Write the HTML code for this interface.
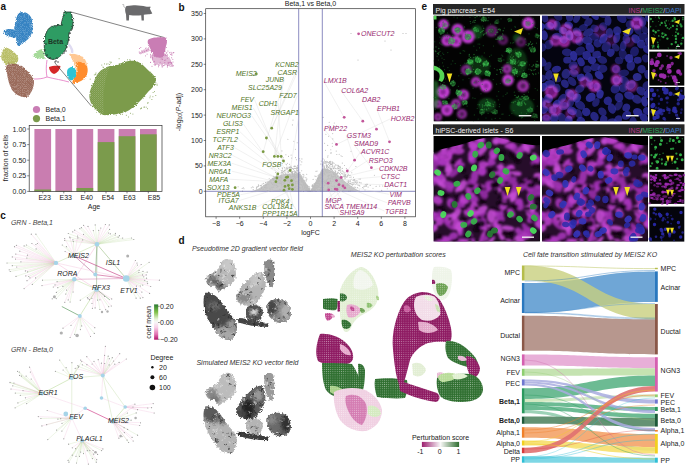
<!DOCTYPE html>
<html><head><meta charset="utf-8"><style>
html,body{margin:0;padding:0;background:#fff;}
svg{display:block;font-family:"Liberation Sans", sans-serif;}
</style></head><body>
<svg width="685" height="465" viewBox="0 0 685 465">
<text x="0.4" y="10.3" font-size="10" fill="#111" text-anchor="start" font-weight="bold" style="" >a</text>
<defs><filter id="rough" x="-10%" y="-10%" width="120%" height="120%"><feTurbulence type="fractalNoise" baseFrequency="0.9" numOctaves="2" seed="4" result="t"/><feDisplacementMap in="SourceGraphic" in2="t" scale="3" xChannelSelector="R" yChannelSelector="G"/></filter><pattern id="spk" width="2" height="2" patternUnits="userSpaceOnUse"><rect x="0" y="0" width="0.7" height="0.7" fill="#fff" opacity="0.35"/><rect x="1" y="1" width="0.6" height="0.6" fill="#fff" opacity="0.25"/></pattern></defs>
<g filter="url(#rough)">
<path d="M22,12 C27,12 31,15 32,20 C33,25 33,31 31,35 C29,39 26,41 23,43 C21,44 20,46 18.5,46.5 C17,45 16,41 15.5,38 C13,37.5 9,37 6,35 C4,34 3,32 4,30.5 C6,29 10,28.5 14,29.5 C14.5,26 15.5,20 17,16 C18.5,13.5 20,12 22,12 Z" fill="#2a7cbf" fill-opacity="0.95"/>
<path d="M5,47.5 C10,48 15,52 18,57 C19,61 17,64 13,65.5 C8,66 3,63 1.5,59 C0.5,55 2,50 5,47.5 Z" fill="#b3b95a" fill-opacity="0.92"/>
<path d="M7,64 C12,63 18,64 22,66 C27,70 32,75 34,81 C34,87 32,93 27,97 C22,98 16,95 12,90 C9,85 8,79 7,74 C6,70 6,67 7,64 Z" fill="#92604f" fill-opacity="0.92"/>
<path d="M32.5,56 C35,52 39,49.5 42,49 C44,52 45.5,56 44.5,59 C40,59.5 36,58 32.5,56 Z" fill="#96d488" fill-opacity="0.85"/>
<path d="M69,54 C74,53 80,55 84,58 C87,62 88.5,68 87,74 C85,79 79,82.5 72,83.5 C72,80 75,77 76,73 C77,67 73,61 69,54 Z" fill="#ff9a3c" fill-opacity="0.55"/>
<path d="M76,62 C80,61 85,63 87,67 C88.5,71 87,76 84,79 C80,82 76,83 72,83.5 C73,80 76,77 77,73 C78,69 77,65 76,62 Z" fill="#ff8620" fill-opacity="0.9"/>
<path d="M70,67.5 C73,66 76,68 76,72 C76,76 74,79.5 71,80.5 C68,79 67,75 67,72 C67,70 68,68 70,67.5 Z" fill="#22c0d2" fill-opacity="0.95"/>
<path d="M22,12 C27,12 31,15 32,20 C33,25 33,31 31,35 C29,39 26,41 23,43 C21,44 20,46 18.5,46.5 C17,45 16,41 15.5,38 C13,37.5 9,37 6,35 C4,34 3,32 4,30.5 C6,29 10,28.5 14,29.5 C14.5,26 15.5,20 17,16 C18.5,13.5 20,12 22,12 Z" fill="url(#spk)"/>
<path d="M5,47.5 C10,48 15,52 18,57 C19,61 17,64 13,65.5 C8,66 3,63 1.5,59 C0.5,55 2,50 5,47.5 Z" fill="url(#spk)"/>
<path d="M7,64 C12,63 18,64 22,66 C27,70 32,75 34,81 C34,87 32,93 27,97 C22,98 16,95 12,90 C9,85 8,79 7,74 C6,70 6,67 7,64 Z" fill="url(#spk)"/>
</g>
<path d="M49,67 C52,65.5 58,65.5 60.5,66 C60,70 57,73 54,74 C51,73 49,70 49,67 Z" fill="#d62728"/>
<path d="M47,60 C46,66 46,72 47,77 C42,79 38,79 34,79 M47,77 C55,79 62,80 69,82" stroke="#e377c2" stroke-width="1" fill="none" opacity="0.8"/>
<path d="M68.5,44 C71,47 73,50 72,53" stroke="#b8b0e0" stroke-width="2.5" fill="none" opacity="0.45"/>
<path d="M64,12 L71,12 C72.5,17 73.5,23 72.5,28 C71,30 69.5,31 69,33 C69,40 67.5,47 64,52 C61,56 57,59 53,59.5 C49,59 46,57 45,54 C44,48 44,42 45,37 C46,32 48,28 52,26.5 C55,25.5 58,25.5 61,25 C62,21 63,16 64,12 Z" fill="#2f9c64" stroke="#1d2e24" stroke-width="0.8" filter="url(#rough)"/>
<circle cx="45" cy="50" r="0.7" fill="#222"/>
<circle cx="47" cy="55" r="0.7" fill="#222"/>
<circle cx="50" cy="58" r="0.7" fill="#222"/>
<circle cx="64" cy="53" r="0.7" fill="#222"/>
<circle cx="67" cy="47" r="0.7" fill="#222"/>
<circle cx="69" cy="40" r="0.7" fill="#222"/>
<circle cx="70" cy="33" r="0.7" fill="#222"/>
<circle cx="72" cy="29" r="0.7" fill="#222"/>
<circle cx="62" cy="25" r="0.7" fill="#222"/>
<circle cx="56" cy="61" r="0.7" fill="#222"/>
<circle cx="58" cy="62" r="0.7" fill="#222"/>
<circle cx="46" cy="44" r="0.7" fill="#222"/>
<circle cx="66" cy="51" r="0.7" fill="#222"/>
<circle cx="55" cy="62" r="0.7" fill="#222"/>
<text x="55.5" y="43.5" font-size="7" fill="#1d3526" text-anchor="middle" font-weight="bold" style="" >Beta</text>
<line x1="71" y1="12" x2="164.5" y2="37.6" stroke="#333" stroke-width="0.6"/>
<line x1="55" y1="63" x2="91.3" y2="106" stroke="#333" stroke-width="0.6"/>
<path d="M126.8,6.1 C130,5.4 133,5.2 135.5,5.2 C139,5.3 143,5.8 145.5,6.5 C147,6.8 148.5,7 150.2,6.6 L150.6,7.2 L149.8,8.5 C150.5,10 151.5,12 152.3,13.6 C151,14.4 149.5,14.4 148.3,14.3 C146.5,14.5 145,14.6 143.8,14.8 L143.9,20.4 L141.6,20.4 L141.2,15.3 C138,15.7 133,15.7 129.2,14.9 L128.9,20.4 L126.4,20.4 L126,14.2 C125.2,12.5 125,10 125.2,8.5 C125.6,7.2 126,6.5 126.8,6.1 Z" fill="#6a6a6c"/>
<path d="M125.4,8.2 C124.2,7.2 123.4,6.2 123.8,5.2 C124.1,4.5 123.2,4.2 122.4,4.6" stroke="#8a8a8a" stroke-width="0.6" fill="none"/>
<g filter="url(#rough)">
<path d="M148,40 C151,37.5 158,37 166.5,37.5 C167.5,40 167,43.5 166,46 C165,50 165,54 164,57 C161,58 157,58 154,56 C152,52 150,48 148.5,45 C147.5,43 147.5,41.5 148,40 Z" fill="#c97db4"/>
<path d="M152,55 C157,56 163,55 167,54 C170,58 172,62 173.5,66 L171,67 C166,64 160,64 155,65 C152,62 151,58 152,55 Z" fill="#c97db4" fill-opacity="0.55"/>
<path d="M139.5,52 C142,50 146,48.5 149,48 L150,51 C147,52 143,53.5 140,54.5 Z" fill="#c97db4" fill-opacity="0.5"/>
</g>
<path d="M172.9 66.1h0M151.4 51.4h0M170.1 62.5h0M166.1 55.2h0M164.5 60.3h0M163.9 52.7h0M160.3 56.7h0M167.4 66.9h0M172.8 59.3h0M160.7 54.6h0M150.9 50.5h0M161.2 55.4h0M159.1 65.2h0M162.6 59.5h0M155.7 50.4h0M157.8 52.3h0M162.2 67.0h0M166.2 53.1h0M171.4 63.5h0M167.6 65.4h0M168.3 63.4h0M158.5 66.7h0M173.1 52.7h0M168.1 62.2h0M161.1 59.0h0M161.8 65.7h0M162.0 64.1h0M158.5 65.0h0M171.6 57.8h0M163.6 65.6h0M167.4 58.3h0M155.3 55.5h0M166.8 52.8h0M171.8 54.6h0M171.9 55.3h0M173.0 62.0h0M162.1 58.8h0M165.6 60.0h0M157.5 53.5h0M162.3 65.9h0M165.0 51.3h0M169.7 62.3h0M171.8 53.3h0M167.9 51.0h0M165.7 54.6h0M155.4 64.9h0M152.6 58.9h0M170.5 54.2h0M155.1 65.0h0M160.2 62.2h0M150.8 56.2h0M154.1 61.4h0M152.0 66.2h0M150.6 62.4h0M150.5 54.3h0M169.5 52.7h0M154.4 61.8h0M159.3 50.7h0M173.8 52.6h0M150.9 55.9h0M164.8 62.6h0M152.7 55.7h0M150.7 57.6h0M168.4 62.6h0M171.6 62.8h0M170.7 62.0h0M161.3 53.8h0M165.9 55.4h0M152.4 57.6h0M171.0 52.2h0" stroke="#c97db4" stroke-width="1.10" stroke-linecap="round" fill="none" />
<path d="M146.6 50.5h0M145.7 48.3h0M151.5 49.3h0M146.9 50.8h0M139.2 52.0h0M140.8 47.5h0M139.4 48.5h0M140.2 52.7h0M145.6 55.9h0M151.1 56.0h0M142.0 51.0h0M142.3 52.3h0M147.1 54.2h0M148.2 49.3h0M144.5 51.7h0" stroke="#c97db4" stroke-width="1.00" stroke-linecap="round" fill="none" />
<path d="M118,64.5 C124,61.5 130,60 136,61 C141,62.5 145,67 149,71 C153,74 156,77 156,81 C155,86 151,89 148,92 C144,97 140,101 136,105 C131,109 127,112 122,113 C116,114.5 109,115.5 103,115 C98,113 94,108 91,103 C89,99 89,95 90,91 C92,86 94,80 97,75 C100,70 105,67.5 110,66 C113,65.5 116,65 118,64.5 Z" fill="#7b9b4c" filter="url(#rough)"/>
<path d="M97,75 C100,70 105,67.5 110,66 C106,75 102,90 104,112 L103,115 C98,113 94,108 91,103 C89,99 89,95 90,91 C92,86 94,80 97,75 Z" fill="url(#spk)"/>
<path d="M109.7 112.9h0M151.9 99.5h0M152.9 96.7h0M96.3 98.0h0M92.7 99.4h0M128.5 117.0h0M95.3 74.2h0M155.8 95.5h0M141.2 108.4h0M135.1 62.9h0M103.0 67.1h0M149.9 97.8h0M109.6 64.5h0M95.8 74.7h0M132.2 63.4h0M94.3 74.9h0M119.1 58.7h0M146.2 107.2h0M141.4 108.0h0M106.4 64.1h0M144.8 68.2h0M96.0 73.0h0M141.7 65.3h0M108.0 63.9h0M101.8 65.1h0M116.3 115.3h0M154.4 91.6h0M144.6 107.1h0M143.9 107.2h0M143.3 68.7h0M90.2 79.2h0M143.1 68.0h0M101.2 110.9h0M140.5 108.8h0M126.3 115.3h0M120.7 114.5h0M100.9 109.6h0M111.3 62.3h0M110.0 61.9h0M129.4 59.9h0M98.5 103.6h0M103.6 69.6h0M130.6 113.3h0M150.2 96.1h0M148.0 102.5h0M146.0 70.2h0M122.6 114.3h0M147.5 108.7h0M91.8 93.3h0M147.8 103.4h0M137.2 66.5h0M153.7 80.4h0M95.1 80.7h0M157.0 84.2h0M120.8 113.1h0M127.4 59.8h0M108.5 113.2h0M157.1 85.3h0M137.0 64.8h0M92.1 85.3h0M153.1 92.5h0M110.7 63.0h0M155.4 76.6h0M103.1 107.2h0M132.9 114.1h0M150.7 72.2h0M103.6 67.7h0M104.6 63.9h0M123.0 62.7h0M130.5 60.2h0" stroke="#7b9b4c" stroke-width="0.90" stroke-linecap="round" fill="none" />
<circle cx="36.5" cy="109.5" r="3.6" fill="#c97db4"/>
<circle cx="36.5" cy="118.6" r="3.6" fill="#7b9b4c"/>
<text x="45.5" y="112.0" font-size="7" fill="#222" text-anchor="start" font-weight="normal" style="" >Beta,0</text>
<text x="45.5" y="121.2" font-size="7" fill="#222" text-anchor="start" font-weight="normal" style="" >Beta,1</text>
<rect x="34.4" y="129.0" width="16.7" height="62.4" fill="#c97db0"/>
<rect x="34.4" y="189.5" width="16.7" height="1.9" fill="#7b9b4c"/>
<rect x="55.4" y="129.0" width="16.7" height="62.4" fill="#c97db0"/>
<rect x="55.4" y="190.8" width="16.7" height="0.6" fill="#7b9b4c"/>
<rect x="76.5" y="129.0" width="16.7" height="62.4" fill="#c97db0"/>
<rect x="76.5" y="188.0" width="16.7" height="3.4" fill="#7b9b4c"/>
<rect x="97.7" y="129.0" width="16.7" height="62.4" fill="#c97db0"/>
<rect x="97.7" y="142.1" width="16.7" height="49.3" fill="#7b9b4c"/>
<rect x="118.7" y="129.0" width="16.7" height="62.4" fill="#c97db0"/>
<rect x="118.7" y="136.2" width="16.7" height="55.2" fill="#7b9b4c"/>
<rect x="140" y="129.0" width="16.7" height="62.4" fill="#c97db0"/>
<rect x="140" y="134.3" width="16.7" height="57.1" fill="#7b9b4c"/>
<rect x="29.2" y="125.6" width="132.8" height="65.80000000000001" fill="none" stroke="#333" stroke-width="0.7"/>
<line x1="27.2" y1="129.0" x2="29.2" y2="129.0" stroke="#333" stroke-width="0.6"/>
<text x="26.2" y="131.5" font-size="7" fill="#222" text-anchor="end" font-weight="normal" style="" >1.00</text>
<line x1="27.2" y1="144.6" x2="29.2" y2="144.6" stroke="#333" stroke-width="0.6"/>
<text x="26.2" y="147.1" font-size="7" fill="#222" text-anchor="end" font-weight="normal" style="" >0.75</text>
<line x1="27.2" y1="160.2" x2="29.2" y2="160.2" stroke="#333" stroke-width="0.6"/>
<text x="26.2" y="162.7" font-size="7" fill="#222" text-anchor="end" font-weight="normal" style="" >0.50</text>
<line x1="27.2" y1="175.8" x2="29.2" y2="175.8" stroke="#333" stroke-width="0.6"/>
<text x="26.2" y="178.3" font-size="7" fill="#222" text-anchor="end" font-weight="normal" style="" >0.25</text>
<line x1="27.2" y1="191.4" x2="29.2" y2="191.4" stroke="#333" stroke-width="0.6"/>
<text x="26.2" y="193.9" font-size="7" fill="#222" text-anchor="end" font-weight="normal" style="" >0.00</text>
<line x1="42.8" y1="191.4" x2="42.8" y2="193.4" stroke="#333" stroke-width="0.6"/>
<text x="44.7" y="200.4" font-size="7" fill="#222" text-anchor="middle" font-weight="normal" style="" >E23</text>
<line x1="63.8" y1="191.4" x2="63.8" y2="193.4" stroke="#333" stroke-width="0.6"/>
<text x="65.8" y="200.4" font-size="7" fill="#222" text-anchor="middle" font-weight="normal" style="" >E33</text>
<line x1="84.8" y1="191.4" x2="84.8" y2="193.4" stroke="#333" stroke-width="0.6"/>
<text x="86.8" y="200.4" font-size="7" fill="#222" text-anchor="middle" font-weight="normal" style="" >E40</text>
<line x1="106.0" y1="191.4" x2="106.0" y2="193.4" stroke="#333" stroke-width="0.6"/>
<text x="108.0" y="200.4" font-size="7" fill="#222" text-anchor="middle" font-weight="normal" style="" >E54</text>
<line x1="127.0" y1="191.4" x2="127.0" y2="193.4" stroke="#333" stroke-width="0.6"/>
<text x="129.5" y="200.4" font-size="7" fill="#222" text-anchor="middle" font-weight="normal" style="" >E63</text>
<line x1="148.3" y1="191.4" x2="148.3" y2="193.4" stroke="#333" stroke-width="0.6"/>
<text x="154.0" y="200.4" font-size="7" fill="#222" text-anchor="middle" font-weight="normal" style="" >E85</text>
<text x="94.0" y="209.0" font-size="7" fill="#222" text-anchor="middle" font-weight="normal" style="" >Age</text>
<text x="0" y="0" font-size="7" fill="#222" text-anchor="middle" transform="translate(8,158) rotate(-90)">fraction of cells</text>
<text x="178.4" y="10.6" font-size="10" fill="#111" text-anchor="start" font-weight="bold" style="" >b</text>
<path d="M250,191.3 C258,190 264,186 270,180 C276,176 282,174 290,173.5 C295,173.5 297,173 299,173 L299,191.3 Z" fill="#c6c6c6"/>
<path d="M299,173 C303,178 307,186 310.5,191.3 C314,186 318,176 322,169 L322,191.3 L299,191.3 Z" fill="#c6c6c6"/>
<path d="M322,169 C327,168 332,170 337,174 C343,180 350,186 360,191.3 L322,191.3 Z" fill="#c6c6c6"/>
<path d="M357.9 184.9h0M329.2 182.0h0M313.2 186.2h0M320.1 189.4h0M328.1 175.0h0M285.0 184.1h0M287.0 169.8h0M315.9 185.3h0M324.2 161.7h0M387.3 188.7h0M275.9 182.8h0M294.2 166.4h0M298.2 176.9h0M262.8 190.1h0M311.7 190.3h0M320.0 187.5h0M273.3 187.1h0M295.8 183.4h0M303.6 184.6h0M301.7 176.0h0M298.9 180.6h0M320.7 187.7h0M308.5 189.7h0M272.0 188.9h0M293.1 176.5h0M323.3 171.4h0M282.7 172.6h0M270.1 181.9h0M266.4 184.7h0M296.2 188.7h0M305.6 183.7h0M293.9 183.7h0M306.6 185.1h0M282.1 171.5h0M307.6 190.6h0M286.3 164.6h0M343.0 174.0h0M306.5 189.5h0M315.0 185.4h0M311.6 190.4h0M275.4 176.8h0M321.0 175.4h0M291.4 168.0h0M354.8 179.8h0M332.4 146.3h0M330.5 163.7h0M307.7 188.5h0M281.1 156.7h0M314.8 186.6h0M344.9 179.0h0M314.5 184.6h0M297.4 168.5h0M318.1 179.7h0M333.1 176.3h0M293.3 168.6h0M330.3 162.2h0M293.4 182.6h0M316.0 185.3h0M335.0 179.4h0M307.7 187.4h0M309.4 190.8h0M306.2 184.6h0M280.3 180.1h0M319.7 177.2h0M318.5 183.4h0M334.7 182.7h0M301.7 180.1h0M284.8 171.8h0M277.8 187.1h0M325.2 163.2h0M339.6 167.0h0M338.0 182.6h0M332.9 181.3h0M338.2 165.4h0M331.6 164.5h0M266.0 186.1h0M315.9 171.2h0M310.1 190.9h0M294.4 170.9h0M332.2 162.8h0M324.1 172.4h0M318.7 180.7h0M328.5 175.8h0M317.6 187.1h0M339.4 183.0h0M314.9 176.0h0M343.2 176.4h0M334.1 187.0h0M261.5 188.4h0M296.9 177.4h0M329.9 181.8h0M313.4 190.1h0M305.0 183.7h0M295.4 149.2h0M293.5 183.0h0M309.4 190.3h0M318.6 180.8h0M323.3 165.1h0M314.5 185.1h0M273.9 184.9h0M263.6 189.3h0M311.0 190.5h0M307.6 188.6h0M299.2 184.8h0M321.4 179.3h0M312.7 188.3h0M305.6 185.6h0M314.3 189.5h0M273.8 176.2h0M368.1 187.1h0M284.1 178.8h0M304.9 183.6h0M275.3 183.1h0M300.0 160.8h0M323.0 170.2h0M353.2 182.7h0M313.1 187.6h0M359.8 186.0h0M323.5 166.9h0M346.5 188.3h0M331.5 169.4h0M309.1 188.9h0M294.9 174.9h0M335.1 170.5h0M315.3 185.2h0M309.9 190.5h0M296.6 167.9h0M320.4 174.1h0M336.9 186.8h0M341.6 188.6h0M297.1 176.1h0M308.1 187.2h0M328.0 178.7h0M322.8 179.2h0M293.8 188.5h0M312.0 189.9h0M374.4 175.2h0M289.7 176.2h0M258.3 186.3h0M318.2 179.4h0M292.9 174.8h0M293.1 176.8h0M312.8 189.1h0M340.0 166.4h0M311.3 190.0h0M321.5 181.7h0M338.0 172.1h0M298.6 182.1h0M315.1 190.1h0M306.1 180.2h0M281.7 177.6h0M293.1 176.0h0M309.1 190.3h0M353.3 179.9h0M308.4 189.5h0M351.3 184.3h0M331.3 152.9h0M299.2 187.8h0M318.0 175.9h0M327.9 186.0h0M316.8 188.4h0M327.7 157.1h0M356.9 180.5h0M336.5 179.3h0M266.9 187.7h0M291.5 178.7h0M300.7 176.4h0M337.7 173.4h0M323.9 189.2h0M322.9 171.7h0M313.2 188.1h0M302.8 188.9h0M337.9 184.5h0M326.6 180.0h0M348.3 182.1h0M315.6 184.3h0M316.9 180.6h0M345.1 175.8h0M334.1 163.3h0M351.1 179.2h0M299.4 175.3h0M304.5 188.2h0M295.0 187.8h0M253.2 187.3h0M287.5 174.5h0M301.0 187.7h0M307.2 187.3h0M275.0 185.0h0M321.2 174.8h0M284.3 170.4h0M256.7 187.7h0M294.0 166.6h0M283.9 182.2h0M315.2 185.7h0M300.2 178.4h0M276.6 183.8h0M342.3 168.4h0M313.7 189.8h0M291.7 158.1h0M349.6 188.0h0M339.1 168.3h0M318.7 183.4h0M303.4 183.1h0M296.9 169.4h0M293.5 176.2h0M301.7 170.7h0M351.8 172.7h0M319.2 185.6h0M379.7 186.1h0M315.1 187.9h0M316.6 185.7h0M291.1 183.0h0M283.4 173.7h0M320.3 187.5h0M314.2 187.9h0M324.1 185.8h0M294.2 187.2h0M294.4 175.3h0M320.1 183.4h0M290.5 177.9h0M318.6 175.0h0M278.6 168.6h0M320.5 178.6h0M351.1 177.0h0M298.1 172.0h0M310.5 191.3h0M280.9 182.0h0M321.2 176.5h0M326.6 184.3h0M291.4 167.4h0M326.8 163.0h0M317.0 171.1h0M297.2 174.5h0M300.5 178.9h0M257.6 186.7h0M314.8 185.1h0M311.9 190.5h0M306.7 187.8h0M293.1 174.0h0M312.7 190.9h0M281.1 179.3h0M318.2 180.8h0M382.7 186.0h0M304.0 184.9h0M337.5 176.4h0M306.1 190.3h0M313.9 186.3h0M340.6 184.4h0M316.3 183.2h0M306.1 187.9h0M265.6 182.5h0M331.1 174.9h0M309.9 188.8h0M281.5 177.9h0M309.8 189.8h0M329.4 175.4h0M315.9 182.4h0M312.1 188.6h0M315.6 182.8h0M292.4 168.6h0M332.2 161.7h0M351.2 186.5h0M282.2 181.9h0M332.8 138.9h0M319.1 186.0h0M313.6 189.5h0M290.2 178.6h0M344.6 176.8h0M280.7 183.2h0M295.7 166.3h0M317.2 182.9h0M309.2 188.3h0M311.0 190.8h0M328.6 136.2h0M349.1 180.8h0M344.7 175.9h0M316.1 185.1h0M337.0 174.1h0M308.0 188.2h0M297.3 170.6h0M312.8 189.9h0M336.4 188.6h0M351.4 186.7h0M290.4 175.7h0M307.2 190.4h0M350.5 180.9h0M298.8 189.0h0M325.9 172.1h0M345.8 185.5h0M288.6 172.1h0M331.9 176.6h0M319.1 189.6h0M323.0 174.5h0M309.4 190.6h0M295.7 176.5h0M322.3 174.0h0M309.9 190.9h0M338.9 178.6h0M315.4 186.7h0M306.4 187.8h0M349.9 181.7h0M335.7 177.0h0M302.3 181.7h0M298.8 184.2h0M243.4 187.7h0M287.4 163.3h0M309.8 190.9h0M306.2 184.1h0M302.2 177.1h0M320.4 177.2h0M300.8 188.3h0M290.6 170.1h0M297.5 188.7h0M320.7 189.7h0M298.8 175.0h0M313.8 185.2h0M305.2 186.4h0M288.3 180.8h0M305.7 185.1h0M311.8 189.1h0M324.2 168.4h0M318.1 179.0h0M330.5 164.8h0M297.8 176.2h0M289.7 184.1h0M295.9 186.5h0M293.2 171.3h0M334.6 189.3h0M289.4 188.0h0M319.3 182.1h0M290.0 167.9h0M307.5 187.2h0M352.3 184.2h0M347.4 175.9h0M330.2 179.0h0M322.8 176.4h0M293.0 180.0h0M330.6 183.3h0M303.5 191.2h0M295.7 182.0h0M340.5 174.9h0M319.8 183.6h0M324.3 168.3h0M343.3 172.0h0M339.3 178.6h0M312.2 189.4h0M304.1 183.4h0M298.0 186.3h0M273.7 182.8h0M322.1 164.1h0M316.9 182.2h0M331.9 177.7h0M333.7 171.7h0M345.7 176.9h0M325.9 168.5h0M295.1 190.0h0M322.3 169.1h0M312.7 189.2h0M344.3 184.1h0M321.2 161.1h0M285.7 179.5h0M317.3 180.6h0M282.3 170.3h0M336.2 173.2h0M305.7 183.1h0M320.0 187.4h0M299.1 176.6h0M305.5 185.9h0M302.7 178.5h0M307.9 189.9h0M323.8 173.5h0M353.5 177.2h0M323.4 163.2h0M323.1 174.7h0M312.8 189.9h0M305.8 184.5h0M325.9 134.2h0M311.5 189.8h0M296.7 170.5h0M270.8 179.7h0M310.7 191.3h0M261.3 187.6h0M318.5 180.9h0M290.7 167.5h0M291.8 182.7h0M342.3 173.7h0M297.5 165.2h0M294.2 179.7h0M323.5 178.0h0M266.1 182.2h0M314.9 185.2h0M288.0 172.5h0M301.9 158.9h0M291.2 172.5h0M344.1 175.8h0M339.2 185.7h0M342.3 178.8h0M300.9 179.3h0M341.4 177.7h0M316.8 180.6h0M347.2 183.0h0M312.1 189.8h0M284.5 183.0h0M312.1 188.5h0M381.7 190.4h0M315.7 187.8h0M354.2 187.1h0M320.7 188.4h0M327.2 165.4h0M311.5 190.2h0M322.9 181.8h0M328.0 155.8h0M292.4 124.9h0M285.3 174.5h0M321.4 174.0h0M279.0 177.8h0M315.3 189.3h0M323.8 172.3h0M319.8 174.8h0M322.1 181.2h0M291.3 177.2h0M285.3 177.8h0M330.4 180.4h0M281.7 172.4h0M321.5 172.6h0M332.6 170.6h0M294.6 176.9h0M301.6 179.0h0M300.4 174.6h0M304.2 186.0h0M334.2 185.6h0M295.3 178.8h0M320.5 174.8h0M292.5 172.6h0M291.4 171.9h0M314.8 183.8h0M295.1 171.4h0M281.9 179.1h0M324.0 181.4h0M244.0 188.8h0M294.3 172.9h0M282.4 172.9h0M328.9 189.6h0M327.7 145.4h0M321.1 175.2h0M312.8 190.4h0M287.7 180.9h0M296.3 172.4h0M333.7 125.6h0M301.6 175.8h0M276.4 175.3h0M281.5 185.7h0M313.5 187.1h0M297.8 167.3h0M332.8 186.3h0M303.9 180.1h0M337.0 165.2h0M349.0 175.4h0M309.3 190.3h0M327.8 176.5h0M351.1 189.1h0M323.6 175.8h0M297.0 176.3h0M324.5 160.1h0M340.5 167.5h0M311.8 190.1h0M327.0 172.7h0M320.9 187.9h0M303.8 180.6h0M287.9 139.2h0M319.7 177.0h0M327.8 187.2h0M290.4 167.2h0M290.4 167.0h0M347.1 181.1h0M311.8 186.1h0M310.3 191.1h0M288.7 180.1h0M278.8 177.4h0M282.2 186.5h0M357.6 187.6h0M329.2 122.3h0M333.9 176.6h0M315.2 186.2h0M308.6 188.6h0M320.9 185.2h0M292.9 175.0h0M334.8 166.0h0M373.0 188.3h0M302.8 185.9h0M310.9 190.7h0M318.7 183.2h0M359.1 185.4h0M303.0 174.4h0M344.4 177.0h0M302.9 187.7h0M314.0 186.1h0M301.0 180.3h0M307.7 186.7h0M340.0 179.0h0M321.7 175.3h0M267.7 190.6h0M305.9 189.3h0M294.0 180.7h0M319.8 176.4h0M319.9 180.3h0M337.5 168.8h0M268.0 181.5h0M313.1 189.0h0M335.0 173.7h0M304.4 189.0h0M365.0 190.0h0M300.1 172.9h0M315.0 190.2h0M281.8 170.6h0M315.9 183.2h0M296.4 175.3h0M312.9 189.9h0M301.5 181.6h0M311.3 189.8h0M294.8 166.2h0M361.1 182.9h0M280.6 176.0h0M312.4 184.9h0M321.2 174.0h0M308.3 191.0h0M339.8 170.6h0M306.8 190.3h0M322.0 181.8h0M290.6 170.1h0M330.5 168.4h0M307.2 185.9h0M309.9 190.5h0M284.9 174.2h0M311.9 190.5h0M264.6 187.4h0M317.5 189.2h0M283.4 183.7h0M325.0 163.3h0M295.2 185.0h0M331.3 176.1h0M344.2 174.0h0M336.8 154.5h0M308.2 190.0h0M329.1 125.3h0M319.1 180.6h0M318.6 183.0h0M256.4 188.9h0M302.3 189.5h0M291.5 185.4h0M345.1 178.2h0M294.8 177.4h0M334.1 183.3h0M322.7 178.9h0M340.0 169.1h0M302.9 178.2h0M308.7 190.9h0M287.9 171.4h0M302.9 183.0h0M349.9 183.6h0M308.4 189.5h0M341.6 180.7h0M330.8 171.8h0M299.2 172.3h0M338.4 184.0h0M347.5 183.6h0M313.3 189.9h0M281.0 187.4h0M286.0 168.9h0M300.9 191.1h0M282.2 167.9h0M324.7 169.4h0M301.7 177.8h0M313.8 186.2h0M334.1 172.2h0M311.1 190.7h0M331.0 181.7h0M310.9 190.7h0M326.4 167.5h0M347.3 185.8h0M308.6 191.1h0M260.2 185.5h0M339.9 187.6h0M297.2 166.8h0M297.0 170.8h0M342.3 185.9h0M284.6 172.0h0M338.8 166.5h0M326.2 189.2h0M324.4 180.7h0M319.7 184.0h0M285.1 174.2h0M335.4 164.9h0M355.4 182.5h0M319.6 181.0h0M294.8 168.3h0M311.1 191.0h0M293.5 178.4h0M256.6 187.0h0M301.3 185.3h0M327.7 168.0h0M327.1 169.1h0M310.7 190.9h0M282.5 168.7h0M315.6 184.1h0M345.9 176.7h0M320.2 181.0h0M314.9 189.8h0M321.3 180.7h0M315.0 187.1h0M315.7 183.3h0M315.1 190.5h0M354.3 179.6h0M344.7 182.0h0M305.2 182.8h0M295.6 178.0h0M301.5 182.1h0M276.5 181.8h0M326.7 166.0h0M320.6 174.8h0M261.3 185.3h0M347.2 176.2h0M341.6 173.5h0M320.7 184.9h0M330.8 149.8h0M313.1 189.5h0M253.2 189.6h0M268.0 184.3h0M333.7 168.4h0M329.4 170.6h0M336.6 125.8h0M299.9 176.3h0M285.4 177.0h0M321.8 172.8h0M302.4 187.6h0M332.5 172.3h0M330.5 153.0h0M316.5 183.0h0M307.4 185.3h0M331.4 183.4h0M326.0 180.9h0M317.4 181.4h0M312.3 188.5h0M305.5 184.3h0M299.1 179.3h0M299.6 174.5h0M326.4 180.7h0M309.2 189.0h0M272.3 178.9h0M292.9 178.8h0M276.8 185.4h0M279.9 156.6h0M295.3 172.5h0M286.9 167.4h0M320.1 190.2h0M306.5 188.4h0M321.6 183.0h0M287.9 179.2h0M310.2 191.1h0M306.5 189.7h0M329.8 163.5h0M311.9 189.4h0M329.6 172.5h0M322.1 178.0h0M311.3 189.9h0M315.2 187.8h0M328.0 167.8h0M339.7 178.1h0M360.4 179.0h0M313.2 188.1h0M293.0 120.1h0M289.9 184.6h0M332.6 163.0h0M329.0 170.3h0M263.6 185.2h0M299.7 178.7h0M313.4 189.5h0M307.4 190.4h0M282.8 186.9h0M303.0 179.7h0M316.0 179.8h0M308.4 190.3h0M318.0 179.5h0M326.2 169.8h0M290.2 169.1h0M319.0 186.6h0M311.6 189.4h0M292.4 183.4h0M291.0 166.1h0M339.3 178.3h0M334.8 176.7h0M301.1 189.9h0M304.4 183.7h0M299.4 179.1h0M325.7 181.9h0M303.9 177.1h0M327.9 166.6h0M336.4 187.8h0M307.3 190.8h0M305.2 187.0h0M315.9 189.2h0M307.4 190.1h0M317.2 183.6h0M298.6 175.0h0M304.2 183.3h0M309.5 191.2h0M332.3 143.3h0M328.1 176.1h0M328.2 178.4h0M315.2 184.8h0M276.1 154.2h0M337.8 167.2h0M356.8 183.5h0M322.8 165.5h0M324.6 143.3h0M292.6 172.7h0M299.1 179.7h0M319.6 184.9h0M326.6 181.5h0M270.0 191.2h0M299.6 158.8h0M242.2 188.4h0M332.0 178.0h0M301.2 177.9h0M333.1 162.7h0M342.5 180.1h0M307.0 186.5h0M281.5 183.9h0M321.9 173.0h0M284.7 167.6h0M306.2 181.0h0M317.4 178.4h0M331.8 170.9h0M329.5 161.5h0M327.4 190.0h0M291.8 173.3h0M321.6 177.3h0M314.8 184.8h0M350.9 183.2h0M312.0 189.9h0M303.6 176.9h0M310.5 191.3h0M312.6 189.7h0M334.7 166.2h0M318.7 177.9h0M301.5 179.2h0M304.8 181.6h0M306.1 184.2h0M357.8 182.0h0M301.5 180.0h0M297.2 142.7h0M318.1 181.6h0M343.3 188.9h0M287.8 175.2h0M310.7 191.1h0M338.9 170.0h0M298.6 174.7h0M276.4 176.9h0M324.7 182.5h0M326.7 184.1h0M339.6 173.5h0M335.6 176.3h0M292.4 172.3h0M299.1 173.2h0M322.8 169.9h0M292.1 186.2h0M317.6 185.2h0M331.2 186.0h0M317.4 185.3h0M265.1 187.6h0M309.8 190.4h0M305.0 187.8h0M313.6 188.1h0M308.1 190.9h0M289.6 167.4h0M314.2 189.8h0M301.0 188.1h0M306.9 185.0h0M346.9 177.3h0M320.7 177.6h0M333.6 168.3h0M324.5 166.1h0M306.2 189.2h0M305.0 185.8h0M317.7 185.4h0M348.8 191.1h0M304.2 186.8h0M316.2 183.7h0M317.7 186.3h0M286.6 185.3h0M312.0 188.6h0M309.6 190.9h0M326.9 165.0h0M276.6 187.5h0M270.7 179.7h0M281.6 176.0h0M333.4 174.1h0M320.0 178.2h0M299.0 189.0h0M305.4 189.8h0M313.4 189.0h0M305.8 189.2h0M320.8 182.3h0M301.0 177.9h0M303.2 180.5h0M292.4 176.6h0M315.2 184.0h0M327.3 161.8h0M295.5 157.6h0M309.7 190.0h0M274.5 177.2h0M283.6 179.2h0M314.2 188.9h0M302.7 185.9h0M288.8 174.5h0M304.0 182.5h0M323.3 187.6h0M298.1 181.3h0M295.1 176.9h0M295.9 186.2h0M331.1 166.7h0M311.4 189.9h0M322.0 178.1h0M332.7 165.6h0M310.1 190.8h0M279.5 180.0h0M325.2 183.6h0M335.3 168.5h0M326.5 167.0h0M311.2 190.1h0M359.1 179.1h0M291.0 186.0h0M327.8 179.0h0M293.4 179.4h0M338.2 166.1h0M322.5 165.9h0M279.3 178.0h0M318.6 183.9h0M305.3 190.3h0M267.8 182.7h0M263.7 183.4h0M345.6 174.9h0M314.2 186.4h0M337.6 184.3h0M302.1 176.8h0M366.8 184.6h0M343.0 171.5h0M294.1 187.7h0M364.3 186.6h0M353.0 180.5h0M354.3 180.9h0M330.4 181.3h0M320.8 190.9h0M307.3 189.3h0M293.8 141.3h0M357.1 182.2h0M305.9 177.6h0M317.8 181.5h0M350.2 175.3h0M300.2 178.3h0M326.7 190.6h0M324.3 161.9h0M320.1 181.3h0M242.5 191.1h0M288.1 181.3h0M309.4 190.5h0M291.3 169.4h0M324.1 181.8h0M291.6 167.6h0M312.2 189.4h0M329.6 178.7h0M318.8 179.8h0M310.9 191.1h0M318.0 177.9h0M281.9 150.9h0M323.3 179.6h0M280.3 183.6h0M296.3 173.6h0M367.4 184.5h0M272.0 168.1h0M266.1 189.1h0M342.4 191.1h0M279.1 179.8h0M283.4 157.8h0M315.4 184.4h0M300.5 176.4h0M292.7 180.6h0M307.6 187.0h0M252.8 186.9h0M311.0 191.2h0M286.7 168.0h0M290.2 182.0h0M329.3 162.0h0M320.9 178.8h0M315.6 184.2h0M315.6 183.3h0M277.9 174.7h0M359.2 190.0h0M327.6 188.0h0M302.8 188.9h0M282.2 160.3h0M297.9 177.4h0M303.1 184.5h0M295.4 174.5h0M343.2 183.5h0M321.6 183.2h0M302.5 186.6h0M332.3 164.2h0M327.9 162.2h0M278.9 180.6h0M321.4 173.6h0M312.1 189.2h0M322.9 183.8h0M296.0 168.4h0M359.8 182.6h0M314.1 189.1h0M308.2 187.3h0M285.2 170.3h0M348.1 184.1h0M276.3 178.9h0M328.2 186.8h0M287.4 178.0h0M325.5 150.3h0M330.2 161.9h0M303.9 175.1h0M316.7 181.2h0M303.4 182.6h0M352.8 189.6h0M280.5 177.6h0M265.9 185.2h0M314.6 190.3h0M325.1 174.8h0M273.3 179.9h0M343.1 181.9h0M287.5 168.7h0M335.2 171.9h0M314.6 190.5h0M300.3 187.7h0M310.0 190.8h0M328.4 164.5h0M339.2 173.8h0M298.1 174.8h0M334.0 174.4h0M283.5 171.6h0M332.9 168.9h0M328.0 171.5h0M328.1 170.7h0M316.6 188.0h0M308.0 189.8h0M292.6 175.0h0M335.9 174.6h0M292.0 176.3h0M307.4 185.9h0M340.1 170.6h0M277.2 177.7h0M325.5 161.6h0M326.5 180.0h0M325.8 169.9h0M309.0 189.3h0M341.0 155.7h0M363.9 186.3h0M336.5 177.9h0M326.1 182.6h0M342.3 187.1h0M262.0 187.1h0M317.4 187.8h0M303.0 182.6h0M318.6 179.1h0M281.4 183.0h0M319.0 189.5h0M313.6 189.3h0M297.7 174.0h0M349.9 177.2h0M317.1 183.5h0M304.9 183.7h0M333.9 179.9h0M286.6 176.0h0M327.6 162.0h0M306.5 190.4h0M310.2 191.3h0M313.0 189.9h0M306.8 187.3h0M328.8 162.9h0M286.8 179.2h0M287.6 183.3h0M322.3 179.6h0M309.7 190.4h0M296.1 171.9h0M330.7 161.3h0M311.1 190.7h0M301.3 180.6h0M308.5 188.3h0M279.3 177.8h0M376.1 186.4h0M310.9 191.0h0M271.5 182.9h0M348.2 174.2h0M327.3 172.8h0M283.0 174.5h0M353.0 184.5h0M336.2 151.1h0M309.4 190.3h0M341.4 178.2h0M324.8 185.1h0M294.3 176.0h0M258.4 184.9h0M262.2 184.0h0M302.9 180.4h0M309.6 190.7h0M318.8 185.9h0M332.3 179.1h0M327.1 170.2h0M340.2 178.0h0M323.1 164.5h0M315.3 185.7h0M276.5 178.9h0M339.7 177.4h0M301.1 178.4h0M301.0 181.9h0M333.0 166.9h0M334.6 175.0h0M306.2 184.5h0M331.7 190.1h0M313.1 179.4h0M315.1 190.8h0M292.9 180.3h0M329.5 182.2h0M272.5 184.5h0M318.6 187.6h0M278.3 179.0h0M356.6 182.1h0M336.0 182.9h0M355.9 166.5h0M343.2 184.0h0M327.8 179.6h0M333.0 177.1h0M310.3 191.3h0M321.8 180.7h0M320.5 174.7h0M325.9 180.1h0M326.3 183.1h0M277.8 183.1h0M302.5 179.1h0M316.3 185.6h0M322.4 164.2h0M269.2 178.7h0M308.5 186.2h0M312.4 188.3h0M302.3 180.8h0M324.7 174.3h0M290.5 181.8h0M316.0 176.4h0M344.9 174.1h0M309.5 190.5h0M306.6 186.9h0M307.1 190.1h0M293.9 180.3h0M330.6 172.1h0M300.9 164.7h0M330.6 169.4h0M338.6 170.4h0M310.5 191.3h0M307.7 186.2h0M316.4 186.9h0M316.1 191.2h0M332.2 164.2h0M343.4 186.8h0M318.8 183.4h0M301.9 182.0h0M323.2 187.5h0M323.3 162.1h0M332.5 166.7h0M280.7 189.8h0M287.6 175.0h0M344.9 187.8h0M312.0 189.4h0M322.5 182.0h0M317.9 189.9h0M318.7 177.1h0M322.0 179.4h0M305.2 190.3h0M323.0 180.2h0M261.1 186.1h0M324.4 167.2h0M306.3 179.1h0M273.5 179.3h0M329.5 165.2h0M300.8 175.8h0M273.3 178.9h0M289.5 164.3h0M304.7 188.4h0M312.1 188.4h0M334.8 186.2h0M326.2 164.8h0M335.2 175.2h0M314.1 186.8h0M273.9 177.0h0M338.4 165.8h0M311.3 190.2h0M296.9 181.2h0M329.2 187.3h0M316.8 181.3h0M305.6 187.6h0M286.0 190.1h0M280.4 177.4h0M305.0 184.8h0M308.3 189.0h0M323.4 169.0h0M312.4 190.2h0M347.5 175.6h0M350.1 183.4h0M314.0 189.8h0M297.6 168.0h0M328.5 177.0h0M275.6 172.5h0M281.3 174.1h0M332.7 133.6h0M298.2 170.1h0M297.6 168.1h0M258.6 186.0h0M329.8 181.2h0M288.9 180.8h0M309.8 191.1h0M299.2 177.3h0M303.2 181.3h0M320.5 164.0h0M282.1 184.5h0M297.6 172.0h0M325.6 170.7h0M314.2 190.5h0M301.8 161.9h0M294.0 166.3h0M315.9 185.0h0M297.5 182.8h0M276.5 176.3h0M316.5 187.7h0M334.0 172.2h0M289.6 182.1h0M270.0 188.3h0M350.2 190.9h0M307.5 187.7h0M318.3 186.3h0M350.8 183.8h0M310.6 191.2h0M299.7 187.1h0M289.8 175.8h0M340.8 172.5h0M330.1 162.8h0M336.9 165.1h0M301.9 181.9h0M311.4 190.7h0M309.4 189.8h0M288.1 186.7h0M366.6 185.9h0M355.9 184.6h0M313.5 186.6h0M306.7 185.4h0M294.7 175.9h0M351.0 151.2h0M285.9 174.5h0M293.6 169.5h0M264.8 185.1h0M313.3 190.3h0M292.5 173.9h0M281.3 157.1h0M328.2 176.4h0M355.5 181.1h0M303.8 184.0h0M282.6 163.5h0M326.3 165.7h0M324.7 170.8h0M305.7 189.7h0M303.7 189.3h0M322.4 170.3h0M294.6 168.5h0M324.7 163.3h0M301.7 180.9h0M314.1 183.2h0M307.3 190.5h0M337.5 185.3h0M300.8 184.1h0M312.4 188.8h0M301.5 178.3h0M298.1 183.6h0M348.5 180.9h0M294.9 177.7h0M294.1 180.5h0M305.6 182.9h0M292.6 171.5h0M271.9 187.3h0M331.9 163.2h0M273.8 178.4h0M299.7 182.6h0M321.5 187.1h0M308.8 188.9h0M238.1 186.7h0M311.5 190.1h0M317.5 178.8h0M279.8 189.3h0M313.5 186.8h0M362.6 187.5h0M318.1 183.1h0M321.9 173.1h0M291.2 171.4h0M269.9 181.2h0M318.6 180.5h0M325.8 171.3h0M294.9 166.0h0M354.2 182.7h0M334.3 123.0h0M334.9 168.7h0M279.3 182.9h0M318.4 181.8h0M307.7 191.0h0M315.1 186.7h0M290.9 171.0h0M340.8 169.0h0M301.2 184.3h0M359.7 182.4h0M313.2 184.7h0M348.6 182.5h0M280.9 178.3h0M326.3 172.7h0M328.3 172.7h0M304.2 187.3h0M306.3 187.8h0M309.9 190.6h0M300.5 177.0h0M326.2 171.2h0M322.3 189.2h0M312.6 188.6h0M295.3 187.2h0M314.5 184.8h0M280.8 181.1h0M330.5 168.6h0M286.0 174.1h0M311.2 190.6h0M310.9 190.8h0M286.0 181.3h0M342.3 163.1h0M323.3 162.0h0M323.3 173.7h0M307.6 189.5h0M292.1 185.6h0M317.0 181.9h0M343.2 190.0h0M302.0 184.1h0M303.0 185.2h0M320.9 185.3h0M304.2 188.4h0M349.1 183.7h0M330.0 163.2h0M318.5 183.5h0M344.5 165.5h0M317.1 180.2h0M285.6 173.0h0M288.5 156.4h0M301.3 185.7h0M339.5 185.8h0M270.7 181.1h0M329.7 166.8h0M330.3 168.3h0M313.5 187.0h0M305.9 184.0h0M292.0 172.9h0M337.7 182.2h0M335.8 172.9h0M286.5 178.4h0M331.6 188.5h0M265.9 184.1h0M291.0 187.5h0M323.0 158.9h0M308.5 191.1h0M306.0 184.2h0M309.5 189.8h0M289.4 176.5h0M342.8 179.4h0M322.2 175.4h0M303.1 184.5h0M365.1 185.1h0M365.8 186.5h0M311.2 190.4h0M341.0 171.1h0M295.8 181.5h0M365.6 184.7h0M328.4 184.1h0M290.6 176.1h0M324.9 182.8h0M333.4 173.5h0M312.8 185.9h0M288.8 170.7h0M322.9 170.5h0M308.7 189.6h0M295.8 168.5h0M335.3 178.5h0M314.0 187.0h0M284.9 176.1h0M337.6 172.7h0M335.7 171.5h0M277.8 186.3h0M370.2 185.4h0M331.6 175.1h0M331.5 168.5h0M354.0 184.1h0M344.9 172.2h0M273.5 180.2h0M292.4 172.3h0M309.4 190.6h0M331.5 169.3h0M286.2 178.2h0M309.5 186.9h0M260.0 189.7h0M297.3 175.3h0M338.2 172.5h0M322.0 179.2h0M270.1 189.3h0M315.9 187.2h0M367.0 184.0h0M296.4 159.8h0M294.6 173.9h0M337.8 187.3h0M289.1 167.1h0M326.7 161.3h0M307.5 189.2h0M324.6 173.6h0M297.6 175.7h0M312.0 190.4h0M285.9 181.0h0M299.7 182.9h0M353.7 188.1h0M275.5 177.2h0M301.0 181.4h0M285.9 154.8h0M319.5 177.2h0M311.9 189.3h0M287.4 168.6h0M314.1 190.6h0M271.8 183.3h0M345.1 176.0h0M295.2 182.0h0M272.4 178.2h0M309.5 188.9h0M285.7 179.3h0M293.9 189.2h0M311.9 189.0h0M289.6 174.2h0M327.9 169.3h0M355.5 187.2h0M330.5 178.1h0M312.4 185.7h0M314.5 186.3h0M312.2 189.4h0M336.3 168.8h0M326.3 166.1h0M291.1 155.1h0M251.3 187.7h0M352.3 185.7h0M315.1 186.0h0M336.1 177.6h0M299.9 180.6h0M307.0 179.0h0M306.5 188.5h0M307.4 185.5h0M329.3 168.0h0M327.6 179.0h0M331.0 164.6h0M352.1 182.6h0M329.2 175.1h0M334.7 167.3h0M323.7 169.3h0M274.7 178.1h0M312.5 186.8h0M346.4 168.5h0M339.2 154.3h0M293.0 190.1h0M288.9 167.9h0M363.4 188.0h0M311.3 190.0h0M326.0 162.6h0M295.2 172.5h0M338.4 168.4h0M342.1 156.5h0M304.5 180.9h0M315.6 189.1h0M326.0 183.2h0M313.1 187.5h0M292.4 172.2h0M316.4 186.9h0M295.4 189.8h0M306.7 174.2h0M300.3 184.5h0M292.0 188.1h0M327.6 166.0h0M311.2 190.8h0M310.8 190.9h0M334.1 172.7h0M323.1 117.4h0M328.5 167.4h0M342.6 170.8h0M319.6 178.7h0" stroke="#bcbcbc" stroke-width="1.10" stroke-linecap="round" fill="none" />
<circle cx="351" cy="33.5" r="0.6" fill="#b8b8b8"/>
<circle cx="394" cy="33.5" r="0.6" fill="#b8b8b8"/>
<circle cx="403" cy="33.5" r="0.6" fill="#b8b8b8"/>
<circle cx="406" cy="33.5" r="0.6" fill="#b8b8b8"/>
<circle cx="385" cy="41" r="0.6" fill="#b8b8b8"/>
<circle cx="391" cy="50" r="0.6" fill="#b8b8b8"/>
<circle cx="358" cy="60" r="0.6" fill="#b8b8b8"/>
<line x1="298.7" y1="8.7" x2="298.7" y2="216.8" stroke="#5a5aa6" stroke-width="0.7"/>
<line x1="322.3" y1="8.7" x2="322.3" y2="216.8" stroke="#5a5aa6" stroke-width="0.7"/>
<line x1="205.7" y1="191.3" x2="415.4" y2="191.3" stroke="#5a5aa6" stroke-width="0.7"/>
<rect x="205.7" y="8.7" width="209.7" height="208.10000000000002" fill="none" stroke="#333" stroke-width="0.7"/>
<line x1="203.7" y1="191.3" x2="205.7" y2="191.3" stroke="#333" stroke-width="0.6"/>
<text x="202.7" y="193.8" font-size="7" fill="#222" text-anchor="end" font-weight="normal" style="" >0</text>
<line x1="203.7" y1="165.9" x2="205.7" y2="165.9" stroke="#333" stroke-width="0.6"/>
<text x="202.7" y="168.4" font-size="7" fill="#222" text-anchor="end" font-weight="normal" style="" >50</text>
<line x1="203.7" y1="140.5" x2="205.7" y2="140.5" stroke="#333" stroke-width="0.6"/>
<text x="202.7" y="143.0" font-size="7" fill="#222" text-anchor="end" font-weight="normal" style="" >100</text>
<line x1="203.7" y1="115.1" x2="205.7" y2="115.1" stroke="#333" stroke-width="0.6"/>
<text x="202.7" y="117.6" font-size="7" fill="#222" text-anchor="end" font-weight="normal" style="" >150</text>
<line x1="203.7" y1="89.7" x2="205.7" y2="89.7" stroke="#333" stroke-width="0.6"/>
<text x="202.7" y="92.2" font-size="7" fill="#222" text-anchor="end" font-weight="normal" style="" >200</text>
<line x1="203.7" y1="64.3" x2="205.7" y2="64.3" stroke="#333" stroke-width="0.6"/>
<text x="202.7" y="66.8" font-size="7" fill="#222" text-anchor="end" font-weight="normal" style="" >250</text>
<line x1="203.7" y1="38.9" x2="205.7" y2="38.9" stroke="#333" stroke-width="0.6"/>
<text x="202.7" y="41.4" font-size="7" fill="#222" text-anchor="end" font-weight="normal" style="" >300</text>
<line x1="203.7" y1="13.5" x2="205.7" y2="13.5" stroke="#333" stroke-width="0.6"/>
<text x="202.7" y="16.0" font-size="7" fill="#222" text-anchor="end" font-weight="normal" style="" >350</text>
<line x1="216.1" y1="216.8" x2="216.1" y2="218.8" stroke="#333" stroke-width="0.6"/>
<text x="216.1" y="225.8" font-size="7" fill="#222" text-anchor="middle" font-weight="normal" style="" >−8</text>
<line x1="239.7" y1="216.8" x2="239.7" y2="218.8" stroke="#333" stroke-width="0.6"/>
<text x="239.7" y="225.8" font-size="7" fill="#222" text-anchor="middle" font-weight="normal" style="" >−6</text>
<line x1="263.3" y1="216.8" x2="263.3" y2="218.8" stroke="#333" stroke-width="0.6"/>
<text x="263.3" y="225.8" font-size="7" fill="#222" text-anchor="middle" font-weight="normal" style="" >−4</text>
<line x1="286.9" y1="216.8" x2="286.9" y2="218.8" stroke="#333" stroke-width="0.6"/>
<text x="286.9" y="225.8" font-size="7" fill="#222" text-anchor="middle" font-weight="normal" style="" >−2</text>
<line x1="310.5" y1="216.8" x2="310.5" y2="218.8" stroke="#333" stroke-width="0.6"/>
<text x="310.5" y="225.8" font-size="7" fill="#222" text-anchor="middle" font-weight="normal" style="" >0</text>
<line x1="334.1" y1="216.8" x2="334.1" y2="218.8" stroke="#333" stroke-width="0.6"/>
<text x="334.1" y="225.8" font-size="7" fill="#222" text-anchor="middle" font-weight="normal" style="" >2</text>
<line x1="357.7" y1="216.8" x2="357.7" y2="218.8" stroke="#333" stroke-width="0.6"/>
<text x="357.7" y="225.8" font-size="7" fill="#222" text-anchor="middle" font-weight="normal" style="" >4</text>
<line x1="381.3" y1="216.8" x2="381.3" y2="218.8" stroke="#333" stroke-width="0.6"/>
<text x="381.3" y="225.8" font-size="7" fill="#222" text-anchor="middle" font-weight="normal" style="" >6</text>
<line x1="404.9" y1="216.8" x2="404.9" y2="218.8" stroke="#333" stroke-width="0.6"/>
<text x="404.9" y="225.8" font-size="7" fill="#222" text-anchor="middle" font-weight="normal" style="" >8</text>
<text x="310.5" y="234.8" font-size="7" fill="#222" text-anchor="middle" font-weight="normal" style="" >logFC</text>
<text x="0" y="0" font-size="7" fill="#222" text-anchor="middle" transform="translate(180.5,112) rotate(-90)">-log<tspan font-size="5" dy="1.5">10</tspan><tspan dy="-1.5">(</tspan><tspan font-style="italic">P</tspan>-adj)</text>
<text x="310.5" y="5.8" font-size="7" fill="#222" text-anchor="middle" font-weight="normal" style="" >Beta,1 vs Beta,0</text>
<line x1="299.0" y1="64.3" x2="271.7" y2="128.2" stroke="#cfcfcf" stroke-width="0.3"/>
<line x1="297.5" y1="72.1" x2="271.7" y2="128.2" stroke="#cfcfcf" stroke-width="0.3"/>
<line x1="284.5" y1="79.2" x2="263.2" y2="151.7" stroke="#cfcfcf" stroke-width="0.3"/>
<line x1="282.4" y1="87.0" x2="274.4" y2="156.4" stroke="#cfcfcf" stroke-width="0.3"/>
<line x1="297.2" y1="95.7" x2="274.4" y2="156.4" stroke="#cfcfcf" stroke-width="0.3"/>
<line x1="254.5" y1="99.6" x2="277.8" y2="156.4" stroke="#cfcfcf" stroke-width="0.3"/>
<line x1="278.3" y1="103.0" x2="281.2" y2="156.4" stroke="#cfcfcf" stroke-width="0.3"/>
<line x1="253.1" y1="107.7" x2="283.5" y2="161" stroke="#cfcfcf" stroke-width="0.3"/>
<line x1="299.5" y1="112.0" x2="290.1" y2="170.5" stroke="#cfcfcf" stroke-width="0.3"/>
<line x1="251.5" y1="115.5" x2="290.1" y2="170.5" stroke="#cfcfcf" stroke-width="0.3"/>
<line x1="243.2" y1="123.7" x2="277.8" y2="174" stroke="#cfcfcf" stroke-width="0.3"/>
<line x1="239.9" y1="131.7" x2="287.7" y2="177" stroke="#cfcfcf" stroke-width="0.3"/>
<line x1="238.4" y1="139.5" x2="286.3" y2="177.3" stroke="#cfcfcf" stroke-width="0.3"/>
<line x1="234.3" y1="147.5" x2="286.3" y2="177.3" stroke="#cfcfcf" stroke-width="0.3"/>
<line x1="232.2" y1="155.2" x2="276.9" y2="178" stroke="#cfcfcf" stroke-width="0.3"/>
<line x1="231.6" y1="163.2" x2="284.8" y2="180.3" stroke="#cfcfcf" stroke-width="0.3"/>
<line x1="281.9" y1="164.0" x2="291.5" y2="180.7" stroke="#cfcfcf" stroke-width="0.3"/>
<line x1="231.8" y1="171.2" x2="275.9" y2="181.7" stroke="#cfcfcf" stroke-width="0.3"/>
<line x1="228.6" y1="179.2" x2="275.9" y2="181.7" stroke="#cfcfcf" stroke-width="0.3"/>
<line x1="240.5" y1="194.7" x2="288.4" y2="185.5" stroke="#cfcfcf" stroke-width="0.3"/>
<line x1="239.2" y1="200.6" x2="285" y2="186.4" stroke="#cfcfcf" stroke-width="0.3"/>
<line x1="289.9" y1="201.4" x2="285" y2="186.4" stroke="#cfcfcf" stroke-width="0.3"/>
<line x1="293.5" y1="206.8" x2="289.2" y2="188.7" stroke="#cfcfcf" stroke-width="0.3"/>
<line x1="256.9" y1="207.0" x2="292.4" y2="189.3" stroke="#cfcfcf" stroke-width="0.3"/>
<line x1="298.2" y1="213.0" x2="284" y2="190.2" stroke="#cfcfcf" stroke-width="0.3"/>
<line x1="323.3" y1="80.4" x2="344.2" y2="117.3" stroke="#cfcfcf" stroke-width="0.3"/>
<line x1="340.8" y1="90.3" x2="362.8" y2="121.2" stroke="#cfcfcf" stroke-width="0.3"/>
<line x1="361.6" y1="99.3" x2="376.5" y2="129.2" stroke="#cfcfcf" stroke-width="0.3"/>
<line x1="376.5" y1="108.5" x2="389.5" y2="141.8" stroke="#cfcfcf" stroke-width="0.3"/>
<line x1="390.2" y1="118.9" x2="336.5" y2="144.4" stroke="#cfcfcf" stroke-width="0.3"/>
<line x1="323.6" y1="128.4" x2="336.5" y2="144.4" stroke="#cfcfcf" stroke-width="0.3"/>
<line x1="346.3" y1="135.4" x2="354.6" y2="160.2" stroke="#cfcfcf" stroke-width="0.3"/>
<line x1="353.5" y1="143.9" x2="371.4" y2="167.7" stroke="#cfcfcf" stroke-width="0.3"/>
<line x1="360.5" y1="151.9" x2="347.3" y2="171" stroke="#cfcfcf" stroke-width="0.3"/>
<line x1="368.3" y1="160.2" x2="341.2" y2="177.5" stroke="#cfcfcf" stroke-width="0.3"/>
<line x1="378.6" y1="168.5" x2="341.2" y2="177.5" stroke="#cfcfcf" stroke-width="0.3"/>
<line x1="380.4" y1="176.7" x2="336.5" y2="180.6" stroke="#cfcfcf" stroke-width="0.3"/>
<line x1="383.8" y1="184.7" x2="328.2" y2="183.2" stroke="#cfcfcf" stroke-width="0.3"/>
<line x1="389.0" y1="194.3" x2="339" y2="184.7" stroke="#cfcfcf" stroke-width="0.3"/>
<line x1="325.1" y1="200.2" x2="343" y2="186" stroke="#cfcfcf" stroke-width="0.3"/>
<line x1="387.2" y1="202.8" x2="343" y2="186" stroke="#cfcfcf" stroke-width="0.3"/>
<line x1="323.9" y1="206.4" x2="344.8" y2="187.8" stroke="#cfcfcf" stroke-width="0.3"/>
<line x1="345.0" y1="206.7" x2="335.2" y2="189.1" stroke="#cfcfcf" stroke-width="0.3"/>
<line x1="384.5" y1="211.1" x2="337" y2="189.5" stroke="#cfcfcf" stroke-width="0.3"/>
<line x1="339.1" y1="212.9" x2="328.7" y2="189.9" stroke="#cfcfcf" stroke-width="0.3"/>
<circle cx="271.7" cy="128.2" r="1.4" fill="#7a9a42"/>
<circle cx="266.4" cy="138" r="1.4" fill="#7a9a42"/>
<circle cx="263.2" cy="151.7" r="1.4" fill="#7a9a42"/>
<circle cx="274.4" cy="156.4" r="1.4" fill="#7a9a42"/>
<circle cx="277.8" cy="156.4" r="1.4" fill="#7a9a42"/>
<circle cx="281.2" cy="156.4" r="1.4" fill="#7a9a42"/>
<circle cx="283.5" cy="161" r="1.4" fill="#7a9a42"/>
<circle cx="290.1" cy="170.5" r="1.4" fill="#7a9a42"/>
<circle cx="277.8" cy="174" r="1.4" fill="#7a9a42"/>
<circle cx="286.3" cy="177.3" r="1.4" fill="#7a9a42"/>
<circle cx="287.7" cy="177" r="1.4" fill="#7a9a42"/>
<circle cx="276.9" cy="178" r="1.4" fill="#7a9a42"/>
<circle cx="284.8" cy="180.3" r="1.4" fill="#7a9a42"/>
<circle cx="291.5" cy="180.7" r="1.4" fill="#7a9a42"/>
<circle cx="275.9" cy="181.7" r="1.4" fill="#7a9a42"/>
<circle cx="285" cy="186.4" r="1.4" fill="#7a9a42"/>
<circle cx="288.4" cy="185.5" r="1.4" fill="#7a9a42"/>
<circle cx="292.4" cy="184.9" r="1.4" fill="#7a9a42"/>
<circle cx="284" cy="190.2" r="1.4" fill="#7a9a42"/>
<circle cx="289.2" cy="188.7" r="1.4" fill="#7a9a42"/>
<circle cx="292.4" cy="189.3" r="1.4" fill="#7a9a42"/>
<circle cx="235.1" cy="187.7" r="1.4" fill="#7a9a42"/>
<circle cx="256.3" cy="74" r="1.4" fill="#7a9a42"/>
<circle cx="344.2" cy="117.3" r="1.4" fill="#c2569a"/>
<circle cx="362.8" cy="121.2" r="1.4" fill="#c2569a"/>
<circle cx="376.5" cy="129.2" r="1.4" fill="#c2569a"/>
<circle cx="389.5" cy="141.8" r="1.4" fill="#c2569a"/>
<circle cx="336.5" cy="144.4" r="1.4" fill="#c2569a"/>
<circle cx="354.6" cy="160.2" r="1.4" fill="#c2569a"/>
<circle cx="371.4" cy="167.7" r="1.4" fill="#c2569a"/>
<circle cx="347.3" cy="171" r="1.4" fill="#c2569a"/>
<circle cx="341.2" cy="177.5" r="1.4" fill="#c2569a"/>
<circle cx="336.5" cy="180.6" r="1.4" fill="#c2569a"/>
<circle cx="328.2" cy="183.2" r="1.4" fill="#c2569a"/>
<circle cx="339" cy="184.7" r="1.4" fill="#c2569a"/>
<circle cx="343" cy="186" r="1.4" fill="#c2569a"/>
<circle cx="344.8" cy="187.8" r="1.4" fill="#c2569a"/>
<circle cx="328.7" cy="189.9" r="1.4" fill="#c2569a"/>
<circle cx="335.2" cy="189.1" r="1.4" fill="#c2569a"/>
<circle cx="337" cy="189.5" r="1.4" fill="#c2569a"/>
<circle cx="358.6" cy="33.8" r="1.4" fill="#c2569a"/>
<text x="275.2" y="66.8" font-size="7" fill="#4f7326" text-anchor="start" font-weight="normal" style="font-style:italic;" >KCNB2</text>
<text x="277.6" y="74.6" font-size="7" fill="#4f7326" text-anchor="start" font-weight="normal" style="font-style:italic;" >CASR</text>
<text x="235.7" y="75.8" font-size="7" fill="#4f7326" text-anchor="start" font-weight="normal" style="font-style:italic;" >MEIS2</text>
<text x="265.7" y="81.7" font-size="7" fill="#4f7326" text-anchor="start" font-weight="normal" style="font-style:italic;" >JUNB</text>
<text x="248.0" y="89.5" font-size="7" fill="#4f7326" text-anchor="start" font-weight="normal" style="font-style:italic;" >SLC25A29</text>
<text x="279.2" y="98.2" font-size="7" fill="#4f7326" text-anchor="start" font-weight="normal" style="font-style:italic;" >FZD7</text>
<text x="240.4" y="102.1" font-size="7" fill="#4f7326" text-anchor="start" font-weight="normal" style="font-style:italic;" >FEV</text>
<text x="258.7" y="105.5" font-size="7" fill="#4f7326" text-anchor="start" font-weight="normal" style="font-style:italic;" >CDH1</text>
<text x="231.6" y="110.2" font-size="7" fill="#4f7326" text-anchor="start" font-weight="normal" style="font-style:italic;" >MEIS1</text>
<text x="270.6" y="114.5" font-size="7" fill="#4f7326" text-anchor="start" font-weight="normal" style="font-style:italic;" >SRGAP1</text>
<text x="216.4" y="118.0" font-size="7" fill="#4f7326" text-anchor="start" font-weight="normal" style="font-style:italic;" >NEUROG3</text>
<text x="222.9" y="126.2" font-size="7" fill="#4f7326" text-anchor="start" font-weight="normal" style="font-style:italic;" >GLIS3</text>
<text x="216.4" y="134.2" font-size="7" fill="#4f7326" text-anchor="start" font-weight="normal" style="font-style:italic;" >ESRP1</text>
<text x="212.6" y="142.0" font-size="7" fill="#4f7326" text-anchor="start" font-weight="normal" style="font-style:italic;" >TCF7L2</text>
<text x="217.2" y="150.0" font-size="7" fill="#4f7326" text-anchor="start" font-weight="normal" style="font-style:italic;" >ATF3</text>
<text x="208.7" y="157.7" font-size="7" fill="#4f7326" text-anchor="start" font-weight="normal" style="font-style:italic;" >NR3C2</text>
<text x="207.4" y="165.7" font-size="7" fill="#4f7326" text-anchor="start" font-weight="normal" style="font-style:italic;" >MEX3A</text>
<text x="262.3" y="166.5" font-size="7" fill="#4f7326" text-anchor="start" font-weight="normal" style="font-style:italic;" >FOSB</text>
<text x="208.7" y="173.7" font-size="7" fill="#4f7326" text-anchor="start" font-weight="normal" style="font-style:italic;" >NR6A1</text>
<text x="209.2" y="181.7" font-size="7" fill="#4f7326" text-anchor="start" font-weight="normal" style="font-style:italic;" >MAFA</text>
<text x="206.9" y="189.7" font-size="7" fill="#4f7326" text-anchor="start" font-weight="normal" style="font-style:italic;" >SOX13</text>
<text x="217.0" y="197.2" font-size="7" fill="#4f7326" text-anchor="start" font-weight="normal" style="font-style:italic;" >PDE5A</text>
<text x="218.5" y="203.1" font-size="7" fill="#4f7326" text-anchor="start" font-weight="normal" style="font-style:italic;" >ITGA7</text>
<text x="228.8" y="209.5" font-size="7" fill="#4f7326" text-anchor="start" font-weight="normal" style="font-style:italic;" >ANKS1B</text>
<text x="271.1" y="203.9" font-size="7" fill="#4f7326" text-anchor="start" font-weight="normal" style="font-style:italic;" >PDK4</text>
<text x="262.3" y="209.3" font-size="7" fill="#4f7326" text-anchor="start" font-weight="normal" style="font-style:italic;" >COL18A1</text>
<text x="262.3" y="215.5" font-size="7" fill="#4f7326" text-anchor="start" font-weight="normal" style="font-style:italic;" >PPP1R15A</text>
<text x="361.0" y="36.3" font-size="7" fill="#982a70" text-anchor="start" font-weight="normal" style="font-style:italic;" >ONECUT2</text>
<text x="323.8" y="82.9" font-size="7" fill="#982a70" text-anchor="start" font-weight="normal" style="font-style:italic;" >LMX1B</text>
<text x="341.3" y="92.8" font-size="7" fill="#982a70" text-anchor="start" font-weight="normal" style="font-style:italic;" >COL6A2</text>
<text x="362.1" y="101.8" font-size="7" fill="#982a70" text-anchor="start" font-weight="normal" style="font-style:italic;" >DAB2</text>
<text x="377.0" y="111.0" font-size="7" fill="#982a70" text-anchor="start" font-weight="normal" style="font-style:italic;" >EPHB1</text>
<text x="390.7" y="121.4" font-size="7" fill="#982a70" text-anchor="start" font-weight="normal" style="font-style:italic;" >HOXB2</text>
<text x="324.1" y="130.9" font-size="7" fill="#982a70" text-anchor="start" font-weight="normal" style="font-style:italic;" >PMP22</text>
<text x="346.8" y="137.9" font-size="7" fill="#982a70" text-anchor="start" font-weight="normal" style="font-style:italic;" >GSTM3</text>
<text x="354.0" y="146.4" font-size="7" fill="#982a70" text-anchor="start" font-weight="normal" style="font-style:italic;" >SMAD9</text>
<text x="361.0" y="154.4" font-size="7" fill="#982a70" text-anchor="start" font-weight="normal" style="font-style:italic;" >ACVR1C</text>
<text x="368.8" y="162.7" font-size="7" fill="#982a70" text-anchor="start" font-weight="normal" style="font-style:italic;" >RSPO3</text>
<text x="379.1" y="171.0" font-size="7" fill="#982a70" text-anchor="start" font-weight="normal" style="font-style:italic;" >CDKN2B</text>
<text x="380.9" y="179.2" font-size="7" fill="#982a70" text-anchor="start" font-weight="normal" style="font-style:italic;" >CTSC</text>
<text x="384.3" y="187.2" font-size="7" fill="#982a70" text-anchor="start" font-weight="normal" style="font-style:italic;" >DACT1</text>
<text x="389.5" y="196.8" font-size="7" fill="#982a70" text-anchor="start" font-weight="normal" style="font-style:italic;" >VIM</text>
<text x="387.7" y="205.3" font-size="7" fill="#982a70" text-anchor="start" font-weight="normal" style="font-style:italic;" >PARVB</text>
<text x="385.0" y="213.6" font-size="7" fill="#982a70" text-anchor="start" font-weight="normal" style="font-style:italic;" >TGFB1</text>
<text x="325.6" y="202.7" font-size="7" fill="#982a70" text-anchor="start" font-weight="normal" style="font-style:italic;" >MGP</text>
<text x="324.4" y="208.9" font-size="7" fill="#982a70" text-anchor="start" font-weight="normal" style="font-style:italic;" >SNCA</text>
<text x="345.5" y="209.2" font-size="7" fill="#982a70" text-anchor="start" font-weight="normal" style="font-style:italic;" >TMEM114</text>
<text x="339.6" y="215.4" font-size="7" fill="#982a70" text-anchor="start" font-weight="normal" style="font-style:italic;" >SHISA9</text>
<text x="421.4" y="10.4" font-size="10" fill="#111" text-anchor="start" font-weight="bold" style="" >e</text>
<defs><filter id="bl1" x="-20%" y="-20%" width="140%" height="140%"><feGaussianBlur stdDeviation="1.0"/></filter><filter id="bl2" x="-20%" y="-20%" width="140%" height="140%"><feGaussianBlur stdDeviation="0.55"/></filter><filter id="bl3" x="-20%" y="-20%" width="140%" height="140%"><feGaussianBlur stdDeviation="2.0"/></filter><clipPath id="c11"><rect x="433.5" y="15.5" width="106.5" height="106.1"/></clipPath><clipPath id="c12"><rect x="542" y="15.5" width="106" height="106.1"/></clipPath><clipPath id="c21"><rect x="433.5" y="136" width="106.5" height="105.5"/></clipPath><clipPath id="c22"><rect x="542" y="136" width="106" height="105.5"/></clipPath><radialGradient id="mcell"><stop offset="0" stop-color="#5a1466"/><stop offset="0.55" stop-color="#7a1e88"/><stop offset="0.85" stop-color="#b631c6"/><stop offset="1" stop-color="#8a2898" stop-opacity="0.3"/></radialGradient><radialGradient id="mcell2"><stop offset="0" stop-color="#7a2088" stop-opacity="0.55"/><stop offset="0.55" stop-color="#a02cb0" stop-opacity="0.8"/><stop offset="0.85" stop-color="#c23ad2" stop-opacity="1"/><stop offset="1" stop-color="#9a2aa8" stop-opacity="0.2"/></radialGradient></defs>
<rect x="433" y="4" width="251.5" height="10.5" fill="#262626"/>
<text x="435.5" y="12.7" font-size="7" fill="#f2f2f2" text-anchor="start" font-weight="normal" style="" >Pig pancreas - E54</text>
<text x="681.5" y="12.7" font-size="7" text-anchor="end"><tspan fill="#b83a8e">INS</tspan><tspan fill="#ccc">/</tspan><tspan fill="#2fa860">MEIS2</tspan><tspan fill="#ccc">/</tspan><tspan fill="#3a78c8">DAPI</tspan></text>
<rect x="433" y="124.3" width="251.5" height="10.299999999999997" fill="#262626"/>
<text x="435.5" y="132.8" font-size="7" fill="#f2f2f2" text-anchor="start" font-weight="normal" style="" >hiPSC-derived islets - S6</text>
<text x="681.5" y="132.79999999999998" font-size="7" text-anchor="end"><tspan fill="#b83a8e">INS</tspan><tspan fill="#ccc">/</tspan><tspan fill="#2fa860">MEIS2</tspan><tspan fill="#ccc">/</tspan><tspan fill="#3a78c8">DAPI</tspan></text>
<g clip-path="url(#c11)"><rect x="433.5" y="15.5" width="106.5" height="106.1" fill="#030303"/>
<g filter="url(#bl1)">
<ellipse cx="477" cy="32" rx="6" ry="7" fill="#1a7a2a" opacity="0.5"/>
<ellipse cx="487" cy="105" rx="9" ry="7" fill="#1a7a2a" opacity="0.45"/>
<ellipse cx="522" cy="107" rx="12" ry="10" fill="#1a7a2a" opacity="0.45"/>
<ellipse cx="517" cy="38" rx="4" ry="4" fill="#1a7a2a" opacity="0.5"/>
<ellipse cx="478" cy="66" rx="12" ry="10" fill="#1a7a2a" opacity="0.35"/>
<ellipse cx="517" cy="62" rx="10" ry="14" fill="#1a7a2a" opacity="0.35"/>
<circle cx="443.6" cy="24.5" r="5" fill="#9a2aaa" opacity="0.90"/>
<circle cx="443.6" cy="24.5" r="3.6" fill="none" stroke="#c640d6" stroke-width="2.8" opacity="1.00"/>
<circle cx="457.6" cy="29.8" r="6" fill="#9a2aaa" opacity="0.77"/>
<circle cx="457.6" cy="29.8" r="4.3" fill="none" stroke="#c640d6" stroke-width="3.3" opacity="0.85"/>
<circle cx="468" cy="36.8" r="6.5" fill="#9a2aaa" opacity="0.81"/>
<circle cx="468" cy="36.8" r="4.7" fill="none" stroke="#c640d6" stroke-width="3.6" opacity="0.90"/>
<circle cx="447" cy="40.5" r="5.5" fill="#9a2aaa" opacity="0.81"/>
<circle cx="447" cy="40.5" r="4.0" fill="none" stroke="#c640d6" stroke-width="3.0" opacity="0.90"/>
<circle cx="456" cy="41.5" r="5.5" fill="#9a2aaa" opacity="0.90"/>
<circle cx="456" cy="41.5" r="4.0" fill="none" stroke="#c640d6" stroke-width="3.0" opacity="1.00"/>
<circle cx="491.6" cy="31" r="6" fill="#9a2aaa" opacity="0.32"/>
<circle cx="491.6" cy="31" r="4.3" fill="none" stroke="#c640d6" stroke-width="3.3" opacity="0.35"/>
<circle cx="528.3" cy="23.2" r="6" fill="#9a2aaa" opacity="0.90"/>
<circle cx="528.3" cy="23.2" r="4.3" fill="none" stroke="#c640d6" stroke-width="3.3" opacity="1.00"/>
<circle cx="486" cy="86" r="6" fill="#9a2aaa" opacity="0.90"/>
<circle cx="486" cy="86" r="4.3" fill="none" stroke="#c640d6" stroke-width="3.3" opacity="1.00"/>
<circle cx="476" cy="82" r="5" fill="#9a2aaa" opacity="0.63"/>
<circle cx="476" cy="82" r="3.6" fill="none" stroke="#c640d6" stroke-width="2.8" opacity="0.70"/>
<circle cx="466" cy="70" r="5" fill="#9a2aaa" opacity="0.41"/>
<circle cx="466" cy="70" r="3.6" fill="none" stroke="#c640d6" stroke-width="2.8" opacity="0.45"/>
<circle cx="508" cy="80" r="5.5" fill="#9a2aaa" opacity="0.90"/>
<circle cx="508" cy="80" r="4.0" fill="none" stroke="#c640d6" stroke-width="3.0" opacity="1.00"/>
<circle cx="523" cy="86" r="6" fill="#9a2aaa" opacity="0.54"/>
<circle cx="523" cy="86" r="4.3" fill="none" stroke="#c640d6" stroke-width="3.3" opacity="0.60"/>
<circle cx="507" cy="69" r="4.5" fill="#9a2aaa" opacity="0.54"/>
<circle cx="507" cy="69" r="3.2" fill="none" stroke="#c640d6" stroke-width="2.5" opacity="0.60"/>
<circle cx="443" cy="92" r="6.5" fill="#9a2aaa" opacity="0.90"/>
<circle cx="443" cy="92" r="4.7" fill="none" stroke="#c640d6" stroke-width="3.6" opacity="1.00"/>
<circle cx="447" cy="110" r="6" fill="#9a2aaa" opacity="0.81"/>
<circle cx="447" cy="110" r="4.3" fill="none" stroke="#c640d6" stroke-width="3.3" opacity="0.90"/>
<circle cx="463.5" cy="95" r="5.5" fill="#9a2aaa" opacity="0.72"/>
<circle cx="463.5" cy="95" r="4.0" fill="none" stroke="#c640d6" stroke-width="3.0" opacity="0.80"/>
<circle cx="456" cy="104" r="5" fill="#9a2aaa" opacity="0.54"/>
<circle cx="456" cy="104" r="3.6" fill="none" stroke="#c640d6" stroke-width="2.8" opacity="0.60"/>
<circle cx="438" cy="104" r="4" fill="#9a2aaa" opacity="0.63"/>
<circle cx="438" cy="104" r="2.9" fill="none" stroke="#c640d6" stroke-width="2.2" opacity="0.70"/>
<circle cx="462" cy="114" r="5" fill="#9a2aaa" opacity="0.45"/>
<circle cx="462" cy="114" r="3.6" fill="none" stroke="#c640d6" stroke-width="2.8" opacity="0.50"/>
<circle cx="503" cy="40" r="5" fill="#9a2aaa" opacity="0.27"/>
<circle cx="503" cy="40" r="3.6" fill="none" stroke="#c640d6" stroke-width="2.8" opacity="0.30"/>
<circle cx="521" cy="42" r="5" fill="#9a2aaa" opacity="0.27"/>
<circle cx="521" cy="42" r="3.6" fill="none" stroke="#c640d6" stroke-width="2.8" opacity="0.30"/>
<circle cx="438" cy="117" r="4" fill="#9a2aaa" opacity="0.54"/>
<circle cx="438" cy="117" r="2.9" fill="none" stroke="#c640d6" stroke-width="2.2" opacity="0.60"/>
</g><g filter="url(#bl2)">
<ellipse cx="441.5" cy="31" rx="3.5" ry="3.0" fill="#2a9a3c" opacity="0.60"/>
<path d="M439.3 28.9h0M442.5 27.7h0M441.3 27.6h0M443.8 31.4h0M444.1 30.0h0M442.5 30.3h0M439.8 31.3h0M438.9 30.3h0M443.1 31.1h0M440.9 34.3h0" stroke="#48cc58" stroke-width="1.40" stroke-linecap="round" fill="none" opacity="0.56" />
<ellipse cx="457.6" cy="30" rx="3.2" ry="2.7" fill="#2a9a3c" opacity="0.60"/>
<path d="M457.7 28.7h0M457.9 28.9h0M456.8 29.2h0M460.6 30.0h0M458.0 31.4h0M460.6 29.7h0M456.8 33.0h0M455.0 29.4h0M458.5 33.0h0" stroke="#48cc58" stroke-width="1.40" stroke-linecap="round" fill="none" opacity="0.56" />
<ellipse cx="468" cy="37" rx="3.4" ry="2.9" fill="#2a9a3c" opacity="0.60"/>
<path d="M466.8 33.9h0M469.5 35.8h0M467.1 38.1h0M468.5 37.7h0M467.2 39.5h0M470.8 37.1h0M467.0 38.6h0M469.0 34.9h0M467.1 39.2h0" stroke="#48cc58" stroke-width="1.40" stroke-linecap="round" fill="none" opacity="0.56" />
<ellipse cx="451.5" cy="41" rx="3.4" ry="2.9" fill="#2a9a3c" opacity="0.60"/>
<path d="M451.3 40.2h0M452.0 40.9h0M451.5 37.9h0M454.5 41.3h0M449.8 42.9h0M452.2 41.0h0M452.9 44.0h0M452.5 43.8h0M454.5 39.6h0" stroke="#48cc58" stroke-width="1.40" stroke-linecap="round" fill="none" opacity="0.56" />
<ellipse cx="445" cy="25" rx="2.5" ry="2.1" fill="#2a9a3c" opacity="0.38"/>
<path d="M444.2 26.2h0M442.8 24.7h0M446.7 26.4h0M445.7 22.8h0M447.4 25.6h0M446.2 25.8h0M443.2 23.5h0M443.7 27.0h0" stroke="#48cc58" stroke-width="1.40" stroke-linecap="round" fill="none" opacity="0.35" />
<ellipse cx="470.3" cy="61.9" rx="3.2" ry="2.7" fill="#2a9a3c" opacity="0.75"/>
<path d="M468.6 61.4h0M469.8 63.1h0M471.4 62.5h0M469.1 58.9h0M470.7 62.5h0M472.6 61.7h0M469.0 62.8h0M467.9 60.3h0M468.3 62.5h0" stroke="#48cc58" stroke-width="1.40" stroke-linecap="round" fill="none" opacity="0.70" />
<ellipse cx="478" cy="60" rx="3.2" ry="2.7" fill="#2a9a3c" opacity="0.75"/>
<path d="M480.9 61.1h0M480.2 60.5h0M478.6 59.0h0M477.6 56.9h0M476.1 57.9h0M479.7 61.3h0M479.7 62.4h0M477.4 62.1h0M481.0 60.0h0" stroke="#48cc58" stroke-width="1.40" stroke-linecap="round" fill="none" opacity="0.70" />
<ellipse cx="485.8" cy="63.8" rx="3.2" ry="2.7" fill="#2a9a3c" opacity="0.75"/>
<path d="M487.9 63.5h0M483.1 64.0h0M484.1 64.0h0M484.8 64.5h0M483.5 66.0h0M488.3 63.2h0M483.9 63.8h0M487.2 64.7h0M486.4 60.9h0" stroke="#48cc58" stroke-width="1.40" stroke-linecap="round" fill="none" opacity="0.70" />
<ellipse cx="468.4" cy="71.6" rx="3.2" ry="2.7" fill="#2a9a3c" opacity="0.75"/>
<path d="M466.6 73.8h0M468.8 69.0h0M467.0 69.2h0M466.6 73.6h0M468.0 73.8h0M468.7 69.0h0M467.6 74.6h0M467.0 69.6h0M470.8 71.8h0" stroke="#48cc58" stroke-width="1.40" stroke-linecap="round" fill="none" opacity="0.70" />
<ellipse cx="478" cy="71.6" rx="3.2" ry="2.7" fill="#2a9a3c" opacity="0.75"/>
<path d="M478.0 74.2h0M475.2 72.3h0M476.3 69.3h0M476.5 73.7h0M477.8 68.7h0M476.3 74.0h0M479.8 69.7h0M481.1 71.1h0M475.7 71.3h0" stroke="#48cc58" stroke-width="1.40" stroke-linecap="round" fill="none" opacity="0.70" />
<ellipse cx="487.7" cy="73.5" rx="3.2" ry="2.7" fill="#2a9a3c" opacity="0.75"/>
<path d="M489.2 76.0h0M489.7 72.7h0M486.7 71.0h0M487.5 72.2h0M488.2 71.1h0M486.6 71.7h0M485.7 71.5h0M485.9 71.4h0M489.0 73.7h0" stroke="#48cc58" stroke-width="1.40" stroke-linecap="round" fill="none" opacity="0.70" />
<ellipse cx="509" cy="50.3" rx="3.2" ry="2.7" fill="#2a9a3c" opacity="0.68"/>
<path d="M506.6 51.2h0M509.5 52.9h0M508.6 49.8h0M507.5 50.6h0M510.1 50.7h0M508.4 51.5h0M509.2 50.9h0M507.1 50.7h0M507.1 48.7h0" stroke="#48cc58" stroke-width="1.40" stroke-linecap="round" fill="none" opacity="0.63" />
<ellipse cx="518.6" cy="54.2" rx="3.2" ry="2.7" fill="#2a9a3c" opacity="0.68"/>
<path d="M518.8 57.2h0M520.6 54.2h0M518.2 56.2h0M520.8 56.1h0M518.2 54.6h0M517.9 53.6h0M516.8 53.7h0M515.9 52.7h0M519.5 52.3h0" stroke="#48cc58" stroke-width="1.40" stroke-linecap="round" fill="none" opacity="0.63" />
<ellipse cx="512.8" cy="61.9" rx="3.2" ry="2.7" fill="#2a9a3c" opacity="0.68"/>
<path d="M513.8 59.5h0M512.0 62.8h0M510.8 60.5h0M515.8 61.1h0M511.3 60.7h0M512.9 61.8h0M514.7 63.4h0M511.9 61.1h0M510.7 59.7h0" stroke="#48cc58" stroke-width="1.40" stroke-linecap="round" fill="none" opacity="0.63" />
<ellipse cx="522.5" cy="63.8" rx="3.2" ry="2.7" fill="#2a9a3c" opacity="0.68"/>
<path d="M521.0 65.3h0M522.8 65.5h0M524.4 63.5h0M525.5 63.1h0M521.2 62.9h0M524.7 63.5h0M520.9 64.7h0M524.7 63.6h0M522.0 66.0h0" stroke="#48cc58" stroke-width="1.40" stroke-linecap="round" fill="none" opacity="0.63" />
<ellipse cx="514.8" cy="71.6" rx="3.2" ry="2.7" fill="#2a9a3c" opacity="0.68"/>
<path d="M516.6 73.3h0M513.2 72.2h0M515.4 68.7h0M517.1 71.8h0M514.3 74.7h0M515.1 70.0h0M514.7 72.9h0M516.5 71.5h0M513.1 70.2h0" stroke="#48cc58" stroke-width="1.40" stroke-linecap="round" fill="none" opacity="0.63" />
<ellipse cx="524.5" cy="75.4" rx="3.2" ry="2.7" fill="#2a9a3c" opacity="0.68"/>
<path d="M523.0 73.4h0M524.5 74.3h0M524.6 73.6h0M522.7 75.0h0M523.8 77.6h0M522.6 75.8h0M524.4 72.9h0M526.1 75.8h0M521.6 76.2h0" stroke="#48cc58" stroke-width="1.40" stroke-linecap="round" fill="none" opacity="0.63" />
<ellipse cx="443.2" cy="87" rx="3.0" ry="2.5" fill="#2a9a3c" opacity="0.52"/>
<path d="M444.9 85.6h0M445.8 87.2h0M441.2 88.0h0M442.6 84.7h0M440.4 87.3h0M441.8 88.2h0M444.0 85.9h0M442.4 89.6h0M445.7 88.1h0" stroke="#48cc58" stroke-width="1.40" stroke-linecap="round" fill="none" opacity="0.49" />
<ellipse cx="452.9" cy="83.2" rx="3.0" ry="2.5" fill="#2a9a3c" opacity="0.52"/>
<path d="M452.2 81.3h0M452.3 85.8h0M453.9 82.6h0M450.7 83.5h0M451.2 83.2h0M454.2 85.1h0M453.2 82.5h0M453.2 85.9h0M453.5 80.8h0" stroke="#48cc58" stroke-width="1.40" stroke-linecap="round" fill="none" opacity="0.49" />
<ellipse cx="458.7" cy="92.8" rx="3.2" ry="2.7" fill="#2a9a3c" opacity="0.75"/>
<path d="M461.4 93.2h0M461.9 92.4h0M458.5 92.1h0M459.5 91.5h0M456.8 90.3h0M458.4 91.7h0M457.9 95.8h0M460.2 94.8h0M457.6 93.5h0" stroke="#48cc58" stroke-width="1.40" stroke-linecap="round" fill="none" opacity="0.70" />
<ellipse cx="445" cy="102.5" rx="3.0" ry="2.5" fill="#2a9a3c" opacity="0.45"/>
<path d="M444.6 102.1h0M446.4 103.7h0M445.6 102.8h0M442.7 101.3h0M445.8 101.7h0M443.5 103.2h0M443.3 101.3h0M446.7 101.8h0M447.4 103.4h0" stroke="#48cc58" stroke-width="1.40" stroke-linecap="round" fill="none" opacity="0.42" />
<ellipse cx="454.8" cy="106.4" rx="3.0" ry="2.5" fill="#2a9a3c" opacity="0.52"/>
<path d="M456.2 108.3h0M451.9 106.3h0M452.6 105.6h0M454.6 108.6h0M454.7 109.0h0M453.7 106.3h0M455.0 108.2h0M454.7 105.1h0M454.2 104.0h0" stroke="#48cc58" stroke-width="1.40" stroke-linecap="round" fill="none" opacity="0.49" />
<ellipse cx="464.5" cy="102.5" rx="3.0" ry="2.5" fill="#2a9a3c" opacity="0.52"/>
<path d="M466.6 103.8h0M465.4 103.1h0M463.3 101.7h0M466.0 101.0h0M463.3 104.9h0M467.0 103.0h0M465.6 102.9h0M466.9 101.8h0M464.7 103.5h0" stroke="#48cc58" stroke-width="1.40" stroke-linecap="round" fill="none" opacity="0.49" />
<ellipse cx="528" cy="24" rx="2.8" ry="2.4" fill="#2a9a3c" opacity="0.30"/>
<path d="M530.2 23.6h0M528.4 23.1h0M526.8 22.8h0M528.2 25.6h0M526.8 22.9h0M527.2 24.7h0M529.1 22.0h0M528.6 22.3h0" stroke="#48cc58" stroke-width="1.40" stroke-linecap="round" fill="none" opacity="0.28" />
<ellipse cx="491" cy="31" rx="3.0" ry="2.5" fill="#2a9a3c" opacity="0.26"/>
<path d="M492.3 29.3h0M489.1 29.8h0M490.9 29.1h0M491.4 31.3h0M491.2 31.6h0M492.6 29.7h0M491.0 30.9h0M488.2 31.5h0M489.6 29.7h0" stroke="#48cc58" stroke-width="1.40" stroke-linecap="round" fill="none" opacity="0.24" />
<ellipse cx="508" cy="81" rx="3.0" ry="2.5" fill="#2a9a3c" opacity="0.38"/>
<path d="M507.1 81.2h0M508.7 82.0h0M506.7 82.3h0M508.9 80.2h0M508.0 82.6h0M508.8 82.4h0M508.2 83.1h0M510.8 81.6h0M506.0 83.1h0" stroke="#48cc58" stroke-width="1.40" stroke-linecap="round" fill="none" opacity="0.35" />
<ellipse cx="484" cy="19" rx="3.0" ry="2.5" fill="#2a9a3c" opacity="0.45"/>
<path d="M483.1 16.7h0M481.1 19.5h0M485.8 20.7h0M483.4 21.4h0M483.8 17.8h0M484.1 19.5h0M484.1 19.8h0M481.6 20.7h0M482.9 20.3h0" stroke="#48cc58" stroke-width="1.40" stroke-linecap="round" fill="none" opacity="0.42" />
<ellipse cx="476" cy="30" rx="3.0" ry="2.5" fill="#2a9a3c" opacity="0.45"/>
<path d="M474.4 30.3h0M475.7 27.5h0M476.8 31.3h0M474.6 27.4h0M474.8 28.4h0M476.2 30.0h0M478.5 31.0h0M475.5 30.3h0M473.2 29.1h0" stroke="#48cc58" stroke-width="1.40" stroke-linecap="round" fill="none" opacity="0.42" />
<ellipse cx="500" cy="38" rx="3.0" ry="2.5" fill="#2a9a3c" opacity="0.38"/>
<path d="M498.2 37.8h0M500.7 38.4h0M501.7 36.8h0M500.6 37.7h0M500.0 38.7h0M499.4 38.4h0M499.9 39.9h0M499.8 38.6h0M502.9 38.7h0" stroke="#48cc58" stroke-width="1.40" stroke-linecap="round" fill="none" opacity="0.35" />
<ellipse cx="533" cy="50" rx="3.0" ry="2.5" fill="#2a9a3c" opacity="0.45"/>
<path d="M533.9 51.9h0M531.2 51.3h0M534.5 50.8h0M534.7 51.4h0M535.0 48.9h0M533.9 48.9h0M535.2 50.2h0M530.7 50.2h0M531.3 51.7h0" stroke="#48cc58" stroke-width="1.40" stroke-linecap="round" fill="none" opacity="0.42" />
<ellipse cx="488" cy="104" rx="3.0" ry="2.5" fill="#2a9a3c" opacity="0.45"/>
<path d="M487.6 101.2h0M487.3 105.9h0M488.7 102.7h0M489.3 105.1h0M490.2 105.4h0M488.7 102.5h0M488.6 104.6h0M488.0 104.9h0M485.9 105.0h0" stroke="#48cc58" stroke-width="1.40" stroke-linecap="round" fill="none" opacity="0.42" />
<ellipse cx="495" cy="112" rx="3.0" ry="2.5" fill="#2a9a3c" opacity="0.38"/>
<path d="M495.0 112.7h0M494.8 111.4h0M495.5 113.5h0M494.3 112.7h0M493.5 112.8h0M495.0 109.8h0M496.9 110.5h0M495.1 109.7h0M492.5 113.0h0" stroke="#48cc58" stroke-width="1.40" stroke-linecap="round" fill="none" opacity="0.35" />
<ellipse cx="482" cy="112" rx="3.0" ry="2.5" fill="#2a9a3c" opacity="0.38"/>
<path d="M480.4 109.6h0M481.7 109.5h0M481.7 114.7h0M481.2 112.7h0M483.1 112.5h0M481.8 114.5h0M481.8 112.7h0M482.2 109.8h0M482.7 112.1h0" stroke="#48cc58" stroke-width="1.40" stroke-linecap="round" fill="none" opacity="0.35" />
<ellipse cx="520" cy="104" rx="3.0" ry="2.5" fill="#2a9a3c" opacity="0.38"/>
<path d="M521.2 105.3h0M521.9 101.7h0M518.9 103.1h0M518.4 104.8h0M519.8 104.3h0M517.6 102.6h0M519.9 103.1h0M518.8 103.8h0M519.5 102.1h0" stroke="#48cc58" stroke-width="1.40" stroke-linecap="round" fill="none" opacity="0.35" />
<ellipse cx="530" cy="110" rx="3.0" ry="2.5" fill="#2a9a3c" opacity="0.38"/>
<path d="M532.5 109.0h0M531.2 111.1h0M531.8 109.0h0M528.2 110.8h0M530.3 107.1h0M527.1 109.4h0M529.2 109.5h0M530.8 108.2h0M532.8 111.0h0" stroke="#48cc58" stroke-width="1.40" stroke-linecap="round" fill="none" opacity="0.35" />
<ellipse cx="526" cy="98" rx="3.0" ry="2.5" fill="#2a9a3c" opacity="0.38"/>
<path d="M528.2 98.5h0M523.2 98.3h0M524.9 98.9h0M525.8 99.3h0M524.3 97.3h0M526.0 96.5h0M525.1 99.2h0M528.7 97.7h0M527.4 96.1h0" stroke="#48cc58" stroke-width="1.40" stroke-linecap="round" fill="none" opacity="0.35" />
<ellipse cx="535" cy="116" rx="3.0" ry="2.5" fill="#2a9a3c" opacity="0.30"/>
<path d="M534.1 116.7h0M536.0 114.2h0M536.2 116.3h0M537.1 117.5h0M536.1 115.2h0M535.5 114.4h0M533.9 113.5h0M533.1 114.1h0M534.8 116.2h0" stroke="#48cc58" stroke-width="1.40" stroke-linecap="round" fill="none" opacity="0.28" />
<ellipse cx="497" cy="22" rx="2.5" ry="2.1" fill="#2a9a3c" opacity="0.30"/>
<path d="M495.1 21.9h0M497.6 23.4h0M496.8 22.4h0M496.4 23.4h0M494.9 22.3h0M495.0 23.5h0M498.0 19.8h0M496.3 20.1h0" stroke="#48cc58" stroke-width="1.40" stroke-linecap="round" fill="none" opacity="0.28" />
<ellipse cx="510" cy="20" rx="2.5" ry="2.1" fill="#2a9a3c" opacity="0.30"/>
<path d="M507.8 19.5h0M508.7 21.5h0M509.2 18.4h0M509.9 20.7h0M511.3 20.8h0M508.1 18.9h0M509.7 18.6h0M511.2 19.4h0" stroke="#48cc58" stroke-width="1.40" stroke-linecap="round" fill="none" opacity="0.28" />
<ellipse cx="537" cy="36" rx="2.5" ry="2.1" fill="#2a9a3c" opacity="0.38"/>
<path d="M536.9 35.3h0M537.0 34.0h0M539.3 35.4h0M536.1 33.9h0M536.9 34.1h0M537.5 37.7h0M538.0 35.3h0M538.8 35.7h0" stroke="#48cc58" stroke-width="1.40" stroke-linecap="round" fill="none" opacity="0.35" />
<ellipse cx="537" cy="66" rx="2.5" ry="2.1" fill="#2a9a3c" opacity="0.38"/>
<path d="M536.9 66.1h0M536.2 66.7h0M535.6 64.1h0M538.7 65.0h0M536.4 66.5h0M536.3 64.3h0M536.7 64.5h0M537.9 65.2h0" stroke="#48cc58" stroke-width="1.40" stroke-linecap="round" fill="none" opacity="0.35" />
<ellipse cx="500" cy="60" rx="2.5" ry="2.1" fill="#2a9a3c" opacity="0.26"/>
<path d="M499.6 61.2h0M498.3 58.4h0M501.0 61.7h0M500.1 58.8h0M501.7 60.7h0M501.1 57.9h0M499.8 58.4h0M498.4 60.8h0" stroke="#48cc58" stroke-width="1.40" stroke-linecap="round" fill="none" opacity="0.24" />
<path d="M529.8 47.3h0M463.0 79.8h0M536.4 35.0h0M436.3 27.4h0M493.2 79.6h0M452.7 35.4h0M496.6 84.2h0M506.9 93.0h0M439.6 66.9h0M522.3 117.4h0M467.1 106.0h0M502.0 114.2h0M457.5 89.6h0M523.0 66.0h0M443.8 35.7h0M449.8 24.9h0M449.3 80.9h0M444.2 96.1h0M511.8 102.4h0M519.0 91.3h0M531.9 117.4h0M499.9 118.3h0M444.1 26.0h0M439.9 37.1h0M473.1 64.1h0M505.8 94.5h0M442.0 58.1h0M491.2 55.1h0M445.6 78.9h0M473.1 88.2h0M486.0 118.0h0M534.1 22.7h0M514.3 92.2h0M464.7 27.5h0M484.3 52.9h0M511.9 113.3h0M473.9 46.1h0M486.4 89.6h0M517.4 76.6h0M464.7 51.1h0M523.7 70.6h0M438.4 60.0h0M458.4 86.3h0M440.9 44.0h0M443.3 66.1h0M538.4 72.9h0M474.3 114.9h0M442.8 53.1h0M519.8 15.5h0M515.0 53.6h0M434.8 41.8h0M482.0 56.0h0M488.3 20.7h0M456.4 119.3h0M480.4 65.5h0M442.1 44.9h0M535.2 88.5h0M487.3 20.7h0M475.0 98.3h0M479.5 78.5h0M529.6 84.0h0M501.0 18.9h0M435.5 97.3h0M477.2 108.5h0M521.3 112.9h0M473.5 121.9h0M513.9 110.4h0M448.9 98.6h0M478.2 119.0h0M539.4 38.2h0M478.1 44.0h0M483.3 45.7h0M504.3 28.2h0M451.1 64.0h0M440.9 55.8h0M529.0 109.7h0M454.0 17.0h0M521.6 117.8h0M497.1 29.6h0M458.3 113.5h0M533.3 18.3h0M452.8 60.9h0M461.5 95.7h0M472.9 97.9h0M449.3 70.5h0M537.3 90.1h0M442.6 26.9h0M501.9 55.1h0M472.5 66.1h0M495.2 118.3h0M458.8 75.8h0M461.1 73.4h0M511.3 29.3h0M484.5 90.5h0M433.9 97.5h0M477.8 68.9h0M498.3 99.8h0M439.0 68.6h0M437.1 56.2h0M470.0 17.3h0M464.9 63.2h0M503.1 114.0h0M472.6 71.7h0M509.3 115.3h0M534.6 120.7h0M465.3 32.8h0M532.7 23.3h0M481.0 93.8h0M489.6 56.6h0M531.9 47.0h0M492.0 103.8h0M447.8 52.6h0M485.9 75.6h0M455.2 63.6h0M439.4 24.4h0M469.6 30.4h0M536.5 43.2h0M462.5 98.9h0M512.3 43.0h0M521.7 82.0h0M474.6 82.3h0M459.3 43.2h0M526.8 61.9h0M529.0 33.9h0M447.7 20.6h0M512.2 75.1h0M434.0 19.6h0M521.2 67.9h0M526.2 19.3h0M496.0 27.6h0M510.2 80.4h0M498.5 38.7h0M534.5 26.9h0M439.9 88.2h0M442.9 22.2h0M482.3 84.4h0M528.5 92.1h0M440.4 83.8h0M523.3 27.9h0M513.7 42.7h0M465.0 15.2h0M514.1 70.2h0M529.5 64.8h0M449.6 38.2h0M461.2 116.3h0M455.0 24.4h0M470.7 23.5h0M478.5 81.5h0M502.6 33.7h0M447.9 67.6h0M506.5 62.8h0M494.3 112.6h0M448.5 43.7h0M485.8 72.4h0M529.3 74.4h0M503.9 59.9h0M516.9 104.4h0M464.4 26.5h0M460.7 53.3h0M528.2 43.3h0M500.3 83.5h0M535.3 27.5h0M515.4 51.0h0M444.0 82.6h0M523.3 77.3h0M438.3 119.0h0M474.1 83.1h0M510.5 42.9h0M476.7 50.2h0M443.3 21.9h0M509.7 58.9h0M526.1 21.7h0M465.3 34.3h0M533.9 99.6h0M528.9 69.2h0M444.1 59.5h0M457.2 17.9h0M493.5 46.0h0M444.5 69.7h0M532.8 116.2h0M482.9 26.0h0M515.3 27.3h0M490.5 24.0h0M538.6 73.1h0M479.8 44.1h0M491.9 119.1h0M478.8 37.4h0M488.1 113.3h0M473.8 82.8h0M531.3 49.8h0M519.8 71.6h0M447.9 20.7h0M533.5 64.9h0M480.4 113.2h0M494.4 68.5h0M463.4 94.6h0M460.4 65.3h0M514.2 79.7h0M447.4 36.7h0M507.4 93.0h0M444.0 121.7h0M447.3 32.9h0M442.6 62.8h0M499.3 106.7h0M450.5 89.8h0M444.3 77.1h0M460.0 53.1h0M438.6 92.1h0M446.1 96.8h0M469.0 78.3h0M501.4 67.3h0M526.5 113.4h0M463.2 50.7h0M526.8 29.2h0M477.9 59.4h0M537.5 28.7h0M503.1 96.0h0M510.9 15.1h0M534.0 48.4h0M524.3 85.8h0M478.0 104.6h0M505.3 51.4h0M511.3 69.1h0M509.1 80.7h0M518.2 32.0h0M485.9 15.1h0M517.6 97.6h0M522.6 19.6h0M490.3 66.2h0M445.8 36.7h0M537.3 106.2h0M458.5 103.7h0M502.7 56.2h0M502.0 39.5h0M462.3 16.1h0M503.3 77.2h0M512.5 68.9h0M479.5 47.8h0M511.7 54.9h0M496.9 96.1h0M480.6 88.4h0M439.6 42.9h0M522.9 30.8h0M439.1 16.5h0M515.0 26.4h0M482.0 61.9h0M518.9 66.0h0M488.8 17.7h0M518.1 97.1h0M499.7 104.3h0M498.7 91.6h0M524.1 81.1h0M435.2 109.6h0M538.9 36.5h0M440.1 51.4h0M443.7 54.5h0M442.5 38.6h0M433.4 60.9h0M465.1 93.0h0M474.6 32.8h0" stroke="#1f7a30" stroke-width="1.20" stroke-linecap="round" fill="none" opacity="0.55" />
<path d="M483.1 17.9h0M475.1 17.7h0M472.9 22.2h0M475.3 20.4h0M470.3 21.6h0M473.6 13.5h0M473.6 14.6h0M481.4 14.3h0M477.0 16.5h0M473.2 15.7h0M480.1 16.3h0M473.9 20.8h0M474.8 22.3h0M473.5 14.5h0M483.5 35.0h0M483.8 28.2h0M486.0 33.7h0M480.7 32.5h0M481.9 31.4h0M484.2 34.0h0M482.3 31.2h0M473.6 28.3h0M483.6 28.3h0M483.3 30.3h0M482.2 31.3h0M486.4 32.7h0M499.2 29.0h0M500.3 29.4h0M503.2 30.7h0M496.9 32.5h0M495.6 34.7h0M500.1 30.7h0M497.2 39.2h0M502.9 34.9h0M500.0 38.1h0M497.7 32.1h0M498.6 29.4h0M496.0 39.2h0M530.5 42.0h0M529.2 43.4h0M528.6 44.8h0M525.1 39.0h0M529.3 44.2h0M526.1 44.7h0M528.1 45.7h0M529.3 48.8h0M534.7 47.3h0M530.1 47.9h0M532.5 46.6h0M532.6 43.8h0M532.7 46.8h0M531.4 44.5h0M518.7 102.0h0M518.4 96.5h0M525.7 104.0h0M517.5 104.7h0M513.2 102.1h0M522.4 100.9h0M519.4 102.7h0M521.8 96.3h0M517.6 103.4h0M522.6 96.3h0M515.1 101.5h0M517.3 97.6h0M518.3 100.8h0M513.3 102.7h0M518.8 103.1h0M516.3 97.2h0M521.7 103.4h0M519.9 99.0h0M524.6 103.7h0M521.1 99.3h0M524.3 102.4h0M518.9 105.0h0M523.8 100.8h0M521.7 102.7h0M518.5 96.1h0M524.1 94.6h0M515.0 95.4h0M521.7 103.6h0M517.9 104.4h0M525.6 104.7h0M482.8 109.5h0M494.8 102.1h0M481.7 109.4h0M488.8 105.0h0M486.9 99.4h0M484.3 105.7h0M488.7 108.2h0M490.2 103.5h0M486.8 109.9h0M482.5 106.9h0M484.2 105.8h0M493.3 106.4h0M485.6 102.8h0M482.4 105.0h0M479.5 104.8h0M487.5 102.1h0M484.5 109.1h0M491.3 112.0h0M491.0 106.2h0M486.4 109.2h0M489.4 105.7h0M493.2 104.6h0M470.7 63.8h0M471.7 60.4h0M473.6 69.4h0M469.0 62.4h0M471.5 60.7h0M475.7 59.8h0M475.8 56.8h0M470.5 57.4h0M471.4 62.4h0M472.0 60.9h0M469.2 56.0h0M473.0 60.2h0M474.0 54.5h0M469.3 54.4h0M473.8 57.6h0M466.6 63.1h0M469.8 60.9h0M469.8 63.9h0M471.0 61.0h0M470.1 63.4h0M518.9 60.9h0M518.0 57.1h0M512.4 60.3h0M512.6 63.9h0M510.4 56.9h0M515.7 59.2h0M515.3 62.4h0M512.8 60.7h0M518.0 62.1h0M515.3 64.4h0M512.6 58.0h0M513.9 67.6h0M517.1 69.6h0M518.4 65.2h0M513.4 56.5h0M507.9 62.6h0M511.3 58.1h0M517.0 63.1h0M510.7 62.9h0M519.8 65.2h0M437.7 53.3h0M433.4 49.1h0M438.6 54.2h0M436.0 46.9h0M438.9 52.6h0M435.3 50.9h0M438.8 48.5h0M435.8 51.5h0M500.6 71.5h0M500.6 69.7h0M497.1 70.0h0M502.7 70.5h0M501.9 73.0h0M501.2 69.2h0M496.8 74.3h0M499.5 69.5h0M500.4 72.8h0M503.0 67.7h0M535.8 74.0h0M534.0 70.2h0M533.2 65.2h0M531.7 70.6h0M537.1 61.3h0M535.2 69.3h0M530.8 69.8h0M533.4 74.6h0M532.7 73.6h0M532.1 66.6h0" stroke="#30a040" stroke-width="1.30" stroke-linecap="round" fill="none" opacity="0.60" />
</g>
<path d="M433.5,65.5 C438,66.5 442,69 444,73 C445,77 444,80 442,82 L438.5,80.5 C440,78 440,75 439,73 C437.5,71 435.5,70 433.5,70 Z" fill="#55d455" filter="url(#bl2)"/>
<path d="M433.5,80 L438,82 C439,90 439,100 437,108 L433.5,108 Z" fill="#2a8a34" opacity="0.6" filter="url(#bl1)"/>
<rect x="433.5" y="15.5" width="3" height="4" fill="#55d455" filter="url(#bl2)"/>
</g>
<g clip-path="url(#c12)"><rect x="542" y="15.5" width="106" height="106.1" fill="#040410"/>
<g filter="url(#bl2)">
<ellipse cx="641.0" cy="91.1" rx="5.1" ry="4.0" transform="rotate(42 641.0 91.1)" fill="#3232a8" opacity="0.71"/>
<ellipse cx="608.0" cy="20.6" rx="5.2" ry="3.5" transform="rotate(89 608.0 20.6)" fill="#3232a8" opacity="0.68"/>
<ellipse cx="619.0" cy="97.4" rx="4.7" ry="4.3" transform="rotate(80 619.0 97.4)" fill="#3232a8" opacity="0.70"/>
<ellipse cx="648.1" cy="49.3" rx="5.1" ry="4.3" transform="rotate(15 648.1 49.3)" fill="#3232a8" opacity="0.77"/>
<ellipse cx="626.3" cy="107.7" rx="4.2" ry="3.8" transform="rotate(111 626.3 107.7)" fill="#3232a8" opacity="0.74"/>
<ellipse cx="644.5" cy="101.5" rx="5.3" ry="3.3" transform="rotate(77 644.5 101.5)" fill="#3232a8" opacity="0.82"/>
<ellipse cx="577.0" cy="97.9" rx="4.9" ry="4.0" transform="rotate(115 577.0 97.9)" fill="#3232a8" opacity="0.80"/>
<ellipse cx="618.1" cy="119.8" rx="4.8" ry="3.8" transform="rotate(118 618.1 119.8)" fill="#3232a8" opacity="0.70"/>
<ellipse cx="546.3" cy="118.6" rx="4.5" ry="3.8" transform="rotate(8 546.3 118.6)" fill="#3232a8" opacity="0.57"/>
<ellipse cx="641.3" cy="44.2" rx="4.5" ry="4.2" transform="rotate(43 641.3 44.2)" fill="#3232a8" opacity="0.73"/>
<ellipse cx="602.4" cy="111.7" rx="4.8" ry="3.6" transform="rotate(47 602.4 111.7)" fill="#3232a8" opacity="0.63"/>
<ellipse cx="541.0" cy="27.0" rx="4.2" ry="3.6" transform="rotate(138 541.0 27.0)" fill="#3232a8" opacity="0.83"/>
<ellipse cx="579.3" cy="41.2" rx="4.5" ry="4.0" transform="rotate(86 579.3 41.2)" fill="#3232a8" opacity="0.54"/>
<ellipse cx="597.6" cy="43.3" rx="4.2" ry="4.1" transform="rotate(19 597.6 43.3)" fill="#3232a8" opacity="0.65"/>
<ellipse cx="623.7" cy="73.2" rx="5.4" ry="3.6" transform="rotate(170 623.7 73.2)" fill="#3232a8" opacity="0.52"/>
<ellipse cx="637.7" cy="60.2" rx="4.0" ry="3.5" transform="rotate(178 637.7 60.2)" fill="#3232a8" opacity="0.75"/>
<ellipse cx="541.7" cy="47.5" rx="4.7" ry="4.3" transform="rotate(163 541.7 47.5)" fill="#3232a8" opacity="0.55"/>
<ellipse cx="647.6" cy="74.4" rx="4.5" ry="3.3" transform="rotate(77 647.6 74.4)" fill="#3232a8" opacity="0.68"/>
<ellipse cx="590.0" cy="47.8" rx="5.5" ry="3.8" transform="rotate(55 590.0 47.8)" fill="#3232a8" opacity="0.77"/>
<ellipse cx="567.4" cy="60.1" rx="4.2" ry="3.5" transform="rotate(179 567.4 60.1)" fill="#3232a8" opacity="0.72"/>
<ellipse cx="597.6" cy="87.4" rx="5.1" ry="3.8" transform="rotate(66 597.6 87.4)" fill="#3232a8" opacity="0.55"/>
<ellipse cx="584.8" cy="15.1" rx="5.1" ry="3.6" transform="rotate(42 584.8 15.1)" fill="#3232a8" opacity="0.61"/>
<ellipse cx="594.2" cy="36.8" rx="5.4" ry="3.8" transform="rotate(12 594.2 36.8)" fill="#3232a8" opacity="0.53"/>
<ellipse cx="637.2" cy="77.0" rx="4.5" ry="4.1" transform="rotate(8 637.2 77.0)" fill="#3232a8" opacity="0.81"/>
<ellipse cx="563.6" cy="39.6" rx="4.1" ry="3.8" transform="rotate(33 563.6 39.6)" fill="#3232a8" opacity="0.66"/>
<ellipse cx="637.7" cy="112.2" rx="4.8" ry="4.1" transform="rotate(24 637.7 112.2)" fill="#3232a8" opacity="0.83"/>
<ellipse cx="548.9" cy="44.5" rx="5.0" ry="4.3" transform="rotate(123 548.9 44.5)" fill="#3232a8" opacity="0.51"/>
<ellipse cx="596.7" cy="54.6" rx="4.4" ry="3.7" transform="rotate(171 596.7 54.6)" fill="#3232a8" opacity="0.71"/>
<ellipse cx="544.3" cy="110.0" rx="4.2" ry="3.4" transform="rotate(133 544.3 110.0)" fill="#3232a8" opacity="0.76"/>
<ellipse cx="619.0" cy="60.6" rx="4.3" ry="3.5" transform="rotate(20 619.0 60.6)" fill="#3232a8" opacity="0.51"/>
<ellipse cx="643.8" cy="117.6" rx="4.6" ry="3.7" transform="rotate(50 643.8 117.6)" fill="#3232a8" opacity="0.77"/>
<ellipse cx="564.9" cy="83.7" rx="4.6" ry="3.6" transform="rotate(54 564.9 83.7)" fill="#3232a8" opacity="0.71"/>
<ellipse cx="595.3" cy="67.2" rx="5.1" ry="3.8" transform="rotate(170 595.3 67.2)" fill="#3232a8" opacity="0.65"/>
<ellipse cx="626.5" cy="115.4" rx="5.0" ry="3.9" transform="rotate(142 626.5 115.4)" fill="#3232a8" opacity="0.75"/>
<ellipse cx="557.9" cy="16.3" rx="5.1" ry="3.6" transform="rotate(46 557.9 16.3)" fill="#3232a8" opacity="0.51"/>
<ellipse cx="543.4" cy="87.2" rx="4.6" ry="3.7" transform="rotate(122 543.4 87.2)" fill="#3232a8" opacity="0.82"/>
<ellipse cx="616.7" cy="37.9" rx="5.6" ry="3.4" transform="rotate(105 616.7 37.9)" fill="#3232a8" opacity="0.73"/>
<ellipse cx="572.0" cy="110.9" rx="5.0" ry="4.1" transform="rotate(25 572.0 110.9)" fill="#3232a8" opacity="0.79"/>
<ellipse cx="572.0" cy="81.4" rx="5.2" ry="3.6" transform="rotate(48 572.0 81.4)" fill="#3232a8" opacity="0.62"/>
<ellipse cx="646.6" cy="85.7" rx="4.8" ry="3.9" transform="rotate(118 646.6 85.7)" fill="#3232a8" opacity="0.59"/>
<ellipse cx="549.2" cy="25.9" rx="4.9" ry="3.9" transform="rotate(176 549.2 25.9)" fill="#3232a8" opacity="0.72"/>
<ellipse cx="633.1" cy="121.6" rx="4.8" ry="3.7" transform="rotate(85 633.1 121.6)" fill="#3232a8" opacity="0.63"/>
<ellipse cx="554.2" cy="118.1" rx="4.8" ry="4.1" transform="rotate(99 554.2 118.1)" fill="#3232a8" opacity="0.71"/>
<ellipse cx="603.2" cy="26.5" rx="4.2" ry="4.1" transform="rotate(63 603.2 26.5)" fill="#3232a8" opacity="0.55"/>
<ellipse cx="629.1" cy="95.5" rx="5.2" ry="3.7" transform="rotate(24 629.1 95.5)" fill="#3232a8" opacity="0.77"/>
<ellipse cx="541.2" cy="78.3" rx="5.3" ry="3.9" transform="rotate(177 541.2 78.3)" fill="#3232a8" opacity="0.58"/>
<ellipse cx="565.9" cy="73.8" rx="5.0" ry="4.3" transform="rotate(109 565.9 73.8)" fill="#3232a8" opacity="0.67"/>
<ellipse cx="579.8" cy="88.8" rx="5.0" ry="3.8" transform="rotate(147 579.8 88.8)" fill="#3232a8" opacity="0.61"/>
<ellipse cx="637.1" cy="16.9" rx="4.9" ry="4.2" transform="rotate(158 637.1 16.9)" fill="#3232a8" opacity="0.57"/>
<ellipse cx="583.1" cy="27.6" rx="5.1" ry="3.3" transform="rotate(153 583.1 27.6)" fill="#3232a8" opacity="0.55"/>
<ellipse cx="561.6" cy="117.5" rx="4.8" ry="4.1" transform="rotate(62 561.6 117.5)" fill="#3232a8" opacity="0.58"/>
<ellipse cx="580.8" cy="121.1" rx="4.3" ry="4.3" transform="rotate(159 580.8 121.1)" fill="#3232a8" opacity="0.74"/>
<ellipse cx="569.7" cy="93.6" rx="5.4" ry="3.9" transform="rotate(40 569.7 93.6)" fill="#3232a8" opacity="0.71"/>
<ellipse cx="557.1" cy="36.1" rx="5.0" ry="3.3" transform="rotate(0 557.1 36.1)" fill="#3232a8" opacity="0.63"/>
<ellipse cx="548.9" cy="75.0" rx="5.1" ry="3.6" transform="rotate(105 548.9 75.0)" fill="#3232a8" opacity="0.68"/>
<ellipse cx="629.9" cy="24.5" rx="4.2" ry="4.2" transform="rotate(150 629.9 24.5)" fill="#3232a8" opacity="0.50"/>
<ellipse cx="637.6" cy="29.6" rx="5.5" ry="3.5" transform="rotate(62 637.6 29.6)" fill="#3232a8" opacity="0.54"/>
<ellipse cx="580.1" cy="105.1" rx="5.6" ry="4.0" transform="rotate(33 580.1 105.1)" fill="#3232a8" opacity="0.65"/>
<ellipse cx="577.2" cy="32.1" rx="5.1" ry="3.8" transform="rotate(52 577.2 32.1)" fill="#3232a8" opacity="0.59"/>
<ellipse cx="588.4" cy="22.2" rx="4.8" ry="3.5" transform="rotate(139 588.4 22.2)" fill="#3232a8" opacity="0.59"/>
<ellipse cx="622.8" cy="54.1" rx="5.4" ry="4.0" transform="rotate(77 622.8 54.1)" fill="#3232a8" opacity="0.51"/>
<ellipse cx="581.0" cy="77.5" rx="4.0" ry="3.8" transform="rotate(161 581.0 77.5)" fill="#3232a8" opacity="0.83"/>
<ellipse cx="615.4" cy="88.8" rx="5.0" ry="4.4" transform="rotate(142 615.4 88.8)" fill="#3232a8" opacity="0.66"/>
<ellipse cx="594.5" cy="116.4" rx="4.9" ry="3.9" transform="rotate(55 594.5 116.4)" fill="#3232a8" opacity="0.73"/>
<ellipse cx="568.7" cy="25.0" rx="4.4" ry="3.4" transform="rotate(26 568.7 25.0)" fill="#3232a8" opacity="0.76"/>
<ellipse cx="631.0" cy="84.9" rx="5.4" ry="4.1" transform="rotate(132 631.0 84.9)" fill="#3232a8" opacity="0.59"/>
<ellipse cx="586.7" cy="55.4" rx="4.6" ry="4.3" transform="rotate(78 586.7 55.4)" fill="#3232a8" opacity="0.78"/>
<ellipse cx="626.3" cy="39.4" rx="4.4" ry="3.7" transform="rotate(83 626.3 39.4)" fill="#3232a8" opacity="0.65"/>
<ellipse cx="611.9" cy="108.5" rx="5.4" ry="3.9" transform="rotate(69 611.9 108.5)" fill="#3232a8" opacity="0.70"/>
<ellipse cx="573.2" cy="65.4" rx="4.7" ry="4.0" transform="rotate(158 573.2 65.4)" fill="#3232a8" opacity="0.63"/>
<ellipse cx="599.1" cy="75.3" rx="5.1" ry="3.5" transform="rotate(44 599.1 75.3)" fill="#3232a8" opacity="0.82"/>
<ellipse cx="556.7" cy="88.2" rx="4.4" ry="3.8" transform="rotate(81 556.7 88.2)" fill="#3232a8" opacity="0.58"/>
<ellipse cx="562.1" cy="98.6" rx="5.6" ry="3.4" transform="rotate(127 562.1 98.6)" fill="#3232a8" opacity="0.64"/>
<ellipse cx="617.2" cy="30.7" rx="4.1" ry="4.4" transform="rotate(166 617.2 30.7)" fill="#3232a8" opacity="0.73"/>
<ellipse cx="557.0" cy="25.5" rx="5.1" ry="3.7" transform="rotate(83 557.0 25.5)" fill="#3232a8" opacity="0.58"/>
<ellipse cx="642.6" cy="21.7" rx="5.0" ry="3.7" transform="rotate(84 642.6 21.7)" fill="#3232a8" opacity="0.69"/>
<ellipse cx="603.4" cy="38.6" rx="5.4" ry="3.8" transform="rotate(121 603.4 38.6)" fill="#3232a8" opacity="0.84"/>
<ellipse cx="594.7" cy="28.4" rx="4.3" ry="3.7" transform="rotate(22 594.7 28.4)" fill="#3232a8" opacity="0.55"/>
<ellipse cx="606.3" cy="46.8" rx="5.5" ry="4.4" transform="rotate(121 606.3 46.8)" fill="#3232a8" opacity="0.60"/>
<ellipse cx="589.9" cy="84.4" rx="4.8" ry="3.6" transform="rotate(73 589.9 84.4)" fill="#3232a8" opacity="0.51"/>
<ellipse cx="556.7" cy="103.7" rx="4.3" ry="3.4" transform="rotate(135 556.7 103.7)" fill="#3232a8" opacity="0.79"/>
<ellipse cx="573.7" cy="56.0" rx="5.2" ry="3.6" transform="rotate(80 573.7 56.0)" fill="#3232a8" opacity="0.85"/>
<ellipse cx="588.3" cy="32.6" rx="5.5" ry="3.9" transform="rotate(152 588.3 32.6)" fill="#3232a8" opacity="0.67"/>
<ellipse cx="624.4" cy="80.5" rx="5.2" ry="3.8" transform="rotate(39 624.4 80.5)" fill="#3232a8" opacity="0.61"/>
<ellipse cx="636.8" cy="99.3" rx="5.2" ry="4.1" transform="rotate(36 636.8 99.3)" fill="#3232a8" opacity="0.67"/>
<ellipse cx="602.9" cy="14.2" rx="4.4" ry="3.7" transform="rotate(13 602.9 14.2)" fill="#3232a8" opacity="0.53"/>
<ellipse cx="623.2" cy="46.0" rx="5.2" ry="3.3" transform="rotate(98 623.2 46.0)" fill="#3232a8" opacity="0.62"/>
<ellipse cx="587.3" cy="69.3" rx="4.1" ry="3.9" transform="rotate(1 587.3 69.3)" fill="#3232a8" opacity="0.60"/>
<ellipse cx="634.5" cy="51.6" rx="5.1" ry="4.3" transform="rotate(112 634.5 51.6)" fill="#3232a8" opacity="0.57"/>
<ellipse cx="595.9" cy="102.4" rx="4.8" ry="3.4" transform="rotate(121 595.9 102.4)" fill="#3232a8" opacity="0.59"/>
<ellipse cx="590.7" cy="97.4" rx="5.3" ry="4.2" transform="rotate(145 590.7 97.4)" fill="#3232a8" opacity="0.84"/>
<ellipse cx="576.7" cy="18.5" rx="4.8" ry="3.2" transform="rotate(115 576.7 18.5)" fill="#3232a8" opacity="0.67"/>
<ellipse cx="630.8" cy="65.6" rx="5.2" ry="4.2" transform="rotate(93 630.8 65.6)" fill="#3232a8" opacity="0.70"/>
<ellipse cx="544.8" cy="17.6" rx="4.8" ry="3.3" transform="rotate(79 544.8 17.6)" fill="#3232a8" opacity="0.62"/>
<ellipse cx="556.0" cy="78.2" rx="5.6" ry="3.6" transform="rotate(27 556.0 78.2)" fill="#3232a8" opacity="0.54"/>
<ellipse cx="569.5" cy="17.1" rx="4.4" ry="3.6" transform="rotate(81 569.5 17.1)" fill="#3232a8" opacity="0.69"/>
<ellipse cx="645.6" cy="58.4" rx="4.1" ry="3.6" transform="rotate(66 645.6 58.4)" fill="#3232a8" opacity="0.52"/>
<ellipse cx="548.5" cy="98.5" rx="4.5" ry="4.3" transform="rotate(51 548.5 98.5)" fill="#3232a8" opacity="0.76"/>
<ellipse cx="563.9" cy="106.2" rx="5.0" ry="3.9" transform="rotate(158 563.9 106.2)" fill="#3232a8" opacity="0.61"/>
<ellipse cx="586.2" cy="112.0" rx="4.1" ry="4.3" transform="rotate(123 586.2 112.0)" fill="#3232a8" opacity="0.78"/>
<ellipse cx="635.6" cy="38.8" rx="4.9" ry="3.8" transform="rotate(56 635.6 38.8)" fill="#3232a8" opacity="0.80"/>
<ellipse cx="644.9" cy="30.1" rx="4.2" ry="3.2" transform="rotate(63 644.9 30.1)" fill="#3232a8" opacity="0.51"/>
<ellipse cx="602.4" cy="68.7" rx="5.0" ry="4.2" transform="rotate(171 602.4 68.7)" fill="#3232a8" opacity="0.61"/>
<ellipse cx="602.1" cy="59.8" rx="5.3" ry="3.7" transform="rotate(25 602.1 59.8)" fill="#3232a8" opacity="0.62"/>
<ellipse cx="594.5" cy="15.2" rx="5.6" ry="3.3" transform="rotate(50 594.5 15.2)" fill="#3232a8" opacity="0.78"/>
<ellipse cx="621.7" cy="18.2" rx="5.5" ry="4.2" transform="rotate(46 621.7 18.2)" fill="#3232a8" opacity="0.66"/>
<ellipse cx="556.4" cy="69.3" rx="4.8" ry="3.4" transform="rotate(162 556.4 69.3)" fill="#3232a8" opacity="0.76"/>
<ellipse cx="647.0" cy="111.0" rx="4.1" ry="3.7" transform="rotate(28 647.0 111.0)" fill="#3232a8" opacity="0.76"/>
<ellipse cx="544.1" cy="35.4" rx="5.1" ry="3.7" transform="rotate(81 544.1 35.4)" fill="#3232a8" opacity="0.80"/>
<ellipse cx="603.7" cy="119.7" rx="4.3" ry="3.7" transform="rotate(103 603.7 119.7)" fill="#3232a8" opacity="0.71"/>
<ellipse cx="616.2" cy="69.2" rx="4.2" ry="4.1" transform="rotate(143 616.2 69.2)" fill="#3232a8" opacity="0.52"/>
<ellipse cx="628.8" cy="14.6" rx="5.1" ry="3.9" transform="rotate(54 628.8 14.6)" fill="#3232a8" opacity="0.53"/>
<ellipse cx="643.0" cy="37.0" rx="5.5" ry="4.1" transform="rotate(155 643.0 37.0)" fill="#3232a8" opacity="0.53"/>
<ellipse cx="568.7" cy="120.3" rx="4.7" ry="3.9" transform="rotate(97 568.7 120.3)" fill="#3232a8" opacity="0.84"/>
<ellipse cx="610.8" cy="52.7" rx="4.2" ry="3.6" transform="rotate(121 610.8 52.7)" fill="#3232a8" opacity="0.76"/>
<ellipse cx="541.9" cy="61.8" rx="5.4" ry="4.0" transform="rotate(45 541.9 61.8)" fill="#3232a8" opacity="0.68"/>
<ellipse cx="648.9" cy="18.2" rx="4.2" ry="3.6" transform="rotate(60 648.9 18.2)" fill="#3232a8" opacity="0.69"/>
<ellipse cx="549.9" cy="84.0" rx="5.3" ry="4.0" transform="rotate(177 549.9 84.0)" fill="#3232a8" opacity="0.75"/>
<ellipse cx="580.1" cy="51.0" rx="5.3" ry="4.1" transform="rotate(147 580.1 51.0)" fill="#3232a8" opacity="0.55"/>
<ellipse cx="541.5" cy="102.0" rx="5.5" ry="4.0" transform="rotate(63 541.5 102.0)" fill="#3232a8" opacity="0.74"/>
<ellipse cx="611.5" cy="122.6" rx="5.6" ry="4.1" transform="rotate(157 611.5 122.6)" fill="#3232a8" opacity="0.67"/>
<ellipse cx="607.8" cy="100.8" rx="4.3" ry="4.1" transform="rotate(126 607.8 100.8)" fill="#3232a8" opacity="0.76"/>
<ellipse cx="641.6" cy="69.2" rx="4.3" ry="4.1" transform="rotate(70 641.6 69.2)" fill="#3232a8" opacity="0.69"/>
<ellipse cx="648.0" cy="93.6" rx="4.8" ry="3.6" transform="rotate(126 648.0 93.6)" fill="#3232a8" opacity="0.79"/>
<ellipse cx="609.5" cy="33.0" rx="4.9" ry="3.7" transform="rotate(89 609.5 33.0)" fill="#3232a8" opacity="0.67"/>
<ellipse cx="592.0" cy="60.4" rx="4.1" ry="3.8" transform="rotate(46 592.0 60.4)" fill="#3232a8" opacity="0.82"/>
<ellipse cx="574.0" cy="73.2" rx="4.9" ry="3.9" transform="rotate(31 574.0 73.2)" fill="#3232a8" opacity="0.59"/>
<ellipse cx="616.4" cy="80.2" rx="4.0" ry="3.7" transform="rotate(75 616.4 80.2)" fill="#3232a8" opacity="0.56"/>
<ellipse cx="615.7" cy="47.4" rx="4.5" ry="3.2" transform="rotate(45 615.7 47.4)" fill="#3232a8" opacity="0.56"/>
<ellipse cx="569.5" cy="35.4" rx="5.3" ry="3.9" transform="rotate(79 569.5 35.4)" fill="#3232a8" opacity="0.77"/>
<ellipse cx="578.7" cy="113.8" rx="5.1" ry="3.4" transform="rotate(67 578.7 113.8)" fill="#3232a8" opacity="0.56"/>
<ellipse cx="628.3" cy="32.0" rx="5.6" ry="3.9" transform="rotate(148 628.3 32.0)" fill="#3232a8" opacity="0.78"/>
<ellipse cx="623.1" cy="88.2" rx="4.2" ry="4.2" transform="rotate(15 623.1 88.2)" fill="#3232a8" opacity="0.63"/>
<ellipse cx="562.7" cy="30.7" rx="4.1" ry="3.5" transform="rotate(17 562.7 30.7)" fill="#3232a8" opacity="0.68"/>
<ellipse cx="629.2" cy="58.4" rx="4.5" ry="4.2" transform="rotate(76 629.2 58.4)" fill="#3232a8" opacity="0.83"/>
<ellipse cx="581.0" cy="61.8" rx="4.6" ry="3.5" transform="rotate(66 581.0 61.8)" fill="#3232a8" opacity="0.79"/>
<ellipse cx="547.9" cy="66.4" rx="4.9" ry="3.2" transform="rotate(118 547.9 66.4)" fill="#3232a8" opacity="0.56"/>
<ellipse cx="588.8" cy="77.2" rx="5.0" ry="3.9" transform="rotate(64 588.8 77.2)" fill="#3232a8" opacity="0.71"/>
<ellipse cx="552.3" cy="109.9" rx="4.2" ry="3.7" transform="rotate(173 552.3 109.9)" fill="#3232a8" opacity="0.59"/>
<ellipse cx="600.0" cy="94.2" rx="4.5" ry="3.6" transform="rotate(104 600.0 94.2)" fill="#3232a8" opacity="0.85"/>
<ellipse cx="618.7" cy="105.5" rx="5.6" ry="3.4" transform="rotate(122 618.7 105.5)" fill="#3232a8" opacity="0.58"/>
<ellipse cx="570.6" cy="102.5" rx="5.3" ry="3.4" transform="rotate(115 570.6 102.5)" fill="#3232a8" opacity="0.54"/>
<ellipse cx="587.3" cy="40.7" rx="5.4" ry="4.0" transform="rotate(16 587.3 40.7)" fill="#3232a8" opacity="0.69"/>
<ellipse cx="567.0" cy="52.3" rx="5.1" ry="3.7" transform="rotate(4 567.0 52.3)" fill="#3232a8" opacity="0.61"/>
<ellipse cx="648.8" cy="41.7" rx="4.5" ry="3.7" transform="rotate(72 648.8 41.7)" fill="#3232a8" opacity="0.69"/>
</g><g filter="url(#bl1)" style="mix-blend-mode:screen">
<circle cx="552.1" cy="24.5" r="5.0" fill="#8a1a90" opacity="0.80"/>
<circle cx="552.1" cy="24.5" r="4.0" fill="none" stroke="#b030b0" stroke-width="2.0" opacity="0.80"/>
<circle cx="566.1" cy="29.8" r="6.0" fill="#8a1a90" opacity="0.68"/>
<circle cx="566.1" cy="29.8" r="4.8" fill="none" stroke="#b030b0" stroke-width="2.4" opacity="0.68"/>
<circle cx="576.5" cy="36.8" r="6.5" fill="#8a1a90" opacity="0.72"/>
<circle cx="576.5" cy="36.8" r="5.2" fill="none" stroke="#b030b0" stroke-width="2.6" opacity="0.72"/>
<circle cx="555.5" cy="40.5" r="5.5" fill="#8a1a90" opacity="0.72"/>
<circle cx="555.5" cy="40.5" r="4.4" fill="none" stroke="#b030b0" stroke-width="2.2" opacity="0.72"/>
<circle cx="564.5" cy="41.5" r="5.5" fill="#8a1a90" opacity="0.80"/>
<circle cx="564.5" cy="41.5" r="4.4" fill="none" stroke="#b030b0" stroke-width="2.2" opacity="0.80"/>
<circle cx="600.1" cy="31" r="6.0" fill="#8a1a90" opacity="0.28"/>
<circle cx="600.1" cy="31" r="4.8" fill="none" stroke="#b030b0" stroke-width="2.4" opacity="0.28"/>
<circle cx="636.8" cy="23.2" r="6.0" fill="#8a1a90" opacity="0.80"/>
<circle cx="636.8" cy="23.2" r="4.8" fill="none" stroke="#b030b0" stroke-width="2.4" opacity="0.80"/>
<circle cx="594.5" cy="86" r="6.0" fill="#8a1a90" opacity="0.80"/>
<circle cx="594.5" cy="86" r="4.8" fill="none" stroke="#b030b0" stroke-width="2.4" opacity="0.80"/>
<circle cx="584.5" cy="82" r="5.0" fill="#8a1a90" opacity="0.56"/>
<circle cx="584.5" cy="82" r="4.0" fill="none" stroke="#b030b0" stroke-width="2.0" opacity="0.56"/>
<circle cx="574.5" cy="70" r="5.0" fill="#8a1a90" opacity="0.36"/>
<circle cx="574.5" cy="70" r="4.0" fill="none" stroke="#b030b0" stroke-width="2.0" opacity="0.36"/>
<circle cx="616.5" cy="80" r="5.5" fill="#8a1a90" opacity="0.80"/>
<circle cx="616.5" cy="80" r="4.4" fill="none" stroke="#b030b0" stroke-width="2.2" opacity="0.80"/>
<circle cx="631.5" cy="86" r="6.0" fill="#8a1a90" opacity="0.48"/>
<circle cx="631.5" cy="86" r="4.8" fill="none" stroke="#b030b0" stroke-width="2.4" opacity="0.48"/>
<circle cx="615.5" cy="69" r="4.5" fill="#8a1a90" opacity="0.48"/>
<circle cx="615.5" cy="69" r="3.6" fill="none" stroke="#b030b0" stroke-width="1.8" opacity="0.48"/>
<circle cx="551.5" cy="92" r="6.5" fill="#8a1a90" opacity="0.80"/>
<circle cx="551.5" cy="92" r="5.2" fill="none" stroke="#b030b0" stroke-width="2.6" opacity="0.80"/>
<circle cx="555.5" cy="110" r="6.0" fill="#8a1a90" opacity="0.72"/>
<circle cx="555.5" cy="110" r="4.8" fill="none" stroke="#b030b0" stroke-width="2.4" opacity="0.72"/>
<circle cx="572.0" cy="95" r="5.5" fill="#8a1a90" opacity="0.64"/>
<circle cx="572.0" cy="95" r="4.4" fill="none" stroke="#b030b0" stroke-width="2.2" opacity="0.64"/>
<circle cx="564.5" cy="104" r="5.0" fill="#8a1a90" opacity="0.48"/>
<circle cx="564.5" cy="104" r="4.0" fill="none" stroke="#b030b0" stroke-width="2.0" opacity="0.48"/>
<circle cx="546.5" cy="104" r="4.0" fill="#8a1a90" opacity="0.56"/>
<circle cx="546.5" cy="104" r="3.2" fill="none" stroke="#b030b0" stroke-width="1.6" opacity="0.56"/>
<circle cx="570.5" cy="114" r="5.0" fill="#8a1a90" opacity="0.40"/>
<circle cx="570.5" cy="114" r="4.0" fill="none" stroke="#b030b0" stroke-width="2.0" opacity="0.40"/>
<circle cx="611.5" cy="40" r="5.0" fill="#8a1a90" opacity="0.24"/>
<circle cx="611.5" cy="40" r="4.0" fill="none" stroke="#b030b0" stroke-width="2.0" opacity="0.24"/>
<circle cx="629.5" cy="42" r="5.0" fill="#8a1a90" opacity="0.24"/>
<circle cx="629.5" cy="42" r="4.0" fill="none" stroke="#b030b0" stroke-width="2.0" opacity="0.24"/>
<circle cx="546.5" cy="117" r="4.0" fill="#8a1a90" opacity="0.48"/>
<circle cx="546.5" cy="117" r="3.2" fill="none" stroke="#b030b0" stroke-width="1.6" opacity="0.48"/>
</g></g>
<path d="M514,31.5 L523,28.0 L521,34.5 Z" fill="#f0e020"/>
<path d="M449.5,82.5 L446.7,73.5 L452.3,73.5 Z" fill="#f0e020"/>
<path d="M622,31.5 L631,28.0 L629,34.5 Z" fill="#f0e020"/>
<path d="M556,82.5 L553.2,73.5 L558.8,73.5 Z" fill="#f0e020"/>
<rect x="518.8" y="115" width="12.6" height="1.4" fill="#eee"/>
<rect x="626" y="115" width="12.6" height="1.4" fill="#eee"/>
<rect x="649.3" y="16" width="35" height="33.6" fill="#040404"/>
<g filter="url(#bl2)">
<path d="M653.7 34.3h0M681.0 45.0h0M668.1 47.9h0M681.1 34.9h0M671.0 21.6h0M668.7 20.8h0M654.7 48.1h0M681.7 38.4h0M658.6 21.5h0M668.5 48.3h0M655.3 17.2h0M681.8 40.6h0M655.7 31.4h0M658.4 48.5h0M651.7 37.9h0M651.3 18.4h0M656.0 26.2h0M654.4 35.2h0M653.1 30.2h0M672.4 35.4h0M660.0 39.9h0M669.4 24.1h0M676.6 37.3h0M664.5 33.4h0M658.1 47.4h0M651.5 45.7h0" stroke="#2a9a40" stroke-width="1.00" stroke-linecap="round" fill="none" opacity="0.60" />
<path d="M667.4 27.9h0M682.9 19.5h0M676.9 26.0h0M658.8 35.9h0M666.3 20.7h0M658.0 30.6h0M677.0 25.5h0M658.9 30.5h0M664.9 35.6h0M659.3 18.3h0M682.9 17.7h0M652.8 21.5h0M658.3 44.9h0M650.5 26.6h0M664.7 22.0h0M677.3 26.1h0M658.7 17.2h0M675.9 32.2h0M670.8 27.6h0M660.2 24.9h0M661.7 36.3h0M652.7 47.7h0M669.2 28.8h0M657.7 42.4h0M676.3 48.1h0M665.2 23.3h0" stroke="#2a9a40" stroke-width="1.70" stroke-linecap="round" fill="none" opacity="0.80" />
<path d="M681.4 26.3h0M683.0 37.9h0M653.4 30.7h0M674.9 19.3h0M672.7 20.8h0M650.7 19.0h0M672.9 25.9h0M675.7 36.0h0M658.1 46.7h0M674.6 18.3h0M678.0 45.5h0M655.7 32.2h0M675.8 42.2h0M667.4 38.6h0M665.9 25.6h0M653.4 46.0h0M665.6 34.9h0M676.0 39.0h0M661.7 22.9h0M678.1 33.7h0M663.3 37.1h0M680.5 24.4h0M662.5 33.5h0M676.8 29.2h0M681.3 43.6h0M671.7 44.1h0" stroke="#2a9a40" stroke-width="2.40" stroke-linecap="round" fill="none" />
</g>
<rect x="649.3" y="51.6" width="35" height="34" fill="#040404"/>
<g filter="url(#bl2)">
<path d="M667.1 56.0h0M668.4 76.5h0M665.7 83.1h0M658.6 80.1h0M671.5 75.7h0M678.4 53.2h0M663.3 74.1h0M672.1 64.8h0M666.7 69.0h0M656.4 57.6h0M660.8 81.6h0" stroke="#9a2aaa" stroke-width="2.00" stroke-linecap="round" fill="none" opacity="0.60" />
<path d="M668.0 67.2h0M680.6 74.0h0M671.0 57.7h0M680.2 53.6h0M662.3 66.0h0M676.1 84.0h0M655.6 75.0h0M672.2 63.4h0M652.0 59.9h0M660.7 68.4h0M654.0 70.7h0" stroke="#9a2aaa" stroke-width="3.40" stroke-linecap="round" fill="none" opacity="0.80" />
<path d="M661.2 75.6h0M669.1 66.2h0M656.3 64.7h0M664.2 76.5h0M651.8 62.9h0M659.3 54.9h0M678.5 71.7h0M669.4 71.4h0M675.4 80.5h0M674.2 77.7h0M657.5 62.3h0" stroke="#9a2aaa" stroke-width="4.80" stroke-linecap="round" fill="none" />
</g>
<rect x="649.3" y="87" width="35" height="34.6" fill="#04040e"/>
<g filter="url(#bl2)">
<path d="M669.4 112.9h0M665.1 119.5h0M657.6 90.2h0M681.4 90.8h0M655.9 107.7h0M669.5 110.7h0M663.7 111.0h0M681.1 96.4h0M655.6 114.0h0M658.5 108.2h0M681.0 112.8h0M673.6 94.7h0M652.1 91.0h0M666.2 98.3h0M658.9 103.7h0M667.3 107.6h0M667.3 102.6h0M658.9 96.2h0M655.0 113.2h0M681.6 109.5h0" stroke="#2a2aa0" stroke-width="2.40" stroke-linecap="round" fill="none" opacity="0.60" />
<path d="M663.6 110.6h0M661.8 113.8h0M667.8 109.6h0M676.6 88.8h0M664.0 118.5h0M651.7 99.1h0M676.6 115.1h0M660.6 113.1h0M678.2 103.8h0M653.4 95.3h0M677.2 88.3h0M680.5 96.9h0M678.5 99.9h0M667.3 97.9h0M669.1 109.6h0M673.4 110.5h0M666.8 89.7h0M678.1 118.1h0M658.0 114.6h0M661.4 99.4h0" stroke="#2a2aa0" stroke-width="3.40" stroke-linecap="round" fill="none" opacity="0.80" />
<path d="M681.2 98.0h0M666.2 92.3h0M654.1 94.8h0M664.0 89.0h0M654.6 118.1h0M660.7 110.5h0M665.3 92.2h0M666.5 91.2h0M679.5 95.2h0M652.6 111.6h0M675.4 111.2h0M653.3 105.0h0M682.5 96.9h0M670.5 93.8h0M656.4 113.2h0M657.6 116.7h0M652.5 106.0h0M659.2 111.7h0M674.5 108.6h0M651.8 90.1h0" stroke="#2a2aa0" stroke-width="4.40" stroke-linecap="round" fill="none" />
</g>
<path d="M674,22 L680,19.5 L679,24 Z" fill="#f0e020"/><path d="M653,45 L651,37 L656,38 Z" fill="#f0e020"/>
<path d="M674,57 L680,54.5 L679,59 Z" fill="#f0e020"/><path d="M653,80 L651,72 L656,73 Z" fill="#f0e020"/>
<path d="M674,94 L680,91.5 L679,96 Z" fill="#f0e020"/><path d="M653,117 L651,109 L656,110 Z" fill="#f0e020"/>
<rect x="676" y="46" width="4" height="0.8" fill="#ddd"/><rect x="676" y="82" width="4" height="0.8" fill="#ddd"/><rect x="676" y="118" width="4" height="0.8" fill="#ddd"/>
<g clip-path="url(#c21)"><rect x="433.5" y="136" width="106.5" height="105.5" fill="#040204"/>
<path d="M433.5,153 C438.5,151 443.5,149 450.5,148 C458.5,146 465.5,144 473.5,141 C480.5,139 488.5,137 496.5,137 C503.5,138 513.5,142 540.5,145 L540.5,242 L433.5,242 Z" fill="#26092c" filter="url(#bl3)"/>
<g filter="url(#bl1)">
<ellipse cx="502.6" cy="139.7" rx="4.4" ry="2.6" transform="rotate(133 502.6 139.7)" fill="#bc40cc" opacity="0.88"/>
<ellipse cx="497.1" cy="140.4" rx="3.5" ry="2.6" transform="rotate(108 497.1 140.4)" fill="#a834bc" opacity="0.88"/>
<ellipse cx="511.2" cy="212.7" rx="5.1" ry="3.2" transform="rotate(50 511.2 212.7)" fill="#bc40cc" opacity="0.88"/>
<ellipse cx="516.0" cy="154.2" rx="5.1" ry="2.7" transform="rotate(39 516.0 154.2)" fill="#c64cd6" opacity="0.88"/>
<ellipse cx="442.4" cy="178.0" rx="4.8" ry="2.9" transform="rotate(48 442.4 178.0)" fill="#bc40cc" opacity="0.88"/>
<ellipse cx="512.7" cy="194.9" rx="7.9" ry="3.0" transform="rotate(99 512.7 194.9)" fill="#c64cd6" opacity="0.88"/>
<ellipse cx="495.7" cy="213.1" rx="3.2" ry="2.6" transform="rotate(52 495.7 213.1)" fill="#bc40cc" opacity="0.88"/>
<ellipse cx="526.8" cy="230.6" rx="4.9" ry="3.2" transform="rotate(150 526.8 230.6)" fill="#a834bc" opacity="0.88"/>
<ellipse cx="472.5" cy="159.6" rx="4.3" ry="4.4" transform="rotate(117 472.5 159.6)" fill="#a834bc" opacity="0.88"/>
<ellipse cx="490.8" cy="163.4" rx="5.3" ry="2.7" transform="rotate(167 490.8 163.4)" fill="#a834bc" opacity="0.88"/>
<ellipse cx="507.7" cy="228.0" rx="6.9" ry="2.6" transform="rotate(6 507.7 228.0)" fill="#c64cd6" opacity="0.88"/>
<ellipse cx="475.9" cy="144.1" rx="7.6" ry="3.5" transform="rotate(129 475.9 144.1)" fill="#a834bc" opacity="0.88"/>
<ellipse cx="504.4" cy="179.7" rx="7.6" ry="3.2" transform="rotate(48 504.4 179.7)" fill="#a834bc" opacity="0.88"/>
<ellipse cx="514.4" cy="195.2" rx="6.7" ry="3.1" transform="rotate(105 514.4 195.2)" fill="#c64cd6" opacity="0.88"/>
<ellipse cx="455.6" cy="244.7" rx="5.5" ry="2.2" transform="rotate(8 455.6 244.7)" fill="#bc40cc" opacity="0.88"/>
<ellipse cx="448.1" cy="154.3" rx="6.4" ry="3.6" transform="rotate(69 448.1 154.3)" fill="#9a2cac" opacity="0.88"/>
<ellipse cx="490.3" cy="241.9" rx="7.3" ry="2.0" transform="rotate(130 490.3 241.9)" fill="#c64cd6" opacity="0.88"/>
<ellipse cx="517.1" cy="173.7" rx="4.5" ry="2.4" transform="rotate(1 517.1 173.7)" fill="#c64cd6" opacity="0.88"/>
<ellipse cx="539.9" cy="219.3" rx="5.5" ry="2.3" transform="rotate(113 539.9 219.3)" fill="#a834bc" opacity="0.88"/>
<ellipse cx="448.1" cy="219.4" rx="5.7" ry="4.0" transform="rotate(95 448.1 219.4)" fill="#bc40cc" opacity="0.88"/>
<ellipse cx="498.1" cy="189.8" rx="3.6" ry="2.9" transform="rotate(177 498.1 189.8)" fill="#c64cd6" opacity="0.88"/>
<ellipse cx="457.8" cy="163.0" rx="5.8" ry="2.2" transform="rotate(132 457.8 163.0)" fill="#bc40cc" opacity="0.88"/>
<ellipse cx="540.5" cy="194.5" rx="3.6" ry="3.7" transform="rotate(170 540.5 194.5)" fill="#a834bc" opacity="0.88"/>
<ellipse cx="460.7" cy="231.2" rx="5.1" ry="2.6" transform="rotate(97 460.7 231.2)" fill="#a834bc" opacity="0.88"/>
<ellipse cx="510.9" cy="180.1" rx="6.4" ry="3.0" transform="rotate(162 510.9 180.1)" fill="#9a2cac" opacity="0.88"/>
<ellipse cx="444.6" cy="161.3" rx="4.7" ry="3.5" transform="rotate(41 444.6 161.3)" fill="#a834bc" opacity="0.88"/>
<ellipse cx="431.8" cy="213.4" rx="3.3" ry="2.2" transform="rotate(6 431.8 213.4)" fill="#c64cd6" opacity="0.88"/>
<ellipse cx="438.9" cy="162.7" rx="6.3" ry="2.6" transform="rotate(24 438.9 162.7)" fill="#9a2cac" opacity="0.88"/>
<ellipse cx="458.2" cy="188.1" rx="5.0" ry="2.2" transform="rotate(119 458.2 188.1)" fill="#c64cd6" opacity="0.88"/>
<ellipse cx="478.4" cy="187.4" rx="6.6" ry="3.8" transform="rotate(177 478.4 187.4)" fill="#bc40cc" opacity="0.88"/>
<ellipse cx="437.8" cy="215.6" rx="7.0" ry="2.3" transform="rotate(34 437.8 215.6)" fill="#9a2cac" opacity="0.88"/>
<ellipse cx="446.7" cy="156.8" rx="5.3" ry="4.3" transform="rotate(14 446.7 156.8)" fill="#bc40cc" opacity="0.88"/>
<ellipse cx="436.7" cy="244.9" rx="7.2" ry="4.5" transform="rotate(167 436.7 244.9)" fill="#a834bc" opacity="0.88"/>
<ellipse cx="449.6" cy="189.4" rx="4.1" ry="3.0" transform="rotate(11 449.6 189.4)" fill="#9a2cac" opacity="0.88"/>
<ellipse cx="431.2" cy="179.2" rx="7.6" ry="4.0" transform="rotate(51 431.2 179.2)" fill="#9a2cac" opacity="0.88"/>
<ellipse cx="448.3" cy="169.0" rx="7.8" ry="3.5" transform="rotate(98 448.3 169.0)" fill="#c64cd6" opacity="0.88"/>
<ellipse cx="437.4" cy="200.1" rx="5.5" ry="4.2" transform="rotate(28 437.4 200.1)" fill="#bc40cc" opacity="0.88"/>
<ellipse cx="526.4" cy="144.4" rx="3.3" ry="4.2" transform="rotate(73 526.4 144.4)" fill="#a834bc" opacity="0.88"/>
<ellipse cx="495.8" cy="141.3" rx="3.4" ry="3.7" transform="rotate(102 495.8 141.3)" fill="#c64cd6" opacity="0.88"/>
<ellipse cx="535.7" cy="159.1" rx="6.6" ry="2.6" transform="rotate(71 535.7 159.1)" fill="#c64cd6" opacity="0.88"/>
<ellipse cx="482.2" cy="237.3" rx="7.7" ry="2.0" transform="rotate(112 482.2 237.3)" fill="#bc40cc" opacity="0.88"/>
<ellipse cx="439.2" cy="160.0" rx="4.3" ry="4.4" transform="rotate(159 439.2 160.0)" fill="#a834bc" opacity="0.88"/>
<ellipse cx="472.4" cy="154.0" rx="7.2" ry="3.8" transform="rotate(110 472.4 154.0)" fill="#bc40cc" opacity="0.88"/>
<ellipse cx="505.8" cy="196.9" rx="7.7" ry="2.3" transform="rotate(158 505.8 196.9)" fill="#c64cd6" opacity="0.88"/>
<ellipse cx="443.9" cy="148.6" rx="5.8" ry="2.7" transform="rotate(109 443.9 148.6)" fill="#c64cd6" opacity="0.88"/>
<ellipse cx="453.8" cy="205.5" rx="4.3" ry="3.3" transform="rotate(163 453.8 205.5)" fill="#bc40cc" opacity="0.88"/>
<ellipse cx="441.3" cy="182.7" rx="4.4" ry="2.0" transform="rotate(139 441.3 182.7)" fill="#c64cd6" opacity="0.88"/>
<ellipse cx="449.1" cy="184.7" rx="6.5" ry="3.5" transform="rotate(20 449.1 184.7)" fill="#a834bc" opacity="0.88"/>
<ellipse cx="492.1" cy="227.1" rx="5.9" ry="2.4" transform="rotate(23 492.1 227.1)" fill="#c64cd6" opacity="0.88"/>
<ellipse cx="471.8" cy="237.8" rx="7.9" ry="2.1" transform="rotate(64 471.8 237.8)" fill="#a834bc" opacity="0.88"/>
<ellipse cx="505.7" cy="175.2" rx="5.8" ry="4.3" transform="rotate(175 505.7 175.2)" fill="#a834bc" opacity="0.88"/>
<ellipse cx="534.7" cy="162.6" rx="3.8" ry="4.1" transform="rotate(32 534.7 162.6)" fill="#9a2cac" opacity="0.88"/>
<ellipse cx="433.8" cy="216.5" rx="4.7" ry="4.4" transform="rotate(144 433.8 216.5)" fill="#a834bc" opacity="0.88"/>
<ellipse cx="460.9" cy="222.0" rx="3.5" ry="4.3" transform="rotate(155 460.9 222.0)" fill="#a834bc" opacity="0.88"/>
<ellipse cx="453.4" cy="236.2" rx="4.7" ry="4.1" transform="rotate(157 453.4 236.2)" fill="#a834bc" opacity="0.88"/>
<ellipse cx="433.7" cy="157.9" rx="4.6" ry="4.2" transform="rotate(174 433.7 157.9)" fill="#c64cd6" opacity="0.88"/>
<ellipse cx="470.3" cy="192.0" rx="6.4" ry="4.2" transform="rotate(60 470.3 192.0)" fill="#bc40cc" opacity="0.88"/>
<ellipse cx="443.9" cy="241.8" rx="3.9" ry="4.5" transform="rotate(48 443.9 241.8)" fill="#bc40cc" opacity="0.88"/>
<ellipse cx="497.8" cy="174.3" rx="6.9" ry="3.1" transform="rotate(177 497.8 174.3)" fill="#bc40cc" opacity="0.88"/>
<ellipse cx="474.1" cy="199.3" rx="4.3" ry="3.8" transform="rotate(0 474.1 199.3)" fill="#a834bc" opacity="0.88"/>
<ellipse cx="471.8" cy="144.6" rx="6.3" ry="2.9" transform="rotate(57 471.8 144.6)" fill="#bc40cc" opacity="0.88"/>
<ellipse cx="511.6" cy="169.4" rx="4.5" ry="3.1" transform="rotate(72 511.6 169.4)" fill="#c64cd6" opacity="0.88"/>
<ellipse cx="493.1" cy="157.7" rx="6.3" ry="3.0" transform="rotate(135 493.1 157.7)" fill="#a834bc" opacity="0.88"/>
<ellipse cx="499.9" cy="169.5" rx="5.7" ry="2.0" transform="rotate(52 499.9 169.5)" fill="#9a2cac" opacity="0.88"/>
<ellipse cx="519.0" cy="202.5" rx="4.6" ry="3.1" transform="rotate(122 519.0 202.5)" fill="#9a2cac" opacity="0.88"/>
<ellipse cx="519.9" cy="240.7" rx="6.7" ry="3.7" transform="rotate(51 519.9 240.7)" fill="#c64cd6" opacity="0.88"/>
<ellipse cx="441.5" cy="239.8" rx="4.2" ry="2.8" transform="rotate(145 441.5 239.8)" fill="#a834bc" opacity="0.88"/>
<ellipse cx="433.7" cy="163.4" rx="5.4" ry="4.2" transform="rotate(13 433.7 163.4)" fill="#9a2cac" opacity="0.88"/>
<ellipse cx="530.2" cy="199.2" rx="6.6" ry="3.0" transform="rotate(72 530.2 199.2)" fill="#a834bc" opacity="0.88"/>
<ellipse cx="504.5" cy="137.6" rx="6.8" ry="4.0" transform="rotate(19 504.5 137.6)" fill="#9a2cac" opacity="0.88"/>
<ellipse cx="455.5" cy="223.8" rx="6.5" ry="3.2" transform="rotate(100 455.5 223.8)" fill="#bc40cc" opacity="0.88"/>
<ellipse cx="482.1" cy="223.6" rx="6.3" ry="4.6" transform="rotate(107 482.1 223.6)" fill="#9a2cac" opacity="0.88"/>
<ellipse cx="499.6" cy="214.7" rx="5.5" ry="4.2" transform="rotate(99 499.6 214.7)" fill="#a834bc" opacity="0.88"/>
<ellipse cx="514.3" cy="188.3" rx="4.3" ry="2.6" transform="rotate(115 514.3 188.3)" fill="#9a2cac" opacity="0.88"/>
<ellipse cx="501.2" cy="166.7" rx="3.4" ry="2.7" transform="rotate(49 501.2 166.7)" fill="#c64cd6" opacity="0.88"/>
<ellipse cx="531.0" cy="145.7" rx="3.8" ry="3.0" transform="rotate(28 531.0 145.7)" fill="#a834bc" opacity="0.88"/>
<ellipse cx="438.2" cy="181.0" rx="5.7" ry="3.1" transform="rotate(37 438.2 181.0)" fill="#9a2cac" opacity="0.88"/>
<ellipse cx="474.6" cy="220.1" rx="7.7" ry="2.1" transform="rotate(159 474.6 220.1)" fill="#9a2cac" opacity="0.88"/>
<ellipse cx="484.4" cy="238.8" rx="4.5" ry="3.0" transform="rotate(160 484.4 238.8)" fill="#9a2cac" opacity="0.88"/>
<ellipse cx="491.3" cy="216.3" rx="7.0" ry="4.3" transform="rotate(88 491.3 216.3)" fill="#c64cd6" opacity="0.88"/>
<ellipse cx="479.8" cy="140.1" rx="4.7" ry="3.8" transform="rotate(73 479.8 140.1)" fill="#a834bc" opacity="0.88"/>
<ellipse cx="525.1" cy="236.3" rx="7.9" ry="3.4" transform="rotate(163 525.1 236.3)" fill="#bc40cc" opacity="0.88"/>
<ellipse cx="440.4" cy="183.3" rx="7.3" ry="2.5" transform="rotate(47 440.4 183.3)" fill="#c64cd6" opacity="0.88"/>
<ellipse cx="454.7" cy="172.3" rx="6.8" ry="3.0" transform="rotate(135 454.7 172.3)" fill="#9a2cac" opacity="0.88"/>
<ellipse cx="459.3" cy="145.8" rx="3.1" ry="3.4" transform="rotate(180 459.3 145.8)" fill="#c64cd6" opacity="0.88"/>
<ellipse cx="456.1" cy="144.4" rx="7.8" ry="2.1" transform="rotate(6 456.1 144.4)" fill="#a834bc" opacity="0.88"/>
<ellipse cx="453.3" cy="139.2" rx="3.8" ry="2.3" transform="rotate(121 453.3 139.2)" fill="#a834bc" opacity="0.88"/>
<ellipse cx="483.1" cy="164.7" rx="4.8" ry="3.6" transform="rotate(173 483.1 164.7)" fill="#bc40cc" opacity="0.88"/>
<ellipse cx="518.1" cy="154.7" rx="4.6" ry="3.5" transform="rotate(167 518.1 154.7)" fill="#9a2cac" opacity="0.88"/>
<ellipse cx="475.4" cy="214.2" rx="3.4" ry="3.8" transform="rotate(113 475.4 214.2)" fill="#bc40cc" opacity="0.88"/>
<ellipse cx="509.1" cy="169.6" rx="6.4" ry="4.1" transform="rotate(143 509.1 169.6)" fill="#bc40cc" opacity="0.88"/>
<ellipse cx="469.9" cy="183.3" rx="4.9" ry="3.3" transform="rotate(61 469.9 183.3)" fill="#9a2cac" opacity="0.88"/>
<ellipse cx="523.1" cy="148.4" rx="7.8" ry="3.7" transform="rotate(149 523.1 148.4)" fill="#a834bc" opacity="0.88"/>
<ellipse cx="479.8" cy="216.2" rx="7.8" ry="2.7" transform="rotate(145 479.8 216.2)" fill="#9a2cac" opacity="0.88"/>
<ellipse cx="483.1" cy="226.2" rx="6.0" ry="2.8" transform="rotate(44 483.1 226.2)" fill="#bc40cc" opacity="0.88"/>
<ellipse cx="462.2" cy="185.7" rx="6.8" ry="3.5" transform="rotate(120 462.2 185.7)" fill="#c64cd6" opacity="0.88"/>
<ellipse cx="434.2" cy="228.9" rx="3.9" ry="2.6" transform="rotate(144 434.2 228.9)" fill="#c64cd6" opacity="0.88"/>
<ellipse cx="462.3" cy="201.4" rx="7.4" ry="3.4" transform="rotate(93 462.3 201.4)" fill="#a834bc" opacity="0.88"/>
<ellipse cx="440.6" cy="214.8" rx="5.4" ry="4.0" transform="rotate(124 440.6 214.8)" fill="#9a2cac" opacity="0.88"/>
<ellipse cx="481.2" cy="138.9" rx="4.5" ry="3.1" transform="rotate(44 481.2 138.9)" fill="#c64cd6" opacity="0.88"/>
<ellipse cx="484.0" cy="194.3" rx="5.1" ry="3.9" transform="rotate(60 484.0 194.3)" fill="#9a2cac" opacity="0.88"/>
<ellipse cx="461.3" cy="164.2" rx="3.6" ry="2.5" transform="rotate(22 461.3 164.2)" fill="#a834bc" opacity="0.88"/>
<ellipse cx="452.5" cy="216.8" rx="4.4" ry="3.5" transform="rotate(137 452.5 216.8)" fill="#c64cd6" opacity="0.88"/>
<ellipse cx="540.8" cy="226.9" rx="4.5" ry="2.9" transform="rotate(54 540.8 226.9)" fill="#a834bc" opacity="0.88"/>
<ellipse cx="461.7" cy="242.2" rx="5.8" ry="3.8" transform="rotate(23 461.7 242.2)" fill="#9a2cac" opacity="0.88"/>
<ellipse cx="442.5" cy="138.3" rx="4.4" ry="3.2" transform="rotate(61 442.5 138.3)" fill="#bc40cc" opacity="0.88"/>
<ellipse cx="459.3" cy="230.1" rx="3.6" ry="2.2" transform="rotate(89 459.3 230.1)" fill="#bc40cc" opacity="0.88"/>
<ellipse cx="448.0" cy="224.6" rx="7.7" ry="2.2" transform="rotate(45 448.0 224.6)" fill="#9a2cac" opacity="0.88"/>
<ellipse cx="498.9" cy="222.4" rx="4.1" ry="3.4" transform="rotate(81 498.9 222.4)" fill="#9a2cac" opacity="0.88"/>
<ellipse cx="464.3" cy="200.6" rx="5.1" ry="3.5" transform="rotate(11 464.3 200.6)" fill="#bc40cc" opacity="0.88"/>
<ellipse cx="537.1" cy="159.4" rx="4.1" ry="3.7" transform="rotate(28 537.1 159.4)" fill="#a834bc" opacity="0.88"/>
<ellipse cx="492.8" cy="153.9" rx="5.0" ry="3.8" transform="rotate(85 492.8 153.9)" fill="#bc40cc" opacity="0.88"/>
<ellipse cx="456.9" cy="213.4" rx="6.5" ry="3.2" transform="rotate(124 456.9 213.4)" fill="#c64cd6" opacity="0.88"/>
<ellipse cx="519.2" cy="204.5" rx="6.3" ry="4.4" transform="rotate(77 519.2 204.5)" fill="#a834bc" opacity="0.88"/>
<ellipse cx="503.5" cy="235.1" rx="7.1" ry="2.2" transform="rotate(30 503.5 235.1)" fill="#c64cd6" opacity="0.88"/>
<ellipse cx="497.6" cy="226.0" rx="7.6" ry="3.1" transform="rotate(84 497.6 226.0)" fill="#c64cd6" opacity="0.88"/>
<ellipse cx="509.4" cy="238.8" rx="5.5" ry="3.3" transform="rotate(14 509.4 238.8)" fill="#bc40cc" opacity="0.88"/>
<ellipse cx="530.6" cy="216.3" rx="6.0" ry="2.1" transform="rotate(41 530.6 216.3)" fill="#bc40cc" opacity="0.88"/>
<ellipse cx="543.0" cy="209.6" rx="4.3" ry="2.1" transform="rotate(136 543.0 209.6)" fill="#9a2cac" opacity="0.88"/>
<ellipse cx="489.1" cy="184.8" rx="4.4" ry="4.6" transform="rotate(78 489.1 184.8)" fill="#9a2cac" opacity="0.88"/>
<ellipse cx="539.5" cy="187.8" rx="5.0" ry="2.8" transform="rotate(19 539.5 187.8)" fill="#a834bc" opacity="0.88"/>
<ellipse cx="467.9" cy="211.9" rx="4.4" ry="4.5" transform="rotate(146 467.9 211.9)" fill="#bc40cc" opacity="0.88"/>
<ellipse cx="481.9" cy="171.0" rx="4.6" ry="4.5" transform="rotate(73 481.9 171.0)" fill="#bc40cc" opacity="0.88"/>
<ellipse cx="504.7" cy="195.6" rx="5.1" ry="2.5" transform="rotate(65 504.7 195.6)" fill="#9a2cac" opacity="0.88"/>
<ellipse cx="501.0" cy="219.1" rx="4.0" ry="3.4" transform="rotate(167 501.0 219.1)" fill="#9a2cac" opacity="0.88"/>
<ellipse cx="529.7" cy="189.3" rx="3.1" ry="3.6" transform="rotate(144 529.7 189.3)" fill="#a834bc" opacity="0.88"/>
<ellipse cx="465.8" cy="138.5" rx="5.0" ry="2.6" transform="rotate(151 465.8 138.5)" fill="#bc40cc" opacity="0.88"/>
<ellipse cx="482.7" cy="149.7" rx="7.2" ry="3.3" transform="rotate(129 482.7 149.7)" fill="#c64cd6" opacity="0.88"/>
<ellipse cx="477.5" cy="189.1" rx="5.4" ry="3.2" transform="rotate(26 477.5 189.1)" fill="#a834bc" opacity="0.88"/>
<ellipse cx="534.2" cy="191.9" rx="7.4" ry="4.2" transform="rotate(50 534.2 191.9)" fill="#9a2cac" opacity="0.88"/>
<ellipse cx="469.1" cy="222.1" rx="4.3" ry="2.0" transform="rotate(131 469.1 222.1)" fill="#9a2cac" opacity="0.88"/>
<ellipse cx="527.9" cy="185.2" rx="5.4" ry="2.9" transform="rotate(137 527.9 185.2)" fill="#9a2cac" opacity="0.88"/>
<ellipse cx="482.0" cy="171.8" rx="3.9" ry="3.8" transform="rotate(103 482.0 171.8)" fill="#a834bc" opacity="0.88"/>
<ellipse cx="526.9" cy="181.4" rx="4.6" ry="3.2" transform="rotate(164 526.9 181.4)" fill="#9a2cac" opacity="0.88"/>
<ellipse cx="474.2" cy="208.7" rx="7.1" ry="4.6" transform="rotate(89 474.2 208.7)" fill="#bc40cc" opacity="0.88"/>
<ellipse cx="445.1" cy="241.3" rx="4.7" ry="2.3" transform="rotate(152 445.1 241.3)" fill="#bc40cc" opacity="0.88"/>
<ellipse cx="489.9" cy="186.3" rx="6.6" ry="3.1" transform="rotate(118 489.9 186.3)" fill="#a834bc" opacity="0.88"/>
<ellipse cx="439.4" cy="221.4" rx="4.3" ry="3.6" transform="rotate(72 439.4 221.4)" fill="#bc40cc" opacity="0.88"/>
<ellipse cx="526.4" cy="229.1" rx="7.3" ry="3.0" transform="rotate(57 526.4 229.1)" fill="#9a2cac" opacity="0.88"/>
<ellipse cx="528.7" cy="140.9" rx="3.3" ry="3.6" transform="rotate(166 528.7 140.9)" fill="#a834bc" opacity="0.88"/>
<ellipse cx="514.6" cy="183.9" rx="3.5" ry="3.6" transform="rotate(157 514.6 183.9)" fill="#9a2cac" opacity="0.88"/>
<ellipse cx="449.6" cy="169.3" rx="3.1" ry="2.8" transform="rotate(10 449.6 169.3)" fill="#c64cd6" opacity="0.88"/>
<ellipse cx="473.0" cy="152.7" rx="5.7" ry="3.5" transform="rotate(143 473.0 152.7)" fill="#a834bc" opacity="0.88"/>
<ellipse cx="450.6" cy="202.8" rx="4.9" ry="3.8" transform="rotate(90 450.6 202.8)" fill="#a834bc" opacity="0.88"/>
<ellipse cx="457.0" cy="205.9" rx="5.3" ry="3.7" transform="rotate(162 457.0 205.9)" fill="#9a2cac" opacity="0.88"/>
<ellipse cx="531.9" cy="210.2" rx="3.8" ry="3.1" transform="rotate(62 531.9 210.2)" fill="#c64cd6" opacity="0.88"/>
<ellipse cx="502.6" cy="182.8" rx="4.3" ry="4.2" transform="rotate(36 502.6 182.8)" fill="#9a2cac" opacity="0.88"/>
<ellipse cx="526.6" cy="148.5" rx="4.9" ry="2.9" transform="rotate(53 526.6 148.5)" fill="#c64cd6" opacity="0.88"/>
<ellipse cx="433.5" cy="226.6" rx="5.0" ry="2.0" transform="rotate(156 433.5 226.6)" fill="#bc40cc" opacity="0.88"/>
<ellipse cx="533.0" cy="217.5" rx="7.2" ry="4.3" transform="rotate(140 533.0 217.5)" fill="#a834bc" opacity="0.88"/>
<ellipse cx="499.0" cy="175.1" rx="6.2" ry="3.6" transform="rotate(122 499.0 175.1)" fill="#a834bc" opacity="0.88"/>
<ellipse cx="501.4" cy="234.6" rx="6.2" ry="2.8" transform="rotate(79 501.4 234.6)" fill="#c64cd6" opacity="0.88"/>
<ellipse cx="513.0" cy="146.7" rx="4.5" ry="3.9" transform="rotate(32 513.0 146.7)" fill="#a834bc" opacity="0.88"/>
<ellipse cx="519.1" cy="231.7" rx="4.8" ry="3.3" transform="rotate(49 519.1 231.7)" fill="#a834bc" opacity="0.88"/>
<ellipse cx="459.8" cy="226.1" rx="5.4" ry="4.1" transform="rotate(134 459.8 226.1)" fill="#c64cd6" opacity="0.88"/>
<ellipse cx="521.1" cy="187.6" rx="3.4" ry="4.0" transform="rotate(41 521.1 187.6)" fill="#9a2cac" opacity="0.88"/>
<ellipse cx="539.3" cy="223.9" rx="4.8" ry="4.1" transform="rotate(3 539.3 223.9)" fill="#bc40cc" opacity="0.88"/>
<ellipse cx="481.9" cy="209.7" rx="6.4" ry="3.5" transform="rotate(148 481.9 209.7)" fill="#c64cd6" opacity="0.88"/>
<ellipse cx="443.1" cy="162.3" rx="3.1" ry="4.3" transform="rotate(101 443.1 162.3)" fill="#a834bc" opacity="0.88"/>
<ellipse cx="503.5" cy="205.6" rx="5.3" ry="3.8" transform="rotate(117 503.5 205.6)" fill="#bc40cc" opacity="0.88"/>
<ellipse cx="446.7" cy="239.2" rx="4.5" ry="3.3" transform="rotate(17 446.7 239.2)" fill="#a834bc" opacity="0.88"/>
<ellipse cx="474.5" cy="177.1" rx="7.7" ry="3.8" transform="rotate(97 474.5 177.1)" fill="#a834bc" opacity="0.88"/>
<ellipse cx="530.2" cy="207.7" rx="7.2" ry="3.6" transform="rotate(169 530.2 207.7)" fill="#c64cd6" opacity="0.88"/>
<ellipse cx="434.7" cy="177.0" rx="5.2" ry="4.5" transform="rotate(154 434.7 177.0)" fill="#bc40cc" opacity="0.88"/>
<ellipse cx="540.9" cy="176.7" rx="7.5" ry="3.7" transform="rotate(11 540.9 176.7)" fill="#c64cd6" opacity="0.88"/>
<ellipse cx="452.3" cy="150.2" rx="7.2" ry="3.2" transform="rotate(119 452.3 150.2)" fill="#bc40cc" opacity="0.88"/>
<ellipse cx="436.7" cy="173.0" rx="7.9" ry="4.0" transform="rotate(37 436.7 173.0)" fill="#a834bc" opacity="0.88"/>
<ellipse cx="496.7" cy="224.8" rx="4.2" ry="4.0" transform="rotate(142 496.7 224.8)" fill="#bc40cc" opacity="0.88"/>
<ellipse cx="462.1" cy="243.3" rx="7.9" ry="3.4" transform="rotate(144 462.1 243.3)" fill="#bc40cc" opacity="0.88"/>
<ellipse cx="505.0" cy="139.8" rx="3.1" ry="4.1" transform="rotate(43 505.0 139.8)" fill="#c64cd6" opacity="0.88"/>
<ellipse cx="435.2" cy="174.1" rx="2.1" ry="2.3" fill="#0a030a" opacity="0.85"/>
<ellipse cx="445.5" cy="155.8" rx="2.9" ry="2.2" fill="#0a030a" opacity="0.85"/>
<ellipse cx="496.4" cy="191.1" rx="2.3" ry="2.7" fill="#0a030a" opacity="0.85"/>
<ellipse cx="510.6" cy="232.7" rx="3.4" ry="2.1" fill="#0a030a" opacity="0.85"/>
<ellipse cx="501.7" cy="152.8" rx="4.2" ry="3.1" fill="#0a030a" opacity="0.85"/>
<ellipse cx="478.7" cy="159.8" rx="3.5" ry="2.3" fill="#0a030a" opacity="0.85"/>
<ellipse cx="528.8" cy="179.3" rx="2.2" ry="1.7" fill="#0a030a" opacity="0.85"/>
<ellipse cx="499.7" cy="203.3" rx="3.5" ry="2.2" fill="#0a030a" opacity="0.85"/>
<ellipse cx="496.8" cy="176.8" rx="3.0" ry="2.3" fill="#0a030a" opacity="0.85"/>
<ellipse cx="517.6" cy="160.4" rx="3.4" ry="3.2" fill="#0a030a" opacity="0.85"/>
<ellipse cx="491.9" cy="228.8" rx="2.8" ry="3.2" fill="#0a030a" opacity="0.85"/>
<ellipse cx="477.4" cy="225.3" rx="2.8" ry="2.9" fill="#0a030a" opacity="0.85"/>
<ellipse cx="466.6" cy="178.4" rx="2.4" ry="3.3" fill="#0a030a" opacity="0.85"/>
<ellipse cx="506.3" cy="193.2" rx="2.0" ry="1.7" fill="#0a030a" opacity="0.85"/>
<ellipse cx="479.3" cy="217.8" rx="2.7" ry="1.7" fill="#0a030a" opacity="0.85"/>
<ellipse cx="439.9" cy="237.1" rx="3.1" ry="2.8" fill="#0a030a" opacity="0.85"/>
<ellipse cx="477.0" cy="229.5" rx="4.1" ry="2.3" fill="#0a030a" opacity="0.85"/>
<ellipse cx="530.6" cy="154.7" rx="2.5" ry="2.1" fill="#0a030a" opacity="0.85"/>
<ellipse cx="444.5" cy="196.2" rx="2.2" ry="2.4" fill="#0a030a" opacity="0.85"/>
<ellipse cx="523.3" cy="181.9" rx="3.1" ry="1.7" fill="#0a030a" opacity="0.85"/>
<ellipse cx="463.0" cy="170.6" rx="2.8" ry="2.6" fill="#0a030a" opacity="0.85"/>
<ellipse cx="514.8" cy="206.6" rx="3.4" ry="2.6" fill="#0a030a" opacity="0.85"/>
<ellipse cx="498.1" cy="209.9" rx="3.5" ry="1.6" fill="#0a030a" opacity="0.85"/>
<ellipse cx="462.5" cy="219.4" rx="4.0" ry="2.2" fill="#0a030a" opacity="0.85"/>
<ellipse cx="452.7" cy="163.0" rx="3.4" ry="1.6" fill="#0a030a" opacity="0.85"/>
<ellipse cx="512.0" cy="238.4" rx="2.0" ry="2.5" fill="#0a030a" opacity="0.85"/>
<ellipse cx="473.4" cy="191.3" rx="2.2" ry="2.1" fill="#0a030a" opacity="0.85"/>
<ellipse cx="467.9" cy="235.7" rx="3.2" ry="3.2" fill="#0a030a" opacity="0.85"/>
<ellipse cx="450.0" cy="218.7" rx="1.9" ry="1.7" fill="#0a030a" opacity="0.85"/>
<ellipse cx="480.5" cy="188.6" rx="3.3" ry="2.3" fill="#0a030a" opacity="0.85"/>
<ellipse cx="456.4" cy="196.6" rx="2.6" ry="1.7" fill="#0a030a" opacity="0.85"/>
<ellipse cx="505.4" cy="204.0" rx="3.1" ry="2.1" fill="#0a030a" opacity="0.85"/>
<ellipse cx="456.9" cy="239.6" rx="1.9" ry="1.9" fill="#0a030a" opacity="0.85"/>
<ellipse cx="533.7" cy="219.8" rx="3.6" ry="2.0" fill="#0a030a" opacity="0.85"/>
<ellipse cx="446.2" cy="195.3" rx="2.8" ry="1.7" fill="#0a030a" opacity="0.85"/>
<ellipse cx="490.0" cy="170.9" rx="3.1" ry="2.8" fill="#0a030a" opacity="0.85"/>
<ellipse cx="471.0" cy="186.1" rx="3.6" ry="2.3" fill="#0a030a" opacity="0.85"/>
<ellipse cx="482.2" cy="157.1" rx="2.6" ry="2.3" fill="#0a030a" opacity="0.85"/>
<ellipse cx="476.4" cy="208.3" rx="2.5" ry="2.3" fill="#0a030a" opacity="0.85"/>
<ellipse cx="535.9" cy="165.6" rx="4.1" ry="2.4" fill="#0a030a" opacity="0.85"/>
<ellipse cx="506.6" cy="182.9" rx="2.8" ry="1.7" fill="#0a030a" opacity="0.85"/>
<ellipse cx="479.7" cy="186.4" rx="2.0" ry="3.2" fill="#0a030a" opacity="0.85"/>
<ellipse cx="512.6" cy="170.2" rx="3.7" ry="1.6" fill="#0a030a" opacity="0.85"/>
<ellipse cx="500.6" cy="198.3" rx="2.3" ry="3.0" fill="#0a030a" opacity="0.85"/>
<ellipse cx="470.7" cy="237.2" rx="3.3" ry="1.8" fill="#0a030a" opacity="0.85"/>
<ellipse cx="444.4" cy="173.3" rx="2.2" ry="1.8" fill="#0a030a" opacity="0.85"/>
<ellipse cx="514.0" cy="156.9" rx="4.1" ry="2.7" fill="#0a030a" opacity="0.85"/>
<ellipse cx="482.7" cy="201.3" rx="3.2" ry="2.8" fill="#0a030a" opacity="0.85"/>
<ellipse cx="527.0" cy="208.5" rx="4.2" ry="2.1" fill="#0a030a" opacity="0.85"/>
<ellipse cx="536.4" cy="178.8" rx="2.9" ry="2.4" fill="#0a030a" opacity="0.85"/>
<ellipse cx="500.4" cy="222.5" rx="3.2" ry="2.2" fill="#0a030a" opacity="0.85"/>
<ellipse cx="441.4" cy="192.0" rx="1.9" ry="2.2" fill="#0a030a" opacity="0.85"/>
<ellipse cx="463.9" cy="208.7" rx="4.1" ry="1.7" fill="#0a030a" opacity="0.85"/>
<ellipse cx="496.5" cy="185.0" rx="3.2" ry="3.3" fill="#0a030a" opacity="0.85"/>
<ellipse cx="511.8" cy="153.7" rx="4.0" ry="2.6" fill="#0a030a" opacity="0.85"/>
<ellipse cx="453.5" cy="205.1" rx="3.0" ry="3.3" fill="#0a030a" opacity="0.85"/>
<ellipse cx="481.3" cy="223.8" rx="3.8" ry="3.4" fill="#0a030a" opacity="0.85"/>
<ellipse cx="442.4" cy="208.8" rx="1.9" ry="2.8" fill="#0a030a" opacity="0.85"/>
<ellipse cx="538.5" cy="197.7" rx="3.3" ry="2.2" fill="#0a030a" opacity="0.85"/>
<ellipse cx="530.8" cy="185.3" rx="3.7" ry="2.8" fill="#0a030a" opacity="0.85"/>
<ellipse cx="439.1" cy="207.4" rx="2.6" ry="2.1" fill="#0a030a" opacity="0.85"/>
<ellipse cx="492.6" cy="185.2" rx="2.4" ry="3.1" fill="#0a030a" opacity="0.85"/>
<ellipse cx="535.7" cy="204.8" rx="2.2" ry="1.7" fill="#0a030a" opacity="0.85"/>
<ellipse cx="503.8" cy="233.4" rx="2.5" ry="2.7" fill="#0a030a" opacity="0.85"/>
<ellipse cx="503.7" cy="161.7" rx="3.5" ry="1.7" fill="#0a030a" opacity="0.85"/>
<ellipse cx="492.7" cy="208.6" rx="2.6" ry="1.7" fill="#0a030a" opacity="0.85"/>
<ellipse cx="508.0" cy="236.2" rx="4.2" ry="3.2" fill="#0a030a" opacity="0.85"/>
<ellipse cx="443.4" cy="211.0" rx="3.0" ry="1.5" fill="#0a030a" opacity="0.85"/>
<ellipse cx="466.2" cy="236.6" rx="2.6" ry="3.0" fill="#0a030a" opacity="0.85"/>
<ellipse cx="453.9" cy="241.0" rx="2.2" ry="2.1" fill="#0a030a" opacity="0.85"/>
</g>
<path d="M433.5,136 L433.5,152 C438.5,150 443.5,148.5 450.5,147 C458.5,145.5 465.5,143.5 473.5,140.5 C480.5,138.5 488.5,136.8 496.5,137 C503.5,139 511.5,141.5 518.5,143 C526.5,144.5 533.5,145.5 540.5,145 L540.5,136 Z" fill="#040204" filter="url(#bl2)"/>
<ellipse cx="443.5" cy="155" rx="7" ry="4" fill="#b83cc8" opacity="0.85" filter="url(#bl1)"/>
<ellipse cx="458.5" cy="151" rx="6" ry="3.5" fill="#b83cc8" opacity="0.85" filter="url(#bl1)"/>
<ellipse cx="503.5" cy="141" rx="6" ry="3" fill="#b83cc8" opacity="0.85" filter="url(#bl1)"/>
<ellipse cx="509.5" cy="146" rx="5" ry="3" fill="#b83cc8" opacity="0.85" filter="url(#bl1)"/>
<ellipse cx="473.5" cy="146" rx="5" ry="3" fill="#b83cc8" opacity="0.85" filter="url(#bl1)"/>
<g filter="url(#bl2)">
<ellipse cx="480.8" cy="145.1" rx="3.5" ry="2.9" transform="rotate(142 480.8 145.1)" fill="#36b04a" opacity="0.95"/>
<ellipse cx="488.8" cy="145.1" rx="3.5" ry="2.9" transform="rotate(91 488.8 145.1)" fill="#267a34" opacity="0.95"/>
<ellipse cx="475.2" cy="154.2" rx="3.5" ry="2.9" transform="rotate(97 475.2 154.2)" fill="#36b04a" opacity="0.95"/>
<ellipse cx="496.8" cy="150.8" rx="3.5" ry="2.9" transform="rotate(133 496.8 150.8)" fill="#36b04a" opacity="0.95"/>
<ellipse cx="501.4" cy="157.6" rx="3.5" ry="2.9" transform="rotate(95 501.4 157.6)" fill="#36b04a" opacity="0.95"/>
<ellipse cx="519.6" cy="155.4" rx="3.5" ry="2.9" transform="rotate(119 519.6 155.4)" fill="#36b04a" opacity="0.95"/>
<ellipse cx="533.3" cy="157.6" rx="3.5" ry="2.9" transform="rotate(158 533.3 157.6)" fill="#4cdc5c" opacity="0.95"/>
<ellipse cx="460.3" cy="169.0" rx="3.5" ry="2.9" transform="rotate(111 460.3 169.0)" fill="#4cdc5c" opacity="0.95"/>
<ellipse cx="474.0" cy="167.9" rx="3.5" ry="2.9" transform="rotate(108 474.0 167.9)" fill="#4cdc5c" opacity="0.95"/>
<ellipse cx="437.6" cy="172.5" rx="3.5" ry="2.9" transform="rotate(28 437.6 172.5)" fill="#4cdc5c" opacity="0.95"/>
<ellipse cx="505.9" cy="171.3" rx="3.5" ry="2.9" transform="rotate(33 505.9 171.3)" fill="#36b04a" opacity="0.95"/>
<ellipse cx="492.2" cy="174.7" rx="3.5" ry="2.9" transform="rotate(125 492.2 174.7)" fill="#267a34" opacity="0.95"/>
<ellipse cx="500.2" cy="180.4" rx="3.5" ry="2.9" transform="rotate(112 500.2 180.4)" fill="#36b04a" opacity="0.95"/>
<ellipse cx="456.9" cy="183.8" rx="3.5" ry="2.9" transform="rotate(162 456.9 183.8)" fill="#36b04a" opacity="0.95"/>
<ellipse cx="477.4" cy="190.7" rx="3.5" ry="2.9" transform="rotate(130 477.4 190.7)" fill="#36b04a" opacity="0.95"/>
<ellipse cx="441.0" cy="193.0" rx="3.5" ry="2.9" transform="rotate(8 441.0 193.0)" fill="#4cdc5c" opacity="0.95"/>
<ellipse cx="468.3" cy="196.4" rx="3.5" ry="2.9" transform="rotate(66 468.3 196.4)" fill="#36b04a" opacity="0.95"/>
<ellipse cx="531.0" cy="197.5" rx="3.5" ry="2.9" transform="rotate(130 531.0 197.5)" fill="#267a34" opacity="0.95"/>
<ellipse cx="533.3" cy="206.6" rx="3.5" ry="2.9" transform="rotate(175 533.3 206.6)" fill="#267a34" opacity="0.95"/>
<ellipse cx="443.3" cy="214.6" rx="3.5" ry="2.9" transform="rotate(110 443.3 214.6)" fill="#4cdc5c" opacity="0.95"/>
<ellipse cx="470.6" cy="213.5" rx="3.5" ry="2.9" transform="rotate(135 470.6 213.5)" fill="#4cdc5c" opacity="0.95"/>
<ellipse cx="510.5" cy="214.6" rx="3.5" ry="2.9" transform="rotate(141 510.5 214.6)" fill="#36b04a" opacity="0.95"/>
<ellipse cx="519.6" cy="219.2" rx="3.5" ry="2.9" transform="rotate(42 519.6 219.2)" fill="#36b04a" opacity="0.95"/>
<ellipse cx="534.4" cy="218.0" rx="3.5" ry="2.9" transform="rotate(43 534.4 218.0)" fill="#36b04a" opacity="0.95"/>
<ellipse cx="463.8" cy="224.9" rx="3.5" ry="2.9" transform="rotate(174 463.8 224.9)" fill="#36b04a" opacity="0.95"/>
<ellipse cx="474.0" cy="221.4" rx="3.5" ry="2.9" transform="rotate(141 474.0 221.4)" fill="#36b04a" opacity="0.95"/>
<ellipse cx="494.5" cy="230.6" rx="3.5" ry="2.9" transform="rotate(163 494.5 230.6)" fill="#267a34" opacity="0.95"/>
<ellipse cx="533.3" cy="230.6" rx="3.5" ry="2.9" transform="rotate(35 533.3 230.6)" fill="#4cdc5c" opacity="0.95"/>
<ellipse cx="468.3" cy="234.0" rx="3.5" ry="2.9" transform="rotate(122 468.3 234.0)" fill="#36b04a" opacity="0.95"/>
<ellipse cx="490.0" cy="234.0" rx="3.5" ry="2.9" transform="rotate(103 490.0 234.0)" fill="#267a34" opacity="0.95"/>
<ellipse cx="454.6" cy="204.4" rx="3.5" ry="2.9" transform="rotate(79 454.6 204.4)" fill="#267a34" opacity="0.95"/>
</g></g>
<g clip-path="url(#c22)"><rect x="542.0" y="136" width="106.5" height="105.5" fill="#040204"/>
<path d="M542.0,153 C547.0,151 552.0,149 559.0,148 C567.0,146 574.0,144 582.0,141 C589.0,139 597.0,137 605.0,137 C612.0,138 622.0,142 649.0,145 L649.0,242 L542.0,242 Z" fill="#26092c" filter="url(#bl3)"/>
<g filter="url(#bl1)">
<ellipse cx="611.1" cy="139.7" rx="4.4" ry="2.6" transform="rotate(133 611.1 139.7)" fill="#bc40cc" opacity="0.88"/>
<ellipse cx="605.6" cy="140.4" rx="3.5" ry="2.6" transform="rotate(108 605.6 140.4)" fill="#a834bc" opacity="0.88"/>
<ellipse cx="619.7" cy="212.7" rx="5.1" ry="3.2" transform="rotate(50 619.7 212.7)" fill="#bc40cc" opacity="0.88"/>
<ellipse cx="624.5" cy="154.2" rx="5.1" ry="2.7" transform="rotate(39 624.5 154.2)" fill="#c64cd6" opacity="0.88"/>
<ellipse cx="550.9" cy="178.0" rx="4.8" ry="2.9" transform="rotate(48 550.9 178.0)" fill="#bc40cc" opacity="0.88"/>
<ellipse cx="621.2" cy="194.9" rx="7.9" ry="3.0" transform="rotate(99 621.2 194.9)" fill="#c64cd6" opacity="0.88"/>
<ellipse cx="604.2" cy="213.1" rx="3.2" ry="2.6" transform="rotate(52 604.2 213.1)" fill="#bc40cc" opacity="0.88"/>
<ellipse cx="635.3" cy="230.6" rx="4.9" ry="3.2" transform="rotate(150 635.3 230.6)" fill="#a834bc" opacity="0.88"/>
<ellipse cx="581.0" cy="159.6" rx="4.3" ry="4.4" transform="rotate(117 581.0 159.6)" fill="#a834bc" opacity="0.88"/>
<ellipse cx="599.3" cy="163.4" rx="5.3" ry="2.7" transform="rotate(167 599.3 163.4)" fill="#a834bc" opacity="0.88"/>
<ellipse cx="616.2" cy="228.0" rx="6.9" ry="2.6" transform="rotate(6 616.2 228.0)" fill="#c64cd6" opacity="0.88"/>
<ellipse cx="584.4" cy="144.1" rx="7.6" ry="3.5" transform="rotate(129 584.4 144.1)" fill="#a834bc" opacity="0.88"/>
<ellipse cx="612.9" cy="179.7" rx="7.6" ry="3.2" transform="rotate(48 612.9 179.7)" fill="#a834bc" opacity="0.88"/>
<ellipse cx="622.9" cy="195.2" rx="6.7" ry="3.1" transform="rotate(105 622.9 195.2)" fill="#c64cd6" opacity="0.88"/>
<ellipse cx="564.1" cy="244.7" rx="5.5" ry="2.2" transform="rotate(8 564.1 244.7)" fill="#bc40cc" opacity="0.88"/>
<ellipse cx="556.6" cy="154.3" rx="6.4" ry="3.6" transform="rotate(69 556.6 154.3)" fill="#9a2cac" opacity="0.88"/>
<ellipse cx="598.8" cy="241.9" rx="7.3" ry="2.0" transform="rotate(130 598.8 241.9)" fill="#c64cd6" opacity="0.88"/>
<ellipse cx="625.6" cy="173.7" rx="4.5" ry="2.4" transform="rotate(1 625.6 173.7)" fill="#c64cd6" opacity="0.88"/>
<ellipse cx="648.4" cy="219.3" rx="5.5" ry="2.3" transform="rotate(113 648.4 219.3)" fill="#a834bc" opacity="0.88"/>
<ellipse cx="556.6" cy="219.4" rx="5.7" ry="4.0" transform="rotate(95 556.6 219.4)" fill="#bc40cc" opacity="0.88"/>
<ellipse cx="606.6" cy="189.8" rx="3.6" ry="2.9" transform="rotate(177 606.6 189.8)" fill="#c64cd6" opacity="0.88"/>
<ellipse cx="566.3" cy="163.0" rx="5.8" ry="2.2" transform="rotate(132 566.3 163.0)" fill="#bc40cc" opacity="0.88"/>
<ellipse cx="649.0" cy="194.5" rx="3.6" ry="3.7" transform="rotate(170 649.0 194.5)" fill="#a834bc" opacity="0.88"/>
<ellipse cx="569.2" cy="231.2" rx="5.1" ry="2.6" transform="rotate(97 569.2 231.2)" fill="#a834bc" opacity="0.88"/>
<ellipse cx="619.4" cy="180.1" rx="6.4" ry="3.0" transform="rotate(162 619.4 180.1)" fill="#9a2cac" opacity="0.88"/>
<ellipse cx="553.1" cy="161.3" rx="4.7" ry="3.5" transform="rotate(41 553.1 161.3)" fill="#a834bc" opacity="0.88"/>
<ellipse cx="540.3" cy="213.4" rx="3.3" ry="2.2" transform="rotate(6 540.3 213.4)" fill="#c64cd6" opacity="0.88"/>
<ellipse cx="547.4" cy="162.7" rx="6.3" ry="2.6" transform="rotate(24 547.4 162.7)" fill="#9a2cac" opacity="0.88"/>
<ellipse cx="566.7" cy="188.1" rx="5.0" ry="2.2" transform="rotate(119 566.7 188.1)" fill="#c64cd6" opacity="0.88"/>
<ellipse cx="586.9" cy="187.4" rx="6.6" ry="3.8" transform="rotate(177 586.9 187.4)" fill="#bc40cc" opacity="0.88"/>
<ellipse cx="546.3" cy="215.6" rx="7.0" ry="2.3" transform="rotate(34 546.3 215.6)" fill="#9a2cac" opacity="0.88"/>
<ellipse cx="555.2" cy="156.8" rx="5.3" ry="4.3" transform="rotate(14 555.2 156.8)" fill="#bc40cc" opacity="0.88"/>
<ellipse cx="545.2" cy="244.9" rx="7.2" ry="4.5" transform="rotate(167 545.2 244.9)" fill="#a834bc" opacity="0.88"/>
<ellipse cx="558.1" cy="189.4" rx="4.1" ry="3.0" transform="rotate(11 558.1 189.4)" fill="#9a2cac" opacity="0.88"/>
<ellipse cx="539.7" cy="179.2" rx="7.6" ry="4.0" transform="rotate(51 539.7 179.2)" fill="#9a2cac" opacity="0.88"/>
<ellipse cx="556.8" cy="169.0" rx="7.8" ry="3.5" transform="rotate(98 556.8 169.0)" fill="#c64cd6" opacity="0.88"/>
<ellipse cx="545.9" cy="200.1" rx="5.5" ry="4.2" transform="rotate(28 545.9 200.1)" fill="#bc40cc" opacity="0.88"/>
<ellipse cx="634.9" cy="144.4" rx="3.3" ry="4.2" transform="rotate(73 634.9 144.4)" fill="#a834bc" opacity="0.88"/>
<ellipse cx="604.3" cy="141.3" rx="3.4" ry="3.7" transform="rotate(102 604.3 141.3)" fill="#c64cd6" opacity="0.88"/>
<ellipse cx="644.2" cy="159.1" rx="6.6" ry="2.6" transform="rotate(71 644.2 159.1)" fill="#c64cd6" opacity="0.88"/>
<ellipse cx="590.7" cy="237.3" rx="7.7" ry="2.0" transform="rotate(112 590.7 237.3)" fill="#bc40cc" opacity="0.88"/>
<ellipse cx="547.7" cy="160.0" rx="4.3" ry="4.4" transform="rotate(159 547.7 160.0)" fill="#a834bc" opacity="0.88"/>
<ellipse cx="580.9" cy="154.0" rx="7.2" ry="3.8" transform="rotate(110 580.9 154.0)" fill="#bc40cc" opacity="0.88"/>
<ellipse cx="614.3" cy="196.9" rx="7.7" ry="2.3" transform="rotate(158 614.3 196.9)" fill="#c64cd6" opacity="0.88"/>
<ellipse cx="552.4" cy="148.6" rx="5.8" ry="2.7" transform="rotate(109 552.4 148.6)" fill="#c64cd6" opacity="0.88"/>
<ellipse cx="562.3" cy="205.5" rx="4.3" ry="3.3" transform="rotate(163 562.3 205.5)" fill="#bc40cc" opacity="0.88"/>
<ellipse cx="549.8" cy="182.7" rx="4.4" ry="2.0" transform="rotate(139 549.8 182.7)" fill="#c64cd6" opacity="0.88"/>
<ellipse cx="557.6" cy="184.7" rx="6.5" ry="3.5" transform="rotate(20 557.6 184.7)" fill="#a834bc" opacity="0.88"/>
<ellipse cx="600.6" cy="227.1" rx="5.9" ry="2.4" transform="rotate(23 600.6 227.1)" fill="#c64cd6" opacity="0.88"/>
<ellipse cx="580.3" cy="237.8" rx="7.9" ry="2.1" transform="rotate(64 580.3 237.8)" fill="#a834bc" opacity="0.88"/>
<ellipse cx="614.2" cy="175.2" rx="5.8" ry="4.3" transform="rotate(175 614.2 175.2)" fill="#a834bc" opacity="0.88"/>
<ellipse cx="643.2" cy="162.6" rx="3.8" ry="4.1" transform="rotate(32 643.2 162.6)" fill="#9a2cac" opacity="0.88"/>
<ellipse cx="542.3" cy="216.5" rx="4.7" ry="4.4" transform="rotate(144 542.3 216.5)" fill="#a834bc" opacity="0.88"/>
<ellipse cx="569.4" cy="222.0" rx="3.5" ry="4.3" transform="rotate(155 569.4 222.0)" fill="#a834bc" opacity="0.88"/>
<ellipse cx="561.9" cy="236.2" rx="4.7" ry="4.1" transform="rotate(157 561.9 236.2)" fill="#a834bc" opacity="0.88"/>
<ellipse cx="542.2" cy="157.9" rx="4.6" ry="4.2" transform="rotate(174 542.2 157.9)" fill="#c64cd6" opacity="0.88"/>
<ellipse cx="578.8" cy="192.0" rx="6.4" ry="4.2" transform="rotate(60 578.8 192.0)" fill="#bc40cc" opacity="0.88"/>
<ellipse cx="552.4" cy="241.8" rx="3.9" ry="4.5" transform="rotate(48 552.4 241.8)" fill="#bc40cc" opacity="0.88"/>
<ellipse cx="606.3" cy="174.3" rx="6.9" ry="3.1" transform="rotate(177 606.3 174.3)" fill="#bc40cc" opacity="0.88"/>
<ellipse cx="582.6" cy="199.3" rx="4.3" ry="3.8" transform="rotate(0 582.6 199.3)" fill="#a834bc" opacity="0.88"/>
<ellipse cx="580.3" cy="144.6" rx="6.3" ry="2.9" transform="rotate(57 580.3 144.6)" fill="#bc40cc" opacity="0.88"/>
<ellipse cx="620.1" cy="169.4" rx="4.5" ry="3.1" transform="rotate(72 620.1 169.4)" fill="#c64cd6" opacity="0.88"/>
<ellipse cx="601.6" cy="157.7" rx="6.3" ry="3.0" transform="rotate(135 601.6 157.7)" fill="#a834bc" opacity="0.88"/>
<ellipse cx="608.4" cy="169.5" rx="5.7" ry="2.0" transform="rotate(52 608.4 169.5)" fill="#9a2cac" opacity="0.88"/>
<ellipse cx="627.5" cy="202.5" rx="4.6" ry="3.1" transform="rotate(122 627.5 202.5)" fill="#9a2cac" opacity="0.88"/>
<ellipse cx="628.4" cy="240.7" rx="6.7" ry="3.7" transform="rotate(51 628.4 240.7)" fill="#c64cd6" opacity="0.88"/>
<ellipse cx="550.0" cy="239.8" rx="4.2" ry="2.8" transform="rotate(145 550.0 239.8)" fill="#a834bc" opacity="0.88"/>
<ellipse cx="542.2" cy="163.4" rx="5.4" ry="4.2" transform="rotate(13 542.2 163.4)" fill="#9a2cac" opacity="0.88"/>
<ellipse cx="638.7" cy="199.2" rx="6.6" ry="3.0" transform="rotate(72 638.7 199.2)" fill="#a834bc" opacity="0.88"/>
<ellipse cx="613.0" cy="137.6" rx="6.8" ry="4.0" transform="rotate(19 613.0 137.6)" fill="#9a2cac" opacity="0.88"/>
<ellipse cx="564.0" cy="223.8" rx="6.5" ry="3.2" transform="rotate(100 564.0 223.8)" fill="#bc40cc" opacity="0.88"/>
<ellipse cx="590.6" cy="223.6" rx="6.3" ry="4.6" transform="rotate(107 590.6 223.6)" fill="#9a2cac" opacity="0.88"/>
<ellipse cx="608.1" cy="214.7" rx="5.5" ry="4.2" transform="rotate(99 608.1 214.7)" fill="#a834bc" opacity="0.88"/>
<ellipse cx="622.8" cy="188.3" rx="4.3" ry="2.6" transform="rotate(115 622.8 188.3)" fill="#9a2cac" opacity="0.88"/>
<ellipse cx="609.7" cy="166.7" rx="3.4" ry="2.7" transform="rotate(49 609.7 166.7)" fill="#c64cd6" opacity="0.88"/>
<ellipse cx="639.5" cy="145.7" rx="3.8" ry="3.0" transform="rotate(28 639.5 145.7)" fill="#a834bc" opacity="0.88"/>
<ellipse cx="546.7" cy="181.0" rx="5.7" ry="3.1" transform="rotate(37 546.7 181.0)" fill="#9a2cac" opacity="0.88"/>
<ellipse cx="583.1" cy="220.1" rx="7.7" ry="2.1" transform="rotate(159 583.1 220.1)" fill="#9a2cac" opacity="0.88"/>
<ellipse cx="592.9" cy="238.8" rx="4.5" ry="3.0" transform="rotate(160 592.9 238.8)" fill="#9a2cac" opacity="0.88"/>
<ellipse cx="599.8" cy="216.3" rx="7.0" ry="4.3" transform="rotate(88 599.8 216.3)" fill="#c64cd6" opacity="0.88"/>
<ellipse cx="588.3" cy="140.1" rx="4.7" ry="3.8" transform="rotate(73 588.3 140.1)" fill="#a834bc" opacity="0.88"/>
<ellipse cx="633.6" cy="236.3" rx="7.9" ry="3.4" transform="rotate(163 633.6 236.3)" fill="#bc40cc" opacity="0.88"/>
<ellipse cx="548.9" cy="183.3" rx="7.3" ry="2.5" transform="rotate(47 548.9 183.3)" fill="#c64cd6" opacity="0.88"/>
<ellipse cx="563.2" cy="172.3" rx="6.8" ry="3.0" transform="rotate(135 563.2 172.3)" fill="#9a2cac" opacity="0.88"/>
<ellipse cx="567.8" cy="145.8" rx="3.1" ry="3.4" transform="rotate(180 567.8 145.8)" fill="#c64cd6" opacity="0.88"/>
<ellipse cx="564.6" cy="144.4" rx="7.8" ry="2.1" transform="rotate(6 564.6 144.4)" fill="#a834bc" opacity="0.88"/>
<ellipse cx="561.8" cy="139.2" rx="3.8" ry="2.3" transform="rotate(121 561.8 139.2)" fill="#a834bc" opacity="0.88"/>
<ellipse cx="591.6" cy="164.7" rx="4.8" ry="3.6" transform="rotate(173 591.6 164.7)" fill="#bc40cc" opacity="0.88"/>
<ellipse cx="626.6" cy="154.7" rx="4.6" ry="3.5" transform="rotate(167 626.6 154.7)" fill="#9a2cac" opacity="0.88"/>
<ellipse cx="583.9" cy="214.2" rx="3.4" ry="3.8" transform="rotate(113 583.9 214.2)" fill="#bc40cc" opacity="0.88"/>
<ellipse cx="617.6" cy="169.6" rx="6.4" ry="4.1" transform="rotate(143 617.6 169.6)" fill="#bc40cc" opacity="0.88"/>
<ellipse cx="578.4" cy="183.3" rx="4.9" ry="3.3" transform="rotate(61 578.4 183.3)" fill="#9a2cac" opacity="0.88"/>
<ellipse cx="631.6" cy="148.4" rx="7.8" ry="3.7" transform="rotate(149 631.6 148.4)" fill="#a834bc" opacity="0.88"/>
<ellipse cx="588.3" cy="216.2" rx="7.8" ry="2.7" transform="rotate(145 588.3 216.2)" fill="#9a2cac" opacity="0.88"/>
<ellipse cx="591.6" cy="226.2" rx="6.0" ry="2.8" transform="rotate(44 591.6 226.2)" fill="#bc40cc" opacity="0.88"/>
<ellipse cx="570.7" cy="185.7" rx="6.8" ry="3.5" transform="rotate(120 570.7 185.7)" fill="#c64cd6" opacity="0.88"/>
<ellipse cx="542.7" cy="228.9" rx="3.9" ry="2.6" transform="rotate(144 542.7 228.9)" fill="#c64cd6" opacity="0.88"/>
<ellipse cx="570.8" cy="201.4" rx="7.4" ry="3.4" transform="rotate(93 570.8 201.4)" fill="#a834bc" opacity="0.88"/>
<ellipse cx="549.1" cy="214.8" rx="5.4" ry="4.0" transform="rotate(124 549.1 214.8)" fill="#9a2cac" opacity="0.88"/>
<ellipse cx="589.7" cy="138.9" rx="4.5" ry="3.1" transform="rotate(44 589.7 138.9)" fill="#c64cd6" opacity="0.88"/>
<ellipse cx="592.5" cy="194.3" rx="5.1" ry="3.9" transform="rotate(60 592.5 194.3)" fill="#9a2cac" opacity="0.88"/>
<ellipse cx="569.8" cy="164.2" rx="3.6" ry="2.5" transform="rotate(22 569.8 164.2)" fill="#a834bc" opacity="0.88"/>
<ellipse cx="561.0" cy="216.8" rx="4.4" ry="3.5" transform="rotate(137 561.0 216.8)" fill="#c64cd6" opacity="0.88"/>
<ellipse cx="649.3" cy="226.9" rx="4.5" ry="2.9" transform="rotate(54 649.3 226.9)" fill="#a834bc" opacity="0.88"/>
<ellipse cx="570.2" cy="242.2" rx="5.8" ry="3.8" transform="rotate(23 570.2 242.2)" fill="#9a2cac" opacity="0.88"/>
<ellipse cx="551.0" cy="138.3" rx="4.4" ry="3.2" transform="rotate(61 551.0 138.3)" fill="#bc40cc" opacity="0.88"/>
<ellipse cx="567.8" cy="230.1" rx="3.6" ry="2.2" transform="rotate(89 567.8 230.1)" fill="#bc40cc" opacity="0.88"/>
<ellipse cx="556.5" cy="224.6" rx="7.7" ry="2.2" transform="rotate(45 556.5 224.6)" fill="#9a2cac" opacity="0.88"/>
<ellipse cx="607.4" cy="222.4" rx="4.1" ry="3.4" transform="rotate(81 607.4 222.4)" fill="#9a2cac" opacity="0.88"/>
<ellipse cx="572.8" cy="200.6" rx="5.1" ry="3.5" transform="rotate(11 572.8 200.6)" fill="#bc40cc" opacity="0.88"/>
<ellipse cx="645.6" cy="159.4" rx="4.1" ry="3.7" transform="rotate(28 645.6 159.4)" fill="#a834bc" opacity="0.88"/>
<ellipse cx="601.3" cy="153.9" rx="5.0" ry="3.8" transform="rotate(85 601.3 153.9)" fill="#bc40cc" opacity="0.88"/>
<ellipse cx="565.4" cy="213.4" rx="6.5" ry="3.2" transform="rotate(124 565.4 213.4)" fill="#c64cd6" opacity="0.88"/>
<ellipse cx="627.7" cy="204.5" rx="6.3" ry="4.4" transform="rotate(77 627.7 204.5)" fill="#a834bc" opacity="0.88"/>
<ellipse cx="612.0" cy="235.1" rx="7.1" ry="2.2" transform="rotate(30 612.0 235.1)" fill="#c64cd6" opacity="0.88"/>
<ellipse cx="606.1" cy="226.0" rx="7.6" ry="3.1" transform="rotate(84 606.1 226.0)" fill="#c64cd6" opacity="0.88"/>
<ellipse cx="617.9" cy="238.8" rx="5.5" ry="3.3" transform="rotate(14 617.9 238.8)" fill="#bc40cc" opacity="0.88"/>
<ellipse cx="639.1" cy="216.3" rx="6.0" ry="2.1" transform="rotate(41 639.1 216.3)" fill="#bc40cc" opacity="0.88"/>
<ellipse cx="651.5" cy="209.6" rx="4.3" ry="2.1" transform="rotate(136 651.5 209.6)" fill="#9a2cac" opacity="0.88"/>
<ellipse cx="597.6" cy="184.8" rx="4.4" ry="4.6" transform="rotate(78 597.6 184.8)" fill="#9a2cac" opacity="0.88"/>
<ellipse cx="648.0" cy="187.8" rx="5.0" ry="2.8" transform="rotate(19 648.0 187.8)" fill="#a834bc" opacity="0.88"/>
<ellipse cx="576.4" cy="211.9" rx="4.4" ry="4.5" transform="rotate(146 576.4 211.9)" fill="#bc40cc" opacity="0.88"/>
<ellipse cx="590.4" cy="171.0" rx="4.6" ry="4.5" transform="rotate(73 590.4 171.0)" fill="#bc40cc" opacity="0.88"/>
<ellipse cx="613.2" cy="195.6" rx="5.1" ry="2.5" transform="rotate(65 613.2 195.6)" fill="#9a2cac" opacity="0.88"/>
<ellipse cx="609.5" cy="219.1" rx="4.0" ry="3.4" transform="rotate(167 609.5 219.1)" fill="#9a2cac" opacity="0.88"/>
<ellipse cx="638.2" cy="189.3" rx="3.1" ry="3.6" transform="rotate(144 638.2 189.3)" fill="#a834bc" opacity="0.88"/>
<ellipse cx="574.3" cy="138.5" rx="5.0" ry="2.6" transform="rotate(151 574.3 138.5)" fill="#bc40cc" opacity="0.88"/>
<ellipse cx="591.2" cy="149.7" rx="7.2" ry="3.3" transform="rotate(129 591.2 149.7)" fill="#c64cd6" opacity="0.88"/>
<ellipse cx="586.0" cy="189.1" rx="5.4" ry="3.2" transform="rotate(26 586.0 189.1)" fill="#a834bc" opacity="0.88"/>
<ellipse cx="642.7" cy="191.9" rx="7.4" ry="4.2" transform="rotate(50 642.7 191.9)" fill="#9a2cac" opacity="0.88"/>
<ellipse cx="577.6" cy="222.1" rx="4.3" ry="2.0" transform="rotate(131 577.6 222.1)" fill="#9a2cac" opacity="0.88"/>
<ellipse cx="636.4" cy="185.2" rx="5.4" ry="2.9" transform="rotate(137 636.4 185.2)" fill="#9a2cac" opacity="0.88"/>
<ellipse cx="590.5" cy="171.8" rx="3.9" ry="3.8" transform="rotate(103 590.5 171.8)" fill="#a834bc" opacity="0.88"/>
<ellipse cx="635.4" cy="181.4" rx="4.6" ry="3.2" transform="rotate(164 635.4 181.4)" fill="#9a2cac" opacity="0.88"/>
<ellipse cx="582.7" cy="208.7" rx="7.1" ry="4.6" transform="rotate(89 582.7 208.7)" fill="#bc40cc" opacity="0.88"/>
<ellipse cx="553.6" cy="241.3" rx="4.7" ry="2.3" transform="rotate(152 553.6 241.3)" fill="#bc40cc" opacity="0.88"/>
<ellipse cx="598.4" cy="186.3" rx="6.6" ry="3.1" transform="rotate(118 598.4 186.3)" fill="#a834bc" opacity="0.88"/>
<ellipse cx="547.9" cy="221.4" rx="4.3" ry="3.6" transform="rotate(72 547.9 221.4)" fill="#bc40cc" opacity="0.88"/>
<ellipse cx="634.9" cy="229.1" rx="7.3" ry="3.0" transform="rotate(57 634.9 229.1)" fill="#9a2cac" opacity="0.88"/>
<ellipse cx="637.2" cy="140.9" rx="3.3" ry="3.6" transform="rotate(166 637.2 140.9)" fill="#a834bc" opacity="0.88"/>
<ellipse cx="623.1" cy="183.9" rx="3.5" ry="3.6" transform="rotate(157 623.1 183.9)" fill="#9a2cac" opacity="0.88"/>
<ellipse cx="558.1" cy="169.3" rx="3.1" ry="2.8" transform="rotate(10 558.1 169.3)" fill="#c64cd6" opacity="0.88"/>
<ellipse cx="581.5" cy="152.7" rx="5.7" ry="3.5" transform="rotate(143 581.5 152.7)" fill="#a834bc" opacity="0.88"/>
<ellipse cx="559.1" cy="202.8" rx="4.9" ry="3.8" transform="rotate(90 559.1 202.8)" fill="#a834bc" opacity="0.88"/>
<ellipse cx="565.5" cy="205.9" rx="5.3" ry="3.7" transform="rotate(162 565.5 205.9)" fill="#9a2cac" opacity="0.88"/>
<ellipse cx="640.4" cy="210.2" rx="3.8" ry="3.1" transform="rotate(62 640.4 210.2)" fill="#c64cd6" opacity="0.88"/>
<ellipse cx="611.1" cy="182.8" rx="4.3" ry="4.2" transform="rotate(36 611.1 182.8)" fill="#9a2cac" opacity="0.88"/>
<ellipse cx="635.1" cy="148.5" rx="4.9" ry="2.9" transform="rotate(53 635.1 148.5)" fill="#c64cd6" opacity="0.88"/>
<ellipse cx="542.0" cy="226.6" rx="5.0" ry="2.0" transform="rotate(156 542.0 226.6)" fill="#bc40cc" opacity="0.88"/>
<ellipse cx="641.5" cy="217.5" rx="7.2" ry="4.3" transform="rotate(140 641.5 217.5)" fill="#a834bc" opacity="0.88"/>
<ellipse cx="607.5" cy="175.1" rx="6.2" ry="3.6" transform="rotate(122 607.5 175.1)" fill="#a834bc" opacity="0.88"/>
<ellipse cx="609.9" cy="234.6" rx="6.2" ry="2.8" transform="rotate(79 609.9 234.6)" fill="#c64cd6" opacity="0.88"/>
<ellipse cx="621.5" cy="146.7" rx="4.5" ry="3.9" transform="rotate(32 621.5 146.7)" fill="#a834bc" opacity="0.88"/>
<ellipse cx="627.6" cy="231.7" rx="4.8" ry="3.3" transform="rotate(49 627.6 231.7)" fill="#a834bc" opacity="0.88"/>
<ellipse cx="568.3" cy="226.1" rx="5.4" ry="4.1" transform="rotate(134 568.3 226.1)" fill="#c64cd6" opacity="0.88"/>
<ellipse cx="629.6" cy="187.6" rx="3.4" ry="4.0" transform="rotate(41 629.6 187.6)" fill="#9a2cac" opacity="0.88"/>
<ellipse cx="647.8" cy="223.9" rx="4.8" ry="4.1" transform="rotate(3 647.8 223.9)" fill="#bc40cc" opacity="0.88"/>
<ellipse cx="590.4" cy="209.7" rx="6.4" ry="3.5" transform="rotate(148 590.4 209.7)" fill="#c64cd6" opacity="0.88"/>
<ellipse cx="551.6" cy="162.3" rx="3.1" ry="4.3" transform="rotate(101 551.6 162.3)" fill="#a834bc" opacity="0.88"/>
<ellipse cx="612.0" cy="205.6" rx="5.3" ry="3.8" transform="rotate(117 612.0 205.6)" fill="#bc40cc" opacity="0.88"/>
<ellipse cx="555.2" cy="239.2" rx="4.5" ry="3.3" transform="rotate(17 555.2 239.2)" fill="#a834bc" opacity="0.88"/>
<ellipse cx="583.0" cy="177.1" rx="7.7" ry="3.8" transform="rotate(97 583.0 177.1)" fill="#a834bc" opacity="0.88"/>
<ellipse cx="638.7" cy="207.7" rx="7.2" ry="3.6" transform="rotate(169 638.7 207.7)" fill="#c64cd6" opacity="0.88"/>
<ellipse cx="543.2" cy="177.0" rx="5.2" ry="4.5" transform="rotate(154 543.2 177.0)" fill="#bc40cc" opacity="0.88"/>
<ellipse cx="649.4" cy="176.7" rx="7.5" ry="3.7" transform="rotate(11 649.4 176.7)" fill="#c64cd6" opacity="0.88"/>
<ellipse cx="560.8" cy="150.2" rx="7.2" ry="3.2" transform="rotate(119 560.8 150.2)" fill="#bc40cc" opacity="0.88"/>
<ellipse cx="545.2" cy="173.0" rx="7.9" ry="4.0" transform="rotate(37 545.2 173.0)" fill="#a834bc" opacity="0.88"/>
<ellipse cx="605.2" cy="224.8" rx="4.2" ry="4.0" transform="rotate(142 605.2 224.8)" fill="#bc40cc" opacity="0.88"/>
<ellipse cx="570.6" cy="243.3" rx="7.9" ry="3.4" transform="rotate(144 570.6 243.3)" fill="#bc40cc" opacity="0.88"/>
<ellipse cx="613.5" cy="139.8" rx="3.1" ry="4.1" transform="rotate(43 613.5 139.8)" fill="#c64cd6" opacity="0.88"/>
<ellipse cx="543.7" cy="174.1" rx="2.1" ry="2.3" fill="#0a030a" opacity="0.85"/>
<ellipse cx="554.0" cy="155.8" rx="2.9" ry="2.2" fill="#0a030a" opacity="0.85"/>
<ellipse cx="604.9" cy="191.1" rx="2.3" ry="2.7" fill="#0a030a" opacity="0.85"/>
<ellipse cx="619.1" cy="232.7" rx="3.4" ry="2.1" fill="#0a030a" opacity="0.85"/>
<ellipse cx="610.2" cy="152.8" rx="4.2" ry="3.1" fill="#0a030a" opacity="0.85"/>
<ellipse cx="587.2" cy="159.8" rx="3.5" ry="2.3" fill="#0a030a" opacity="0.85"/>
<ellipse cx="637.3" cy="179.3" rx="2.2" ry="1.7" fill="#0a030a" opacity="0.85"/>
<ellipse cx="608.2" cy="203.3" rx="3.5" ry="2.2" fill="#0a030a" opacity="0.85"/>
<ellipse cx="605.3" cy="176.8" rx="3.0" ry="2.3" fill="#0a030a" opacity="0.85"/>
<ellipse cx="626.1" cy="160.4" rx="3.4" ry="3.2" fill="#0a030a" opacity="0.85"/>
<ellipse cx="600.4" cy="228.8" rx="2.8" ry="3.2" fill="#0a030a" opacity="0.85"/>
<ellipse cx="585.9" cy="225.3" rx="2.8" ry="2.9" fill="#0a030a" opacity="0.85"/>
<ellipse cx="575.1" cy="178.4" rx="2.4" ry="3.3" fill="#0a030a" opacity="0.85"/>
<ellipse cx="614.8" cy="193.2" rx="2.0" ry="1.7" fill="#0a030a" opacity="0.85"/>
<ellipse cx="587.8" cy="217.8" rx="2.7" ry="1.7" fill="#0a030a" opacity="0.85"/>
<ellipse cx="548.4" cy="237.1" rx="3.1" ry="2.8" fill="#0a030a" opacity="0.85"/>
<ellipse cx="585.5" cy="229.5" rx="4.1" ry="2.3" fill="#0a030a" opacity="0.85"/>
<ellipse cx="639.1" cy="154.7" rx="2.5" ry="2.1" fill="#0a030a" opacity="0.85"/>
<ellipse cx="553.0" cy="196.2" rx="2.2" ry="2.4" fill="#0a030a" opacity="0.85"/>
<ellipse cx="631.8" cy="181.9" rx="3.1" ry="1.7" fill="#0a030a" opacity="0.85"/>
<ellipse cx="571.5" cy="170.6" rx="2.8" ry="2.6" fill="#0a030a" opacity="0.85"/>
<ellipse cx="623.3" cy="206.6" rx="3.4" ry="2.6" fill="#0a030a" opacity="0.85"/>
<ellipse cx="606.6" cy="209.9" rx="3.5" ry="1.6" fill="#0a030a" opacity="0.85"/>
<ellipse cx="571.0" cy="219.4" rx="4.0" ry="2.2" fill="#0a030a" opacity="0.85"/>
<ellipse cx="561.2" cy="163.0" rx="3.4" ry="1.6" fill="#0a030a" opacity="0.85"/>
<ellipse cx="620.5" cy="238.4" rx="2.0" ry="2.5" fill="#0a030a" opacity="0.85"/>
<ellipse cx="581.9" cy="191.3" rx="2.2" ry="2.1" fill="#0a030a" opacity="0.85"/>
<ellipse cx="576.4" cy="235.7" rx="3.2" ry="3.2" fill="#0a030a" opacity="0.85"/>
<ellipse cx="558.5" cy="218.7" rx="1.9" ry="1.7" fill="#0a030a" opacity="0.85"/>
<ellipse cx="589.0" cy="188.6" rx="3.3" ry="2.3" fill="#0a030a" opacity="0.85"/>
<ellipse cx="564.9" cy="196.6" rx="2.6" ry="1.7" fill="#0a030a" opacity="0.85"/>
<ellipse cx="613.9" cy="204.0" rx="3.1" ry="2.1" fill="#0a030a" opacity="0.85"/>
<ellipse cx="565.4" cy="239.6" rx="1.9" ry="1.9" fill="#0a030a" opacity="0.85"/>
<ellipse cx="642.2" cy="219.8" rx="3.6" ry="2.0" fill="#0a030a" opacity="0.85"/>
<ellipse cx="554.7" cy="195.3" rx="2.8" ry="1.7" fill="#0a030a" opacity="0.85"/>
<ellipse cx="598.5" cy="170.9" rx="3.1" ry="2.8" fill="#0a030a" opacity="0.85"/>
<ellipse cx="579.5" cy="186.1" rx="3.6" ry="2.3" fill="#0a030a" opacity="0.85"/>
<ellipse cx="590.7" cy="157.1" rx="2.6" ry="2.3" fill="#0a030a" opacity="0.85"/>
<ellipse cx="584.9" cy="208.3" rx="2.5" ry="2.3" fill="#0a030a" opacity="0.85"/>
<ellipse cx="644.4" cy="165.6" rx="4.1" ry="2.4" fill="#0a030a" opacity="0.85"/>
<ellipse cx="615.1" cy="182.9" rx="2.8" ry="1.7" fill="#0a030a" opacity="0.85"/>
<ellipse cx="588.2" cy="186.4" rx="2.0" ry="3.2" fill="#0a030a" opacity="0.85"/>
<ellipse cx="621.1" cy="170.2" rx="3.7" ry="1.6" fill="#0a030a" opacity="0.85"/>
<ellipse cx="609.1" cy="198.3" rx="2.3" ry="3.0" fill="#0a030a" opacity="0.85"/>
<ellipse cx="579.2" cy="237.2" rx="3.3" ry="1.8" fill="#0a030a" opacity="0.85"/>
<ellipse cx="552.9" cy="173.3" rx="2.2" ry="1.8" fill="#0a030a" opacity="0.85"/>
<ellipse cx="622.5" cy="156.9" rx="4.1" ry="2.7" fill="#0a030a" opacity="0.85"/>
<ellipse cx="591.2" cy="201.3" rx="3.2" ry="2.8" fill="#0a030a" opacity="0.85"/>
<ellipse cx="635.5" cy="208.5" rx="4.2" ry="2.1" fill="#0a030a" opacity="0.85"/>
<ellipse cx="644.9" cy="178.8" rx="2.9" ry="2.4" fill="#0a030a" opacity="0.85"/>
<ellipse cx="608.9" cy="222.5" rx="3.2" ry="2.2" fill="#0a030a" opacity="0.85"/>
<ellipse cx="549.9" cy="192.0" rx="1.9" ry="2.2" fill="#0a030a" opacity="0.85"/>
<ellipse cx="572.4" cy="208.7" rx="4.1" ry="1.7" fill="#0a030a" opacity="0.85"/>
<ellipse cx="605.0" cy="185.0" rx="3.2" ry="3.3" fill="#0a030a" opacity="0.85"/>
<ellipse cx="620.3" cy="153.7" rx="4.0" ry="2.6" fill="#0a030a" opacity="0.85"/>
<ellipse cx="562.0" cy="205.1" rx="3.0" ry="3.3" fill="#0a030a" opacity="0.85"/>
<ellipse cx="589.8" cy="223.8" rx="3.8" ry="3.4" fill="#0a030a" opacity="0.85"/>
<ellipse cx="550.9" cy="208.8" rx="1.9" ry="2.8" fill="#0a030a" opacity="0.85"/>
<ellipse cx="647.0" cy="197.7" rx="3.3" ry="2.2" fill="#0a030a" opacity="0.85"/>
<ellipse cx="639.3" cy="185.3" rx="3.7" ry="2.8" fill="#0a030a" opacity="0.85"/>
<ellipse cx="547.6" cy="207.4" rx="2.6" ry="2.1" fill="#0a030a" opacity="0.85"/>
<ellipse cx="601.1" cy="185.2" rx="2.4" ry="3.1" fill="#0a030a" opacity="0.85"/>
<ellipse cx="644.2" cy="204.8" rx="2.2" ry="1.7" fill="#0a030a" opacity="0.85"/>
<ellipse cx="612.3" cy="233.4" rx="2.5" ry="2.7" fill="#0a030a" opacity="0.85"/>
<ellipse cx="612.2" cy="161.7" rx="3.5" ry="1.7" fill="#0a030a" opacity="0.85"/>
<ellipse cx="601.2" cy="208.6" rx="2.6" ry="1.7" fill="#0a030a" opacity="0.85"/>
<ellipse cx="616.5" cy="236.2" rx="4.2" ry="3.2" fill="#0a030a" opacity="0.85"/>
<ellipse cx="551.9" cy="211.0" rx="3.0" ry="1.5" fill="#0a030a" opacity="0.85"/>
<ellipse cx="574.7" cy="236.6" rx="2.6" ry="3.0" fill="#0a030a" opacity="0.85"/>
<ellipse cx="562.4" cy="241.0" rx="2.2" ry="2.1" fill="#0a030a" opacity="0.85"/>
</g>
<path d="M542.0,136 L542.0,152 C547.0,150 552.0,148.5 559.0,147 C567.0,145.5 574.0,143.5 582.0,140.5 C589.0,138.5 597.0,136.8 605.0,137 C612.0,139 620.0,141.5 627.0,143 C635.0,144.5 642.0,145.5 649.0,145 L649.0,136 Z" fill="#040204" filter="url(#bl2)"/>
<ellipse cx="552.0" cy="155" rx="7" ry="4" fill="#b83cc8" opacity="0.85" filter="url(#bl1)"/>
<ellipse cx="567.0" cy="151" rx="6" ry="3.5" fill="#b83cc8" opacity="0.85" filter="url(#bl1)"/>
<ellipse cx="612.0" cy="141" rx="6" ry="3" fill="#b83cc8" opacity="0.85" filter="url(#bl1)"/>
<ellipse cx="618.0" cy="146" rx="5" ry="3" fill="#b83cc8" opacity="0.85" filter="url(#bl1)"/>
<ellipse cx="582.0" cy="146" rx="5" ry="3" fill="#b83cc8" opacity="0.85" filter="url(#bl1)"/>
<g filter="url(#bl2)">
<ellipse cx="589.3" cy="145.1" rx="3.9" ry="3.1" transform="rotate(43 589.3 145.1)" fill="#3434b8" opacity="0.92"/>
<ellipse cx="597.3" cy="145.1" rx="3.9" ry="3.1" transform="rotate(98 597.3 145.1)" fill="#3434b8" opacity="0.92"/>
<ellipse cx="583.7" cy="154.2" rx="3.9" ry="3.1" transform="rotate(67 583.7 154.2)" fill="#3434b8" opacity="0.92"/>
<ellipse cx="605.3" cy="150.8" rx="3.9" ry="3.1" transform="rotate(109 605.3 150.8)" fill="#3434b8" opacity="0.92"/>
<ellipse cx="609.9" cy="157.6" rx="3.9" ry="3.1" transform="rotate(113 609.9 157.6)" fill="#3434b8" opacity="0.92"/>
<ellipse cx="628.1" cy="155.4" rx="3.9" ry="3.1" transform="rotate(12 628.1 155.4)" fill="#3434b8" opacity="0.92"/>
<ellipse cx="641.8" cy="157.6" rx="3.9" ry="3.1" transform="rotate(2 641.8 157.6)" fill="#3434b8" opacity="0.92"/>
<ellipse cx="568.8" cy="169.0" rx="3.9" ry="3.1" transform="rotate(151 568.8 169.0)" fill="#3434b8" opacity="0.92"/>
<ellipse cx="582.5" cy="167.9" rx="3.9" ry="3.1" transform="rotate(47 582.5 167.9)" fill="#3434b8" opacity="0.92"/>
<ellipse cx="546.1" cy="172.5" rx="3.9" ry="3.1" transform="rotate(42 546.1 172.5)" fill="#3434b8" opacity="0.92"/>
<ellipse cx="614.4" cy="171.3" rx="3.9" ry="3.1" transform="rotate(179 614.4 171.3)" fill="#3434b8" opacity="0.92"/>
<ellipse cx="600.7" cy="174.7" rx="3.9" ry="3.1" transform="rotate(85 600.7 174.7)" fill="#3434b8" opacity="0.92"/>
<ellipse cx="608.7" cy="180.4" rx="3.9" ry="3.1" transform="rotate(151 608.7 180.4)" fill="#3434b8" opacity="0.92"/>
<ellipse cx="565.4" cy="183.8" rx="3.9" ry="3.1" transform="rotate(86 565.4 183.8)" fill="#3434b8" opacity="0.92"/>
<ellipse cx="585.9" cy="190.7" rx="3.9" ry="3.1" transform="rotate(115 585.9 190.7)" fill="#3434b8" opacity="0.92"/>
<ellipse cx="549.5" cy="193.0" rx="3.9" ry="3.1" transform="rotate(27 549.5 193.0)" fill="#3434b8" opacity="0.92"/>
<ellipse cx="576.8" cy="196.4" rx="3.9" ry="3.1" transform="rotate(114 576.8 196.4)" fill="#3434b8" opacity="0.92"/>
<ellipse cx="639.5" cy="197.5" rx="3.9" ry="3.1" transform="rotate(156 639.5 197.5)" fill="#3434b8" opacity="0.92"/>
<ellipse cx="641.8" cy="206.6" rx="3.9" ry="3.1" transform="rotate(94 641.8 206.6)" fill="#3434b8" opacity="0.92"/>
<ellipse cx="551.8" cy="214.6" rx="3.9" ry="3.1" transform="rotate(133 551.8 214.6)" fill="#3434b8" opacity="0.92"/>
<ellipse cx="579.1" cy="213.5" rx="3.9" ry="3.1" transform="rotate(121 579.1 213.5)" fill="#3434b8" opacity="0.92"/>
<ellipse cx="619.0" cy="214.6" rx="3.9" ry="3.1" transform="rotate(12 619.0 214.6)" fill="#3434b8" opacity="0.92"/>
<ellipse cx="628.1" cy="219.2" rx="3.9" ry="3.1" transform="rotate(136 628.1 219.2)" fill="#3434b8" opacity="0.92"/>
<ellipse cx="642.9" cy="218.0" rx="3.9" ry="3.1" transform="rotate(106 642.9 218.0)" fill="#3434b8" opacity="0.92"/>
<ellipse cx="572.3" cy="224.9" rx="3.9" ry="3.1" transform="rotate(54 572.3 224.9)" fill="#3434b8" opacity="0.92"/>
<ellipse cx="582.5" cy="221.4" rx="3.9" ry="3.1" transform="rotate(6 582.5 221.4)" fill="#3434b8" opacity="0.92"/>
<ellipse cx="603.0" cy="230.6" rx="3.9" ry="3.1" transform="rotate(156 603.0 230.6)" fill="#3434b8" opacity="0.92"/>
<ellipse cx="641.8" cy="230.6" rx="3.9" ry="3.1" transform="rotate(85 641.8 230.6)" fill="#3434b8" opacity="0.92"/>
<ellipse cx="576.8" cy="234.0" rx="3.9" ry="3.1" transform="rotate(129 576.8 234.0)" fill="#3434b8" opacity="0.92"/>
<ellipse cx="598.5" cy="234.0" rx="3.9" ry="3.1" transform="rotate(158 598.5 234.0)" fill="#3434b8" opacity="0.92"/>
<ellipse cx="563.1" cy="204.4" rx="3.9" ry="3.1" transform="rotate(129 563.1 204.4)" fill="#3434b8" opacity="0.92"/>
<ellipse cx="638.9" cy="184.3" rx="4.0" ry="2.8" transform="rotate(168 638.9 184.3)" fill="#2c2ca8" opacity="0.85"/>
<ellipse cx="634.5" cy="157.0" rx="3.2" ry="2.6" transform="rotate(174 634.5 157.0)" fill="#2c2ca8" opacity="0.85"/>
<ellipse cx="588.9" cy="205.7" rx="3.4" ry="2.9" transform="rotate(69 588.9 205.7)" fill="#2c2ca8" opacity="0.85"/>
<ellipse cx="580.1" cy="201.8" rx="3.7" ry="3.2" transform="rotate(123 580.1 201.8)" fill="#2c2ca8" opacity="0.85"/>
<ellipse cx="639.7" cy="226.8" rx="4.2" ry="3.0" transform="rotate(29 639.7 226.8)" fill="#2c2ca8" opacity="0.85"/>
<ellipse cx="632.6" cy="236.7" rx="4.1" ry="2.9" transform="rotate(128 632.6 236.7)" fill="#2c2ca8" opacity="0.85"/>
<ellipse cx="565.7" cy="224.5" rx="3.7" ry="2.7" transform="rotate(11 565.7 224.5)" fill="#2c2ca8" opacity="0.85"/>
<ellipse cx="632.0" cy="239.1" rx="3.1" ry="3.1" transform="rotate(74 632.0 239.1)" fill="#2c2ca8" opacity="0.85"/>
<ellipse cx="559.5" cy="175.0" rx="3.9" ry="3.2" transform="rotate(8 559.5 175.0)" fill="#2c2ca8" opacity="0.85"/>
<ellipse cx="607.3" cy="152.1" rx="3.9" ry="2.7" transform="rotate(159 607.3 152.1)" fill="#2c2ca8" opacity="0.85"/>
<ellipse cx="645.0" cy="194.5" rx="4.2" ry="2.7" transform="rotate(14 645.0 194.5)" fill="#2c2ca8" opacity="0.85"/>
<ellipse cx="605.8" cy="150.9" rx="3.2" ry="2.8" transform="rotate(110 605.8 150.9)" fill="#2c2ca8" opacity="0.85"/>
<ellipse cx="560.1" cy="151.9" rx="4.0" ry="2.7" transform="rotate(173 560.1 151.9)" fill="#2c2ca8" opacity="0.85"/>
<ellipse cx="636.4" cy="182.8" rx="3.6" ry="2.9" transform="rotate(116 636.4 182.8)" fill="#2c2ca8" opacity="0.85"/>
<ellipse cx="605.4" cy="199.5" rx="3.7" ry="3.2" transform="rotate(91 605.4 199.5)" fill="#2c2ca8" opacity="0.85"/>
<ellipse cx="588.4" cy="214.3" rx="3.3" ry="2.7" transform="rotate(176 588.4 214.3)" fill="#2c2ca8" opacity="0.85"/>
<ellipse cx="597.7" cy="198.5" rx="3.0" ry="2.8" transform="rotate(104 597.7 198.5)" fill="#2c2ca8" opacity="0.85"/>
<ellipse cx="546.1" cy="204.7" rx="3.8" ry="2.5" transform="rotate(113 546.1 204.7)" fill="#2c2ca8" opacity="0.85"/>
<ellipse cx="592.0" cy="210.5" rx="3.4" ry="3.0" transform="rotate(133 592.0 210.5)" fill="#2c2ca8" opacity="0.85"/>
<ellipse cx="546.3" cy="153.6" rx="3.8" ry="3.3" transform="rotate(45 546.3 153.6)" fill="#2c2ca8" opacity="0.85"/>
<ellipse cx="591.0" cy="202.5" rx="3.4" ry="2.7" transform="rotate(56 591.0 202.5)" fill="#2c2ca8" opacity="0.85"/>
<ellipse cx="582.0" cy="202.8" rx="3.4" ry="2.7" transform="rotate(139 582.0 202.8)" fill="#2c2ca8" opacity="0.85"/>
<ellipse cx="546.8" cy="200.4" rx="3.9" ry="2.7" transform="rotate(40 546.8 200.4)" fill="#2c2ca8" opacity="0.85"/>
<ellipse cx="626.8" cy="170.0" rx="3.2" ry="2.8" transform="rotate(126 626.8 170.0)" fill="#2c2ca8" opacity="0.85"/>
<ellipse cx="554.5" cy="177.6" rx="3.4" ry="3.2" transform="rotate(79 554.5 177.6)" fill="#2c2ca8" opacity="0.85"/>
<ellipse cx="632.1" cy="163.6" rx="3.4" ry="3.0" transform="rotate(159 632.1 163.6)" fill="#2c2ca8" opacity="0.85"/>
<ellipse cx="590.5" cy="168.7" rx="3.1" ry="2.9" transform="rotate(34 590.5 168.7)" fill="#2c2ca8" opacity="0.85"/>
<ellipse cx="627.1" cy="225.1" rx="3.2" ry="2.7" transform="rotate(145 627.1 225.1)" fill="#2c2ca8" opacity="0.85"/>
<ellipse cx="610.1" cy="222.2" rx="3.4" ry="2.5" transform="rotate(53 610.1 222.2)" fill="#2c2ca8" opacity="0.85"/>
<ellipse cx="625.8" cy="172.9" rx="3.4" ry="2.8" transform="rotate(76 625.8 172.9)" fill="#2c2ca8" opacity="0.85"/>
<ellipse cx="586.2" cy="232.7" rx="3.2" ry="2.4" transform="rotate(170 586.2 232.7)" fill="#2c2ca8" opacity="0.85"/>
<ellipse cx="634.6" cy="238.8" rx="3.5" ry="3.3" transform="rotate(167 634.6 238.8)" fill="#2c2ca8" opacity="0.85"/>
<ellipse cx="566.9" cy="216.6" rx="4.0" ry="3.0" transform="rotate(93 566.9 216.6)" fill="#2c2ca8" opacity="0.85"/>
<ellipse cx="573.8" cy="179.4" rx="3.3" ry="2.5" transform="rotate(106 573.8 179.4)" fill="#2c2ca8" opacity="0.85"/>
<ellipse cx="573.6" cy="222.5" rx="3.1" ry="3.2" transform="rotate(125 573.6 222.5)" fill="#2c2ca8" opacity="0.85"/>
<ellipse cx="639.2" cy="230.5" rx="4.1" ry="2.9" transform="rotate(2 639.2 230.5)" fill="#2c2ca8" opacity="0.85"/>
<ellipse cx="620.8" cy="163.8" rx="3.4" ry="3.0" transform="rotate(94 620.8 163.8)" fill="#2c2ca8" opacity="0.85"/>
<ellipse cx="586.6" cy="234.4" rx="3.7" ry="2.7" transform="rotate(45 586.6 234.4)" fill="#2c2ca8" opacity="0.85"/>
</g></g>
<path d="M507.5,196 L504.7,187 L510.3,187 Z" fill="#f0e020"/>
<path d="M518.7,196 L515.9000000000001,187 L521.5,187 Z" fill="#f0e020"/>
<rect x="522" y="236.5" width="12" height="1.4" fill="#eee"/>
<path d="M616.0,196 L613.2,187 L618.8,187 Z" fill="#f0e020"/>
<path d="M627.2,196 L624.4000000000001,187 L630.0,187 Z" fill="#f0e020"/>
<rect x="630.5" y="236.5" width="12" height="1.4" fill="#eee"/>
<rect x="649.3" y="136.1" width="35" height="33.7" fill="#040404"/>
<g filter="url(#bl2)">
<path d="M666.9 143.2h0M654.6 140.6h0M651.1 166.2h0M659.2 158.8h0M657.4 154.1h0M651.7 144.3h0M655.2 149.4h0M663.1 153.2h0M682.4 138.8h0M672.4 163.3h0M656.8 168.5h0M659.8 154.5h0M660.6 137.9h0M675.8 142.9h0M677.1 168.1h0" stroke="#30b048" stroke-width="1.60" stroke-linecap="round" fill="none" opacity="0.60" />
<path d="M652.1 163.4h0M651.5 155.2h0M666.4 162.1h0M662.0 163.6h0M677.5 168.6h0M676.4 153.6h0M673.1 148.7h0M656.5 161.5h0M669.8 141.1h0M650.3 166.1h0M671.1 148.9h0M677.1 158.9h0M661.8 159.5h0M670.3 138.9h0M657.2 162.6h0" stroke="#30b048" stroke-width="2.30" stroke-linecap="round" fill="none" opacity="0.80" />
<path d="M655.8 155.1h0M679.2 141.4h0M665.6 164.3h0M677.4 137.7h0M655.6 147.2h0M651.2 137.4h0M660.4 144.3h0M654.5 157.1h0M657.1 168.2h0M661.5 140.6h0M682.2 159.7h0M657.7 161.8h0M675.1 162.0h0M673.3 140.4h0M680.5 154.7h0" stroke="#30b048" stroke-width="3.00" stroke-linecap="round" fill="none" />
</g>
<rect x="649.3" y="171.9" width="35" height="32" fill="#0a020a"/>
<g filter="url(#bl2)">
<ellipse cx="654.7" cy="177.6" rx="2.4" ry="1.3" fill="#a02ab4" opacity="0.67"/>
<ellipse cx="670.2" cy="175.3" rx="1.8" ry="0.8" fill="#a02ab4" opacity="0.81"/>
<ellipse cx="681.8" cy="187.5" rx="1.0" ry="0.9" fill="#a02ab4" opacity="0.92"/>
<ellipse cx="652.2" cy="194.7" rx="2.5" ry="1.0" fill="#a02ab4" opacity="0.93"/>
<ellipse cx="653.1" cy="177.0" rx="1.5" ry="1.4" fill="#a02ab4" opacity="0.92"/>
<ellipse cx="661.0" cy="199.8" rx="1.6" ry="0.6" fill="#a02ab4" opacity="0.51"/>
<ellipse cx="683.3" cy="184.5" rx="1.0" ry="1.3" fill="#a02ab4" opacity="0.72"/>
<ellipse cx="662.2" cy="203.8" rx="1.3" ry="1.3" fill="#a02ab4" opacity="0.55"/>
<ellipse cx="650.9" cy="176.1" rx="1.3" ry="1.6" fill="#a02ab4" opacity="0.84"/>
<ellipse cx="664.8" cy="175.3" rx="1.5" ry="1.2" fill="#a02ab4" opacity="0.90"/>
<ellipse cx="677.7" cy="178.5" rx="1.6" ry="0.9" fill="#a02ab4" opacity="0.69"/>
<ellipse cx="651.6" cy="190.2" rx="1.3" ry="0.8" fill="#a02ab4" opacity="0.68"/>
<ellipse cx="658.2" cy="183.6" rx="2.5" ry="1.1" fill="#a02ab4" opacity="0.85"/>
<ellipse cx="665.8" cy="184.2" rx="1.2" ry="1.6" fill="#a02ab4" opacity="0.82"/>
<ellipse cx="670.4" cy="180.6" rx="1.5" ry="1.3" fill="#a02ab4" opacity="0.81"/>
<ellipse cx="654.4" cy="180.5" rx="1.2" ry="0.9" fill="#a02ab4" opacity="0.81"/>
<ellipse cx="673.9" cy="193.7" rx="1.9" ry="0.7" fill="#a02ab4" opacity="0.86"/>
<ellipse cx="663.1" cy="201.6" rx="1.2" ry="1.4" fill="#a02ab4" opacity="0.60"/>
<ellipse cx="669.6" cy="202.2" rx="1.9" ry="0.8" fill="#a02ab4" opacity="0.72"/>
<ellipse cx="651.8" cy="179.3" rx="2.5" ry="0.6" fill="#a02ab4" opacity="0.73"/>
<ellipse cx="657.3" cy="199.3" rx="1.3" ry="1.3" fill="#a02ab4" opacity="0.67"/>
<ellipse cx="662.5" cy="199.1" rx="1.6" ry="1.3" fill="#a02ab4" opacity="0.90"/>
<ellipse cx="670.1" cy="197.7" rx="2.5" ry="0.9" fill="#a02ab4" opacity="0.55"/>
<ellipse cx="649.6" cy="203.4" rx="1.6" ry="1.1" fill="#a02ab4" opacity="0.54"/>
<ellipse cx="670.7" cy="181.2" rx="1.4" ry="1.4" fill="#a02ab4" opacity="0.56"/>
<ellipse cx="671.4" cy="175.7" rx="2.5" ry="0.8" fill="#a02ab4" opacity="0.63"/>
<ellipse cx="679.3" cy="191.0" rx="1.9" ry="0.7" fill="#a02ab4" opacity="0.93"/>
<ellipse cx="658.4" cy="195.5" rx="2.3" ry="1.3" fill="#a02ab4" opacity="0.68"/>
<ellipse cx="676.6" cy="179.3" rx="2.6" ry="0.8" fill="#a02ab4" opacity="0.57"/>
<ellipse cx="670.6" cy="188.4" rx="2.5" ry="0.7" fill="#a02ab4" opacity="0.52"/>
<ellipse cx="682.3" cy="190.3" rx="1.5" ry="0.7" fill="#a02ab4" opacity="0.77"/>
<ellipse cx="650.9" cy="195.7" rx="2.4" ry="0.8" fill="#a02ab4" opacity="0.63"/>
<ellipse cx="670.0" cy="200.8" rx="1.6" ry="1.4" fill="#a02ab4" opacity="0.52"/>
<ellipse cx="677.0" cy="187.8" rx="1.4" ry="1.2" fill="#a02ab4" opacity="0.82"/>
<ellipse cx="649.7" cy="197.0" rx="1.2" ry="0.6" fill="#a02ab4" opacity="0.62"/>
<ellipse cx="666.6" cy="192.5" rx="1.9" ry="0.8" fill="#a02ab4" opacity="0.90"/>
<ellipse cx="675.6" cy="203.5" rx="1.9" ry="0.7" fill="#a02ab4" opacity="0.71"/>
<ellipse cx="654.9" cy="180.3" rx="1.2" ry="1.5" fill="#a02ab4" opacity="0.86"/>
<ellipse cx="669.8" cy="190.0" rx="1.8" ry="1.5" fill="#a02ab4" opacity="0.86"/>
<ellipse cx="662.9" cy="192.1" rx="1.7" ry="1.5" fill="#a02ab4" opacity="0.95"/>
<ellipse cx="680.4" cy="200.1" rx="1.2" ry="1.0" fill="#a02ab4" opacity="0.93"/>
<ellipse cx="667.4" cy="201.0" rx="1.8" ry="1.6" fill="#a02ab4" opacity="0.82"/>
<ellipse cx="681.8" cy="189.8" rx="1.5" ry="1.3" fill="#a02ab4" opacity="0.84"/>
<ellipse cx="667.7" cy="202.8" rx="1.6" ry="0.8" fill="#a02ab4" opacity="0.57"/>
<ellipse cx="675.7" cy="174.8" rx="2.0" ry="1.3" fill="#a02ab4" opacity="0.93"/>
<ellipse cx="665.1" cy="191.7" rx="1.5" ry="0.7" fill="#a02ab4" opacity="0.70"/>
<ellipse cx="678.2" cy="185.1" rx="1.9" ry="1.2" fill="#a02ab4" opacity="0.82"/>
<ellipse cx="660.6" cy="183.8" rx="1.1" ry="1.5" fill="#a02ab4" opacity="0.67"/>
<ellipse cx="657.0" cy="197.7" rx="2.3" ry="1.1" fill="#a02ab4" opacity="0.51"/>
<ellipse cx="664.9" cy="192.0" rx="1.8" ry="0.7" fill="#a02ab4" opacity="0.75"/>
<ellipse cx="654.5" cy="199.3" rx="2.5" ry="0.7" fill="#a02ab4" opacity="0.58"/>
<ellipse cx="672.6" cy="183.1" rx="1.8" ry="1.5" fill="#a02ab4" opacity="0.65"/>
<ellipse cx="680.4" cy="176.5" rx="1.9" ry="1.2" fill="#a02ab4" opacity="0.69"/>
<ellipse cx="679.6" cy="180.3" rx="1.3" ry="1.0" fill="#a02ab4" opacity="0.70"/>
<ellipse cx="683.8" cy="183.6" rx="1.4" ry="0.9" fill="#a02ab4" opacity="0.87"/>
<ellipse cx="654.9" cy="178.0" rx="2.3" ry="1.4" fill="#a02ab4" opacity="0.88"/>
<ellipse cx="667.2" cy="203.6" rx="1.2" ry="1.5" fill="#a02ab4" opacity="0.86"/>
<ellipse cx="679.2" cy="201.4" rx="2.5" ry="0.7" fill="#a02ab4" opacity="0.86"/>
<ellipse cx="672.7" cy="195.5" rx="1.1" ry="1.2" fill="#a02ab4" opacity="0.87"/>
<ellipse cx="664.9" cy="177.5" rx="1.2" ry="1.4" fill="#a02ab4" opacity="0.58"/>
<ellipse cx="682.8" cy="200.2" rx="1.7" ry="0.7" fill="#a02ab4" opacity="0.55"/>
<ellipse cx="666.9" cy="184.9" rx="1.8" ry="1.0" fill="#a02ab4" opacity="0.68"/>
<ellipse cx="667.8" cy="177.2" rx="1.6" ry="1.2" fill="#a02ab4" opacity="0.74"/>
<ellipse cx="660.0" cy="180.1" rx="1.2" ry="1.1" fill="#a02ab4" opacity="0.66"/>
<ellipse cx="672.0" cy="187.9" rx="1.6" ry="1.4" fill="#a02ab4" opacity="0.57"/>
<ellipse cx="680.1" cy="190.9" rx="1.5" ry="1.4" fill="#a02ab4" opacity="0.53"/>
<ellipse cx="660.7" cy="198.7" rx="1.1" ry="1.6" fill="#a02ab4" opacity="0.54"/>
<ellipse cx="654.5" cy="185.3" rx="1.2" ry="1.2" fill="#a02ab4" opacity="0.56"/>
<ellipse cx="680.9" cy="182.7" rx="1.5" ry="1.0" fill="#a02ab4" opacity="0.84"/>
<ellipse cx="657.5" cy="186.5" rx="1.8" ry="1.0" fill="#a02ab4" opacity="0.55"/>
<ellipse cx="679.8" cy="196.2" rx="2.0" ry="0.8" fill="#a02ab4" opacity="0.53"/>
<ellipse cx="683.1" cy="185.5" rx="1.5" ry="0.6" fill="#a02ab4" opacity="0.81"/>
<ellipse cx="679.4" cy="175.3" rx="1.6" ry="0.9" fill="#a02ab4" opacity="0.71"/>
<ellipse cx="684.0" cy="175.1" rx="1.5" ry="1.2" fill="#a02ab4" opacity="0.70"/>
<ellipse cx="666.9" cy="184.0" rx="2.5" ry="1.2" fill="#a02ab4" opacity="0.87"/>
<ellipse cx="653.9" cy="193.7" rx="1.8" ry="1.5" fill="#a02ab4" opacity="0.81"/>
<ellipse cx="665.4" cy="187.0" rx="1.6" ry="1.4" fill="#a02ab4" opacity="0.73"/>
<ellipse cx="665.6" cy="178.0" rx="1.9" ry="1.4" fill="#a02ab4" opacity="0.89"/>
<ellipse cx="651.9" cy="198.1" rx="1.8" ry="1.0" fill="#a02ab4" opacity="0.93"/>
<ellipse cx="663.8" cy="175.7" rx="2.4" ry="1.3" fill="#a02ab4" opacity="0.50"/>
<ellipse cx="651.2" cy="182.8" rx="1.2" ry="0.6" fill="#a02ab4" opacity="0.73"/>
<ellipse cx="663.2" cy="186.4" rx="2.2" ry="1.0" fill="#a02ab4" opacity="0.74"/>
<ellipse cx="651.3" cy="179.5" rx="1.2" ry="1.3" fill="#a02ab4" opacity="0.90"/>
<ellipse cx="683.4" cy="189.7" rx="1.8" ry="1.0" fill="#a02ab4" opacity="0.51"/>
<ellipse cx="670.6" cy="184.3" rx="2.1" ry="1.1" fill="#a02ab4" opacity="0.79"/>
<ellipse cx="676.3" cy="189.0" rx="1.4" ry="0.7" fill="#a02ab4" opacity="0.64"/>
<ellipse cx="656.0" cy="174.9" rx="1.4" ry="1.0" fill="#a02ab4" opacity="0.86"/>
<ellipse cx="664.8" cy="196.6" rx="2.6" ry="1.4" fill="#a02ab4" opacity="0.51"/>
<ellipse cx="654.5" cy="195.5" rx="1.4" ry="1.5" fill="#a02ab4" opacity="0.60"/>
<ellipse cx="682.6" cy="201.9" rx="1.2" ry="1.4" fill="#a02ab4" opacity="0.55"/>
</g>
<rect x="649.3" y="206.6" width="35" height="35" fill="#04040c"/>
<g filter="url(#bl2)">
<path d="M662.8 237.2h0M663.9 235.8h0M661.7 240.3h0M651.3 240.5h0M680.1 226.4h0M671.1 215.6h0M661.9 230.3h0M655.3 219.1h0M674.0 240.5h0M667.8 217.4h0M671.1 223.6h0M672.7 230.2h0M661.6 238.6h0M665.3 219.4h0M660.4 213.9h0" stroke="#2828a0" stroke-width="1.80" stroke-linecap="round" fill="none" opacity="0.60" />
<path d="M667.8 222.3h0M656.0 236.7h0M662.7 220.2h0M653.8 213.0h0M656.0 214.3h0M679.1 227.4h0M682.6 232.5h0M661.0 237.2h0M669.6 236.3h0M650.4 219.2h0M660.1 216.5h0M672.3 219.1h0M650.4 218.8h0M663.4 218.2h0M661.2 215.6h0" stroke="#2828a0" stroke-width="2.60" stroke-linecap="round" fill="none" opacity="0.80" />
<path d="M681.0 212.5h0M654.5 224.5h0M678.4 222.5h0M660.5 215.5h0M669.6 234.3h0M654.8 209.1h0M667.2 214.2h0M674.1 232.0h0M650.3 238.9h0M665.4 229.2h0M680.7 237.0h0M661.8 230.7h0M662.7 233.9h0M659.4 214.3h0M661.2 229.4h0" stroke="#2828a0" stroke-width="3.40" stroke-linecap="round" fill="none" />
</g>
<path d="M668,162 L666.04,155.7 L669.96,155.7 Z" fill="#f0e020"/>
<path d="M672,162 L670.04,155.7 L673.96,155.7 Z" fill="#f0e020"/>
<path d="M668,196 L666.04,189.7 L669.96,189.7 Z" fill="#f0e020"/>
<path d="M672,196 L670.04,189.7 L673.96,189.7 Z" fill="#f0e020"/>
<path d="M668,234 L666.04,227.7 L669.96,227.7 Z" fill="#f0e020"/>
<path d="M672,234 L670.04,227.7 L673.96,227.7 Z" fill="#f0e020"/>
<text x="0.2" y="218.9" font-size="10" fill="#111" text-anchor="start" font-weight="bold" style="" >c</text>
<text x="10.9" y="225.0" font-size="7" fill="#444" text-anchor="start" font-weight="normal" style="font-style:italic;" >GRN - Beta,1</text>
<text x="10.9" y="351.5" font-size="7" fill="#444" text-anchor="start" font-weight="normal" style="font-style:italic;" >GRN - Beta,0</text>
<line x1="97.0" y1="244.2" x2="64.7" y2="240.5" stroke="#bcd9a0" stroke-width="0.35" opacity="0.75"/>
<line x1="97.0" y1="244.2" x2="72.9" y2="239.8" stroke="#efb0d4" stroke-width="0.35" opacity="0.75"/>
<line x1="97.0" y1="244.2" x2="69.7" y2="237.1" stroke="#bcd9a0" stroke-width="0.35" opacity="0.75"/>
<line x1="97.0" y1="244.2" x2="77.9" y2="237.9" stroke="#efb0d4" stroke-width="0.35" opacity="0.75"/>
<line x1="97.0" y1="244.2" x2="68.3" y2="233.5" stroke="#bcd9a0" stroke-width="0.35" opacity="0.75"/>
<line x1="97.0" y1="244.2" x2="72.7" y2="231.8" stroke="#efb0d4" stroke-width="0.35" opacity="0.75"/>
<line x1="97.0" y1="244.2" x2="74.7" y2="230.2" stroke="#efb0d4" stroke-width="0.35" opacity="0.75"/>
<line x1="97.0" y1="244.2" x2="83.5" y2="234.3" stroke="#bcd9a0" stroke-width="0.35" opacity="0.75"/>
<line x1="97.0" y1="244.2" x2="79.8" y2="228.6" stroke="#bcd9a0" stroke-width="0.35" opacity="0.75"/>
<line x1="97.0" y1="244.2" x2="81.4" y2="227.7" stroke="#bcd9a0" stroke-width="0.35" opacity="0.75"/>
<line x1="97.0" y1="244.2" x2="83.6" y2="225.3" stroke="#efb0d4" stroke-width="0.35" opacity="0.75"/>
<line x1="97.0" y1="244.2" x2="88.0" y2="226.4" stroke="#efb0d4" stroke-width="0.35" opacity="0.75"/>
<line x1="97.0" y1="244.2" x2="93.3" y2="230.6" stroke="#bcd9a0" stroke-width="0.35" opacity="0.75"/>
<line x1="97.0" y1="244.2" x2="95.2" y2="224.9" stroke="#bcd9a0" stroke-width="0.35" opacity="0.75"/>
<line x1="97.0" y1="244.2" x2="98.7" y2="230.3" stroke="#bcd9a0" stroke-width="0.35" opacity="0.75"/>
<line x1="97.0" y1="244.2" x2="100.8" y2="228.0" stroke="#efb0d4" stroke-width="0.35" opacity="0.75"/>
<line x1="97.0" y1="244.2" x2="105.4" y2="224.5" stroke="#efb0d4" stroke-width="0.35" opacity="0.75"/>
<line x1="97.0" y1="244.2" x2="109.3" y2="224.9" stroke="#efb0d4" stroke-width="0.35" opacity="0.75"/>
<line x1="97.0" y1="244.2" x2="109.6" y2="229.4" stroke="#bcd9a0" stroke-width="0.35" opacity="0.75"/>
<line x1="97.0" y1="244.2" x2="108.7" y2="233.0" stroke="#efb0d4" stroke-width="0.35" opacity="0.75"/>
<line x1="97.0" y1="244.2" x2="110.4" y2="233.8" stroke="#bcd9a0" stroke-width="0.35" opacity="0.75"/>
<line x1="97.0" y1="244.2" x2="115.5" y2="233.3" stroke="#bcd9a0" stroke-width="0.35" opacity="0.75"/>
<line x1="97.0" y1="244.2" x2="115.2" y2="235.0" stroke="#bcd9a0" stroke-width="0.35" opacity="0.75"/>
<line x1="97.0" y1="244.2" x2="119.5" y2="235.7" stroke="#bcd9a0" stroke-width="0.35" opacity="0.75"/>
<line x1="97.0" y1="244.2" x2="118.2" y2="237.2" stroke="#bcd9a0" stroke-width="0.35" opacity="0.75"/>
<line x1="97.0" y1="244.2" x2="122.7" y2="238.1" stroke="#bcd9a0" stroke-width="0.35" opacity="0.75"/>
<line x1="97.0" y1="244.2" x2="131.6" y2="238.0" stroke="#bcd9a0" stroke-width="0.35" opacity="0.75"/>
<line x1="97.0" y1="244.2" x2="133.8" y2="239.5" stroke="#bcd9a0" stroke-width="0.35" opacity="0.75"/>
<line x1="56.0" y1="262.9" x2="32.3" y2="284.4" stroke="#bcd9a0" stroke-width="0.35" opacity="0.75"/>
<line x1="56.0" y1="262.9" x2="24.1" y2="288.6" stroke="#efb0d4" stroke-width="0.35" opacity="0.75"/>
<line x1="56.0" y1="262.9" x2="35.6" y2="277.9" stroke="#bcd9a0" stroke-width="0.35" opacity="0.75"/>
<line x1="56.0" y1="262.9" x2="27.0" y2="280.7" stroke="#efb0d4" stroke-width="0.35" opacity="0.75"/>
<line x1="56.0" y1="262.9" x2="29.9" y2="277.8" stroke="#efb0d4" stroke-width="0.35" opacity="0.75"/>
<line x1="56.0" y1="262.9" x2="28.7" y2="276.5" stroke="#bcd9a0" stroke-width="0.35" opacity="0.75"/>
<line x1="56.0" y1="262.9" x2="25.8" y2="275.9" stroke="#efb0d4" stroke-width="0.35" opacity="0.75"/>
<line x1="56.0" y1="262.9" x2="16.0" y2="276.4" stroke="#bcd9a0" stroke-width="0.35" opacity="0.75"/>
<line x1="56.0" y1="262.9" x2="27.6" y2="271.8" stroke="#bcd9a0" stroke-width="0.35" opacity="0.75"/>
<line x1="56.0" y1="262.9" x2="25.4" y2="270.9" stroke="#efb0d4" stroke-width="0.35" opacity="0.75"/>
<line x1="56.0" y1="262.9" x2="10.2" y2="271.5" stroke="#bcd9a0" stroke-width="0.35" opacity="0.75"/>
<line x1="56.0" y1="262.9" x2="9.2" y2="269.8" stroke="#bcd9a0" stroke-width="0.35" opacity="0.75"/>
<line x1="56.0" y1="262.9" x2="16.7" y2="267.0" stroke="#efb0d4" stroke-width="0.35" opacity="0.75"/>
<line x1="56.0" y1="262.9" x2="12.3" y2="265.7" stroke="#bcd9a0" stroke-width="0.35" opacity="0.75"/>
<line x1="56.0" y1="262.9" x2="7.0" y2="263.0" stroke="#bcd9a0" stroke-width="0.35" opacity="0.75"/>
<line x1="56.0" y1="262.9" x2="20.9" y2="261.8" stroke="#efb0d4" stroke-width="0.35" opacity="0.75"/>
<line x1="56.0" y1="262.9" x2="15.5" y2="259.1" stroke="#efb0d4" stroke-width="0.35" opacity="0.75"/>
<line x1="56.0" y1="262.9" x2="12.3" y2="256.9" stroke="#efb0d4" stroke-width="0.35" opacity="0.75"/>
<line x1="56.0" y1="262.9" x2="26.8" y2="258.0" stroke="#bcd9a0" stroke-width="0.35" opacity="0.75"/>
<line x1="56.0" y1="262.9" x2="15.8" y2="254.1" stroke="#efb0d4" stroke-width="0.35" opacity="0.75"/>
<line x1="56.0" y1="262.9" x2="27.4" y2="255.2" stroke="#efb0d4" stroke-width="0.35" opacity="0.75"/>
<line x1="56.0" y1="262.9" x2="19.8" y2="251.2" stroke="#efb0d4" stroke-width="0.35" opacity="0.75"/>
<line x1="56.0" y1="262.9" x2="14.5" y2="246.7" stroke="#efb0d4" stroke-width="0.35" opacity="0.75"/>
<line x1="56.0" y1="262.9" x2="16.4" y2="245.3" stroke="#efb0d4" stroke-width="0.35" opacity="0.75"/>
<line x1="56.0" y1="262.9" x2="24.1" y2="245.9" stroke="#bcd9a0" stroke-width="0.35" opacity="0.75"/>
<line x1="56.0" y1="262.9" x2="26.4" y2="245.0" stroke="#bcd9a0" stroke-width="0.35" opacity="0.75"/>
<line x1="56.0" y1="262.9" x2="36.1" y2="248.9" stroke="#bcd9a0" stroke-width="0.35" opacity="0.75"/>
<line x1="56.0" y1="262.9" x2="31.9" y2="243.5" stroke="#efb0d4" stroke-width="0.35" opacity="0.75"/>
<line x1="56.0" y1="262.9" x2="35.9" y2="244.5" stroke="#efb0d4" stroke-width="0.35" opacity="0.75"/>
<line x1="56.0" y1="262.9" x2="37.4" y2="243.5" stroke="#efb0d4" stroke-width="0.35" opacity="0.75"/>
<line x1="56.0" y1="262.9" x2="31.3" y2="234.2" stroke="#efb0d4" stroke-width="0.35" opacity="0.75"/>
<line x1="56.0" y1="262.9" x2="35.9" y2="234.2" stroke="#bcd9a0" stroke-width="0.35" opacity="0.75"/>
<line x1="74.3" y1="279.3" x2="73.1" y2="292.0" stroke="#efb0d4" stroke-width="0.35" opacity="0.75"/>
<line x1="74.3" y1="279.3" x2="70.1" y2="302.0" stroke="#bcd9a0" stroke-width="0.35" opacity="0.75"/>
<line x1="74.3" y1="279.3" x2="68.2" y2="299.9" stroke="#efb0d4" stroke-width="0.35" opacity="0.75"/>
<line x1="74.3" y1="279.3" x2="64.8" y2="302.3" stroke="#efb0d4" stroke-width="0.35" opacity="0.75"/>
<line x1="74.3" y1="279.3" x2="65.8" y2="294.1" stroke="#bcd9a0" stroke-width="0.35" opacity="0.75"/>
<line x1="74.3" y1="279.3" x2="66.6" y2="290.1" stroke="#efb0d4" stroke-width="0.35" opacity="0.75"/>
<line x1="74.3" y1="279.3" x2="56.2" y2="298.6" stroke="#bcd9a0" stroke-width="0.35" opacity="0.75"/>
<line x1="74.3" y1="279.3" x2="52.2" y2="298.8" stroke="#bcd9a0" stroke-width="0.35" opacity="0.75"/>
<line x1="74.3" y1="279.3" x2="56.4" y2="292.4" stroke="#bcd9a0" stroke-width="0.35" opacity="0.75"/>
<line x1="74.3" y1="279.3" x2="62.9" y2="286.4" stroke="#bcd9a0" stroke-width="0.35" opacity="0.75"/>
<line x1="74.3" y1="279.3" x2="57.8" y2="287.7" stroke="#bcd9a0" stroke-width="0.35" opacity="0.75"/>
<line x1="74.3" y1="279.3" x2="53.3" y2="287.0" stroke="#efb0d4" stroke-width="0.35" opacity="0.75"/>
<line x1="74.3" y1="279.3" x2="55.0" y2="284.9" stroke="#efb0d4" stroke-width="0.35" opacity="0.75"/>
<line x1="74.3" y1="279.3" x2="42.0" y2="285.6" stroke="#efb0d4" stroke-width="0.35" opacity="0.75"/>
<line x1="74.3" y1="279.3" x2="57.1" y2="281.7" stroke="#bcd9a0" stroke-width="0.35" opacity="0.75"/>
<line x1="74.3" y1="279.3" x2="42.5" y2="280.2" stroke="#bcd9a0" stroke-width="0.35" opacity="0.75"/>
<line x1="126.2" y1="278.5" x2="135.4" y2="260.5" stroke="#efb0d4" stroke-width="0.35" opacity="0.75"/>
<line x1="126.2" y1="278.5" x2="137.0" y2="263.0" stroke="#efb0d4" stroke-width="0.35" opacity="0.75"/>
<line x1="126.2" y1="278.5" x2="137.5" y2="265.0" stroke="#bcd9a0" stroke-width="0.35" opacity="0.75"/>
<line x1="126.2" y1="278.5" x2="141.2" y2="264.5" stroke="#efb0d4" stroke-width="0.35" opacity="0.75"/>
<line x1="126.2" y1="278.5" x2="149.1" y2="262.3" stroke="#bcd9a0" stroke-width="0.35" opacity="0.75"/>
<line x1="126.2" y1="278.5" x2="139.1" y2="270.3" stroke="#bcd9a0" stroke-width="0.35" opacity="0.75"/>
<line x1="126.2" y1="278.5" x2="138.9" y2="272.3" stroke="#bcd9a0" stroke-width="0.35" opacity="0.75"/>
<line x1="126.2" y1="278.5" x2="143.0" y2="271.4" stroke="#bcd9a0" stroke-width="0.35" opacity="0.75"/>
<line x1="126.2" y1="278.5" x2="147.2" y2="272.1" stroke="#bcd9a0" stroke-width="0.35" opacity="0.75"/>
<line x1="126.2" y1="278.5" x2="142.6" y2="274.9" stroke="#bcd9a0" stroke-width="0.35" opacity="0.75"/>
<line x1="126.2" y1="278.5" x2="146.2" y2="274.9" stroke="#efb0d4" stroke-width="0.35" opacity="0.75"/>
<line x1="126.2" y1="278.5" x2="143.8" y2="276.8" stroke="#bcd9a0" stroke-width="0.35" opacity="0.75"/>
<line x1="126.2" y1="278.5" x2="146.6" y2="278.2" stroke="#bcd9a0" stroke-width="0.35" opacity="0.75"/>
<line x1="126.2" y1="278.5" x2="159.4" y2="280.2" stroke="#efb0d4" stroke-width="0.35" opacity="0.75"/>
<line x1="126.2" y1="278.5" x2="144.8" y2="280.3" stroke="#efb0d4" stroke-width="0.35" opacity="0.75"/>
<line x1="126.2" y1="278.5" x2="147.2" y2="281.8" stroke="#bcd9a0" stroke-width="0.35" opacity="0.75"/>
<line x1="126.2" y1="278.5" x2="147.6" y2="283.6" stroke="#efb0d4" stroke-width="0.35" opacity="0.75"/>
<line x1="126.2" y1="278.5" x2="150.7" y2="286.5" stroke="#efb0d4" stroke-width="0.35" opacity="0.75"/>
<line x1="126.2" y1="278.5" x2="142.8" y2="285.1" stroke="#bcd9a0" stroke-width="0.35" opacity="0.75"/>
<line x1="126.2" y1="278.5" x2="140.4" y2="286.0" stroke="#bcd9a0" stroke-width="0.35" opacity="0.75"/>
<line x1="126.2" y1="278.5" x2="149.6" y2="293.4" stroke="#efb0d4" stroke-width="0.35" opacity="0.75"/>
<line x1="126.2" y1="278.5" x2="136.5" y2="286.1" stroke="#efb0d4" stroke-width="0.35" opacity="0.75"/>
<line x1="126.2" y1="278.5" x2="141.9" y2="292.1" stroke="#efb0d4" stroke-width="0.35" opacity="0.75"/>
<line x1="126.2" y1="278.5" x2="142.9" y2="297.6" stroke="#efb0d4" stroke-width="0.35" opacity="0.75"/>
<line x1="126.2" y1="278.5" x2="140.3" y2="298.2" stroke="#bcd9a0" stroke-width="0.35" opacity="0.75"/>
<line x1="126.2" y1="278.5" x2="136.1" y2="298.2" stroke="#bcd9a0" stroke-width="0.35" opacity="0.75"/>
<line x1="96.5" y1="289.3" x2="111.7" y2="298.9" stroke="#efb0d4" stroke-width="0.35" opacity="0.75"/>
<line x1="96.5" y1="289.3" x2="104.5" y2="296.4" stroke="#efb0d4" stroke-width="0.35" opacity="0.75"/>
<line x1="96.5" y1="289.3" x2="111.3" y2="306.0" stroke="#efb0d4" stroke-width="0.35" opacity="0.75"/>
<line x1="96.5" y1="289.3" x2="108.7" y2="306.7" stroke="#bcd9a0" stroke-width="0.35" opacity="0.75"/>
<line x1="96.5" y1="289.3" x2="105.7" y2="309.7" stroke="#efb0d4" stroke-width="0.35" opacity="0.75"/>
<line x1="96.5" y1="289.3" x2="99.9" y2="299.8" stroke="#efb0d4" stroke-width="0.35" opacity="0.75"/>
<line x1="96.5" y1="289.3" x2="99.9" y2="309.5" stroke="#bcd9a0" stroke-width="0.35" opacity="0.75"/>
<line x1="96.5" y1="289.3" x2="97.5" y2="300.1" stroke="#bcd9a0" stroke-width="0.35" opacity="0.75"/>
<line x1="96.5" y1="289.3" x2="95.1" y2="307.9" stroke="#efb0d4" stroke-width="0.35" opacity="0.75"/>
<line x1="96.5" y1="289.3" x2="92.4" y2="308.3" stroke="#efb0d4" stroke-width="0.35" opacity="0.75"/>
<line x1="96.5" y1="289.3" x2="92.0" y2="303.5" stroke="#efb0d4" stroke-width="0.35" opacity="0.75"/>
<line x1="96.5" y1="289.3" x2="91.9" y2="298.3" stroke="#efb0d4" stroke-width="0.35" opacity="0.75"/>
<line x1="96.5" y1="289.3" x2="89.4" y2="299.7" stroke="#efb0d4" stroke-width="0.35" opacity="0.75"/>
<line x1="96.5" y1="289.3" x2="88.0" y2="298.7" stroke="#efb0d4" stroke-width="0.35" opacity="0.75"/>
<line x1="96.5" y1="289.3" x2="87.4" y2="297.5" stroke="#bcd9a0" stroke-width="0.35" opacity="0.75"/>
<line x1="96.5" y1="289.3" x2="80.3" y2="300.2" stroke="#bcd9a0" stroke-width="0.35" opacity="0.75"/>
<line x1="74.5" y1="256.0" x2="65.1" y2="251.5" stroke="#efb0d4" stroke-width="0.35" opacity="0.75"/>
<line x1="74.5" y1="256.0" x2="62.3" y2="245.0" stroke="#bcd9a0" stroke-width="0.35" opacity="0.75"/>
<line x1="74.5" y1="256.0" x2="66.4" y2="246.7" stroke="#bcd9a0" stroke-width="0.35" opacity="0.75"/>
<line x1="74.5" y1="256.0" x2="64.7" y2="238.6" stroke="#efb0d4" stroke-width="0.35" opacity="0.75"/>
<line x1="74.5" y1="256.0" x2="70.1" y2="237.8" stroke="#efb0d4" stroke-width="0.35" opacity="0.75"/>
<line x1="74.5" y1="256.0" x2="73.3" y2="241.6" stroke="#bcd9a0" stroke-width="0.35" opacity="0.75"/>
<line x1="74.5" y1="256.0" x2="77.6" y2="236.0" stroke="#efb0d4" stroke-width="0.35" opacity="0.75"/>
<line x1="74.5" y1="256.0" x2="82.7" y2="239.8" stroke="#efb0d4" stroke-width="0.35" opacity="0.75"/>
<line x1="79.8" y1="315.9" x2="94.8" y2="327.7" stroke="#efb0d4" stroke-width="0.35" opacity="0.75"/>
<line x1="79.8" y1="315.9" x2="94.3" y2="333.4" stroke="#bcd9a0" stroke-width="0.35" opacity="0.75"/>
<line x1="79.8" y1="315.9" x2="90.5" y2="336.5" stroke="#efb0d4" stroke-width="0.35" opacity="0.75"/>
<line x1="79.8" y1="315.9" x2="81.7" y2="325.9" stroke="#bcd9a0" stroke-width="0.35" opacity="0.75"/>
<line x1="79.8" y1="315.9" x2="80.4" y2="329.6" stroke="#bcd9a0" stroke-width="0.35" opacity="0.75"/>
<line x1="79.8" y1="315.9" x2="74.7" y2="334.3" stroke="#bcd9a0" stroke-width="0.35" opacity="0.75"/>
<line x1="79.8" y1="315.9" x2="70.1" y2="337.5" stroke="#efb0d4" stroke-width="0.35" opacity="0.75"/>
<line x1="79.8" y1="315.9" x2="71.0" y2="325.3" stroke="#efb0d4" stroke-width="0.35" opacity="0.75"/>
<line x1="79.8" y1="315.9" x2="63.0" y2="328.2" stroke="#efb0d4" stroke-width="0.35" opacity="0.75"/>
<line x1="97.0" y1="244.2" x2="126.2" y2="278.5" stroke="#7aaa5a" stroke-width="0.6" opacity="0.75"/>
<line x1="97.0" y1="244.2" x2="96.5" y2="289.3" stroke="#5a8a4a" stroke-width="0.5" opacity="0.75"/>
<line x1="74.5" y1="256.0" x2="126.2" y2="278.5" stroke="#c0307a" stroke-width="0.8" opacity="0.75"/>
<line x1="74.3" y1="279.3" x2="126.2" y2="278.5" stroke="#d070a8" stroke-width="0.6" opacity="0.75"/>
<line x1="95.3" y1="274.6" x2="126.2" y2="278.5" stroke="#c0307a" stroke-width="0.7" opacity="0.75"/>
<line x1="56.0" y1="262.9" x2="97.0" y2="244.2" stroke="#a8d080" stroke-width="0.5" opacity="0.75"/>
<line x1="74.3" y1="279.3" x2="97.0" y2="244.2" stroke="#f0a0c8" stroke-width="0.5" opacity="0.75"/>
<line x1="96.5" y1="289.3" x2="79.8" y2="315.9" stroke="#a8d080" stroke-width="0.6" opacity="0.75"/>
<line x1="56.0" y1="262.9" x2="96.5" y2="289.3" stroke="#f0a0c8" stroke-width="0.5" opacity="0.75"/>
<line x1="97.0" y1="244.2" x2="95.3" y2="274.6" stroke="#5a8a4a" stroke-width="0.5" opacity="0.75"/>
<line x1="74.3" y1="279.3" x2="96.5" y2="289.3" stroke="#a8d080" stroke-width="0.5" opacity="0.75"/>
<line x1="74.5" y1="256.0" x2="95.3" y2="274.6" stroke="#a03070" stroke-width="0.6" opacity="0.75"/>
<line x1="56.0" y1="262.9" x2="126.2" y2="278.5" stroke="#f0b8d8" stroke-width="0.5" opacity="0.75"/>
<line x1="61.8" y1="306.5" x2="79.8" y2="315.9" stroke="#2e7d32" stroke-width="0.7" opacity="0.75"/>
<line x1="96.5" y1="289.3" x2="110.0" y2="300.0" stroke="#4a7a40" stroke-width="0.6" opacity="0.75"/>
<line x1="42.1" y1="393.5" x2="17.5" y2="371.3" stroke="#bcd9a0" stroke-width="0.35" opacity="0.75"/>
<line x1="42.1" y1="393.5" x2="17.9" y2="402.9" stroke="#bcd9a0" stroke-width="0.35" opacity="0.75"/>
<line x1="42.1" y1="393.5" x2="12.8" y2="385.8" stroke="#bcd9a0" stroke-width="0.35" opacity="0.75"/>
<line x1="42.1" y1="393.5" x2="10.0" y2="382.6" stroke="#bcd9a0" stroke-width="0.35" opacity="0.75"/>
<line x1="42.1" y1="393.5" x2="29.6" y2="367.2" stroke="#efb0d4" stroke-width="0.35" opacity="0.75"/>
<line x1="42.1" y1="393.5" x2="19.6" y2="375.4" stroke="#bcd9a0" stroke-width="0.35" opacity="0.75"/>
<line x1="42.1" y1="393.5" x2="30.4" y2="372.0" stroke="#efb0d4" stroke-width="0.35" opacity="0.75"/>
<line x1="42.1" y1="393.5" x2="25.4" y2="397.8" stroke="#efb0d4" stroke-width="0.35" opacity="0.75"/>
<line x1="42.1" y1="393.5" x2="15.3" y2="393.1" stroke="#bcd9a0" stroke-width="0.35" opacity="0.75"/>
<line x1="42.1" y1="393.5" x2="21.5" y2="376.1" stroke="#bcd9a0" stroke-width="0.35" opacity="0.75"/>
<line x1="42.1" y1="393.5" x2="15.1" y2="407.8" stroke="#bcd9a0" stroke-width="0.35" opacity="0.75"/>
<line x1="42.1" y1="393.5" x2="23.0" y2="390.6" stroke="#efb0d4" stroke-width="0.35" opacity="0.75"/>
<line x1="42.1" y1="393.5" x2="31.2" y2="379.0" stroke="#bcd9a0" stroke-width="0.35" opacity="0.75"/>
<line x1="42.1" y1="393.5" x2="13.9" y2="383.0" stroke="#efb0d4" stroke-width="0.35" opacity="0.75"/>
<line x1="42.1" y1="393.5" x2="26.7" y2="403.6" stroke="#bcd9a0" stroke-width="0.35" opacity="0.75"/>
<line x1="42.1" y1="393.5" x2="20.3" y2="395.3" stroke="#bcd9a0" stroke-width="0.35" opacity="0.75"/>
<line x1="42.1" y1="393.5" x2="19.3" y2="372.0" stroke="#bcd9a0" stroke-width="0.35" opacity="0.75"/>
<line x1="42.1" y1="393.5" x2="10.0" y2="382.3" stroke="#bcd9a0" stroke-width="0.35" opacity="0.75"/>
<line x1="42.1" y1="393.5" x2="11.0" y2="389.0" stroke="#efb0d4" stroke-width="0.35" opacity="0.75"/>
<line x1="42.1" y1="393.5" x2="26.1" y2="376.1" stroke="#bcd9a0" stroke-width="0.35" opacity="0.75"/>
<line x1="102.8" y1="375.5" x2="75.2" y2="368.3" stroke="#efb0d4" stroke-width="0.35" opacity="0.75"/>
<line x1="102.8" y1="375.5" x2="104.6" y2="355.3" stroke="#efb0d4" stroke-width="0.35" opacity="0.75"/>
<line x1="102.8" y1="375.5" x2="108.2" y2="356.2" stroke="#bcd9a0" stroke-width="0.35" opacity="0.75"/>
<line x1="102.8" y1="375.5" x2="119.7" y2="353.7" stroke="#efb0d4" stroke-width="0.35" opacity="0.75"/>
<line x1="102.8" y1="375.5" x2="98.2" y2="359.7" stroke="#efb0d4" stroke-width="0.35" opacity="0.75"/>
<line x1="102.8" y1="375.5" x2="126.3" y2="359.0" stroke="#efb0d4" stroke-width="0.35" opacity="0.75"/>
<line x1="102.8" y1="375.5" x2="109.3" y2="358.7" stroke="#efb0d4" stroke-width="0.35" opacity="0.75"/>
<line x1="102.8" y1="375.5" x2="114.8" y2="364.2" stroke="#efb0d4" stroke-width="0.35" opacity="0.75"/>
<line x1="102.8" y1="375.5" x2="80.7" y2="360.1" stroke="#efb0d4" stroke-width="0.35" opacity="0.75"/>
<line x1="102.8" y1="375.5" x2="82.3" y2="364.8" stroke="#bcd9a0" stroke-width="0.35" opacity="0.75"/>
<line x1="102.8" y1="375.5" x2="92.1" y2="364.0" stroke="#efb0d4" stroke-width="0.35" opacity="0.75"/>
<line x1="102.8" y1="375.5" x2="119.1" y2="362.4" stroke="#efb0d4" stroke-width="0.35" opacity="0.75"/>
<line x1="102.8" y1="375.5" x2="113.6" y2="361.0" stroke="#bcd9a0" stroke-width="0.35" opacity="0.75"/>
<line x1="102.8" y1="375.5" x2="104.7" y2="363.5" stroke="#efb0d4" stroke-width="0.35" opacity="0.75"/>
<line x1="102.8" y1="375.5" x2="94.0" y2="361.3" stroke="#efb0d4" stroke-width="0.35" opacity="0.75"/>
<line x1="102.8" y1="375.5" x2="78.8" y2="366.6" stroke="#bcd9a0" stroke-width="0.35" opacity="0.75"/>
<line x1="102.8" y1="375.5" x2="109.2" y2="364.9" stroke="#bcd9a0" stroke-width="0.35" opacity="0.75"/>
<line x1="102.8" y1="375.5" x2="86.8" y2="356.7" stroke="#efb0d4" stroke-width="0.35" opacity="0.75"/>
<line x1="102.8" y1="375.5" x2="105.4" y2="346.3" stroke="#efb0d4" stroke-width="0.35" opacity="0.75"/>
<line x1="102.8" y1="375.5" x2="101.4" y2="363.2" stroke="#efb0d4" stroke-width="0.35" opacity="0.75"/>
<line x1="102.8" y1="375.5" x2="86.9" y2="364.7" stroke="#efb0d4" stroke-width="0.35" opacity="0.75"/>
<line x1="102.8" y1="375.5" x2="112.3" y2="357.7" stroke="#bcd9a0" stroke-width="0.35" opacity="0.75"/>
<line x1="71.8" y1="378.0" x2="71.9" y2="362.7" stroke="#bcd9a0" stroke-width="0.35" opacity="0.75"/>
<line x1="71.8" y1="378.0" x2="55.4" y2="371.3" stroke="#bcd9a0" stroke-width="0.35" opacity="0.75"/>
<line x1="71.8" y1="378.0" x2="81.8" y2="361.5" stroke="#bcd9a0" stroke-width="0.35" opacity="0.75"/>
<line x1="71.8" y1="378.0" x2="66.1" y2="367.6" stroke="#bcd9a0" stroke-width="0.35" opacity="0.75"/>
<line x1="71.8" y1="378.0" x2="77.9" y2="365.5" stroke="#bcd9a0" stroke-width="0.35" opacity="0.75"/>
<line x1="71.8" y1="378.0" x2="59.7" y2="360.1" stroke="#bcd9a0" stroke-width="0.35" opacity="0.75"/>
<line x1="71.8" y1="378.0" x2="63.1" y2="370.0" stroke="#bcd9a0" stroke-width="0.35" opacity="0.75"/>
<line x1="71.8" y1="378.0" x2="78.4" y2="367.2" stroke="#bcd9a0" stroke-width="0.35" opacity="0.75"/>
<line x1="112.8" y1="421.4" x2="136.2" y2="412.9" stroke="#bcd9a0" stroke-width="0.35" opacity="0.75"/>
<line x1="112.8" y1="421.4" x2="139.7" y2="425.5" stroke="#efb0d4" stroke-width="0.35" opacity="0.75"/>
<line x1="112.8" y1="421.4" x2="124.4" y2="432.6" stroke="#efb0d4" stroke-width="0.35" opacity="0.75"/>
<line x1="112.8" y1="421.4" x2="127.4" y2="413.0" stroke="#bcd9a0" stroke-width="0.35" opacity="0.75"/>
<line x1="112.8" y1="421.4" x2="127.7" y2="429.4" stroke="#efb0d4" stroke-width="0.35" opacity="0.75"/>
<line x1="112.8" y1="421.4" x2="137.6" y2="435.2" stroke="#bcd9a0" stroke-width="0.35" opacity="0.75"/>
<line x1="112.8" y1="421.4" x2="133.2" y2="441.0" stroke="#efb0d4" stroke-width="0.35" opacity="0.75"/>
<line x1="112.8" y1="421.4" x2="131.1" y2="420.2" stroke="#bcd9a0" stroke-width="0.35" opacity="0.75"/>
<line x1="112.8" y1="421.4" x2="140.5" y2="422.8" stroke="#efb0d4" stroke-width="0.35" opacity="0.75"/>
<line x1="112.8" y1="421.4" x2="124.1" y2="427.7" stroke="#efb0d4" stroke-width="0.35" opacity="0.75"/>
<line x1="112.8" y1="421.4" x2="127.1" y2="440.1" stroke="#efb0d4" stroke-width="0.35" opacity="0.75"/>
<line x1="112.8" y1="421.4" x2="133.0" y2="407.0" stroke="#efb0d4" stroke-width="0.35" opacity="0.75"/>
<line x1="112.8" y1="421.4" x2="128.6" y2="442.5" stroke="#bcd9a0" stroke-width="0.35" opacity="0.75"/>
<line x1="112.8" y1="421.4" x2="122.0" y2="436.6" stroke="#efb0d4" stroke-width="0.35" opacity="0.75"/>
<line x1="112.8" y1="421.4" x2="132.1" y2="437.4" stroke="#efb0d4" stroke-width="0.35" opacity="0.75"/>
<line x1="112.8" y1="421.4" x2="118.9" y2="438.2" stroke="#efb0d4" stroke-width="0.35" opacity="0.75"/>
<line x1="82.1" y1="440.5" x2="87.3" y2="450.7" stroke="#bcd9a0" stroke-width="0.35" opacity="0.75"/>
<line x1="82.1" y1="440.5" x2="72.3" y2="447.8" stroke="#efb0d4" stroke-width="0.35" opacity="0.75"/>
<line x1="82.1" y1="440.5" x2="93.1" y2="450.6" stroke="#bcd9a0" stroke-width="0.35" opacity="0.75"/>
<line x1="82.1" y1="440.5" x2="92.4" y2="458.6" stroke="#bcd9a0" stroke-width="0.35" opacity="0.75"/>
<line x1="82.1" y1="440.5" x2="101.6" y2="450.6" stroke="#bcd9a0" stroke-width="0.35" opacity="0.75"/>
<line x1="82.1" y1="440.5" x2="80.7" y2="452.1" stroke="#bcd9a0" stroke-width="0.35" opacity="0.75"/>
<line x1="82.1" y1="440.5" x2="96.7" y2="459.7" stroke="#efb0d4" stroke-width="0.35" opacity="0.75"/>
<line x1="82.1" y1="440.5" x2="93.7" y2="454.2" stroke="#bcd9a0" stroke-width="0.35" opacity="0.75"/>
<line x1="82.1" y1="440.5" x2="76.0" y2="456.3" stroke="#bcd9a0" stroke-width="0.35" opacity="0.75"/>
<line x1="82.1" y1="440.5" x2="83.5" y2="453.6" stroke="#bcd9a0" stroke-width="0.35" opacity="0.75"/>
<line x1="82.1" y1="440.5" x2="89.8" y2="450.6" stroke="#bcd9a0" stroke-width="0.35" opacity="0.75"/>
<line x1="82.1" y1="440.5" x2="102.9" y2="448.9" stroke="#efb0d4" stroke-width="0.35" opacity="0.75"/>
<line x1="82.1" y1="440.5" x2="68.6" y2="444.2" stroke="#bcd9a0" stroke-width="0.35" opacity="0.75"/>
<line x1="82.1" y1="440.5" x2="79.5" y2="456.3" stroke="#bcd9a0" stroke-width="0.35" opacity="0.75"/>
<line x1="82.1" y1="440.5" x2="68.1" y2="460.4" stroke="#bcd9a0" stroke-width="0.35" opacity="0.75"/>
<line x1="82.1" y1="440.5" x2="72.3" y2="455.2" stroke="#bcd9a0" stroke-width="0.35" opacity="0.75"/>
<line x1="82.1" y1="440.5" x2="88.4" y2="464.1" stroke="#efb0d4" stroke-width="0.35" opacity="0.75"/>
<line x1="82.1" y1="440.5" x2="97.6" y2="454.4" stroke="#efb0d4" stroke-width="0.35" opacity="0.75"/>
<line x1="82.1" y1="440.5" x2="68.9" y2="462.2" stroke="#bcd9a0" stroke-width="0.35" opacity="0.75"/>
<line x1="82.1" y1="440.5" x2="96.3" y2="462.2" stroke="#bcd9a0" stroke-width="0.35" opacity="0.75"/>
<line x1="82.1" y1="440.5" x2="76.5" y2="463.0" stroke="#bcd9a0" stroke-width="0.35" opacity="0.75"/>
<line x1="82.1" y1="440.5" x2="75.6" y2="448.7" stroke="#efb0d4" stroke-width="0.35" opacity="0.75"/>
<line x1="71.8" y1="418.0" x2="61.9" y2="431.1" stroke="#bcd9a0" stroke-width="0.35" opacity="0.75"/>
<line x1="71.8" y1="418.0" x2="40.9" y2="418.5" stroke="#bcd9a0" stroke-width="0.35" opacity="0.75"/>
<line x1="71.8" y1="418.0" x2="38.3" y2="416.6" stroke="#efb0d4" stroke-width="0.35" opacity="0.75"/>
<line x1="71.8" y1="418.0" x2="46.7" y2="424.7" stroke="#bcd9a0" stroke-width="0.35" opacity="0.75"/>
<line x1="71.8" y1="418.0" x2="47.2" y2="410.5" stroke="#efb0d4" stroke-width="0.35" opacity="0.75"/>
<line x1="71.8" y1="418.0" x2="47.8" y2="439.6" stroke="#bcd9a0" stroke-width="0.35" opacity="0.75"/>
<line x1="71.8" y1="418.0" x2="62.0" y2="423.3" stroke="#bcd9a0" stroke-width="0.35" opacity="0.75"/>
<line x1="71.8" y1="418.0" x2="57.9" y2="419.1" stroke="#bcd9a0" stroke-width="0.35" opacity="0.75"/>
<line x1="71.8" y1="418.0" x2="60.7" y2="418.7" stroke="#efb0d4" stroke-width="0.35" opacity="0.75"/>
<line x1="71.8" y1="418.0" x2="63.8" y2="438.8" stroke="#efb0d4" stroke-width="0.35" opacity="0.75"/>
<line x1="71.8" y1="418.0" x2="41.9" y2="425.9" stroke="#efb0d4" stroke-width="0.35" opacity="0.75"/>
<line x1="71.8" y1="418.0" x2="56.6" y2="430.1" stroke="#bcd9a0" stroke-width="0.35" opacity="0.75"/>
<line x1="125.2" y1="407.0" x2="134.9" y2="404.2" stroke="#efb0d4" stroke-width="0.35" opacity="0.75"/>
<line x1="125.2" y1="407.0" x2="154.2" y2="413.0" stroke="#efb0d4" stroke-width="0.35" opacity="0.75"/>
<line x1="125.2" y1="407.0" x2="153.2" y2="403.6" stroke="#efb0d4" stroke-width="0.35" opacity="0.75"/>
<line x1="125.2" y1="407.0" x2="137.6" y2="409.7" stroke="#efb0d4" stroke-width="0.35" opacity="0.75"/>
<line x1="125.2" y1="407.0" x2="147.8" y2="408.0" stroke="#efb0d4" stroke-width="0.35" opacity="0.75"/>
<line x1="125.2" y1="407.0" x2="151.6" y2="407.7" stroke="#efb0d4" stroke-width="0.35" opacity="0.75"/>
<line x1="71.8" y1="378.0" x2="42.1" y2="393.5" stroke="#a8d080" stroke-width="0.6" opacity="0.75"/>
<line x1="71.8" y1="378.0" x2="102.8" y2="375.5" stroke="#bcd9a0" stroke-width="0.5" opacity="0.75"/>
<line x1="102.8" y1="375.5" x2="125.2" y2="407.0" stroke="#bcd9a0" stroke-width="0.5" opacity="0.75"/>
<line x1="85.2" y1="408.3" x2="112.8" y2="421.4" stroke="#d0408a" stroke-width="0.9" opacity="0.75"/>
<line x1="71.8" y1="378.0" x2="71.8" y2="418.0" stroke="#bcd9a0" stroke-width="0.5" opacity="0.75"/>
<line x1="125.2" y1="407.0" x2="112.8" y2="421.4" stroke="#a8d080" stroke-width="0.6" opacity="0.75"/>
<line x1="102.8" y1="375.5" x2="101.5" y2="398.0" stroke="#f0b8d8" stroke-width="0.4" opacity="0.75"/>
<line x1="42.1" y1="393.5" x2="85.2" y2="408.3" stroke="#f0b8d8" stroke-width="0.4" opacity="0.75"/>
<line x1="85.2" y1="408.3" x2="71.8" y2="418.0" stroke="#f0b8d8" stroke-width="0.4" opacity="0.75"/>
<line x1="102.8" y1="375.5" x2="112.8" y2="421.4" stroke="#bcd9a0" stroke-width="0.5" opacity="0.75"/>
<line x1="101.5" y1="398.0" x2="125.2" y2="407.0" stroke="#f0b8d8" stroke-width="0.4" opacity="0.75"/>
<line x1="71.8" y1="418.0" x2="82.1" y2="440.5" stroke="#f0b8d8" stroke-width="0.4" opacity="0.75"/>
<path d="M64.7 240.5h0M72.9 239.8h0M69.7 237.1h0M77.9 237.9h0M68.3 233.5h0M72.7 231.8h0M74.7 230.2h0M83.5 234.3h0M79.8 228.6h0M81.4 227.7h0M83.6 225.3h0M88.0 226.4h0M93.3 230.6h0M95.2 224.9h0M98.7 230.3h0M100.8 228.0h0M105.4 224.5h0M109.3 224.9h0M109.6 229.4h0M108.7 233.0h0M110.4 233.8h0M115.5 233.3h0M115.2 235.0h0M119.5 235.7h0M118.2 237.2h0M122.7 238.1h0M131.6 238.0h0M133.8 239.5h0M32.3 284.4h0M24.1 288.6h0M35.6 277.9h0M27.0 280.7h0M29.9 277.8h0M28.7 276.5h0M25.8 275.9h0M16.0 276.4h0M27.6 271.8h0M25.4 270.9h0M10.2 271.5h0M9.2 269.8h0M16.7 267.0h0M12.3 265.7h0M7.0 263.0h0M20.9 261.8h0M15.5 259.1h0M12.3 256.9h0M26.8 258.0h0M15.8 254.1h0M27.4 255.2h0M19.8 251.2h0M14.5 246.7h0M16.4 245.3h0M24.1 245.9h0M26.4 245.0h0M36.1 248.9h0M31.9 243.5h0M35.9 244.5h0M37.4 243.5h0M31.3 234.2h0M35.9 234.2h0M73.1 292.0h0M70.1 302.0h0M68.2 299.9h0M64.8 302.3h0M65.8 294.1h0M66.6 290.1h0M56.2 298.6h0M52.2 298.8h0M56.4 292.4h0M62.9 286.4h0M57.8 287.7h0M53.3 287.0h0M55.0 284.9h0M42.0 285.6h0M57.1 281.7h0M42.5 280.2h0M135.4 260.5h0M137.0 263.0h0M137.5 265.0h0M141.2 264.5h0M149.1 262.3h0M139.1 270.3h0M138.9 272.3h0M143.0 271.4h0M147.2 272.1h0M142.6 274.9h0M146.2 274.9h0M143.8 276.8h0M146.6 278.2h0M159.4 280.2h0M144.8 280.3h0M147.2 281.8h0M147.6 283.6h0M150.7 286.5h0M142.8 285.1h0M140.4 286.0h0M149.6 293.4h0M136.5 286.1h0M141.9 292.1h0M142.9 297.6h0M140.3 298.2h0M136.1 298.2h0M111.7 298.9h0M104.5 296.4h0M111.3 306.0h0M108.7 306.7h0M105.7 309.7h0M99.9 299.8h0M99.9 309.5h0M97.5 300.1h0M95.1 307.9h0M92.4 308.3h0M92.0 303.5h0M91.9 298.3h0M89.4 299.7h0M88.0 298.7h0M87.4 297.5h0M80.3 300.2h0M65.1 251.5h0M62.3 245.0h0M66.4 246.7h0M64.7 238.6h0M70.1 237.8h0M73.3 241.6h0M77.6 236.0h0M82.7 239.8h0M94.8 327.7h0M94.3 333.4h0M90.5 336.5h0M81.7 325.9h0M80.4 329.6h0M74.7 334.3h0M70.1 337.5h0M71.0 325.3h0M63.0 328.2h0M17.5 371.3h0M17.9 402.9h0M12.8 385.8h0M10.0 382.6h0M29.6 367.2h0M19.6 375.4h0M30.4 372.0h0M25.4 397.8h0M15.3 393.1h0M21.5 376.1h0M15.1 407.8h0M23.0 390.6h0M31.2 379.0h0M13.9 383.0h0M26.7 403.6h0M20.3 395.3h0M19.3 372.0h0M10.0 382.3h0M11.0 389.0h0M26.1 376.1h0M75.2 368.3h0M104.6 355.3h0M108.2 356.2h0M119.7 353.7h0M98.2 359.7h0M126.3 359.0h0M109.3 358.7h0M114.8 364.2h0M80.7 360.1h0M82.3 364.8h0M92.1 364.0h0M119.1 362.4h0M113.6 361.0h0M104.7 363.5h0M94.0 361.3h0M78.8 366.6h0M109.2 364.9h0M86.8 356.7h0M105.4 346.3h0M101.4 363.2h0M86.9 364.7h0M112.3 357.7h0M71.9 362.7h0M55.4 371.3h0M81.8 361.5h0M66.1 367.6h0M77.9 365.5h0M59.7 360.1h0M63.1 370.0h0M78.4 367.2h0M136.2 412.9h0M139.7 425.5h0M124.4 432.6h0M127.4 413.0h0M127.7 429.4h0M137.6 435.2h0M133.2 441.0h0M131.1 420.2h0M140.5 422.8h0M124.1 427.7h0M127.1 440.1h0M133.0 407.0h0M128.6 442.5h0M122.0 436.6h0M132.1 437.4h0M118.9 438.2h0M87.3 450.7h0M72.3 447.8h0M93.1 450.6h0M92.4 458.6h0M101.6 450.6h0M80.7 452.1h0M96.7 459.7h0M93.7 454.2h0M76.0 456.3h0M83.5 453.6h0M89.8 450.6h0M102.9 448.9h0M68.6 444.2h0M79.5 456.3h0M68.1 460.4h0M72.3 455.2h0M88.4 464.1h0M97.6 454.4h0M68.9 462.2h0M96.3 462.2h0M76.5 463.0h0M75.6 448.7h0M61.9 431.1h0M40.9 418.5h0M38.3 416.6h0M46.7 424.7h0M47.2 410.5h0M47.8 439.6h0M62.0 423.3h0M57.9 419.1h0M60.7 418.7h0M63.8 438.8h0M41.9 425.9h0M56.6 430.1h0M134.9 404.2h0M154.2 413.0h0M153.2 403.6h0M137.6 409.7h0M147.8 408.0h0M151.6 407.7h0" stroke="#9a9a9a" stroke-width="1.20" stroke-linecap="round" fill="none" />
<circle cx="127.7" cy="255.9" r="1.5" fill="#b0b0b0"/>
<circle cx="54.4" cy="296.7" r="1.5" fill="#b0b0b0"/>
<circle cx="61.3" cy="333" r="1.6" fill="#b0b0b0"/>
<circle cx="77.1" cy="335.5" r="1.8" fill="#b0b0b0"/>
<circle cx="102" cy="312" r="1.2" fill="#b0b0b0"/>
<circle cx="107.5" cy="311.5" r="1.2" fill="#b0b0b0"/>
<circle cx="135.6" cy="418" r="1.3" fill="#b0b0b0"/>
<circle cx="120.6" cy="436.1" r="1.3" fill="#b0b0b0"/>
<circle cx="95.5" cy="452.2" r="1.3" fill="#b0b0b0"/>
<circle cx="97" cy="244.2" r="2.3" fill="#a6d4e8"/>
<circle cx="56" cy="262.9" r="2.2" fill="#a6d4e8"/>
<circle cx="74.3" cy="279.3" r="2.2" fill="#a6d4e8"/>
<circle cx="95.3" cy="274.6" r="2.0" fill="#a6d4e8"/>
<circle cx="96.5" cy="289.3" r="2.5" fill="#a6d4e8"/>
<circle cx="126.2" cy="278.5" r="3.3" fill="#a6d4e8"/>
<circle cx="79.8" cy="315.9" r="2.0" fill="#a6d4e8"/>
<circle cx="74.5" cy="256" r="1.6" fill="#a6d4e8"/>
<circle cx="71.8" cy="378" r="2.0" fill="#a6d4e8"/>
<circle cx="102.8" cy="375.5" r="2.0" fill="#a6d4e8"/>
<circle cx="42.1" cy="393.5" r="2.0" fill="#a6d4e8"/>
<circle cx="101.5" cy="398" r="1.8" fill="#a6d4e8"/>
<circle cx="85.2" cy="408.3" r="1.8" fill="#a6d4e8"/>
<circle cx="125.2" cy="407" r="1.8" fill="#a6d4e8"/>
<circle cx="65.8" cy="414" r="2.4" fill="#a6d4e8"/>
<circle cx="71.8" cy="418" r="2.0" fill="#a6d4e8"/>
<circle cx="112.8" cy="421.4" r="2.2" fill="#a6d4e8"/>
<circle cx="82.1" cy="440.5" r="2.0" fill="#a6d4e8"/>
<text x="78.4" y="257.5" font-size="7" fill="#222" text-anchor="middle" font-weight="normal" style="font-style:italic;" >MEIS2</text>
<text x="113.0" y="265.0" font-size="7" fill="#222" text-anchor="middle" font-weight="normal" style="font-style:italic;" >ISL1</text>
<text x="67.4" y="275.5" font-size="7" fill="#222" text-anchor="middle" font-weight="normal" style="font-style:italic;" >RORA</text>
<text x="101.0" y="290.2" font-size="7" fill="#222" text-anchor="middle" font-weight="normal" style="font-style:italic;" >RFX3</text>
<text x="129.0" y="292.5" font-size="7" fill="#222" text-anchor="middle" font-weight="normal" style="font-style:italic;" >ETV1</text>
<text x="76.0" y="379.0" font-size="7" fill="#222" text-anchor="middle" font-weight="normal" style="font-style:italic;" >FOS</text>
<text x="48.0" y="394.5" font-size="7" fill="#222" text-anchor="middle" font-weight="normal" style="font-style:italic;" >EGR1</text>
<text x="76.0" y="419.0" font-size="7" fill="#222" text-anchor="middle" font-weight="normal" style="font-style:italic;" >FEV</text>
<text x="118.5" y="423.1" font-size="7" fill="#222" text-anchor="middle" font-weight="normal" style="font-style:italic;" >MEIS2</text>
<text x="89.4" y="441.1" font-size="7" fill="#222" text-anchor="middle" font-weight="normal" style="font-style:italic;" >PLAGL1</text>
<defs><linearGradient id="cbar" x1="0" y1="0" x2="0" y2="1"><stop offset="0" stop-color="#2a7a30"/><stop offset="0.22" stop-color="#80c048"/><stop offset="0.42" stop-color="#e8f4d8"/><stop offset="0.5" stop-color="#f8f8f8"/><stop offset="0.65" stop-color="#f8d0e8"/><stop offset="0.85" stop-color="#e070b0"/><stop offset="1" stop-color="#b0106a"/></linearGradient></defs>
<rect x="154.1" y="304.4" width="4.1" height="35.3" fill="url(#cbar)"/>
<line x1="158.2" y1="306.3" x2="159.6" y2="306.3" stroke="#333" stroke-width="0.6"/>
<line x1="158.2" y1="322.5" x2="159.6" y2="322.5" stroke="#333" stroke-width="0.6"/>
<line x1="158.2" y1="339.3" x2="159.6" y2="339.3" stroke="#333" stroke-width="0.6"/>
<text x="160.0" y="308.8" font-size="7" fill="#222" text-anchor="start" font-weight="normal" style="" >0.20</text>
<text x="160.0" y="325.0" font-size="7" fill="#222" text-anchor="start" font-weight="normal" style="" >0.00</text>
<text x="160.0" y="341.8" font-size="7" fill="#222" text-anchor="start" font-weight="normal" style="" >−0.20</text>
<text x="0" y="0" font-size="7" fill="#222" text-anchor="middle" transform="translate(151,322.5) rotate(-90)">coef mean</text>
<text x="150.4" y="360.0" font-size="7" fill="#222" text-anchor="start" font-weight="normal" style="" >Degree</text>
<circle cx="152.4" cy="367.2" r="1.2" fill="#111"/>
<text x="159.0" y="369.7" font-size="7" fill="#222" text-anchor="start" font-weight="normal" style="" >20</text>
<circle cx="152.4" cy="377.3" r="2.0" fill="#111"/>
<text x="159.0" y="379.8" font-size="7" fill="#222" text-anchor="start" font-weight="normal" style="" >60</text>
<circle cx="152.4" cy="387.5" r="2.8" fill="#111"/>
<text x="159.0" y="390.0" font-size="7" fill="#222" text-anchor="start" font-weight="normal" style="" >100</text>
<text x="178.5" y="244.0" font-size="10" fill="#111" text-anchor="start" font-weight="bold" style="" >d</text>
<text x="247.4" y="251.3" font-size="7" fill="#333" text-anchor="middle" font-weight="normal" style="font-style:italic;" >Pseudotime 2D gradient vector field</text>
<text x="247.4" y="365.0" font-size="7" fill="#333" text-anchor="middle" font-weight="normal" style="font-style:italic;" >Simulated MEIS2 KO vector field</text>
<text x="398.3" y="257.0" font-size="7" fill="#333" text-anchor="middle" font-weight="normal" style="font-style:italic;" >MEIS2 KO perturbation scores</text>
<defs><filter id="gb" x="-10%" y="-10%" width="120%" height="120%"><feGaussianBlur stdDeviation="0.5"/></filter><filter id="gb2" x="-10%" y="-10%" width="120%" height="120%"><feGaussianBlur stdDeviation="1.5"/></filter><pattern id="dots" width="2.15" height="2.15" patternUnits="userSpaceOnUse"><rect x="1.55" y="1.55" width="0.55" height="0.55" fill="#fff" opacity="0.75"/><rect x="1.65" y="0" width="0.35" height="2.15" fill="#fff" opacity="0.1"/><rect x="0" y="1.65" width="2.15" height="0.35" fill="#fff" opacity="0.1"/></pattern><clipPath id="cp_blue"><path d="M227,259 C232,259 236,266 236,274 C236,280 233,284 228,286 C224,288 221,291 219,292 C216,289 215,286 213,286 C210,287 207,285 206,281 C205,277 208,275 211,274 C214,272 217,270 219,268 C220,263 223,259 227,259 Z"/></clipPath><clipPath id="cp_left"><path d="M205,293 C210,292 215,295 218,298 C222,303 226,308 228,312 C232,316 236,320 237,326 C237,332 234,339 230,340 C224,340 219,337 216,332 C212,326 207,318 205,312 C203,306 203,298 205,293 Z"/></clipPath><clipPath id="cp_mid"><path d="M236,300 C237,292 242,285 248,280 C253,275 257,272 261,272 C265,275 266,281 265,288 C263,295 259,301 254,305 C248,307 241,306 236,300 Z"/></clipPath><clipPath id="cp_tr"><path d="M265,262 C267,259 271,259 273,261 C275,266 274,274 274,280 C274,285 272,288 270,287 C268,283 266,280 265,276 C264,272 264,266 265,262 Z"/></clipPath><clipPath id="cp_right"><path d="M268,303 C272,299 278,298 283,300 C288,302 291,308 291,314 C290,320 286,323 280,323 C276,323 272,320 269,316 C267,312 267,306 268,303 Z"/></clipPath><clipPath id="cp_ring"><path d="M246,308 C250,304 258,304 262,308 C264,313 262,319 257,321 C252,322 247,319 246,315 Z"/></clipPath><clipPath id="cp_bridge"><path d="M237,318 C245,318 255,321 262,322 C265,323 268,324 269,322 L268,327 C262,327 252,326 244,324 C240,323 237,322 237,318 Z"/></clipPath><filter id="rough2" x="-10%" y="-10%" width="120%" height="120%"><feTurbulence type="fractalNoise" baseFrequency="0.5" numOctaves="2" seed="9" result="t"/><feDisplacementMap in="SourceGraphic" in2="t" scale="4" xChannelSelector="R" yChannelSelector="G"/></filter></defs>
<g transform="translate(0,0)"><g filter="url(#rough2)">
<g clip-path="url(#cp_blue)"><rect x="203" y="257" width="35" height="37" fill="#b8b8b8"/>
<g filter="url(#gb2)">
<ellipse cx="212" cy="280" rx="6" ry="5" fill="#777"/>
<ellipse cx="220" cy="286" rx="5" ry="4" fill="#666"/>
<ellipse cx="228" cy="265" rx="7" ry="6" fill="#c8c8c8"/>
</g><g filter="url(#gb)">
<ellipse cx="222.7" cy="279.9" rx="1.4" ry="0.8" transform="rotate(96 222.7 279.9)" fill="#e8e8e8" opacity="0.7"/>
<ellipse cx="221.3" cy="291.3" rx="1.1" ry="0.7" transform="rotate(87 221.3 291.3)" fill="#ccc" opacity="0.7"/>
<ellipse cx="213.7" cy="281.2" rx="1.1" ry="0.6" transform="rotate(9 213.7 281.2)" fill="#555" opacity="0.7"/>
<ellipse cx="223.8" cy="283.3" rx="2.1" ry="0.6" transform="rotate(123 223.8 283.3)" fill="#e8e8e8" opacity="0.7"/>
<ellipse cx="208.6" cy="260.8" rx="2.2" ry="0.9" transform="rotate(12 208.6 260.8)" fill="#e8e8e8" opacity="0.7"/>
<ellipse cx="216.3" cy="280.6" rx="1.0" ry="0.3" transform="rotate(94 216.3 280.6)" fill="#ccc" opacity="0.7"/>
<ellipse cx="214.4" cy="272.0" rx="2.0" ry="0.5" transform="rotate(113 214.4 272.0)" fill="#222" opacity="0.7"/>
<ellipse cx="226.2" cy="287.1" rx="0.8" ry="0.5" transform="rotate(10 226.2 287.1)" fill="#222" opacity="0.7"/>
<ellipse cx="213.5" cy="265.7" rx="1.3" ry="0.6" transform="rotate(64 213.5 265.7)" fill="#555" opacity="0.7"/>
<ellipse cx="221.7" cy="284.9" rx="0.6" ry="0.5" transform="rotate(136 221.7 284.9)" fill="#222" opacity="0.7"/>
<ellipse cx="216.2" cy="281.0" rx="1.8" ry="0.8" transform="rotate(152 216.2 281.0)" fill="#555" opacity="0.7"/>
<ellipse cx="231.8" cy="289.0" rx="0.7" ry="0.4" transform="rotate(108 231.8 289.0)" fill="#e8e8e8" opacity="0.7"/>
<ellipse cx="227.6" cy="274.3" rx="1.3" ry="0.6" transform="rotate(112 227.6 274.3)" fill="#ccc" opacity="0.7"/>
<ellipse cx="228.5" cy="271.8" rx="1.9" ry="0.5" transform="rotate(19 228.5 271.8)" fill="#e8e8e8" opacity="0.7"/>
<ellipse cx="210.7" cy="282.5" rx="2.1" ry="0.4" transform="rotate(130 210.7 282.5)" fill="#e8e8e8" opacity="0.7"/>
<ellipse cx="216.0" cy="273.1" rx="2.1" ry="0.8" transform="rotate(135 216.0 273.1)" fill="#e8e8e8" opacity="0.7"/>
<ellipse cx="223.2" cy="275.9" rx="2.0" ry="0.3" transform="rotate(87 223.2 275.9)" fill="#ccc" opacity="0.7"/>
<ellipse cx="229.7" cy="287.0" rx="0.9" ry="0.4" transform="rotate(171 229.7 287.0)" fill="#222" opacity="0.7"/>
<ellipse cx="207.2" cy="289.6" rx="1.3" ry="0.6" transform="rotate(67 207.2 289.6)" fill="#ccc" opacity="0.7"/>
<ellipse cx="231.6" cy="264.1" rx="1.9" ry="0.4" transform="rotate(7 231.6 264.1)" fill="#222" opacity="0.7"/>
<ellipse cx="205.6" cy="284.8" rx="1.7" ry="0.5" transform="rotate(16 205.6 284.8)" fill="#ddd" opacity="0.7"/>
<ellipse cx="232.7" cy="275.5" rx="1.8" ry="0.8" transform="rotate(3 232.7 275.5)" fill="#222" opacity="0.7"/>
<ellipse cx="205.2" cy="287.5" rx="1.4" ry="0.7" transform="rotate(18 205.2 287.5)" fill="#e8e8e8" opacity="0.7"/>
<ellipse cx="217.0" cy="283.8" rx="1.4" ry="0.8" transform="rotate(47 217.0 283.8)" fill="#222" opacity="0.7"/>
<ellipse cx="210.4" cy="276.5" rx="1.5" ry="0.6" transform="rotate(115 210.4 276.5)" fill="#555" opacity="0.7"/>
<ellipse cx="212.3" cy="259.8" rx="0.9" ry="0.7" transform="rotate(43 212.3 259.8)" fill="#444" opacity="0.7"/>
<ellipse cx="224.0" cy="285.9" rx="1.2" ry="0.5" transform="rotate(130 224.0 285.9)" fill="#ccc" opacity="0.7"/>
<ellipse cx="212.0" cy="260.4" rx="1.2" ry="0.4" transform="rotate(175 212.0 260.4)" fill="#222" opacity="0.7"/>
<ellipse cx="225.0" cy="290.6" rx="0.7" ry="0.4" transform="rotate(143 225.0 290.6)" fill="#555" opacity="0.7"/>
<ellipse cx="221.0" cy="285.1" rx="2.0" ry="0.6" transform="rotate(140 221.0 285.1)" fill="#222" opacity="0.7"/>
<ellipse cx="232.1" cy="286.0" rx="1.1" ry="0.7" transform="rotate(163 232.1 286.0)" fill="#ccc" opacity="0.7"/>
<ellipse cx="224.4" cy="266.7" rx="1.9" ry="0.6" transform="rotate(72 224.4 266.7)" fill="#e8e8e8" opacity="0.7"/>
<ellipse cx="208.1" cy="284.4" rx="1.9" ry="0.4" transform="rotate(34 208.1 284.4)" fill="#333" opacity="0.7"/>
<ellipse cx="215.2" cy="289.1" rx="1.8" ry="0.4" transform="rotate(24 215.2 289.1)" fill="#ddd" opacity="0.7"/>
<ellipse cx="221.2" cy="288.8" rx="1.4" ry="0.8" transform="rotate(72 221.2 288.8)" fill="#ccc" opacity="0.7"/>
<ellipse cx="207.9" cy="277.7" rx="1.5" ry="0.8" transform="rotate(179 207.9 277.7)" fill="#ddd" opacity="0.7"/>
<ellipse cx="220.3" cy="275.7" rx="1.1" ry="0.6" transform="rotate(165 220.3 275.7)" fill="#555" opacity="0.7"/>
<ellipse cx="212.3" cy="267.4" rx="1.1" ry="0.8" transform="rotate(167 212.3 267.4)" fill="#555" opacity="0.7"/>
<ellipse cx="232.1" cy="285.5" rx="0.7" ry="0.9" transform="rotate(45 232.1 285.5)" fill="#555" opacity="0.7"/>
<ellipse cx="218.5" cy="275.5" rx="0.9" ry="0.6" transform="rotate(44 218.5 275.5)" fill="#222" opacity="0.7"/>
<ellipse cx="227.5" cy="279.7" rx="1.6" ry="0.8" transform="rotate(59 227.5 279.7)" fill="#ccc" opacity="0.7"/>
<ellipse cx="225.1" cy="270.6" rx="0.9" ry="0.6" transform="rotate(37 225.1 270.6)" fill="#222" opacity="0.7"/>
<ellipse cx="231.3" cy="268.5" rx="1.1" ry="0.8" transform="rotate(78 231.3 268.5)" fill="#ccc" opacity="0.7"/>
<ellipse cx="220.8" cy="270.7" rx="2.1" ry="0.7" transform="rotate(96 220.8 270.7)" fill="#333" opacity="0.7"/>
<ellipse cx="219.5" cy="286.8" rx="2.2" ry="0.3" transform="rotate(78 219.5 286.8)" fill="#555" opacity="0.7"/>
<ellipse cx="215.3" cy="264.9" rx="1.1" ry="0.7" transform="rotate(84 215.3 264.9)" fill="#ccc" opacity="0.7"/>
<ellipse cx="229.9" cy="270.6" rx="1.1" ry="0.7" transform="rotate(56 229.9 270.6)" fill="#e8e8e8" opacity="0.7"/>
<ellipse cx="223.4" cy="261.1" rx="2.0" ry="0.4" transform="rotate(27 223.4 261.1)" fill="#ccc" opacity="0.7"/>
<ellipse cx="220.3" cy="263.2" rx="1.5" ry="0.6" transform="rotate(160 220.3 263.2)" fill="#444" opacity="0.7"/>
<ellipse cx="226.0" cy="275.2" rx="0.9" ry="0.6" transform="rotate(50 226.0 275.2)" fill="#333" opacity="0.7"/>
<ellipse cx="224.0" cy="274.7" rx="2.1" ry="0.4" transform="rotate(120 224.0 274.7)" fill="#ddd" opacity="0.7"/>
<ellipse cx="207.6" cy="277.5" rx="1.8" ry="0.6" transform="rotate(72 207.6 277.5)" fill="#ddd" opacity="0.7"/>
<ellipse cx="224.5" cy="280.4" rx="0.6" ry="0.8" transform="rotate(163 224.5 280.4)" fill="#ccc" opacity="0.7"/>
<ellipse cx="223.4" cy="277.4" rx="1.9" ry="0.5" transform="rotate(149 223.4 277.4)" fill="#ddd" opacity="0.7"/>
<ellipse cx="232.3" cy="288.6" rx="0.8" ry="0.7" transform="rotate(176 232.3 288.6)" fill="#ccc" opacity="0.7"/>
<ellipse cx="214.9" cy="286.4" rx="1.8" ry="0.8" transform="rotate(37 214.9 286.4)" fill="#ccc" opacity="0.7"/>
</g></g>
<g clip-path="url(#cp_left)"><rect x="201" y="290" width="38" height="52" fill="#4a4a4a"/>
<g filter="url(#gb2)">
<ellipse cx="226" cy="334" rx="12" ry="8" fill="#a8a8a8"/>
<ellipse cx="232" cy="326" rx="6" ry="6" fill="#999"/>
<ellipse cx="214" cy="306" rx="6" ry="4" fill="#6a6a6a"/>
</g><g filter="url(#gb)">
<ellipse cx="207.7" cy="297.4" rx="2.2" ry="0.4" transform="rotate(18 207.7 297.4)" fill="#333" opacity="0.7"/>
<ellipse cx="210.7" cy="311.1" rx="1.7" ry="0.5" transform="rotate(68 210.7 311.1)" fill="#222" opacity="0.7"/>
<ellipse cx="220.7" cy="292.1" rx="0.8" ry="0.5" transform="rotate(139 220.7 292.1)" fill="#444" opacity="0.7"/>
<ellipse cx="206.7" cy="297.7" rx="1.9" ry="0.7" transform="rotate(147 206.7 297.7)" fill="#333" opacity="0.7"/>
<ellipse cx="222.0" cy="321.5" rx="1.5" ry="0.5" transform="rotate(153 222.0 321.5)" fill="#555" opacity="0.7"/>
<ellipse cx="215.9" cy="308.5" rx="1.2" ry="0.4" transform="rotate(126 215.9 308.5)" fill="#444" opacity="0.7"/>
<ellipse cx="213.5" cy="304.4" rx="1.5" ry="0.6" transform="rotate(137 213.5 304.4)" fill="#333" opacity="0.7"/>
<ellipse cx="218.1" cy="305.2" rx="0.9" ry="0.9" transform="rotate(107 218.1 305.2)" fill="#222" opacity="0.7"/>
<ellipse cx="232.0" cy="317.3" rx="1.7" ry="0.8" transform="rotate(166 232.0 317.3)" fill="#333" opacity="0.7"/>
<ellipse cx="232.6" cy="333.9" rx="1.1" ry="0.5" transform="rotate(56 232.6 333.9)" fill="#555" opacity="0.7"/>
<ellipse cx="215.3" cy="328.9" rx="2.0" ry="0.7" transform="rotate(71 215.3 328.9)" fill="#ccc" opacity="0.7"/>
<ellipse cx="220.5" cy="302.6" rx="1.8" ry="0.6" transform="rotate(154 220.5 302.6)" fill="#222" opacity="0.7"/>
<ellipse cx="220.6" cy="316.4" rx="2.0" ry="0.7" transform="rotate(41 220.6 316.4)" fill="#444" opacity="0.7"/>
<ellipse cx="208.5" cy="333.1" rx="2.1" ry="0.8" transform="rotate(73 208.5 333.1)" fill="#555" opacity="0.7"/>
<ellipse cx="209.3" cy="312.5" rx="0.6" ry="0.3" transform="rotate(80 209.3 312.5)" fill="#e8e8e8" opacity="0.7"/>
<ellipse cx="233.9" cy="334.2" rx="1.2" ry="0.7" transform="rotate(32 233.9 334.2)" fill="#222" opacity="0.7"/>
<ellipse cx="223.0" cy="292.6" rx="2.1" ry="0.5" transform="rotate(46 223.0 292.6)" fill="#555" opacity="0.7"/>
<ellipse cx="207.7" cy="339.9" rx="1.3" ry="0.8" transform="rotate(124 207.7 339.9)" fill="#333" opacity="0.7"/>
<ellipse cx="204.9" cy="316.0" rx="1.9" ry="0.5" transform="rotate(11 204.9 316.0)" fill="#333" opacity="0.7"/>
<ellipse cx="205.7" cy="301.8" rx="1.8" ry="0.3" transform="rotate(86 205.7 301.8)" fill="#222" opacity="0.7"/>
<ellipse cx="230.5" cy="327.0" rx="0.7" ry="0.4" transform="rotate(108 230.5 327.0)" fill="#444" opacity="0.7"/>
<ellipse cx="226.2" cy="294.8" rx="1.9" ry="0.7" transform="rotate(124 226.2 294.8)" fill="#333" opacity="0.7"/>
<ellipse cx="216.3" cy="324.8" rx="1.1" ry="0.6" transform="rotate(29 216.3 324.8)" fill="#222" opacity="0.7"/>
<ellipse cx="218.8" cy="319.1" rx="1.5" ry="0.8" transform="rotate(174 218.8 319.1)" fill="#e8e8e8" opacity="0.7"/>
<ellipse cx="228.1" cy="327.3" rx="2.0" ry="0.5" transform="rotate(173 228.1 327.3)" fill="#333" opacity="0.7"/>
<ellipse cx="226.9" cy="310.4" rx="1.5" ry="0.5" transform="rotate(177 226.9 310.4)" fill="#444" opacity="0.7"/>
<ellipse cx="216.5" cy="320.8" rx="0.8" ry="0.4" transform="rotate(74 216.5 320.8)" fill="#444" opacity="0.7"/>
<ellipse cx="223.4" cy="315.5" rx="2.1" ry="0.8" transform="rotate(169 223.4 315.5)" fill="#333" opacity="0.7"/>
<ellipse cx="206.9" cy="295.3" rx="1.2" ry="0.5" transform="rotate(65 206.9 295.3)" fill="#444" opacity="0.7"/>
<ellipse cx="206.8" cy="329.3" rx="0.6" ry="0.5" transform="rotate(120 206.8 329.3)" fill="#333" opacity="0.7"/>
<ellipse cx="204.9" cy="305.8" rx="1.8" ry="0.8" transform="rotate(69 204.9 305.8)" fill="#333" opacity="0.7"/>
<ellipse cx="204.1" cy="328.5" rx="1.8" ry="0.3" transform="rotate(169 204.1 328.5)" fill="#555" opacity="0.7"/>
<ellipse cx="235.5" cy="308.9" rx="1.0" ry="0.7" transform="rotate(33 235.5 308.9)" fill="#555" opacity="0.7"/>
<ellipse cx="203.2" cy="294.3" rx="1.2" ry="0.8" transform="rotate(25 203.2 294.3)" fill="#555" opacity="0.7"/>
<ellipse cx="223.2" cy="332.0" rx="1.0" ry="0.5" transform="rotate(137 223.2 332.0)" fill="#444" opacity="0.7"/>
<ellipse cx="205.7" cy="336.4" rx="1.0" ry="0.5" transform="rotate(84 205.7 336.4)" fill="#333" opacity="0.7"/>
<ellipse cx="234.0" cy="305.2" rx="0.8" ry="0.9" transform="rotate(36 234.0 305.2)" fill="#555" opacity="0.7"/>
<ellipse cx="224.5" cy="303.4" rx="0.7" ry="0.8" transform="rotate(44 224.5 303.4)" fill="#444" opacity="0.7"/>
<ellipse cx="203.4" cy="307.6" rx="1.4" ry="0.7" transform="rotate(12 203.4 307.6)" fill="#555" opacity="0.7"/>
<ellipse cx="205.2" cy="292.1" rx="1.5" ry="0.3" transform="rotate(46 205.2 292.1)" fill="#333" opacity="0.7"/>
<ellipse cx="237.0" cy="297.8" rx="1.2" ry="0.3" transform="rotate(154 237.0 297.8)" fill="#555" opacity="0.7"/>
<ellipse cx="210.9" cy="323.4" rx="1.2" ry="0.5" transform="rotate(22 210.9 323.4)" fill="#555" opacity="0.7"/>
<ellipse cx="211.1" cy="306.9" rx="2.1" ry="0.5" transform="rotate(122 211.1 306.9)" fill="#222" opacity="0.7"/>
<ellipse cx="234.6" cy="324.7" rx="2.0" ry="0.9" transform="rotate(87 234.6 324.7)" fill="#222" opacity="0.7"/>
<ellipse cx="203.7" cy="335.4" rx="2.2" ry="0.4" transform="rotate(164 203.7 335.4)" fill="#333" opacity="0.7"/>
<ellipse cx="230.4" cy="301.2" rx="1.5" ry="0.6" transform="rotate(180 230.4 301.2)" fill="#555" opacity="0.7"/>
<ellipse cx="212.8" cy="293.8" rx="2.1" ry="0.7" transform="rotate(168 212.8 293.8)" fill="#e8e8e8" opacity="0.7"/>
<ellipse cx="235.6" cy="325.8" rx="1.8" ry="0.6" transform="rotate(17 235.6 325.8)" fill="#444" opacity="0.7"/>
<ellipse cx="213.8" cy="333.0" rx="1.8" ry="0.7" transform="rotate(146 213.8 333.0)" fill="#333" opacity="0.7"/>
<ellipse cx="206.8" cy="339.7" rx="2.0" ry="0.3" transform="rotate(103 206.8 339.7)" fill="#555" opacity="0.7"/>
<ellipse cx="223.0" cy="300.3" rx="1.5" ry="0.6" transform="rotate(150 223.0 300.3)" fill="#e8e8e8" opacity="0.7"/>
<ellipse cx="204.9" cy="334.1" rx="1.7" ry="0.7" transform="rotate(29 204.9 334.1)" fill="#444" opacity="0.7"/>
<ellipse cx="222.6" cy="325.6" rx="1.9" ry="0.4" transform="rotate(44 222.6 325.6)" fill="#555" opacity="0.7"/>
<ellipse cx="224.4" cy="337.2" rx="1.7" ry="0.5" transform="rotate(66 224.4 337.2)" fill="#444" opacity="0.7"/>
<ellipse cx="235.9" cy="310.7" rx="2.1" ry="0.6" transform="rotate(50 235.9 310.7)" fill="#222" opacity="0.7"/>
<ellipse cx="217.7" cy="324.2" rx="1.0" ry="0.6" transform="rotate(1 217.7 324.2)" fill="#222" opacity="0.7"/>
<ellipse cx="213.3" cy="323.3" rx="1.0" ry="0.9" transform="rotate(117 213.3 323.3)" fill="#222" opacity="0.7"/>
<ellipse cx="203.9" cy="332.1" rx="1.1" ry="0.6" transform="rotate(26 203.9 332.1)" fill="#555" opacity="0.7"/>
<ellipse cx="208.4" cy="336.9" rx="1.3" ry="0.7" transform="rotate(178 208.4 336.9)" fill="#555" opacity="0.7"/>
<ellipse cx="205.2" cy="311.4" rx="2.1" ry="0.5" transform="rotate(45 205.2 311.4)" fill="#222" opacity="0.7"/>
<ellipse cx="225.7" cy="331.7" rx="0.8" ry="0.7" transform="rotate(46 225.7 331.7)" fill="#444" opacity="0.7"/>
<ellipse cx="203.9" cy="292.1" rx="1.3" ry="0.6" transform="rotate(143 203.9 292.1)" fill="#444" opacity="0.7"/>
<ellipse cx="226.6" cy="326.2" rx="1.7" ry="0.8" transform="rotate(102 226.6 326.2)" fill="#333" opacity="0.7"/>
<ellipse cx="221.4" cy="332.2" rx="1.8" ry="0.9" transform="rotate(96 221.4 332.2)" fill="#444" opacity="0.7"/>
<ellipse cx="209.6" cy="321.8" rx="0.6" ry="0.5" transform="rotate(62 209.6 321.8)" fill="#444" opacity="0.7"/>
<ellipse cx="212.5" cy="326.7" rx="0.9" ry="0.7" transform="rotate(25 212.5 326.7)" fill="#222" opacity="0.7"/>
<ellipse cx="215.7" cy="326.4" rx="1.1" ry="0.5" transform="rotate(60 215.7 326.4)" fill="#e8e8e8" opacity="0.7"/>
<ellipse cx="219.0" cy="319.7" rx="0.7" ry="0.9" transform="rotate(54 219.0 319.7)" fill="#222" opacity="0.7"/>
<ellipse cx="220.2" cy="319.1" rx="1.4" ry="0.7" transform="rotate(71 220.2 319.1)" fill="#444" opacity="0.7"/>
<ellipse cx="222.6" cy="316.3" rx="2.2" ry="0.6" transform="rotate(22 222.6 316.3)" fill="#555" opacity="0.7"/>
<ellipse cx="205.5" cy="292.3" rx="2.1" ry="0.4" transform="rotate(93 205.5 292.3)" fill="#555" opacity="0.7"/>
<ellipse cx="222.0" cy="309.8" rx="1.8" ry="0.4" transform="rotate(26 222.0 309.8)" fill="#444" opacity="0.7"/>
<ellipse cx="215.0" cy="330.1" rx="0.7" ry="0.5" transform="rotate(53 215.0 330.1)" fill="#333" opacity="0.7"/>
<ellipse cx="236.4" cy="321.5" rx="1.8" ry="0.4" transform="rotate(91 236.4 321.5)" fill="#222" opacity="0.7"/>
<ellipse cx="208.2" cy="339.0" rx="1.5" ry="0.8" transform="rotate(126 208.2 339.0)" fill="#333" opacity="0.7"/>
<ellipse cx="228.9" cy="316.9" rx="1.6" ry="0.8" transform="rotate(118 228.9 316.9)" fill="#222" opacity="0.7"/>
<ellipse cx="213.4" cy="339.6" rx="1.9" ry="0.4" transform="rotate(46 213.4 339.6)" fill="#222" opacity="0.7"/>
<ellipse cx="209.7" cy="295.3" rx="2.1" ry="0.9" transform="rotate(4 209.7 295.3)" fill="#444" opacity="0.7"/>
<ellipse cx="211.5" cy="308.9" rx="0.9" ry="0.9" transform="rotate(13 211.5 308.9)" fill="#222" opacity="0.7"/>
<ellipse cx="212.1" cy="293.3" rx="0.8" ry="0.8" transform="rotate(122 212.1 293.3)" fill="#555" opacity="0.7"/>
<ellipse cx="215.5" cy="308.1" rx="0.9" ry="0.7" transform="rotate(126 215.5 308.1)" fill="#555" opacity="0.7"/>
<ellipse cx="223.5" cy="330.2" rx="0.9" ry="0.7" transform="rotate(136 223.5 330.2)" fill="#333" opacity="0.7"/>
<ellipse cx="218.8" cy="327.0" rx="0.9" ry="0.8" transform="rotate(94 218.8 327.0)" fill="#222" opacity="0.7"/>
<ellipse cx="231.8" cy="332.7" rx="0.9" ry="0.6" transform="rotate(153 231.8 332.7)" fill="#e8e8e8" opacity="0.7"/>
<ellipse cx="212.6" cy="333.2" rx="0.8" ry="0.8" transform="rotate(89 212.6 333.2)" fill="#444" opacity="0.7"/>
<ellipse cx="211.8" cy="328.2" rx="0.6" ry="0.9" transform="rotate(125 211.8 328.2)" fill="#333" opacity="0.7"/>
<ellipse cx="225.3" cy="309.8" rx="1.2" ry="0.6" transform="rotate(171 225.3 309.8)" fill="#555" opacity="0.7"/>
<ellipse cx="227.7" cy="292.8" rx="1.3" ry="0.9" transform="rotate(7 227.7 292.8)" fill="#333" opacity="0.7"/>
<ellipse cx="228.4" cy="292.7" rx="0.8" ry="0.7" transform="rotate(98 228.4 292.7)" fill="#222" opacity="0.7"/>
<ellipse cx="228.9" cy="339.5" rx="1.3" ry="0.5" transform="rotate(93 228.9 339.5)" fill="#555" opacity="0.7"/>
</g></g>
<g clip-path="url(#cp_mid)"><rect x="234" y="270" width="34" height="39" fill="#b4b4b4"/>
<g filter="url(#gb2)">
<ellipse cx="244" cy="298" rx="8" ry="4" fill="#888"/>
<ellipse cx="256" cy="280" rx="6" ry="6" fill="#c4c4c4"/>
</g><g filter="url(#gb)">
<ellipse cx="255.4" cy="275.2" rx="1.0" ry="0.6" transform="rotate(34 255.4 275.2)" fill="#ddd" opacity="0.7"/>
<ellipse cx="260.3" cy="274.3" rx="1.8" ry="0.3" transform="rotate(109 260.3 274.3)" fill="#ddd" opacity="0.7"/>
<ellipse cx="262.0" cy="288.9" rx="0.8" ry="0.9" transform="rotate(36 262.0 288.9)" fill="#333" opacity="0.7"/>
<ellipse cx="244.1" cy="275.9" rx="1.5" ry="0.8" transform="rotate(130 244.1 275.9)" fill="#ccc" opacity="0.7"/>
<ellipse cx="242.9" cy="274.6" rx="1.7" ry="0.4" transform="rotate(12 242.9 274.6)" fill="#ccc" opacity="0.7"/>
<ellipse cx="242.3" cy="280.6" rx="0.9" ry="0.5" transform="rotate(123 242.3 280.6)" fill="#ccc" opacity="0.7"/>
<ellipse cx="248.4" cy="300.4" rx="2.2" ry="0.7" transform="rotate(143 248.4 300.4)" fill="#ccc" opacity="0.7"/>
<ellipse cx="244.7" cy="288.1" rx="1.4" ry="0.4" transform="rotate(92 244.7 288.1)" fill="#e8e8e8" opacity="0.7"/>
<ellipse cx="264.7" cy="273.1" rx="1.0" ry="0.9" transform="rotate(10 264.7 273.1)" fill="#555" opacity="0.7"/>
<ellipse cx="246.3" cy="275.5" rx="0.8" ry="0.5" transform="rotate(145 246.3 275.5)" fill="#ccc" opacity="0.7"/>
<ellipse cx="259.8" cy="273.2" rx="1.6" ry="0.9" transform="rotate(55 259.8 273.2)" fill="#ddd" opacity="0.7"/>
<ellipse cx="241.0" cy="286.0" rx="1.1" ry="0.8" transform="rotate(120 241.0 286.0)" fill="#555" opacity="0.7"/>
<ellipse cx="250.4" cy="301.0" rx="2.2" ry="0.6" transform="rotate(84 250.4 301.0)" fill="#555" opacity="0.7"/>
<ellipse cx="253.1" cy="305.6" rx="2.0" ry="0.9" transform="rotate(58 253.1 305.6)" fill="#ddd" opacity="0.7"/>
<ellipse cx="245.6" cy="305.4" rx="1.1" ry="0.8" transform="rotate(149 245.6 305.4)" fill="#ddd" opacity="0.7"/>
<ellipse cx="257.1" cy="302.5" rx="1.5" ry="0.6" transform="rotate(146 257.1 302.5)" fill="#555" opacity="0.7"/>
<ellipse cx="244.6" cy="294.3" rx="1.7" ry="0.7" transform="rotate(45 244.6 294.3)" fill="#ddd" opacity="0.7"/>
<ellipse cx="246.3" cy="276.6" rx="1.6" ry="0.5" transform="rotate(101 246.3 276.6)" fill="#ccc" opacity="0.7"/>
<ellipse cx="250.7" cy="305.5" rx="0.8" ry="0.9" transform="rotate(107 250.7 305.5)" fill="#ddd" opacity="0.7"/>
<ellipse cx="250.9" cy="286.8" rx="1.7" ry="0.5" transform="rotate(47 250.9 286.8)" fill="#e8e8e8" opacity="0.7"/>
<ellipse cx="247.9" cy="279.2" rx="1.2" ry="0.4" transform="rotate(134 247.9 279.2)" fill="#ddd" opacity="0.7"/>
<ellipse cx="250.9" cy="283.5" rx="1.6" ry="0.3" transform="rotate(134 250.9 283.5)" fill="#ccc" opacity="0.7"/>
<ellipse cx="240.1" cy="272.6" rx="1.5" ry="0.3" transform="rotate(48 240.1 272.6)" fill="#e8e8e8" opacity="0.7"/>
<ellipse cx="250.5" cy="299.1" rx="1.3" ry="0.8" transform="rotate(77 250.5 299.1)" fill="#ddd" opacity="0.7"/>
<ellipse cx="240.9" cy="292.7" rx="1.9" ry="0.6" transform="rotate(88 240.9 292.7)" fill="#222" opacity="0.7"/>
<ellipse cx="250.8" cy="286.0" rx="1.3" ry="0.9" transform="rotate(85 250.8 286.0)" fill="#e8e8e8" opacity="0.7"/>
<ellipse cx="247.6" cy="289.4" rx="1.2" ry="0.4" transform="rotate(67 247.6 289.4)" fill="#555" opacity="0.7"/>
<ellipse cx="259.3" cy="275.0" rx="1.5" ry="0.6" transform="rotate(156 259.3 275.0)" fill="#ddd" opacity="0.7"/>
<ellipse cx="257.8" cy="283.8" rx="1.0" ry="0.8" transform="rotate(152 257.8 283.8)" fill="#555" opacity="0.7"/>
<ellipse cx="261.0" cy="301.9" rx="1.8" ry="0.8" transform="rotate(17 261.0 301.9)" fill="#444" opacity="0.7"/>
<ellipse cx="254.5" cy="283.7" rx="1.3" ry="0.6" transform="rotate(37 254.5 283.7)" fill="#e8e8e8" opacity="0.7"/>
<ellipse cx="248.0" cy="279.9" rx="1.3" ry="0.5" transform="rotate(178 248.0 279.9)" fill="#e8e8e8" opacity="0.7"/>
<ellipse cx="246.3" cy="307.0" rx="1.2" ry="0.9" transform="rotate(115 246.3 307.0)" fill="#ddd" opacity="0.7"/>
<ellipse cx="237.2" cy="303.6" rx="1.1" ry="0.9" transform="rotate(97 237.2 303.6)" fill="#ddd" opacity="0.7"/>
<ellipse cx="255.0" cy="301.0" rx="2.0" ry="0.7" transform="rotate(134 255.0 301.0)" fill="#ccc" opacity="0.7"/>
<ellipse cx="248.1" cy="294.8" rx="1.9" ry="0.5" transform="rotate(21 248.1 294.8)" fill="#222" opacity="0.7"/>
<ellipse cx="247.5" cy="288.8" rx="1.5" ry="0.8" transform="rotate(94 247.5 288.8)" fill="#444" opacity="0.7"/>
<ellipse cx="264.1" cy="294.3" rx="1.0" ry="0.6" transform="rotate(75 264.1 294.3)" fill="#e8e8e8" opacity="0.7"/>
<ellipse cx="239.6" cy="305.8" rx="1.3" ry="0.4" transform="rotate(10 239.6 305.8)" fill="#e8e8e8" opacity="0.7"/>
<ellipse cx="246.0" cy="289.5" rx="0.9" ry="0.9" transform="rotate(27 246.0 289.5)" fill="#222" opacity="0.7"/>
<ellipse cx="241.5" cy="276.2" rx="1.7" ry="0.4" transform="rotate(151 241.5 276.2)" fill="#ccc" opacity="0.7"/>
<ellipse cx="256.9" cy="280.9" rx="1.0" ry="0.6" transform="rotate(2 256.9 280.9)" fill="#ccc" opacity="0.7"/>
<ellipse cx="239.3" cy="274.8" rx="0.6" ry="0.4" transform="rotate(123 239.3 274.8)" fill="#e8e8e8" opacity="0.7"/>
<ellipse cx="237.2" cy="290.8" rx="1.4" ry="0.3" transform="rotate(100 237.2 290.8)" fill="#444" opacity="0.7"/>
<ellipse cx="238.3" cy="295.5" rx="0.7" ry="0.7" transform="rotate(21 238.3 295.5)" fill="#444" opacity="0.7"/>
<ellipse cx="251.2" cy="292.1" rx="1.3" ry="0.9" transform="rotate(7 251.2 292.1)" fill="#444" opacity="0.7"/>
<ellipse cx="246.8" cy="298.1" rx="0.7" ry="0.3" transform="rotate(128 246.8 298.1)" fill="#e8e8e8" opacity="0.7"/>
<ellipse cx="245.7" cy="305.1" rx="1.8" ry="0.9" transform="rotate(45 245.7 305.1)" fill="#ddd" opacity="0.7"/>
<ellipse cx="254.0" cy="301.8" rx="1.6" ry="0.6" transform="rotate(93 254.0 301.8)" fill="#ddd" opacity="0.7"/>
<ellipse cx="243.9" cy="272.0" rx="2.1" ry="0.4" transform="rotate(42 243.9 272.0)" fill="#ccc" opacity="0.7"/>
<ellipse cx="258.9" cy="278.2" rx="0.7" ry="0.9" transform="rotate(133 258.9 278.2)" fill="#222" opacity="0.7"/>
<ellipse cx="260.0" cy="303.2" rx="0.7" ry="0.4" transform="rotate(164 260.0 303.2)" fill="#ccc" opacity="0.7"/>
<ellipse cx="265.7" cy="285.1" rx="2.1" ry="0.6" transform="rotate(96 265.7 285.1)" fill="#444" opacity="0.7"/>
<ellipse cx="256.0" cy="297.0" rx="0.6" ry="0.5" transform="rotate(69 256.0 297.0)" fill="#444" opacity="0.7"/>
<ellipse cx="250.1" cy="286.3" rx="1.7" ry="0.8" transform="rotate(1 250.1 286.3)" fill="#ddd" opacity="0.7"/>
<ellipse cx="246.4" cy="292.4" rx="1.6" ry="0.3" transform="rotate(116 246.4 292.4)" fill="#ccc" opacity="0.7"/>
<ellipse cx="255.4" cy="306.4" rx="1.3" ry="0.4" transform="rotate(26 255.4 306.4)" fill="#444" opacity="0.7"/>
<ellipse cx="253.2" cy="300.3" rx="1.7" ry="0.7" transform="rotate(1 253.2 300.3)" fill="#ddd" opacity="0.7"/>
</g></g>
<g clip-path="url(#cp_tr)"><rect x="262" y="257" width="15" height="33" fill="#8a8a8a"/>
<g filter="url(#gb2)">
</g><g filter="url(#gb)">
<ellipse cx="265.5" cy="275.9" rx="1.5" ry="0.3" transform="rotate(141 265.5 275.9)" fill="#444" opacity="0.7"/>
<ellipse cx="266.2" cy="269.2" rx="1.7" ry="0.5" transform="rotate(133 266.2 269.2)" fill="#ddd" opacity="0.7"/>
<ellipse cx="274.3" cy="264.1" rx="1.8" ry="0.4" transform="rotate(142 274.3 264.1)" fill="#333" opacity="0.7"/>
<ellipse cx="273.1" cy="259.4" rx="1.6" ry="0.5" transform="rotate(51 273.1 259.4)" fill="#e8e8e8" opacity="0.7"/>
<ellipse cx="265.4" cy="282.8" rx="1.2" ry="0.6" transform="rotate(35 265.4 282.8)" fill="#444" opacity="0.7"/>
<ellipse cx="268.6" cy="274.6" rx="1.8" ry="0.7" transform="rotate(117 268.6 274.6)" fill="#333" opacity="0.7"/>
<ellipse cx="272.5" cy="261.8" rx="1.2" ry="0.7" transform="rotate(172 272.5 261.8)" fill="#333" opacity="0.7"/>
<ellipse cx="266.3" cy="269.4" rx="2.0" ry="0.5" transform="rotate(60 266.3 269.4)" fill="#ddd" opacity="0.7"/>
<ellipse cx="274.8" cy="266.3" rx="1.1" ry="0.6" transform="rotate(1 274.8 266.3)" fill="#222" opacity="0.7"/>
<ellipse cx="269.6" cy="270.2" rx="2.2" ry="0.7" transform="rotate(14 269.6 270.2)" fill="#555" opacity="0.7"/>
<ellipse cx="274.0" cy="279.7" rx="1.0" ry="0.5" transform="rotate(118 274.0 279.7)" fill="#e8e8e8" opacity="0.7"/>
<ellipse cx="269.7" cy="281.3" rx="1.2" ry="0.5" transform="rotate(114 269.7 281.3)" fill="#444" opacity="0.7"/>
<ellipse cx="268.9" cy="269.6" rx="1.3" ry="0.7" transform="rotate(107 268.9 269.6)" fill="#555" opacity="0.7"/>
<ellipse cx="273.7" cy="280.6" rx="1.2" ry="0.8" transform="rotate(52 273.7 280.6)" fill="#333" opacity="0.7"/>
<ellipse cx="269.1" cy="272.2" rx="1.3" ry="0.7" transform="rotate(37 269.1 272.2)" fill="#555" opacity="0.7"/>
<ellipse cx="274.2" cy="279.8" rx="2.2" ry="0.9" transform="rotate(15 274.2 279.8)" fill="#333" opacity="0.7"/>
<ellipse cx="268.9" cy="284.0" rx="1.2" ry="0.6" transform="rotate(37 268.9 284.0)" fill="#222" opacity="0.7"/>
</g></g>
<g clip-path="url(#cp_right)"><rect x="265" y="296" width="28" height="29" fill="#8a8a8a"/>
<g filter="url(#gb2)">
<ellipse cx="272" cy="308" rx="5" ry="8" fill="#444"/>
<ellipse cx="286" cy="312" rx="5" ry="8" fill="#b0b0b0"/>
</g><g filter="url(#gb)">
<ellipse cx="271.5" cy="313.3" rx="1.8" ry="0.8" transform="rotate(43 271.5 313.3)" fill="#e8e8e8" opacity="0.7"/>
<ellipse cx="273.8" cy="314.5" rx="2.0" ry="0.3" transform="rotate(57 273.8 314.5)" fill="#ccc" opacity="0.7"/>
<ellipse cx="276.3" cy="303.6" rx="1.3" ry="0.5" transform="rotate(42 276.3 303.6)" fill="#ddd" opacity="0.7"/>
<ellipse cx="271.5" cy="298.3" rx="1.0" ry="0.4" transform="rotate(103 271.5 298.3)" fill="#ccc" opacity="0.7"/>
<ellipse cx="278.5" cy="303.4" rx="0.7" ry="0.5" transform="rotate(180 278.5 303.4)" fill="#ddd" opacity="0.7"/>
<ellipse cx="286.5" cy="300.5" rx="1.7" ry="0.8" transform="rotate(87 286.5 300.5)" fill="#444" opacity="0.7"/>
<ellipse cx="288.7" cy="313.0" rx="2.1" ry="0.8" transform="rotate(162 288.7 313.0)" fill="#444" opacity="0.7"/>
<ellipse cx="273.2" cy="318.6" rx="0.8" ry="0.7" transform="rotate(120 273.2 318.6)" fill="#444" opacity="0.7"/>
<ellipse cx="289.2" cy="301.8" rx="0.9" ry="0.8" transform="rotate(57 289.2 301.8)" fill="#ccc" opacity="0.7"/>
<ellipse cx="279.4" cy="319.2" rx="2.0" ry="0.5" transform="rotate(104 279.4 319.2)" fill="#333" opacity="0.7"/>
<ellipse cx="290.3" cy="315.3" rx="0.9" ry="0.6" transform="rotate(118 290.3 315.3)" fill="#444" opacity="0.7"/>
<ellipse cx="288.5" cy="300.9" rx="1.3" ry="0.7" transform="rotate(165 288.5 300.9)" fill="#222" opacity="0.7"/>
<ellipse cx="267.7" cy="303.8" rx="1.5" ry="0.6" transform="rotate(43 267.7 303.8)" fill="#e8e8e8" opacity="0.7"/>
<ellipse cx="282.3" cy="299.3" rx="1.4" ry="0.7" transform="rotate(31 282.3 299.3)" fill="#333" opacity="0.7"/>
<ellipse cx="268.7" cy="318.7" rx="1.3" ry="0.5" transform="rotate(103 268.7 318.7)" fill="#555" opacity="0.7"/>
<ellipse cx="280.8" cy="300.5" rx="1.6" ry="0.5" transform="rotate(95 280.8 300.5)" fill="#222" opacity="0.7"/>
<ellipse cx="277.4" cy="300.0" rx="1.7" ry="0.5" transform="rotate(73 277.4 300.0)" fill="#444" opacity="0.7"/>
<ellipse cx="272.2" cy="299.4" rx="1.4" ry="0.6" transform="rotate(80 272.2 299.4)" fill="#444" opacity="0.7"/>
<ellipse cx="285.1" cy="303.6" rx="0.7" ry="0.7" transform="rotate(51 285.1 303.6)" fill="#222" opacity="0.7"/>
<ellipse cx="271.4" cy="322.4" rx="1.6" ry="0.5" transform="rotate(156 271.4 322.4)" fill="#ddd" opacity="0.7"/>
<ellipse cx="276.8" cy="309.8" rx="2.0" ry="0.5" transform="rotate(90 276.8 309.8)" fill="#555" opacity="0.7"/>
<ellipse cx="273.9" cy="317.6" rx="2.1" ry="0.4" transform="rotate(90 273.9 317.6)" fill="#e8e8e8" opacity="0.7"/>
<ellipse cx="283.6" cy="317.3" rx="1.9" ry="0.9" transform="rotate(77 283.6 317.3)" fill="#555" opacity="0.7"/>
<ellipse cx="288.7" cy="313.6" rx="2.1" ry="0.4" transform="rotate(90 288.7 313.6)" fill="#444" opacity="0.7"/>
<ellipse cx="275.2" cy="300.0" rx="2.0" ry="0.5" transform="rotate(95 275.2 300.0)" fill="#555" opacity="0.7"/>
<ellipse cx="278.7" cy="319.8" rx="1.5" ry="0.8" transform="rotate(165 278.7 319.8)" fill="#ddd" opacity="0.7"/>
<ellipse cx="285.1" cy="301.9" rx="1.0" ry="0.9" transform="rotate(38 285.1 301.9)" fill="#444" opacity="0.7"/>
<ellipse cx="278.7" cy="301.9" rx="2.0" ry="0.7" transform="rotate(64 278.7 301.9)" fill="#444" opacity="0.7"/>
<ellipse cx="274.7" cy="308.4" rx="1.3" ry="0.9" transform="rotate(23 274.7 308.4)" fill="#e8e8e8" opacity="0.7"/>
<ellipse cx="290.4" cy="320.1" rx="1.7" ry="0.7" transform="rotate(175 290.4 320.1)" fill="#222" opacity="0.7"/>
<ellipse cx="282.7" cy="320.1" rx="0.6" ry="0.9" transform="rotate(118 282.7 320.1)" fill="#ddd" opacity="0.7"/>
<ellipse cx="270.4" cy="299.0" rx="1.8" ry="0.8" transform="rotate(85 270.4 299.0)" fill="#e8e8e8" opacity="0.7"/>
<ellipse cx="288.0" cy="306.3" rx="1.7" ry="0.5" transform="rotate(50 288.0 306.3)" fill="#e8e8e8" opacity="0.7"/>
</g></g>
<g clip-path="url(#cp_bridge)"><rect x="235" y="316" width="36" height="13" fill="#444"/>
<g filter="url(#gb2)">
</g><g filter="url(#gb)">
<ellipse cx="241.4" cy="325.3" rx="1.9" ry="0.4" transform="rotate(175 241.4 325.3)" fill="#333" opacity="0.7"/>
<ellipse cx="265.9" cy="323.5" rx="2.0" ry="0.5" transform="rotate(174 265.9 323.5)" fill="#e8e8e8" opacity="0.7"/>
<ellipse cx="264.4" cy="321.2" rx="1.0" ry="0.8" transform="rotate(47 264.4 321.2)" fill="#555" opacity="0.7"/>
<ellipse cx="254.2" cy="323.8" rx="2.0" ry="0.7" transform="rotate(42 254.2 323.8)" fill="#222" opacity="0.7"/>
<ellipse cx="252.0" cy="325.1" rx="2.0" ry="0.7" transform="rotate(145 252.0 325.1)" fill="#555" opacity="0.7"/>
<ellipse cx="263.6" cy="324.2" rx="1.1" ry="0.4" transform="rotate(157 263.6 324.2)" fill="#555" opacity="0.7"/>
<ellipse cx="264.7" cy="325.8" rx="2.0" ry="0.5" transform="rotate(119 264.7 325.8)" fill="#555" opacity="0.7"/>
<ellipse cx="237.5" cy="323.3" rx="1.9" ry="0.5" transform="rotate(61 237.5 323.3)" fill="#333" opacity="0.7"/>
<ellipse cx="252.7" cy="321.7" rx="0.8" ry="0.8" transform="rotate(47 252.7 321.7)" fill="#555" opacity="0.7"/>
<ellipse cx="244.8" cy="322.8" rx="1.3" ry="0.5" transform="rotate(2 244.8 322.8)" fill="#555" opacity="0.7"/>
<ellipse cx="238.5" cy="322.5" rx="2.1" ry="0.5" transform="rotate(176 238.5 322.5)" fill="#555" opacity="0.7"/>
<ellipse cx="256.2" cy="319.0" rx="1.1" ry="0.4" transform="rotate(137 256.2 319.0)" fill="#222" opacity="0.7"/>
<ellipse cx="252.7" cy="320.2" rx="2.0" ry="0.6" transform="rotate(55 252.7 320.2)" fill="#444" opacity="0.7"/>
<ellipse cx="245.0" cy="321.0" rx="0.9" ry="0.4" transform="rotate(122 245.0 321.0)" fill="#333" opacity="0.7"/>
<ellipse cx="264.9" cy="320.4" rx="2.0" ry="0.4" transform="rotate(64 264.9 320.4)" fill="#ccc" opacity="0.7"/>
<ellipse cx="261.8" cy="325.3" rx="1.5" ry="0.8" transform="rotate(53 261.8 325.3)" fill="#333" opacity="0.7"/>
</g></g>
<g clip-path="url(#cp_ring)"><rect x="244" y="302" width="22" height="22" fill="#555"/>
<g filter="url(#gb2)">
<ellipse cx="254" cy="312" rx="4" ry="3" fill="#ddd"/>
</g><g filter="url(#gb)">
<ellipse cx="251.3" cy="308.8" rx="0.7" ry="0.9" transform="rotate(78 251.3 308.8)" fill="#444" opacity="0.7"/>
<ellipse cx="255.4" cy="321.2" rx="2.1" ry="0.4" transform="rotate(86 255.4 321.2)" fill="#222" opacity="0.7"/>
<ellipse cx="247.5" cy="312.2" rx="1.2" ry="0.7" transform="rotate(146 247.5 312.2)" fill="#555" opacity="0.7"/>
<ellipse cx="258.3" cy="312.2" rx="1.2" ry="0.4" transform="rotate(122 258.3 312.2)" fill="#222" opacity="0.7"/>
<ellipse cx="254.8" cy="308.1" rx="1.8" ry="0.9" transform="rotate(28 254.8 308.1)" fill="#555" opacity="0.7"/>
<ellipse cx="259.0" cy="309.8" rx="1.6" ry="0.6" transform="rotate(116 259.0 309.8)" fill="#555" opacity="0.7"/>
<ellipse cx="260.5" cy="312.3" rx="1.9" ry="0.5" transform="rotate(86 260.5 312.3)" fill="#222" opacity="0.7"/>
<ellipse cx="260.3" cy="320.0" rx="1.4" ry="0.7" transform="rotate(96 260.3 320.0)" fill="#e8e8e8" opacity="0.7"/>
<ellipse cx="252.5" cy="319.3" rx="1.2" ry="0.7" transform="rotate(18 252.5 319.3)" fill="#222" opacity="0.7"/>
<ellipse cx="252.0" cy="318.6" rx="1.0" ry="0.6" transform="rotate(44 252.0 318.6)" fill="#ddd" opacity="0.7"/>
<ellipse cx="254.3" cy="314.5" rx="1.1" ry="0.4" transform="rotate(17 254.3 314.5)" fill="#333" opacity="0.7"/>
<ellipse cx="250.5" cy="320.0" rx="1.5" ry="0.6" transform="rotate(75 250.5 320.0)" fill="#444" opacity="0.7"/>
<ellipse cx="251.9" cy="307.4" rx="1.2" ry="0.5" transform="rotate(169 251.9 307.4)" fill="#444" opacity="0.7"/>
<ellipse cx="246.5" cy="306.1" rx="1.2" ry="0.7" transform="rotate(13 246.5 306.1)" fill="#555" opacity="0.7"/>
<ellipse cx="252.0" cy="307.9" rx="1.5" ry="0.4" transform="rotate(123 252.0 307.9)" fill="#555" opacity="0.7"/>
<ellipse cx="255.8" cy="317.7" rx="2.0" ry="0.4" transform="rotate(165 255.8 317.7)" fill="#333" opacity="0.7"/>
<ellipse cx="262.3" cy="304.8" rx="2.0" ry="0.8" transform="rotate(27 262.3 304.8)" fill="#333" opacity="0.7"/>
<ellipse cx="260.7" cy="318.1" rx="1.1" ry="0.4" transform="rotate(129 260.7 318.1)" fill="#222" opacity="0.7"/>
</g></g>
</g></g>
<g transform="translate(0,113.5)"><g filter="url(#rough2)">
<g clip-path="url(#cp_blue)"><rect x="203" y="257" width="35" height="37" fill="#bcbcbc"/>
<g filter="url(#gb2)">
<ellipse cx="211" cy="280" rx="6" ry="5" fill="#888"/>
<ellipse cx="215" cy="286" rx="5" ry="4" fill="#777"/>
</g><g filter="url(#gb)">
<ellipse cx="226.4" cy="291.2" rx="0.7" ry="0.4" transform="rotate(123 226.4 291.2)" fill="#333" opacity="0.7"/>
<ellipse cx="232.0" cy="288.5" rx="1.4" ry="0.7" transform="rotate(87 232.0 288.5)" fill="#222" opacity="0.7"/>
<ellipse cx="230.1" cy="260.2" rx="1.1" ry="0.4" transform="rotate(114 230.1 260.2)" fill="#333" opacity="0.7"/>
<ellipse cx="232.2" cy="279.6" rx="2.0" ry="0.4" transform="rotate(176 232.2 279.6)" fill="#ddd" opacity="0.7"/>
<ellipse cx="209.9" cy="291.1" rx="1.8" ry="0.5" transform="rotate(136 209.9 291.1)" fill="#e8e8e8" opacity="0.7"/>
<ellipse cx="221.4" cy="281.0" rx="1.9" ry="0.9" transform="rotate(143 221.4 281.0)" fill="#ccc" opacity="0.7"/>
<ellipse cx="229.1" cy="286.1" rx="1.2" ry="0.6" transform="rotate(24 229.1 286.1)" fill="#555" opacity="0.7"/>
<ellipse cx="228.0" cy="262.1" rx="1.0" ry="0.8" transform="rotate(11 228.0 262.1)" fill="#333" opacity="0.7"/>
<ellipse cx="220.2" cy="280.6" rx="1.5" ry="0.5" transform="rotate(18 220.2 280.6)" fill="#e8e8e8" opacity="0.7"/>
<ellipse cx="226.1" cy="288.4" rx="1.4" ry="0.4" transform="rotate(42 226.1 288.4)" fill="#ddd" opacity="0.7"/>
<ellipse cx="207.7" cy="279.1" rx="0.8" ry="0.5" transform="rotate(15 207.7 279.1)" fill="#ddd" opacity="0.7"/>
<ellipse cx="205.7" cy="271.0" rx="2.2" ry="0.4" transform="rotate(38 205.7 271.0)" fill="#ddd" opacity="0.7"/>
<ellipse cx="230.0" cy="287.2" rx="1.7" ry="0.8" transform="rotate(45 230.0 287.2)" fill="#ddd" opacity="0.7"/>
<ellipse cx="230.5" cy="289.5" rx="0.8" ry="0.5" transform="rotate(179 230.5 289.5)" fill="#555" opacity="0.7"/>
<ellipse cx="224.5" cy="266.7" rx="1.0" ry="0.5" transform="rotate(133 224.5 266.7)" fill="#ccc" opacity="0.7"/>
<ellipse cx="228.6" cy="265.9" rx="1.1" ry="0.7" transform="rotate(58 228.6 265.9)" fill="#444" opacity="0.7"/>
<ellipse cx="215.4" cy="270.0" rx="1.5" ry="0.6" transform="rotate(90 215.4 270.0)" fill="#ddd" opacity="0.7"/>
<ellipse cx="231.8" cy="281.1" rx="1.7" ry="0.7" transform="rotate(6 231.8 281.1)" fill="#ccc" opacity="0.7"/>
<ellipse cx="226.7" cy="266.8" rx="1.7" ry="0.8" transform="rotate(77 226.7 266.8)" fill="#ddd" opacity="0.7"/>
<ellipse cx="228.6" cy="267.1" rx="2.1" ry="0.6" transform="rotate(91 228.6 267.1)" fill="#ddd" opacity="0.7"/>
<ellipse cx="234.4" cy="259.2" rx="1.7" ry="0.7" transform="rotate(20 234.4 259.2)" fill="#e8e8e8" opacity="0.7"/>
<ellipse cx="229.8" cy="270.3" rx="2.1" ry="0.7" transform="rotate(11 229.8 270.3)" fill="#222" opacity="0.7"/>
<ellipse cx="235.9" cy="270.6" rx="1.2" ry="0.6" transform="rotate(19 235.9 270.6)" fill="#e8e8e8" opacity="0.7"/>
<ellipse cx="211.3" cy="278.8" rx="1.7" ry="0.8" transform="rotate(46 211.3 278.8)" fill="#ccc" opacity="0.7"/>
<ellipse cx="232.3" cy="262.2" rx="2.1" ry="0.6" transform="rotate(88 232.3 262.2)" fill="#ccc" opacity="0.7"/>
<ellipse cx="233.5" cy="265.6" rx="1.2" ry="0.8" transform="rotate(44 233.5 265.6)" fill="#ccc" opacity="0.7"/>
<ellipse cx="235.4" cy="280.1" rx="1.2" ry="0.6" transform="rotate(162 235.4 280.1)" fill="#ccc" opacity="0.7"/>
<ellipse cx="223.1" cy="286.4" rx="2.0" ry="0.3" transform="rotate(165 223.1 286.4)" fill="#e8e8e8" opacity="0.7"/>
<ellipse cx="207.7" cy="270.4" rx="1.9" ry="0.7" transform="rotate(71 207.7 270.4)" fill="#333" opacity="0.7"/>
<ellipse cx="225.9" cy="263.0" rx="1.7" ry="0.3" transform="rotate(52 225.9 263.0)" fill="#ccc" opacity="0.7"/>
<ellipse cx="219.8" cy="265.2" rx="0.6" ry="0.4" transform="rotate(72 219.8 265.2)" fill="#e8e8e8" opacity="0.7"/>
<ellipse cx="208.3" cy="268.2" rx="1.0" ry="0.4" transform="rotate(31 208.3 268.2)" fill="#e8e8e8" opacity="0.7"/>
<ellipse cx="225.0" cy="284.4" rx="1.2" ry="0.3" transform="rotate(48 225.0 284.4)" fill="#222" opacity="0.7"/>
<ellipse cx="206.7" cy="286.8" rx="2.2" ry="0.6" transform="rotate(49 206.7 286.8)" fill="#ddd" opacity="0.7"/>
<ellipse cx="222.7" cy="271.0" rx="0.7" ry="0.6" transform="rotate(101 222.7 271.0)" fill="#ccc" opacity="0.7"/>
<ellipse cx="217.5" cy="261.0" rx="0.8" ry="0.7" transform="rotate(60 217.5 261.0)" fill="#ddd" opacity="0.7"/>
<ellipse cx="215.2" cy="260.5" rx="2.0" ry="0.6" transform="rotate(60 215.2 260.5)" fill="#e8e8e8" opacity="0.7"/>
<ellipse cx="218.2" cy="259.4" rx="0.8" ry="0.5" transform="rotate(101 218.2 259.4)" fill="#222" opacity="0.7"/>
<ellipse cx="234.8" cy="260.4" rx="1.8" ry="0.6" transform="rotate(170 234.8 260.4)" fill="#222" opacity="0.7"/>
<ellipse cx="217.1" cy="279.3" rx="0.8" ry="0.7" transform="rotate(17 217.1 279.3)" fill="#ccc" opacity="0.7"/>
<ellipse cx="230.6" cy="286.3" rx="1.0" ry="0.8" transform="rotate(4 230.6 286.3)" fill="#ccc" opacity="0.7"/>
<ellipse cx="212.0" cy="286.4" rx="1.5" ry="0.6" transform="rotate(14 212.0 286.4)" fill="#555" opacity="0.7"/>
<ellipse cx="226.2" cy="277.1" rx="1.8" ry="0.5" transform="rotate(118 226.2 277.1)" fill="#ccc" opacity="0.7"/>
<ellipse cx="207.8" cy="277.6" rx="0.8" ry="0.4" transform="rotate(80 207.8 277.6)" fill="#ddd" opacity="0.7"/>
<ellipse cx="222.8" cy="259.9" rx="1.2" ry="0.5" transform="rotate(59 222.8 259.9)" fill="#555" opacity="0.7"/>
<ellipse cx="217.5" cy="262.5" rx="0.7" ry="0.6" transform="rotate(101 217.5 262.5)" fill="#444" opacity="0.7"/>
<ellipse cx="220.2" cy="263.2" rx="0.9" ry="0.8" transform="rotate(42 220.2 263.2)" fill="#ccc" opacity="0.7"/>
<ellipse cx="215.1" cy="272.9" rx="1.5" ry="0.4" transform="rotate(33 215.1 272.9)" fill="#e8e8e8" opacity="0.7"/>
<ellipse cx="235.6" cy="272.0" rx="2.1" ry="0.8" transform="rotate(153 235.6 272.0)" fill="#333" opacity="0.7"/>
<ellipse cx="225.3" cy="289.0" rx="2.1" ry="0.7" transform="rotate(121 225.3 289.0)" fill="#ccc" opacity="0.7"/>
<ellipse cx="217.1" cy="273.3" rx="2.2" ry="0.4" transform="rotate(100 217.1 273.3)" fill="#ddd" opacity="0.7"/>
<ellipse cx="223.5" cy="261.9" rx="2.2" ry="0.5" transform="rotate(47 223.5 261.9)" fill="#ddd" opacity="0.7"/>
<ellipse cx="232.7" cy="286.5" rx="1.7" ry="0.9" transform="rotate(26 232.7 286.5)" fill="#ccc" opacity="0.7"/>
<ellipse cx="216.1" cy="291.8" rx="1.7" ry="0.7" transform="rotate(8 216.1 291.8)" fill="#333" opacity="0.7"/>
<ellipse cx="206.2" cy="273.4" rx="0.9" ry="0.6" transform="rotate(70 206.2 273.4)" fill="#ddd" opacity="0.7"/>
<ellipse cx="221.0" cy="272.5" rx="1.8" ry="0.8" transform="rotate(130 221.0 272.5)" fill="#ddd" opacity="0.7"/>
</g></g>
<g clip-path="url(#cp_left)"><rect x="201" y="290" width="38" height="52" fill="#b4b4b4"/>
<g filter="url(#gb2)">
<ellipse cx="212" cy="300" rx="10" ry="9" fill="#5a5a5a"/>
<ellipse cx="222" cy="306" rx="6" ry="5" fill="#777"/>
</g><g filter="url(#gb)">
<ellipse cx="210.3" cy="325.8" rx="1.4" ry="0.4" transform="rotate(144 210.3 325.8)" fill="#555" opacity="0.7"/>
<ellipse cx="235.6" cy="307.0" rx="1.0" ry="0.3" transform="rotate(96 235.6 307.0)" fill="#ccc" opacity="0.7"/>
<ellipse cx="205.8" cy="304.8" rx="0.8" ry="0.9" transform="rotate(13 205.8 304.8)" fill="#ddd" opacity="0.7"/>
<ellipse cx="209.4" cy="336.3" rx="0.6" ry="0.4" transform="rotate(38 209.4 336.3)" fill="#222" opacity="0.7"/>
<ellipse cx="207.8" cy="309.9" rx="1.0" ry="0.4" transform="rotate(101 207.8 309.9)" fill="#e8e8e8" opacity="0.7"/>
<ellipse cx="220.3" cy="293.3" rx="0.9" ry="0.4" transform="rotate(148 220.3 293.3)" fill="#222" opacity="0.7"/>
<ellipse cx="211.2" cy="305.6" rx="1.8" ry="0.5" transform="rotate(0 211.2 305.6)" fill="#444" opacity="0.7"/>
<ellipse cx="216.1" cy="323.8" rx="1.2" ry="0.8" transform="rotate(97 216.1 323.8)" fill="#ddd" opacity="0.7"/>
<ellipse cx="211.2" cy="332.4" rx="0.8" ry="0.7" transform="rotate(149 211.2 332.4)" fill="#e8e8e8" opacity="0.7"/>
<ellipse cx="218.5" cy="299.0" rx="1.7" ry="0.9" transform="rotate(57 218.5 299.0)" fill="#ccc" opacity="0.7"/>
<ellipse cx="205.9" cy="311.4" rx="1.2" ry="0.7" transform="rotate(20 205.9 311.4)" fill="#ccc" opacity="0.7"/>
<ellipse cx="219.4" cy="303.6" rx="2.0" ry="0.6" transform="rotate(112 219.4 303.6)" fill="#333" opacity="0.7"/>
<ellipse cx="215.8" cy="321.1" rx="0.7" ry="0.6" transform="rotate(142 215.8 321.1)" fill="#ccc" opacity="0.7"/>
<ellipse cx="234.0" cy="330.1" rx="1.6" ry="0.5" transform="rotate(112 234.0 330.1)" fill="#444" opacity="0.7"/>
<ellipse cx="222.8" cy="326.0" rx="1.4" ry="0.8" transform="rotate(148 222.8 326.0)" fill="#e8e8e8" opacity="0.7"/>
<ellipse cx="225.3" cy="331.0" rx="0.7" ry="0.6" transform="rotate(65 225.3 331.0)" fill="#222" opacity="0.7"/>
<ellipse cx="228.8" cy="334.8" rx="1.6" ry="0.5" transform="rotate(63 228.8 334.8)" fill="#222" opacity="0.7"/>
<ellipse cx="203.3" cy="330.6" rx="1.2" ry="0.6" transform="rotate(161 203.3 330.6)" fill="#ddd" opacity="0.7"/>
<ellipse cx="211.0" cy="336.1" rx="0.9" ry="0.6" transform="rotate(5 211.0 336.1)" fill="#e8e8e8" opacity="0.7"/>
<ellipse cx="233.4" cy="309.2" rx="1.8" ry="0.5" transform="rotate(50 233.4 309.2)" fill="#444" opacity="0.7"/>
<ellipse cx="213.3" cy="301.9" rx="1.8" ry="0.9" transform="rotate(147 213.3 301.9)" fill="#333" opacity="0.7"/>
<ellipse cx="216.7" cy="325.8" rx="2.1" ry="0.4" transform="rotate(160 216.7 325.8)" fill="#333" opacity="0.7"/>
<ellipse cx="233.7" cy="308.1" rx="2.0" ry="0.6" transform="rotate(175 233.7 308.1)" fill="#ddd" opacity="0.7"/>
<ellipse cx="217.5" cy="316.7" rx="1.4" ry="0.4" transform="rotate(57 217.5 316.7)" fill="#ccc" opacity="0.7"/>
<ellipse cx="203.0" cy="309.4" rx="2.0" ry="0.4" transform="rotate(95 203.0 309.4)" fill="#e8e8e8" opacity="0.7"/>
<ellipse cx="220.7" cy="316.8" rx="1.1" ry="0.8" transform="rotate(153 220.7 316.8)" fill="#ddd" opacity="0.7"/>
<ellipse cx="205.9" cy="329.6" rx="0.7" ry="0.7" transform="rotate(50 205.9 329.6)" fill="#e8e8e8" opacity="0.7"/>
<ellipse cx="231.7" cy="339.6" rx="2.0" ry="0.3" transform="rotate(155 231.7 339.6)" fill="#ccc" opacity="0.7"/>
<ellipse cx="209.3" cy="314.2" rx="0.9" ry="0.7" transform="rotate(39 209.3 314.2)" fill="#222" opacity="0.7"/>
<ellipse cx="203.6" cy="316.2" rx="2.1" ry="0.9" transform="rotate(73 203.6 316.2)" fill="#444" opacity="0.7"/>
<ellipse cx="228.9" cy="295.5" rx="1.9" ry="0.6" transform="rotate(94 228.9 295.5)" fill="#ddd" opacity="0.7"/>
<ellipse cx="223.5" cy="337.3" rx="2.1" ry="0.3" transform="rotate(28 223.5 337.3)" fill="#ccc" opacity="0.7"/>
<ellipse cx="214.0" cy="316.6" rx="1.5" ry="0.9" transform="rotate(31 214.0 316.6)" fill="#ddd" opacity="0.7"/>
<ellipse cx="206.9" cy="337.3" rx="1.5" ry="0.3" transform="rotate(83 206.9 337.3)" fill="#ccc" opacity="0.7"/>
<ellipse cx="223.0" cy="321.7" rx="0.9" ry="0.5" transform="rotate(152 223.0 321.7)" fill="#e8e8e8" opacity="0.7"/>
<ellipse cx="214.2" cy="312.7" rx="1.2" ry="0.3" transform="rotate(66 214.2 312.7)" fill="#222" opacity="0.7"/>
<ellipse cx="217.6" cy="335.8" rx="0.7" ry="0.7" transform="rotate(83 217.6 335.8)" fill="#e8e8e8" opacity="0.7"/>
<ellipse cx="233.8" cy="328.0" rx="0.9" ry="0.5" transform="rotate(66 233.8 328.0)" fill="#ccc" opacity="0.7"/>
<ellipse cx="213.8" cy="301.0" rx="1.9" ry="0.6" transform="rotate(90 213.8 301.0)" fill="#555" opacity="0.7"/>
<ellipse cx="211.4" cy="328.6" rx="1.1" ry="0.7" transform="rotate(112 211.4 328.6)" fill="#ddd" opacity="0.7"/>
<ellipse cx="204.1" cy="321.9" rx="1.1" ry="0.8" transform="rotate(113 204.1 321.9)" fill="#444" opacity="0.7"/>
<ellipse cx="221.6" cy="304.7" rx="1.7" ry="0.5" transform="rotate(4 221.6 304.7)" fill="#444" opacity="0.7"/>
<ellipse cx="203.6" cy="327.6" rx="0.9" ry="0.7" transform="rotate(6 203.6 327.6)" fill="#e8e8e8" opacity="0.7"/>
<ellipse cx="229.1" cy="335.1" rx="1.0" ry="0.8" transform="rotate(131 229.1 335.1)" fill="#555" opacity="0.7"/>
<ellipse cx="203.6" cy="337.4" rx="0.6" ry="0.7" transform="rotate(120 203.6 337.4)" fill="#ddd" opacity="0.7"/>
<ellipse cx="233.0" cy="316.3" rx="1.4" ry="0.6" transform="rotate(81 233.0 316.3)" fill="#ccc" opacity="0.7"/>
<ellipse cx="230.3" cy="307.2" rx="2.2" ry="0.5" transform="rotate(0 230.3 307.2)" fill="#222" opacity="0.7"/>
<ellipse cx="231.0" cy="308.5" rx="0.7" ry="0.9" transform="rotate(152 231.0 308.5)" fill="#ccc" opacity="0.7"/>
<ellipse cx="206.8" cy="294.4" rx="1.5" ry="0.4" transform="rotate(129 206.8 294.4)" fill="#e8e8e8" opacity="0.7"/>
<ellipse cx="214.4" cy="305.5" rx="1.6" ry="0.5" transform="rotate(162 214.4 305.5)" fill="#e8e8e8" opacity="0.7"/>
<ellipse cx="229.6" cy="323.4" rx="1.5" ry="0.8" transform="rotate(28 229.6 323.4)" fill="#333" opacity="0.7"/>
<ellipse cx="225.2" cy="294.4" rx="0.9" ry="0.7" transform="rotate(97 225.2 294.4)" fill="#555" opacity="0.7"/>
<ellipse cx="236.8" cy="301.7" rx="1.8" ry="0.3" transform="rotate(30 236.8 301.7)" fill="#ccc" opacity="0.7"/>
<ellipse cx="216.6" cy="319.1" rx="1.0" ry="0.9" transform="rotate(180 216.6 319.1)" fill="#e8e8e8" opacity="0.7"/>
<ellipse cx="233.2" cy="321.3" rx="2.1" ry="0.4" transform="rotate(178 233.2 321.3)" fill="#555" opacity="0.7"/>
<ellipse cx="209.6" cy="325.8" rx="0.9" ry="0.7" transform="rotate(128 209.6 325.8)" fill="#222" opacity="0.7"/>
<ellipse cx="209.7" cy="329.4" rx="1.7" ry="0.5" transform="rotate(124 209.7 329.4)" fill="#e8e8e8" opacity="0.7"/>
<ellipse cx="203.8" cy="293.7" rx="2.1" ry="0.5" transform="rotate(129 203.8 293.7)" fill="#ddd" opacity="0.7"/>
<ellipse cx="222.9" cy="318.8" rx="1.9" ry="0.4" transform="rotate(64 222.9 318.8)" fill="#333" opacity="0.7"/>
<ellipse cx="211.0" cy="331.0" rx="1.8" ry="0.6" transform="rotate(27 211.0 331.0)" fill="#e8e8e8" opacity="0.7"/>
<ellipse cx="228.1" cy="319.9" rx="0.7" ry="0.8" transform="rotate(39 228.1 319.9)" fill="#555" opacity="0.7"/>
<ellipse cx="214.2" cy="320.5" rx="0.9" ry="0.9" transform="rotate(139 214.2 320.5)" fill="#555" opacity="0.7"/>
<ellipse cx="231.5" cy="302.5" rx="1.9" ry="0.5" transform="rotate(151 231.5 302.5)" fill="#e8e8e8" opacity="0.7"/>
<ellipse cx="211.7" cy="325.2" rx="1.0" ry="0.7" transform="rotate(0 211.7 325.2)" fill="#222" opacity="0.7"/>
<ellipse cx="216.0" cy="315.8" rx="2.1" ry="0.5" transform="rotate(131 216.0 315.8)" fill="#ccc" opacity="0.7"/>
<ellipse cx="216.0" cy="327.0" rx="2.1" ry="0.5" transform="rotate(66 216.0 327.0)" fill="#222" opacity="0.7"/>
<ellipse cx="212.7" cy="317.4" rx="2.1" ry="0.5" transform="rotate(100 212.7 317.4)" fill="#ccc" opacity="0.7"/>
<ellipse cx="230.6" cy="302.3" rx="1.6" ry="0.7" transform="rotate(82 230.6 302.3)" fill="#e8e8e8" opacity="0.7"/>
<ellipse cx="229.7" cy="295.2" rx="2.0" ry="0.9" transform="rotate(16 229.7 295.2)" fill="#e8e8e8" opacity="0.7"/>
<ellipse cx="234.0" cy="312.2" rx="2.0" ry="0.8" transform="rotate(42 234.0 312.2)" fill="#222" opacity="0.7"/>
<ellipse cx="216.9" cy="315.8" rx="2.1" ry="0.3" transform="rotate(119 216.9 315.8)" fill="#ddd" opacity="0.7"/>
<ellipse cx="235.4" cy="330.7" rx="0.9" ry="0.7" transform="rotate(149 235.4 330.7)" fill="#e8e8e8" opacity="0.7"/>
<ellipse cx="223.0" cy="303.5" rx="2.0" ry="0.6" transform="rotate(3 223.0 303.5)" fill="#e8e8e8" opacity="0.7"/>
<ellipse cx="229.6" cy="298.1" rx="1.1" ry="0.8" transform="rotate(74 229.6 298.1)" fill="#e8e8e8" opacity="0.7"/>
<ellipse cx="215.9" cy="300.7" rx="1.2" ry="0.7" transform="rotate(5 215.9 300.7)" fill="#ccc" opacity="0.7"/>
<ellipse cx="212.5" cy="321.6" rx="0.6" ry="0.4" transform="rotate(3 212.5 321.6)" fill="#ccc" opacity="0.7"/>
<ellipse cx="225.8" cy="324.5" rx="1.4" ry="0.5" transform="rotate(31 225.8 324.5)" fill="#ddd" opacity="0.7"/>
<ellipse cx="220.9" cy="307.5" rx="1.9" ry="0.7" transform="rotate(126 220.9 307.5)" fill="#333" opacity="0.7"/>
<ellipse cx="230.0" cy="338.9" rx="1.7" ry="0.4" transform="rotate(175 230.0 338.9)" fill="#222" opacity="0.7"/>
<ellipse cx="214.1" cy="338.3" rx="1.7" ry="0.6" transform="rotate(7 214.1 338.3)" fill="#555" opacity="0.7"/>
<ellipse cx="235.1" cy="309.8" rx="2.1" ry="0.6" transform="rotate(98 235.1 309.8)" fill="#ddd" opacity="0.7"/>
<ellipse cx="205.1" cy="313.2" rx="1.5" ry="0.8" transform="rotate(158 205.1 313.2)" fill="#ccc" opacity="0.7"/>
<ellipse cx="236.2" cy="338.1" rx="1.2" ry="0.4" transform="rotate(115 236.2 338.1)" fill="#333" opacity="0.7"/>
<ellipse cx="231.3" cy="320.6" rx="2.0" ry="0.4" transform="rotate(87 231.3 320.6)" fill="#222" opacity="0.7"/>
<ellipse cx="208.6" cy="294.2" rx="1.5" ry="0.4" transform="rotate(166 208.6 294.2)" fill="#222" opacity="0.7"/>
<ellipse cx="218.1" cy="328.0" rx="1.6" ry="0.6" transform="rotate(130 218.1 328.0)" fill="#333" opacity="0.7"/>
<ellipse cx="206.2" cy="326.0" rx="0.6" ry="0.4" transform="rotate(162 206.2 326.0)" fill="#222" opacity="0.7"/>
<ellipse cx="223.4" cy="302.6" rx="1.4" ry="0.6" transform="rotate(28 223.4 302.6)" fill="#ddd" opacity="0.7"/>
<ellipse cx="229.8" cy="329.0" rx="1.1" ry="0.5" transform="rotate(58 229.8 329.0)" fill="#e8e8e8" opacity="0.7"/>
<ellipse cx="234.9" cy="305.7" rx="0.8" ry="0.9" transform="rotate(20 234.9 305.7)" fill="#222" opacity="0.7"/>
</g></g>
<g clip-path="url(#cp_mid)"><rect x="234" y="270" width="34" height="39" fill="#5c5c5c"/>
<g filter="url(#gb2)">
<ellipse cx="248" cy="296" rx="6" ry="10" fill="#222"/>
<ellipse cx="258" cy="282" rx="5" ry="6" fill="#999"/>
<ellipse cx="242" cy="300" rx="5" ry="3" fill="#444"/>
</g><g filter="url(#gb)">
<ellipse cx="240.0" cy="281.3" rx="0.6" ry="0.9" transform="rotate(44 240.0 281.3)" fill="#333" opacity="0.7"/>
<ellipse cx="247.8" cy="275.1" rx="1.9" ry="0.6" transform="rotate(141 247.8 275.1)" fill="#333" opacity="0.7"/>
<ellipse cx="246.4" cy="281.5" rx="0.7" ry="0.5" transform="rotate(14 246.4 281.5)" fill="#444" opacity="0.7"/>
<ellipse cx="253.4" cy="280.8" rx="1.4" ry="0.9" transform="rotate(4 253.4 280.8)" fill="#222" opacity="0.7"/>
<ellipse cx="239.2" cy="285.6" rx="1.3" ry="0.9" transform="rotate(1 239.2 285.6)" fill="#333" opacity="0.7"/>
<ellipse cx="263.6" cy="305.7" rx="1.2" ry="0.6" transform="rotate(48 263.6 305.7)" fill="#333" opacity="0.7"/>
<ellipse cx="246.0" cy="291.2" rx="0.7" ry="0.3" transform="rotate(171 246.0 291.2)" fill="#e8e8e8" opacity="0.7"/>
<ellipse cx="249.2" cy="305.4" rx="1.8" ry="0.9" transform="rotate(152 249.2 305.4)" fill="#555" opacity="0.7"/>
<ellipse cx="252.7" cy="301.9" rx="2.2" ry="0.8" transform="rotate(161 252.7 301.9)" fill="#444" opacity="0.7"/>
<ellipse cx="239.9" cy="290.2" rx="1.4" ry="0.7" transform="rotate(57 239.9 290.2)" fill="#444" opacity="0.7"/>
<ellipse cx="261.9" cy="276.5" rx="1.3" ry="0.8" transform="rotate(163 261.9 276.5)" fill="#333" opacity="0.7"/>
<ellipse cx="250.6" cy="279.4" rx="0.6" ry="0.5" transform="rotate(110 250.6 279.4)" fill="#ccc" opacity="0.7"/>
<ellipse cx="251.1" cy="290.4" rx="1.4" ry="0.4" transform="rotate(11 251.1 290.4)" fill="#555" opacity="0.7"/>
<ellipse cx="248.9" cy="292.9" rx="0.9" ry="0.4" transform="rotate(161 248.9 292.9)" fill="#444" opacity="0.7"/>
<ellipse cx="251.1" cy="273.7" rx="0.6" ry="0.8" transform="rotate(68 251.1 273.7)" fill="#333" opacity="0.7"/>
<ellipse cx="239.5" cy="288.7" rx="0.9" ry="0.4" transform="rotate(52 239.5 288.7)" fill="#ddd" opacity="0.7"/>
<ellipse cx="264.5" cy="287.3" rx="2.2" ry="0.8" transform="rotate(122 264.5 287.3)" fill="#ccc" opacity="0.7"/>
<ellipse cx="250.2" cy="285.4" rx="0.8" ry="0.5" transform="rotate(122 250.2 285.4)" fill="#222" opacity="0.7"/>
<ellipse cx="256.2" cy="305.8" rx="1.0" ry="0.8" transform="rotate(121 256.2 305.8)" fill="#333" opacity="0.7"/>
<ellipse cx="238.6" cy="297.7" rx="1.8" ry="0.8" transform="rotate(125 238.6 297.7)" fill="#222" opacity="0.7"/>
<ellipse cx="241.2" cy="290.9" rx="1.2" ry="0.4" transform="rotate(137 241.2 290.9)" fill="#e8e8e8" opacity="0.7"/>
<ellipse cx="260.3" cy="290.1" rx="0.7" ry="0.5" transform="rotate(58 260.3 290.1)" fill="#222" opacity="0.7"/>
<ellipse cx="253.3" cy="275.8" rx="0.8" ry="0.6" transform="rotate(144 253.3 275.8)" fill="#333" opacity="0.7"/>
<ellipse cx="247.4" cy="275.1" rx="1.0" ry="0.8" transform="rotate(114 247.4 275.1)" fill="#444" opacity="0.7"/>
<ellipse cx="243.1" cy="300.0" rx="1.8" ry="0.7" transform="rotate(153 243.1 300.0)" fill="#444" opacity="0.7"/>
<ellipse cx="251.1" cy="282.8" rx="0.9" ry="0.6" transform="rotate(162 251.1 282.8)" fill="#ddd" opacity="0.7"/>
<ellipse cx="255.3" cy="299.0" rx="1.6" ry="0.7" transform="rotate(47 255.3 299.0)" fill="#222" opacity="0.7"/>
<ellipse cx="255.0" cy="284.8" rx="1.9" ry="0.4" transform="rotate(84 255.0 284.8)" fill="#222" opacity="0.7"/>
<ellipse cx="237.2" cy="302.9" rx="1.3" ry="0.6" transform="rotate(23 237.2 302.9)" fill="#222" opacity="0.7"/>
<ellipse cx="237.1" cy="285.7" rx="1.1" ry="0.7" transform="rotate(72 237.1 285.7)" fill="#555" opacity="0.7"/>
<ellipse cx="250.0" cy="298.5" rx="1.5" ry="0.7" transform="rotate(118 250.0 298.5)" fill="#ddd" opacity="0.7"/>
<ellipse cx="261.9" cy="275.6" rx="2.1" ry="0.4" transform="rotate(144 261.9 275.6)" fill="#222" opacity="0.7"/>
<ellipse cx="258.1" cy="289.9" rx="1.6" ry="0.6" transform="rotate(14 258.1 289.9)" fill="#333" opacity="0.7"/>
<ellipse cx="260.8" cy="296.9" rx="0.9" ry="0.6" transform="rotate(49 260.8 296.9)" fill="#222" opacity="0.7"/>
<ellipse cx="255.5" cy="280.1" rx="0.7" ry="0.4" transform="rotate(158 255.5 280.1)" fill="#ccc" opacity="0.7"/>
<ellipse cx="242.4" cy="301.4" rx="1.9" ry="0.5" transform="rotate(129 242.4 301.4)" fill="#444" opacity="0.7"/>
<ellipse cx="246.0" cy="289.5" rx="1.3" ry="0.8" transform="rotate(45 246.0 289.5)" fill="#333" opacity="0.7"/>
<ellipse cx="248.5" cy="303.2" rx="0.8" ry="0.5" transform="rotate(121 248.5 303.2)" fill="#222" opacity="0.7"/>
<ellipse cx="260.3" cy="294.3" rx="1.0" ry="0.7" transform="rotate(62 260.3 294.3)" fill="#ddd" opacity="0.7"/>
<ellipse cx="242.0" cy="286.6" rx="1.1" ry="0.6" transform="rotate(80 242.0 286.6)" fill="#e8e8e8" opacity="0.7"/>
<ellipse cx="261.2" cy="281.2" rx="0.6" ry="0.4" transform="rotate(76 261.2 281.2)" fill="#333" opacity="0.7"/>
<ellipse cx="238.3" cy="290.3" rx="0.7" ry="0.7" transform="rotate(141 238.3 290.3)" fill="#ddd" opacity="0.7"/>
<ellipse cx="237.2" cy="278.1" rx="0.6" ry="0.5" transform="rotate(103 237.2 278.1)" fill="#e8e8e8" opacity="0.7"/>
<ellipse cx="239.4" cy="286.3" rx="0.7" ry="0.4" transform="rotate(93 239.4 286.3)" fill="#e8e8e8" opacity="0.7"/>
<ellipse cx="251.4" cy="290.9" rx="1.4" ry="0.5" transform="rotate(145 251.4 290.9)" fill="#ddd" opacity="0.7"/>
<ellipse cx="260.4" cy="304.1" rx="1.6" ry="0.7" transform="rotate(143 260.4 304.1)" fill="#333" opacity="0.7"/>
<ellipse cx="248.6" cy="273.8" rx="1.7" ry="0.9" transform="rotate(25 248.6 273.8)" fill="#222" opacity="0.7"/>
<ellipse cx="239.2" cy="283.4" rx="1.7" ry="0.7" transform="rotate(102 239.2 283.4)" fill="#333" opacity="0.7"/>
<ellipse cx="261.2" cy="291.7" rx="1.5" ry="0.6" transform="rotate(143 261.2 291.7)" fill="#333" opacity="0.7"/>
<ellipse cx="246.4" cy="290.8" rx="0.7" ry="0.7" transform="rotate(130 246.4 290.8)" fill="#555" opacity="0.7"/>
<ellipse cx="255.0" cy="304.3" rx="1.5" ry="0.9" transform="rotate(121 255.0 304.3)" fill="#222" opacity="0.7"/>
<ellipse cx="257.7" cy="303.5" rx="1.2" ry="0.9" transform="rotate(70 257.7 303.5)" fill="#222" opacity="0.7"/>
<ellipse cx="265.2" cy="287.0" rx="0.7" ry="0.7" transform="rotate(21 265.2 287.0)" fill="#333" opacity="0.7"/>
<ellipse cx="251.9" cy="282.1" rx="1.5" ry="0.5" transform="rotate(15 251.9 282.1)" fill="#555" opacity="0.7"/>
<ellipse cx="244.3" cy="286.1" rx="1.6" ry="0.9" transform="rotate(60 244.3 286.1)" fill="#ccc" opacity="0.7"/>
<ellipse cx="254.7" cy="289.7" rx="2.2" ry="0.9" transform="rotate(67 254.7 289.7)" fill="#ddd" opacity="0.7"/>
<ellipse cx="250.3" cy="285.4" rx="2.0" ry="0.5" transform="rotate(19 250.3 285.4)" fill="#555" opacity="0.7"/>
<ellipse cx="239.1" cy="283.4" rx="1.4" ry="0.7" transform="rotate(84 239.1 283.4)" fill="#444" opacity="0.7"/>
</g></g>
<g clip-path="url(#cp_tr)"><rect x="262" y="257" width="15" height="33" fill="#9a9a9a"/>
<g filter="url(#gb2)">
</g><g filter="url(#gb)">
<ellipse cx="267.3" cy="265.3" rx="1.0" ry="0.5" transform="rotate(114 267.3 265.3)" fill="#444" opacity="0.7"/>
<ellipse cx="266.9" cy="264.9" rx="1.2" ry="0.6" transform="rotate(31 266.9 264.9)" fill="#555" opacity="0.7"/>
<ellipse cx="265.2" cy="287.5" rx="1.1" ry="0.9" transform="rotate(60 265.2 287.5)" fill="#ccc" opacity="0.7"/>
<ellipse cx="265.2" cy="276.6" rx="2.1" ry="0.3" transform="rotate(111 265.2 276.6)" fill="#e8e8e8" opacity="0.7"/>
<ellipse cx="271.6" cy="274.7" rx="1.2" ry="0.4" transform="rotate(27 271.6 274.7)" fill="#444" opacity="0.7"/>
<ellipse cx="274.4" cy="268.5" rx="2.2" ry="0.8" transform="rotate(8 274.4 268.5)" fill="#e8e8e8" opacity="0.7"/>
<ellipse cx="268.8" cy="272.8" rx="1.5" ry="0.6" transform="rotate(172 268.8 272.8)" fill="#444" opacity="0.7"/>
<ellipse cx="270.2" cy="273.5" rx="1.5" ry="0.4" transform="rotate(63 270.2 273.5)" fill="#ccc" opacity="0.7"/>
<ellipse cx="270.6" cy="269.5" rx="1.1" ry="0.8" transform="rotate(74 270.6 269.5)" fill="#444" opacity="0.7"/>
<ellipse cx="271.7" cy="268.7" rx="0.7" ry="0.7" transform="rotate(140 271.7 268.7)" fill="#e8e8e8" opacity="0.7"/>
<ellipse cx="265.8" cy="280.6" rx="1.3" ry="0.6" transform="rotate(28 265.8 280.6)" fill="#222" opacity="0.7"/>
<ellipse cx="265.9" cy="269.5" rx="0.8" ry="0.9" transform="rotate(175 265.9 269.5)" fill="#ddd" opacity="0.7"/>
<ellipse cx="273.1" cy="287.8" rx="2.1" ry="0.9" transform="rotate(95 273.1 287.8)" fill="#222" opacity="0.7"/>
<ellipse cx="271.7" cy="275.9" rx="1.6" ry="0.8" transform="rotate(6 271.7 275.9)" fill="#ddd" opacity="0.7"/>
<ellipse cx="268.6" cy="269.4" rx="1.2" ry="0.5" transform="rotate(128 268.6 269.4)" fill="#555" opacity="0.7"/>
<ellipse cx="271.0" cy="282.2" rx="2.2" ry="0.6" transform="rotate(129 271.0 282.2)" fill="#e8e8e8" opacity="0.7"/>
<ellipse cx="267.7" cy="269.8" rx="1.5" ry="0.8" transform="rotate(93 267.7 269.8)" fill="#e8e8e8" opacity="0.7"/>
</g></g>
<g clip-path="url(#cp_right)"><rect x="265" y="296" width="28" height="29" fill="#6a6a6a"/>
<g filter="url(#gb2)">
<ellipse cx="286" cy="310" rx="5" ry="9" fill="#333"/>
<ellipse cx="272" cy="306" rx="4" ry="5" fill="#888"/>
</g><g filter="url(#gb)">
<ellipse cx="289.9" cy="307.4" rx="1.5" ry="0.8" transform="rotate(145 289.9 307.4)" fill="#444" opacity="0.7"/>
<ellipse cx="290.7" cy="310.4" rx="1.6" ry="0.6" transform="rotate(135 290.7 310.4)" fill="#ccc" opacity="0.7"/>
<ellipse cx="270.8" cy="315.7" rx="1.4" ry="0.5" transform="rotate(129 270.8 315.7)" fill="#222" opacity="0.7"/>
<ellipse cx="277.5" cy="317.7" rx="0.7" ry="0.5" transform="rotate(92 277.5 317.7)" fill="#333" opacity="0.7"/>
<ellipse cx="280.9" cy="321.4" rx="1.6" ry="0.6" transform="rotate(56 280.9 321.4)" fill="#222" opacity="0.7"/>
<ellipse cx="270.7" cy="319.7" rx="1.4" ry="0.8" transform="rotate(140 270.7 319.7)" fill="#222" opacity="0.7"/>
<ellipse cx="285.7" cy="322.4" rx="1.7" ry="0.4" transform="rotate(156 285.7 322.4)" fill="#555" opacity="0.7"/>
<ellipse cx="268.7" cy="303.7" rx="1.1" ry="0.7" transform="rotate(7 268.7 303.7)" fill="#444" opacity="0.7"/>
<ellipse cx="288.3" cy="313.0" rx="1.4" ry="0.9" transform="rotate(176 288.3 313.0)" fill="#e8e8e8" opacity="0.7"/>
<ellipse cx="286.2" cy="321.8" rx="2.2" ry="0.3" transform="rotate(6 286.2 321.8)" fill="#222" opacity="0.7"/>
<ellipse cx="288.8" cy="313.2" rx="0.7" ry="0.6" transform="rotate(162 288.8 313.2)" fill="#e8e8e8" opacity="0.7"/>
<ellipse cx="287.4" cy="313.2" rx="1.5" ry="0.7" transform="rotate(2 287.4 313.2)" fill="#e8e8e8" opacity="0.7"/>
<ellipse cx="284.0" cy="305.4" rx="0.8" ry="0.4" transform="rotate(79 284.0 305.4)" fill="#ccc" opacity="0.7"/>
<ellipse cx="284.4" cy="302.8" rx="0.6" ry="0.5" transform="rotate(42 284.4 302.8)" fill="#222" opacity="0.7"/>
<ellipse cx="279.8" cy="316.8" rx="2.0" ry="0.3" transform="rotate(48 279.8 316.8)" fill="#555" opacity="0.7"/>
<ellipse cx="287.3" cy="313.7" rx="2.1" ry="0.8" transform="rotate(10 287.3 313.7)" fill="#333" opacity="0.7"/>
<ellipse cx="268.4" cy="318.5" rx="1.3" ry="0.9" transform="rotate(36 268.4 318.5)" fill="#333" opacity="0.7"/>
<ellipse cx="281.4" cy="307.6" rx="2.0" ry="0.3" transform="rotate(50 281.4 307.6)" fill="#ccc" opacity="0.7"/>
<ellipse cx="270.9" cy="317.4" rx="1.0" ry="0.3" transform="rotate(173 270.9 317.4)" fill="#ddd" opacity="0.7"/>
<ellipse cx="273.1" cy="304.2" rx="1.6" ry="0.4" transform="rotate(86 273.1 304.2)" fill="#444" opacity="0.7"/>
<ellipse cx="277.1" cy="304.6" rx="0.7" ry="0.6" transform="rotate(71 277.1 304.6)" fill="#444" opacity="0.7"/>
<ellipse cx="287.8" cy="315.3" rx="1.5" ry="0.3" transform="rotate(129 287.8 315.3)" fill="#222" opacity="0.7"/>
<ellipse cx="284.4" cy="299.3" rx="2.0" ry="0.4" transform="rotate(120 284.4 299.3)" fill="#ddd" opacity="0.7"/>
<ellipse cx="283.9" cy="306.8" rx="1.6" ry="0.7" transform="rotate(2 283.9 306.8)" fill="#555" opacity="0.7"/>
<ellipse cx="286.4" cy="315.4" rx="2.0" ry="0.6" transform="rotate(69 286.4 315.4)" fill="#222" opacity="0.7"/>
<ellipse cx="288.6" cy="308.3" rx="0.7" ry="0.3" transform="rotate(102 288.6 308.3)" fill="#ddd" opacity="0.7"/>
<ellipse cx="282.1" cy="318.1" rx="1.1" ry="0.7" transform="rotate(112 282.1 318.1)" fill="#555" opacity="0.7"/>
<ellipse cx="276.9" cy="320.9" rx="1.5" ry="0.4" transform="rotate(59 276.9 320.9)" fill="#222" opacity="0.7"/>
<ellipse cx="289.4" cy="300.1" rx="1.1" ry="0.6" transform="rotate(38 289.4 300.1)" fill="#ccc" opacity="0.7"/>
<ellipse cx="269.4" cy="322.2" rx="1.6" ry="0.5" transform="rotate(121 269.4 322.2)" fill="#222" opacity="0.7"/>
<ellipse cx="283.6" cy="304.1" rx="1.0" ry="0.4" transform="rotate(89 283.6 304.1)" fill="#555" opacity="0.7"/>
<ellipse cx="268.1" cy="314.6" rx="0.6" ry="0.9" transform="rotate(133 268.1 314.6)" fill="#444" opacity="0.7"/>
<ellipse cx="277.7" cy="318.9" rx="1.3" ry="0.8" transform="rotate(151 277.7 318.9)" fill="#e8e8e8" opacity="0.7"/>
</g></g>
<g clip-path="url(#cp_bridge)"><rect x="235" y="316" width="36" height="13" fill="#3a3a3a"/>
<g filter="url(#gb2)">
</g><g filter="url(#gb)">
<ellipse cx="245.6" cy="318.5" rx="1.6" ry="0.5" transform="rotate(76 245.6 318.5)" fill="#444" opacity="0.7"/>
<ellipse cx="246.6" cy="319.3" rx="1.7" ry="0.6" transform="rotate(32 246.6 319.3)" fill="#222" opacity="0.7"/>
<ellipse cx="243.1" cy="321.9" rx="1.5" ry="0.9" transform="rotate(27 243.1 321.9)" fill="#555" opacity="0.7"/>
<ellipse cx="239.2" cy="319.9" rx="1.1" ry="0.8" transform="rotate(9 239.2 319.9)" fill="#222" opacity="0.7"/>
<ellipse cx="254.0" cy="326.8" rx="2.1" ry="0.4" transform="rotate(64 254.0 326.8)" fill="#222" opacity="0.7"/>
<ellipse cx="250.2" cy="324.4" rx="0.7" ry="0.9" transform="rotate(27 250.2 324.4)" fill="#555" opacity="0.7"/>
<ellipse cx="244.8" cy="326.3" rx="1.4" ry="0.5" transform="rotate(135 244.8 326.3)" fill="#444" opacity="0.7"/>
<ellipse cx="250.8" cy="323.5" rx="1.5" ry="0.8" transform="rotate(173 250.8 323.5)" fill="#444" opacity="0.7"/>
<ellipse cx="260.1" cy="325.7" rx="0.8" ry="0.8" transform="rotate(106 260.1 325.7)" fill="#444" opacity="0.7"/>
<ellipse cx="243.5" cy="318.2" rx="1.3" ry="0.3" transform="rotate(123 243.5 318.2)" fill="#555" opacity="0.7"/>
<ellipse cx="250.0" cy="320.0" rx="1.2" ry="0.9" transform="rotate(81 250.0 320.0)" fill="#e8e8e8" opacity="0.7"/>
<ellipse cx="243.0" cy="321.8" rx="1.4" ry="0.8" transform="rotate(77 243.0 321.8)" fill="#444" opacity="0.7"/>
<ellipse cx="245.6" cy="325.3" rx="1.8" ry="0.4" transform="rotate(144 245.6 325.3)" fill="#555" opacity="0.7"/>
<ellipse cx="241.1" cy="322.6" rx="0.8" ry="0.5" transform="rotate(60 241.1 322.6)" fill="#222" opacity="0.7"/>
<ellipse cx="248.3" cy="322.3" rx="1.5" ry="0.3" transform="rotate(94 248.3 322.3)" fill="#333" opacity="0.7"/>
<ellipse cx="247.2" cy="323.5" rx="0.7" ry="0.6" transform="rotate(171 247.2 323.5)" fill="#555" opacity="0.7"/>
</g></g>
<g clip-path="url(#cp_ring)"><rect x="244" y="302" width="22" height="22" fill="#b4b4b4"/>
<g filter="url(#gb2)">
</g><g filter="url(#gb)">
<ellipse cx="250.3" cy="317.3" rx="2.0" ry="0.4" transform="rotate(67 250.3 317.3)" fill="#e8e8e8" opacity="0.7"/>
<ellipse cx="257.7" cy="310.0" rx="0.7" ry="0.3" transform="rotate(119 257.7 310.0)" fill="#ccc" opacity="0.7"/>
<ellipse cx="261.0" cy="312.9" rx="1.9" ry="0.3" transform="rotate(53 261.0 312.9)" fill="#ccc" opacity="0.7"/>
<ellipse cx="256.4" cy="317.2" rx="1.4" ry="0.6" transform="rotate(148 256.4 317.2)" fill="#222" opacity="0.7"/>
<ellipse cx="256.9" cy="305.7" rx="0.9" ry="0.4" transform="rotate(175 256.9 305.7)" fill="#ccc" opacity="0.7"/>
<ellipse cx="256.0" cy="313.5" rx="1.8" ry="0.4" transform="rotate(112 256.0 313.5)" fill="#ccc" opacity="0.7"/>
<ellipse cx="249.4" cy="308.2" rx="1.0" ry="0.3" transform="rotate(5 249.4 308.2)" fill="#444" opacity="0.7"/>
<ellipse cx="255.8" cy="313.9" rx="2.1" ry="0.9" transform="rotate(30 255.8 313.9)" fill="#333" opacity="0.7"/>
<ellipse cx="263.9" cy="312.7" rx="0.8" ry="0.5" transform="rotate(104 263.9 312.7)" fill="#222" opacity="0.7"/>
<ellipse cx="257.4" cy="321.3" rx="2.0" ry="0.8" transform="rotate(125 257.4 321.3)" fill="#444" opacity="0.7"/>
<ellipse cx="248.7" cy="304.1" rx="1.9" ry="0.6" transform="rotate(131 248.7 304.1)" fill="#e8e8e8" opacity="0.7"/>
<ellipse cx="248.2" cy="311.8" rx="1.7" ry="0.4" transform="rotate(71 248.2 311.8)" fill="#ddd" opacity="0.7"/>
<ellipse cx="250.9" cy="307.6" rx="1.8" ry="0.8" transform="rotate(64 250.9 307.6)" fill="#ccc" opacity="0.7"/>
<ellipse cx="249.1" cy="319.6" rx="1.4" ry="0.3" transform="rotate(52 249.1 319.6)" fill="#ccc" opacity="0.7"/>
<ellipse cx="255.4" cy="313.4" rx="1.7" ry="0.5" transform="rotate(27 255.4 313.4)" fill="#ddd" opacity="0.7"/>
<ellipse cx="252.0" cy="313.5" rx="1.6" ry="0.8" transform="rotate(154 252.0 313.5)" fill="#444" opacity="0.7"/>
<ellipse cx="247.9" cy="317.3" rx="1.6" ry="0.7" transform="rotate(137 247.9 317.3)" fill="#ddd" opacity="0.7"/>
<ellipse cx="262.1" cy="319.0" rx="0.7" ry="0.3" transform="rotate(62 262.1 319.0)" fill="#e8e8e8" opacity="0.7"/>
</g></g>
</g></g>
<path d="M361.6,267 C368,268 374,276 377,286 C379,292 379,298 376,304 C373,309 368,312 362,315 C357,318 353,322 351,328 C349,332 346,333 344,331 C341,326 340,318 340,310 C339,302 339,296 340,291 C342,282 352,268 361.6,267 Z" fill="#e2efd4"/>
<path d="M360,270 C366,271 371,277 373,285 C368,290 360,291 354,288 C352,280 355,272 360,270 Z" fill="#f2f6ee"/>
<path d="M340,293.6 C344,293 347,295 347,298 C346,301 343,302 340,301 Z" fill="#2f6f30"/>
<path d="M347,305 C352,303 358,305 361,310 C359,316 353,319 348,317 C346,313 346,309 347,305 Z" fill="#e6a8cc"/>
<path d="M350,307 C352,305.5 355,307.5 354.5,310.5 C352.5,312 350,310.5 350,307 Z" fill="#c04890"/>
<path d="M366.8,303 C369,302.5 372,303.5 372.5,305.5 C371,308 368,308.5 366.8,307 Z" fill="#8cc070"/>
<path d="M360,308 C362,307.5 365,309 365,311.5 C363,313.5 361,313 360,311 Z" fill="#6aa050"/>
<path d="M341.8,320 C345,319 350,321 351.3,325 C350,329 346,330 343,328 C341.5,325 341.5,322 341.8,320 Z" fill="#2f6f30"/>
<path d="M376,296 C378,295 379.5,297 379,300 C377.5,301 376,300 376,296 Z" fill="#a8d088"/>
<path d="M323,299 C328,298 334,298 337.5,299 C338,304 337.5,308 336,310 C331,310.5 326,310 323,308.5 Z" fill="#2f6f30"/>
<path d="M337.5,301 L340,301 L340,311.6 L337.5,311.6 Z" fill="#8e1a62"/>
<path d="M325,313.5 C328,312.5 332,313 333.5,315 C332.5,318.5 330,321 327,320.5 C325.5,318.5 324.8,316 325,313.5 Z" fill="#c24892"/>
<path d="M331,315 C333,314 335,315 335,317 C333.5,318.5 331.5,318 331,315 Z" fill="#e6a8cc"/>
<path d="M320,334 C328,333 338,336 345,342 C351,347 354,353 353,359 C351,364 346,365 338,364 C330,364 322,364 318,361 C315,354 316,344 320,334 Z" fill="#8e1a62"/>
<path d="M340,344 C346,346 350,350 351,355 C347,356 342,353 340,349 Z" fill="#e6a8cc"/>
<path d="M322,363 C332,363 344,363 352,364 C356,370 360,378 362,386 C362,394 356,399 348,399 C340,399 330,396 326,390 C323,384 322,374 322,363 Z" fill="#2f6f30"/>
<path d="M358,364 C361,363 364,365 365,370 C365,380 364,388 362,393 L359,392 C359,384 358,374 358,364 Z" fill="#2f6f30"/>
<path d="M330,386 C336,385 342,388 346,393 C340,396 334,395 330,392 Z" fill="#a8d088"/>
<path d="M334,392 C342,388 352,387 362,389 C372,392 380,400 382,410 C382,420 376,428 366,431 C356,432 346,428 340,420 C335,412 333,400 334,392 Z" fill="#f0d0e2"/>
<path d="M346,396 C354,393 362,396 366,404 C368,412 366,420 362,425 C356,424 350,416 347,408 C345,402 345,398 346,396 Z" fill="#d47cb2"/>
<path d="M368,406 C374,404 380,408 381,414 C378,418 372,418 368,414 Z" fill="#d4eac0"/>
<path d="M375,379 C384,378 396,378 407,380 C408,386 407,394 405,398 C396,399 386,398 377,397 C375,391 374,385 375,379 Z" fill="#2f6f30"/>
<path d="M404,302 C408,296 414,293 422,292 C430,292 436,295 440,300 C445,308 449,318 451,328 C452,334 452,339 450,342 C444,342 436,341 428,343 C420,346 413,352 410,360 C408,368 406,376 404,382 C401,385 398,383 397,378 C395,370 394,360 393,350 C392,340 393,332 395,324 C397,316 400,308 404,302 Z" fill="#8e1a62"/>
<path d="M416,297 C422,294 430,294 435,297 C439,302 441,309 440,315 C436,320 429,322 422,320 C417,317 414,311 414,305 C414,301 415,299 416,297 Z" fill="#f2dce8"/>
<path d="M424,296 C428,295 432,297 433,300 C430,302 426,301 424,296 Z" fill="#e4f0d8"/>
<path d="M435,304 C438,304 440,308 440,312 C438,313 436,311 435,304 Z" fill="#c8e0b0"/>
<path d="M418,322 C426,321 434,324 438,330 C432,334 424,334 419,330 Z" fill="#e2a6c8"/>
<path d="M404,306 C407,304 410,306 411,310 C409,313 406,313 404,311 Z" fill="#c65a9c"/>
<path d="M398,380 C410,384 424,389 437,393 C441,396 440,401 436,402 C423,400 410,396 400,391 Z" fill="#8e1a62"/>
<path d="M412,364 C418,361 424,364 426,370 C424,376 418,378 413,375 Z" fill="#e2eed4"/>
<path d="M437,373 C441,371 445,373 446,377 C444,381 440,381 437,379 Z" fill="#e8b8d4"/>
<path d="M434,267 C440,266 448,267 451,270 C453,276 452,284 450,292 C447,300 442,302 438,298 C434,294 432,288 432,282 C432,276 432,270 434,267 Z" fill="#eef4e8"/>
<path d="M436,284 C440,282 446,283 448,287 C447,292 444,296 440,296 C437,294 436,290 436,284 Z" fill="#6aa050"/>
<path d="M432,280 C434,279 436,281 435,284 L432,284 Z" fill="#8e1a62"/>
<path d="M446,341 C452,340 460,343 466,348 C472,353 477,358 478,364 C476,368 470,368 464,366 C458,364 452,362 448,358 C445,352 445,346 446,341 Z" fill="#2f6f30"/>
<path d="M466,356 C472,356 478,360 480,368 C480,374 476,378 472,378 C468,374 466,366 466,356 Z" fill="#8e1a62"/>
<path d="M458,356 C462,355 466,357 467,360 C464,362 460,361 458,359 Z" fill="#e8b8d4"/>
<path d="M437,378 C446,374 458,373 470,374 C478,376 483,382 483,390 C482,398 474,402 462,402 C452,402 444,400 440,396 C437,390 436,384 437,378 Z" fill="#2f6f30"/>
<path d="M438,376 C444,372 452,372 458,375 C456,380 448,382 442,382 C439,381 438,379 438,376 Z" fill="#b8dc98"/>
<path d="M452,375 C458,372 464,373 468,376 C464,379 458,380 454,379 Z" fill="#e0f0d0"/>
<path d="M380,390 C384,388 390,390 392,394 C390,398 384,399 380,397 Z" fill="#2f6f30"/>
<rect x="314" y="264" width="172" height="170" fill="url(#dots)"/>
<text x="440.5" y="440.0" font-size="7" fill="#222" text-anchor="middle" font-weight="normal" style="" >Perturbation score</text>
<defs><linearGradient id="pbar" x1="0" y1="0" x2="1" y2="0"><stop offset="0" stop-color="#9c1f6e"/><stop offset="0.5" stop-color="#f8f8f8"/><stop offset="1" stop-color="#2f6e30"/></linearGradient></defs>
<rect x="421.9" y="441.9" width="37.2" height="5.1" fill="url(#pbar)"/>
<text x="420.4" y="453.8" font-size="7" fill="#222" text-anchor="middle" font-weight="normal" style="" >-1</text>
<text x="439.7" y="453.8" font-size="7" fill="#222" text-anchor="middle" font-weight="normal" style="" >0</text>
<text x="458.4" y="453.8" font-size="7" fill="#222" text-anchor="middle" font-weight="normal" style="" >1</text>
<text x="590.0" y="257.0" font-size="7" fill="#333" text-anchor="middle" font-weight="normal" style="font-style:italic;" >Cell fate transition stimulated by MEIS2 KO</text>
<path d="M524.7,354.4 C589.85,354.4 589.85,357.2 655.0,357.2 L655.0,368.2 C589.85,368.2 589.85,365.5 524.7,365.5 Z" fill="#e6a6d4" fill-opacity="0.9"/>
<path d="M524.7,368.8 C589.85,368.8 589.85,368.2 655.0,368.2 L655.0,375.6 C589.85,375.6 589.85,375.8 524.7,375.8 Z" fill="#bfe0a8" fill-opacity="0.9"/>
<path d="M524.7,315.7 C589.85,315.7 589.85,319.3 655.0,319.3 L655.0,354.4 C589.85,354.4 589.85,350.8 524.7,350.8 Z" fill="#aa857a" fill-opacity="0.85"/>
<path d="M524.7,283 C589.85,283 589.85,271.4 655.0,271.4 L655.0,301.9 C589.85,301.9 589.85,313 524.7,313 Z" fill="#5f9cd2" fill-opacity="0.9"/>
<path d="M524.7,265.5 C589.85,265.5 589.85,304 655.0,304 L655.0,319.3 C589.85,319.3 589.85,280.5 524.7,280.5 Z" fill="#c8cf7e" fill-opacity="0.8"/>
<path d="M524.7,266 C589.85,266 589.85,268.6 655.0,268.6" stroke="#c8cf7e" stroke-width="0.8" fill="none" opacity="0.8"/>
<path d="M524.7,312 C589.85,312 589.85,303.5 655.0,303.5" stroke="#5f9cd2" stroke-width="0.6" fill="none" opacity="0.8"/>
<path d="M524.7,281 C589.85,281 589.85,270.5 655.0,270.5" stroke="#2a78bf" stroke-width="0.5" fill="none" opacity="0.8"/>
<path d="M524.7,312.5 C589.85,312.5 589.85,318 655.0,318" stroke="#2a78bf" stroke-width="0.4" fill="none" opacity="0.8"/>
<path d="M524.7,313 C589.85,313 589.85,319 655.0,319" stroke="#2a78bf" stroke-width="0.4" fill="none" opacity="0.8"/>
<path d="M524.7,388.3 C589.85,388.3 589.85,375.6 655.0,375.6 L655.0,386 C589.85,386 589.85,399 524.7,399 Z" fill="#5cb487" fill-opacity="0.9"/>
<path d="M524.7,399 C589.85,399 589.85,394.4 655.0,394.4 L655.0,397.2 C589.85,397.2 589.85,402 524.7,402 Z" fill="#bfe0a8" fill-opacity="0.7"/>
<path d="M524.7,402 C589.85,402 589.85,406.9 655.0,406.9 L655.0,411 C589.85,411 589.85,406 524.7,406 Z" fill="#5cb487" fill-opacity="0.9"/>
<path d="M524.7,406 C589.85,406 589.85,413.8 655.0,413.8 L655.0,418 C589.85,418 589.85,410 524.7,410 Z" fill="#5cb487" fill-opacity="0.9"/>
<path d="M524.7,410 C589.85,410 589.85,448 655.0,448 L655.0,451 C589.85,451 589.85,413.3 524.7,413.3 Z" fill="#5cb487" fill-opacity="0.6"/>
<path d="M524.7,416.6 C589.85,416.6 589.85,418 655.0,418 L655.0,426.6 C589.85,426.6 589.85,423.8 524.7,423.8 Z" fill="#5c8c6c" fill-opacity="0.95"/>
<path d="M524.7,427.2 C589.85,427.2 589.85,434 655.0,434 L655.0,447 C589.85,447 589.85,437.7 524.7,437.7 Z" fill="#f4a870" fill-opacity="0.95"/>
<path d="M524.7,440.5 C589.85,440.5 589.85,447 655.0,447 L655.0,453.5 C589.85,453.5 589.85,445.5 524.7,445.5 Z" fill="#f6df6a" fill-opacity="0.9"/>
<path d="M524.7,379.4 C589.85,379.4 589.85,399.4 655.0,399.4 L655.0,403.6 C589.85,403.6 589.85,381.5 524.7,381.5 Z" fill="#a8acdf" fill-opacity="0.85"/>
<path d="M524.7,381.5 C589.85,381.5 589.85,410 655.0,410 L655.0,413 C589.85,413 589.85,383.5 524.7,383.5 Z" fill="#a8acdf" fill-opacity="0.85"/>
<path d="M524.7,383.5 C589.85,383.5 589.85,428 655.0,428 L655.0,431.6 C589.85,431.6 589.85,385.5 524.7,385.5 Z" fill="#a8acdf" fill-opacity="0.85"/>
<path d="M524.7,447.7 C589.85,447.7 589.85,386 655.0,386 L655.0,391.6 C589.85,391.6 589.85,453.2 524.7,453.2 Z" fill="#e07070" fill-opacity="0.9"/>
<path d="M524.7,456.3 C589.85,456.3 589.85,457.7 655.0,457.7 L655.0,462.7 C589.85,462.7 589.85,462.7 524.7,462.7 Z" fill="#70d3e2" fill-opacity="0.9"/>
<path d="M524.7,360 C589.85,360 589.85,455 655.0,455" stroke="#d070b0" stroke-width="0.5" fill="none" opacity="0.8"/>
<path d="M524.7,372 C589.85,372 589.85,420 655.0,420" stroke="#90c870" stroke-width="0.4" fill="none" opacity="0.8"/>
<path d="M524.7,395 C589.85,395 589.85,430.5 655.0,430.5" stroke="#2a9a5e" stroke-width="0.5" fill="none" opacity="0.8"/>
<path d="M524.7,404 C589.85,404 589.85,456 655.0,456" stroke="#2a9a5e" stroke-width="0.5" fill="none" opacity="0.8"/>
<path d="M524.7,430 C589.85,430 589.85,395 655.0,395" stroke="#f0802a" stroke-width="0.6" fill="none" opacity="0.8"/>
<path d="M524.7,433 C589.85,433 589.85,405 655.0,405" stroke="#f0802a" stroke-width="0.5" fill="none" opacity="0.8"/>
<path d="M524.7,442 C589.85,442 589.85,390 655.0,390" stroke="#f2d020" stroke-width="0.5" fill="none" opacity="0.8"/>
<path d="M524.7,444 C589.85,444 589.85,459 655.0,459" stroke="#f2d020" stroke-width="0.6" fill="none" opacity="0.8"/>
<path d="M524.7,458 C589.85,458 589.85,434 655.0,434" stroke="#30bfd6" stroke-width="0.5" fill="none" opacity="0.8"/>
<path d="M524.7,459 C589.85,459 589.85,440 655.0,440" stroke="#30bfd6" stroke-width="0.5" fill="none" opacity="0.8"/>
<path d="M524.7,457 C589.85,457 589.85,398 655.0,398" stroke="#30bfd6" stroke-width="0.4" fill="none" opacity="0.8"/>
<path d="M524.7,449 C589.85,449 589.85,430 655.0,430" stroke="#d83a3a" stroke-width="0.4" fill="none" opacity="0.8"/>
<rect x="521.9" y="265.5" width="2.800000000000068" height="15.0" fill="#b5bd4a"/>
<text x="520.0" y="275.2" font-size="7" fill="#222" text-anchor="end" font-weight="normal" style="" >MPC</text>
<rect x="521.9" y="283" width="2.800000000000068" height="30" fill="#2a78bf"/>
<text x="520.0" y="303.0" font-size="7" fill="#222" text-anchor="end" font-weight="normal" style="" >Acinar</text>
<rect x="521.9" y="315.7" width="2.800000000000068" height="35.10000000000002" fill="#8a5848"/>
<text x="520.0" y="338.2" font-size="7" fill="#222" text-anchor="end" font-weight="normal" style="" >Ductal</text>
<rect x="521.9" y="354.4" width="2.800000000000068" height="11.100000000000023" fill="#d560b0"/>
<text x="520.0" y="360.5" font-size="7" fill="#222" text-anchor="end" font-weight="normal" style="" >NGN3</text>
<rect x="521.9" y="368.8" width="2.800000000000068" height="7.0" fill="#8fcf70"/>
<text x="520.0" y="374.8" font-size="7" fill="#222" text-anchor="end" font-weight="normal" style="" >FEV</text>
<rect x="521.9" y="379.4" width="2.800000000000068" height="6.100000000000023" fill="#7078d0"/>
<text x="520.0" y="385.5" font-size="7" fill="#222" text-anchor="end" font-weight="normal" style="" >PEC</text>
<rect x="521.9" y="388.3" width="2.800000000000068" height="25.0" fill="#2a9a5e"/>
<text x="520.0" y="404.1" font-size="7" fill="#222" text-anchor="end" font-weight="bold" style="" >Beta,1</text>
<rect x="521.9" y="416.6" width="2.800000000000068" height="7.199999999999989" fill="#1e5a3a"/>
<text x="520.0" y="422.7" font-size="7" fill="#222" text-anchor="end" font-weight="bold" style="" >Beta,0</text>
<rect x="521.9" y="427.2" width="2.800000000000068" height="10.5" fill="#f0802a"/>
<text x="520.0" y="434.7" font-size="7" fill="#222" text-anchor="end" font-weight="normal" style="" >Alpha,1</text>
<rect x="521.9" y="440.5" width="2.800000000000068" height="5.0" fill="#f2d020"/>
<text x="520.0" y="446.3" font-size="7" fill="#222" text-anchor="end" font-weight="normal" style="" >Alpha,0</text>
<rect x="521.9" y="447.7" width="2.800000000000068" height="5.5" fill="#d83a3a"/>
<text x="520.0" y="453.5" font-size="7" fill="#222" text-anchor="end" font-weight="normal" style="" >Delta</text>
<rect x="521.9" y="456.3" width="2.800000000000068" height="6.399999999999977" fill="#30bfd6"/>
<text x="520.0" y="462.4" font-size="7" fill="#222" text-anchor="end" font-weight="normal" style="" >PP</text>
<rect x="655.0" y="267.8" width="2.7999999999999545" height="1.3999999999999773" fill="#b5bd4a"/>
<text x="660.6" y="271.1" font-size="7" fill="#222" text-anchor="start" font-weight="normal" style="" >MPC</text>
<rect x="655.0" y="271.4" width="2.7999999999999545" height="30.5" fill="#2a78bf"/>
<text x="660.6" y="289.7" font-size="7" fill="#222" text-anchor="start" font-weight="normal" style="" >Acinar</text>
<rect x="655.0" y="304" width="2.7999999999999545" height="50.39999999999998" fill="#8a5848"/>
<text x="660.6" y="334.3" font-size="7" fill="#222" text-anchor="start" font-weight="normal" style="" >Ductal</text>
<rect x="655.0" y="357.2" width="2.7999999999999545" height="34.400000000000034" fill="#d560b0"/>
<text x="660.6" y="372.5" font-size="7" fill="#222" text-anchor="start" font-weight="normal" style="" >NGN3</text>
<rect x="655.0" y="394.4" width="2.7999999999999545" height="2.8000000000000114" fill="#8fcf70"/>
<text x="660.6" y="398.3" font-size="7" fill="#222" text-anchor="start" font-weight="normal" style="" >FEV</text>
<rect x="655.0" y="399.4" width="2.7999999999999545" height="4.2000000000000455" fill="#7078d0"/>
<text x="660.6" y="404.5" font-size="7" fill="#222" text-anchor="start" font-weight="normal" style="" >PEC</text>
<rect x="655.0" y="406.9" width="2.7999999999999545" height="4.100000000000023" fill="#2a9a5e"/>
<text x="660.6" y="412.2" font-size="7" fill="#222" text-anchor="start" font-weight="normal" style="" >Beta,1</text>
<rect x="655.0" y="413.8" width="2.7999999999999545" height="12.800000000000011" fill="#1e5a3a"/>
<text x="660.6" y="422.5" font-size="7" fill="#222" text-anchor="start" font-weight="normal" style="" >Beta,0</text>
<rect x="655.0" y="430" width="2.7999999999999545" height="1.6000000000000227" fill="#f0802a"/>
<text x="660.6" y="433.0" font-size="7" fill="#222" text-anchor="start" font-weight="normal" style="" >Alpha,1</text>
<rect x="655.0" y="434" width="2.7999999999999545" height="19.5" fill="#f2d020"/>
<text x="660.6" y="445.7" font-size="7" fill="#222" text-anchor="start" font-weight="normal" style="" >Alpha,0</text>
<rect x="655.0" y="457.7" width="2.7999999999999545" height="5.0" fill="#30bfd6"/>
<text x="660.6" y="462.5" font-size="7" fill="#222" text-anchor="start" font-weight="normal" style="" >PP</text>
</svg></body></html>
